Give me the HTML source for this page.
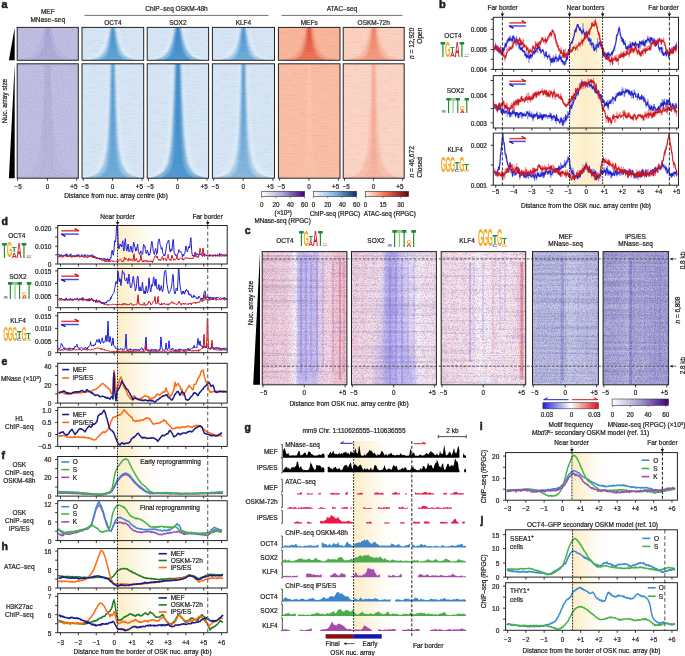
<!DOCTYPE html>
<html><head><meta charset="utf-8"><style>
html,body{margin:0;padding:0;background:#fff;width:685px;height:656px;overflow:hidden}
svg{display:block;font-family:"Liberation Sans",sans-serif;will-change:transform}
text{stroke:#231f20;stroke-width:0.22px;paint-order:stroke}
text.lg{stroke:none}
text.pl{stroke-width:0.55px}
</style></head><body>
<svg width="685" height="656" viewBox="0 0 685 656" font-family='"Liberation Sans", sans-serif' fill="#231f20"><defs><filter id="bl4" x="-20%" y="-5%" width="140%" height="110%"><feGaussianBlur stdDeviation="0.4 0.3"/></filter><filter id="bl6" x="-20%" y="-5%" width="140%" height="110%"><feGaussianBlur stdDeviation="0.6 0.3"/></filter><filter id="bl8" x="-20%" y="-5%" width="140%" height="110%"><feGaussianBlur stdDeviation="0.8 0.3"/></filter><filter id="bl10" x="-20%" y="-5%" width="140%" height="110%"><feGaussianBlur stdDeviation="1.0 0.3"/></filter><filter id="bl12" x="-20%" y="-5%" width="140%" height="110%"><feGaussianBlur stdDeviation="1.2 0.3"/></filter><filter id="bl15" x="-20%" y="-5%" width="140%" height="110%"><feGaussianBlur stdDeviation="1.5 0.3"/></filter><filter id="bl20" x="-20%" y="-5%" width="140%" height="110%"><feGaussianBlur stdDeviation="2.0 0.3"/></filter><filter id="grA" x="0" y="0" width="100%" height="100%" color-interpolation-filters="sRGB"><feTurbulence type="fractalNoise" baseFrequency="0.1 0.9" numOctaves="2" seed="21" result="n"/><feColorMatrix in="n" type="matrix" values="0 0 0 0 0.000 0 0 0 0 0.000 0 0 0 0 0.000 1.2 0 0 0 -0.600" result="a"/><feColorMatrix in="n" type="matrix" values="0 0 0 0 1.000 0 0 0 0 1.000 0 0 0 0 1.000 -1.2 0 0 0 0.600" result="b"/><feMerge><feMergeNode in="a"/><feMergeNode in="b"/></feMerge></filter><filter id="grB" x="0" y="0" width="100%" height="100%" color-interpolation-filters="sRGB"><feTurbulence type="fractalNoise" baseFrequency="0.1 0.9" numOctaves="2" seed="25" result="n"/><feColorMatrix in="n" type="matrix" values="0 0 0 0 0.157 0 0 0 0 0.392 0 0 0 0 0.667 1.3 0 0 0 -0.650" result="a"/><feColorMatrix in="n" type="matrix" values="0 0 0 0 1.000 0 0 0 0 1.000 0 0 0 0 1.000 -1.3 0 0 0 0.650" result="b"/><feMerge><feMergeNode in="a"/><feMergeNode in="b"/></feMerge></filter><filter id="grR" x="0" y="0" width="100%" height="100%" color-interpolation-filters="sRGB"><feTurbulence type="fractalNoise" baseFrequency="0.1 0.9" numOctaves="2" seed="27" result="n"/><feColorMatrix in="n" type="matrix" values="0 0 0 0 0.843 0 0 0 0 0.275 0 0 0 0 0.176 1.4 0 0 0 -0.700" result="a"/><feColorMatrix in="n" type="matrix" values="0 0 0 0 1.000 0 0 0 0 0.941 0 0 0 0 0.902 -1.4 0 0 0 0.700" result="b"/><feMerge><feMergeNode in="a"/><feMergeNode in="b"/></feMerge></filter><filter id="grM" x="0" y="0" width="100%" height="100%" color-interpolation-filters="sRGB"><feTurbulence type="fractalNoise" baseFrequency="0.6 0.9" numOctaves="2" seed="23" result="n"/><feColorMatrix in="n" type="matrix" values="0 0 0 0 0.235 0 0 0 0 0.196 0 0 0 0 0.549 1.4 0 0 0 -0.700" result="a"/><feColorMatrix in="n" type="matrix" values="0 0 0 0 1.000 0 0 0 0 1.000 0 0 0 0 1.000 -1.4 0 0 0 0.700" result="b"/><feMerge><feMergeNode in="a"/><feMergeNode in="b"/></feMerge></filter><clipPath id="hc1"><rect x="17.2" y="27.4" width="61.099999999999994" height="32.9"/></clipPath><linearGradient id="vg1" x1="0" x2="0" y1="0" y2="1"><stop offset="0" stop-color="rgb(180,178,219)"/><stop offset="1" stop-color="rgb(184,182,221)"/></linearGradient><linearGradient id="vg2" x1="0" x2="0" y1="0" y2="1"><stop offset="0" stop-color="rgb(166,163,211)"/><stop offset="1" stop-color="rgb(175,173,216)"/></linearGradient><clipPath id="hc2"><rect x="17.2" y="63.8" width="61.099999999999994" height="114.39999999999999"/></clipPath><linearGradient id="vg3" x1="0" x2="0" y1="0" y2="1"><stop offset="0" stop-color="rgb(186,185,223)"/><stop offset="1" stop-color="rgb(188,187,224)"/></linearGradient><linearGradient id="vg4" x1="0" x2="0" y1="0" y2="1"><stop offset="0" stop-color="rgb(181,179,220)"/><stop offset="1" stop-color="rgb(185,183,222)"/></linearGradient><clipPath id="hc3"><rect x="82.0" y="27.4" width="61.69999999999999" height="32.9"/></clipPath><linearGradient id="vg5" x1="0" x2="0" y1="0" y2="1"><stop offset="0" stop-color="rgb(222,235,248)"/><stop offset="1" stop-color="rgb(222,235,248)"/></linearGradient><linearGradient id="vg6" x1="0" x2="0" y1="0" y2="1"><stop offset="0" stop-color="rgb(125,180,220)"/><stop offset="1" stop-color="rgb(160,200,230)"/></linearGradient><linearGradient id="vg7" x1="0" x2="0" y1="0" y2="1"><stop offset="0" stop-color="rgb(60,140,200)"/><stop offset="1" stop-color="rgb(100,165,212)"/></linearGradient><clipPath id="hc4"><rect x="82.0" y="63.8" width="61.69999999999999" height="114.39999999999999"/></clipPath><linearGradient id="vg8" x1="0" x2="0" y1="0" y2="1"><stop offset="0" stop-color="rgb(222,235,248)"/><stop offset="1" stop-color="rgb(222,235,248)"/></linearGradient><linearGradient id="vg9" x1="0" x2="0" y1="0" y2="1"><stop offset="0" stop-color="rgb(125,180,220)"/><stop offset="1" stop-color="rgb(155,198,230)"/></linearGradient><linearGradient id="vg10" x1="0" x2="0" y1="0" y2="1"><stop offset="0" stop-color="rgb(75,150,205)"/><stop offset="1" stop-color="rgb(112,172,216)"/></linearGradient><clipPath id="hc5"><rect x="147.2" y="27.4" width="61.400000000000006" height="32.9"/></clipPath><linearGradient id="vg11" x1="0" x2="0" y1="0" y2="1"><stop offset="0" stop-color="rgb(222,235,248)"/><stop offset="1" stop-color="rgb(222,235,248)"/></linearGradient><linearGradient id="vg12" x1="0" x2="0" y1="0" y2="1"><stop offset="0" stop-color="rgb(105,168,214)"/><stop offset="1" stop-color="rgb(140,188,225)"/></linearGradient><linearGradient id="vg13" x1="0" x2="0" y1="0" y2="1"><stop offset="0" stop-color="rgb(50,132,197)"/><stop offset="1" stop-color="rgb(80,152,208)"/></linearGradient><clipPath id="hc6"><rect x="147.2" y="63.8" width="61.400000000000006" height="114.39999999999999"/></clipPath><linearGradient id="vg14" x1="0" x2="0" y1="0" y2="1"><stop offset="0" stop-color="rgb(222,235,248)"/><stop offset="1" stop-color="rgb(222,235,248)"/></linearGradient><linearGradient id="vg15" x1="0" x2="0" y1="0" y2="1"><stop offset="0" stop-color="rgb(105,168,214)"/><stop offset="1" stop-color="rgb(125,180,220)"/></linearGradient><linearGradient id="vg16" x1="0" x2="0" y1="0" y2="1"><stop offset="0" stop-color="rgb(55,135,198)"/><stop offset="1" stop-color="rgb(80,152,208)"/></linearGradient><clipPath id="hc7"><rect x="212.4" y="27.4" width="62.099999999999994" height="32.9"/></clipPath><linearGradient id="vg17" x1="0" x2="0" y1="0" y2="1"><stop offset="0" stop-color="rgb(222,235,248)"/><stop offset="1" stop-color="rgb(222,235,248)"/></linearGradient><linearGradient id="vg18" x1="0" x2="0" y1="0" y2="1"><stop offset="0" stop-color="rgb(135,186,223)"/><stop offset="1" stop-color="rgb(170,206,233)"/></linearGradient><linearGradient id="vg19" x1="0" x2="0" y1="0" y2="1"><stop offset="0" stop-color="rgb(65,143,202)"/><stop offset="1" stop-color="rgb(115,174,217)"/></linearGradient><clipPath id="hc8"><rect x="212.4" y="63.8" width="62.099999999999994" height="114.39999999999999"/></clipPath><linearGradient id="vg20" x1="0" x2="0" y1="0" y2="1"><stop offset="0" stop-color="rgb(222,235,248)"/><stop offset="1" stop-color="rgb(222,235,248)"/></linearGradient><linearGradient id="vg21" x1="0" x2="0" y1="0" y2="1"><stop offset="0" stop-color="rgb(140,189,224)"/><stop offset="1" stop-color="rgb(170,206,233)"/></linearGradient><linearGradient id="vg22" x1="0" x2="0" y1="0" y2="1"><stop offset="0" stop-color="rgb(70,146,203)"/><stop offset="1" stop-color="rgb(135,185,222)"/></linearGradient><clipPath id="hc9"><rect x="278.4" y="27.4" width="61.60000000000002" height="32.9"/></clipPath><linearGradient id="vg23" x1="0" x2="0" y1="0" y2="1"><stop offset="0" stop-color="rgb(240,145,120)"/><stop offset="1" stop-color="rgb(243,158,133)"/></linearGradient><linearGradient id="vg24" x1="0" x2="0" y1="0" y2="1"><stop offset="0" stop-color="rgb(226,72,50)"/><stop offset="1" stop-color="rgb(236,118,92)"/></linearGradient><clipPath id="hc10"><rect x="278.4" y="63.8" width="61.60000000000002" height="114.39999999999999"/></clipPath><linearGradient id="vg25" x1="0" x2="0" y1="0" y2="1"><stop offset="0" stop-color="rgb(251,200,180)"/><stop offset="1" stop-color="rgb(249,192,168)"/></linearGradient><clipPath id="hc11"><rect x="343.2" y="27.4" width="61.0" height="32.9"/></clipPath><linearGradient id="vg26" x1="0" x2="0" y1="0" y2="1"><stop offset="0" stop-color="rgb(246,178,155)"/><stop offset="1" stop-color="rgb(247,185,163)"/></linearGradient><linearGradient id="vg27" x1="0" x2="0" y1="0" y2="1"><stop offset="0" stop-color="rgb(238,122,92)"/><stop offset="1" stop-color="rgb(243,160,132)"/></linearGradient><clipPath id="hc12"><rect x="343.2" y="63.8" width="61.0" height="114.39999999999999"/></clipPath><linearGradient id="vg28" x1="0" x2="0" y1="0" y2="1"><stop offset="0" stop-color="rgb(248,198,182)"/><stop offset="1" stop-color="rgb(247,190,172)"/></linearGradient><linearGradient id="vg29" x1="0" x2="0" y1="0" y2="1"><stop offset="0" stop-color="rgb(240,150,125)"/><stop offset="1" stop-color="rgb(245,182,162)"/></linearGradient><linearGradient id="g_pur" x1="0" x2="1" y1="0" y2="0"><stop offset="0" stop-color="#ffffff"/><stop offset="0.5" stop-color="#a9a3d6"/><stop offset="1" stop-color="#3f007d"/></linearGradient><linearGradient id="g_blu" x1="0" x2="1" y1="0" y2="0"><stop offset="0" stop-color="#f7fbff"/><stop offset="0.5" stop-color="#7fb5dc"/><stop offset="1" stop-color="#08306b"/></linearGradient><linearGradient id="g_red" x1="0" x2="1" y1="0" y2="0"><stop offset="0" stop-color="#fff5f0"/><stop offset="0.45" stop-color="#fb7050"/><stop offset="1" stop-color="#67000d"/></linearGradient><linearGradient id="yb55" x1="0" x2="1" y1="0" y2="0"><stop offset="0" stop-color="rgb(253,245,222)"/><stop offset="0.5" stop-color="rgb(252,237,198)"/><stop offset="1" stop-color="rgb(253,245,222)"/></linearGradient><clipPath id="cb1"><rect x="493.3" y="17.3" width="185.2" height="52.1"/></clipPath><clipPath id="cb2"><rect x="493.3" y="75.6" width="185.2" height="52.4"/></clipPath><clipPath id="cb3"><rect x="493.3" y="133.1" width="185.2" height="52.1"/></clipPath><linearGradient id="ybL" x1="0" x2="1" y1="0" y2="0"><stop offset="0" stop-color="rgb(252,237,198)"/><stop offset="0.35" stop-color="rgb(253,245,224)"/><stop offset="1" stop-color="#fff" stop-opacity="0"/></linearGradient><clipPath id="cld1"><rect x="57.7" y="225.5" width="169.5" height="38.5"/></clipPath><clipPath id="cld2"><rect x="57.7" y="268.5" width="169.5" height="39.19999999999999"/></clipPath><clipPath id="cld3"><rect x="57.7" y="312.6" width="169.5" height="40.099999999999966"/></clipPath><clipPath id="cle1"><rect x="57.7" y="363.3" width="169.5" height="39.80000000000001"/></clipPath><clipPath id="cle2"><rect x="57.7" y="407.3" width="169.5" height="39.099999999999966"/></clipPath><clipPath id="clf1"><rect x="57.7" y="456.5" width="169.5" height="39.60000000000002"/></clipPath><clipPath id="clf2"><rect x="57.7" y="500.7" width="169.5" height="39.900000000000034"/></clipPath><clipPath id="clh1"><rect x="57.7" y="548.6" width="169.5" height="39.39999999999998"/></clipPath><clipPath id="clh2"><rect x="57.7" y="593.6" width="169.5" height="39.10000000000002"/></clipPath><filter id="rowS0" x="0" y="0" width="100%" height="100%" color-interpolation-filters="sRGB"><feTurbulence type="fractalNoise" baseFrequency="0.006 0.45" numOctaves="2" seed="31" result="n"/><feColorMatrix in="n" type="matrix" values="0 0 0 0 0.235 0 0 0 0 0.235 0 0 0 0 0.471 2.5 0 0 0 -1.250" result="a"/><feColorMatrix in="n" type="matrix" values="0 0 0 0 1.000 0 0 0 0 1.000 0 0 0 0 1.000 -2.5 0 0 0 1.250" result="b"/><feMerge><feMergeNode in="a"/><feMergeNode in="b"/></feMerge></filter><filter id="rowS1" x="0" y="0" width="100%" height="100%" color-interpolation-filters="sRGB"><feTurbulence type="fractalNoise" baseFrequency="0.006 0.45" numOctaves="2" seed="37" result="n"/><feColorMatrix in="n" type="matrix" values="0 0 0 0 0.235 0 0 0 0 0.235 0 0 0 0 0.471 2.5 0 0 0 -1.250" result="a"/><feColorMatrix in="n" type="matrix" values="0 0 0 0 1.000 0 0 0 0 1.000 0 0 0 0 1.000 -2.5 0 0 0 1.250" result="b"/><feMerge><feMergeNode in="a"/><feMergeNode in="b"/></feMerge></filter><filter id="nrb1" x="0" y="0" width="100%" height="100%" color-interpolation-filters="sRGB"><feTurbulence type="fractalNoise" baseFrequency="0.9 1.6" numOctaves="2" seed="3" result="n"/><feColorMatrix in="n" type="matrix" values="0 0 0 0 0.882 0 0 0 0 0.196 0 0 0 0 0.235 4.0 0 0 0 -2.000" result="a"/><feColorMatrix in="n" type="matrix" values="0 0 0 0 0.235 0 0 0 0 0.235 0 0 0 0 0.902 -4.0 0 0 0 2.000" result="b"/><feMerge><feMergeNode in="a"/><feMergeNode in="b"/></feMerge></filter><filter id="nrb2" x="0" y="0" width="100%" height="100%" color-interpolation-filters="sRGB"><feTurbulence type="fractalNoise" baseFrequency="0.9 1.6" numOctaves="2" seed="11" result="n"/><feColorMatrix in="n" type="matrix" values="0 0 0 0 0.882 0 0 0 0 0.196 0 0 0 0 0.235 4.0 0 0 0 -2.000" result="a"/><feColorMatrix in="n" type="matrix" values="0 0 0 0 0.235 0 0 0 0 0.235 0 0 0 0 0.902 -4.0 0 0 0 2.000" result="b"/><feMerge><feMergeNode in="a"/><feMergeNode in="b"/></feMerge></filter><filter id="nrb3" x="0" y="0" width="100%" height="100%" color-interpolation-filters="sRGB"><feTurbulence type="fractalNoise" baseFrequency="0.9 1.6" numOctaves="2" seed="17" result="n"/><feColorMatrix in="n" type="matrix" values="0 0 0 0 0.882 0 0 0 0 0.196 0 0 0 0 0.235 4.0 0 0 0 -2.000" result="a"/><feColorMatrix in="n" type="matrix" values="0 0 0 0 0.235 0 0 0 0 0.235 0 0 0 0 0.902 -4.0 0 0 0 2.000" result="b"/><feMerge><feMergeNode in="a"/><feMergeNode in="b"/></feMerge></filter><filter id="npu1" x="0" y="0" width="100%" height="100%" color-interpolation-filters="sRGB"><feTurbulence type="fractalNoise" baseFrequency="0.9 1.6" numOctaves="2" seed="5" result="n"/><feColorMatrix in="n" type="matrix" values="0 0 0 0 0.275 0 0 0 0 0.235 0 0 0 0 0.627 3.0 0 0 0 -1.500" result="a"/><feColorMatrix in="n" type="matrix" values="0 0 0 0 1.000 0 0 0 0 1.000 0 0 0 0 1.000 -3.0 0 0 0 1.500" result="b"/><feMerge><feMergeNode in="a"/><feMergeNode in="b"/></feMerge></filter><filter id="npu2" x="0" y="0" width="100%" height="100%" color-interpolation-filters="sRGB"><feTurbulence type="fractalNoise" baseFrequency="0.9 1.6" numOctaves="2" seed="9" result="n"/><feColorMatrix in="n" type="matrix" values="0 0 0 0 0.235 0 0 0 0 0.196 0 0 0 0 0.588 3.0 0 0 0 -1.500" result="a"/><feColorMatrix in="n" type="matrix" values="0 0 0 0 1.000 0 0 0 0 1.000 0 0 0 0 1.000 -3.0 0 0 0 1.500" result="b"/><feMerge><feMergeNode in="a"/><feMergeNode in="b"/></feMerge></filter><filter id="sb1" x="-50%" y="0" width="200%" height="100%"><feGaussianBlur stdDeviation="0.7 0"/></filter><filter id="pb2" x="-30%" y="-10%" width="160%" height="120%"><feGaussianBlur stdDeviation="3 2"/></filter><clipPath id="cc0"><rect x="262.2" y="251.6" width="84.69999999999999" height="133.20000000000002"/></clipPath><linearGradient id="cg0" x1="0" x2="1" y1="0" y2="0"><stop offset="0" stop-color="rgb(232,130,150)" stop-opacity="0.32"/><stop offset="0.3" stop-color="rgb(232,130,150)" stop-opacity="0.22"/><stop offset="0.36" stop-color="#fff" stop-opacity="0.4"/><stop offset="0.4" stop-color="#fff" stop-opacity="0.6"/><stop offset="0.43" stop-color="rgb(120,120,238)" stop-opacity="0.4"/><stop offset="0.62" stop-color="rgb(120,120,238)" stop-opacity="0.35"/><stop offset="0.75" stop-color="rgb(232,130,150)" stop-opacity="0.15"/><stop offset="0.9" stop-color="rgb(232,130,150)" stop-opacity="0.35"/><stop offset="1" stop-color="rgb(232,130,150)" stop-opacity="0.3"/></linearGradient><clipPath id="cc1"><rect x="351.5" y="251.6" width="84.89999999999998" height="133.20000000000002"/></clipPath><linearGradient id="cg1" x1="0" x2="1" y1="0" y2="0"><stop offset="0" stop-color="rgb(232,130,150)" stop-opacity="0.22"/><stop offset="0.3" stop-color="rgb(232,130,150)" stop-opacity="0.12"/><stop offset="0.37" stop-color="#fff" stop-opacity="0.4"/><stop offset="0.42" stop-color="rgb(120,120,238)" stop-opacity="0.14"/><stop offset="0.68" stop-color="rgb(120,120,238)" stop-opacity="0.12"/><stop offset="0.78" stop-color="#fff" stop-opacity="0.25"/><stop offset="1" stop-color="rgb(232,130,150)" stop-opacity="0.05"/></linearGradient><clipPath id="cc2"><rect x="441.2" y="251.6" width="84.50000000000006" height="133.20000000000002"/></clipPath><linearGradient id="cg2" x1="0" x2="1" y1="0" y2="0"><stop offset="0" stop-color="rgb(232,130,150)" stop-opacity="0.15"/><stop offset="0.3" stop-color="rgb(232,130,150)" stop-opacity="0.08"/><stop offset="0.4" stop-color="#fff" stop-opacity="0.3"/><stop offset="0.55" stop-color="#fff" stop-opacity="0.3"/><stop offset="0.7" stop-color="rgb(232,130,150)" stop-opacity="0.05"/><stop offset="1" stop-color="rgb(232,130,150)" stop-opacity="0.12"/></linearGradient><clipPath id="cc3"><rect x="532.5" y="251.6" width="65.89999999999998" height="133.20000000000002"/></clipPath><linearGradient id="cg3" x1="0" x2="1" y1="0" y2="0"><stop offset="0" stop-color="#fff" stop-opacity="0"/><stop offset="0.45" stop-color="#fff" stop-opacity="0.0"/><stop offset="0.55" stop-color="#fff" stop-opacity="0.2"/><stop offset="0.8" stop-color="#fff" stop-opacity="0.08"/><stop offset="1" stop-color="#fff" stop-opacity="0"/></linearGradient><clipPath id="cc4"><rect x="603.1" y="251.6" width="65.5" height="133.20000000000002"/></clipPath><linearGradient id="cg4" x1="0" x2="1" y1="0" y2="0"><stop offset="0" stop-color="#fff" stop-opacity="0"/><stop offset="0.3" stop-color="#fff" stop-opacity="0.1"/><stop offset="0.38" stop-color="#fff" stop-opacity="0.25"/><stop offset="0.43" stop-color="#fff" stop-opacity="0.05"/><stop offset="0.6" stop-color="#fff" stop-opacity="0.12"/><stop offset="0.75" stop-color="#fff" stop-opacity="0.05"/><stop offset="1" stop-color="#fff" stop-opacity="0"/></linearGradient><linearGradient id="g_div" x1="0" x2="1" y1="0" y2="0"><stop offset="0" stop-color="#1e1ee6"/><stop offset="0.5" stop-color="#ffffff"/><stop offset="1" stop-color="#e60f1e"/></linearGradient><linearGradient id="g_pur2" x1="0" x2="1" y1="0" y2="0"><stop offset="0" stop-color="#ffffff"/><stop offset="0.5" stop-color="#9e9ad0"/><stop offset="1" stop-color="#3f007d"/></linearGradient><linearGradient id="ybG" x1="0" x2="1" y1="0" y2="0"><stop offset="0" stop-color="rgb(252,237,198)"/><stop offset="0.35" stop-color="rgb(253,245,224)"/><stop offset="1" stop-color="#fff" stop-opacity="0"/></linearGradient><linearGradient id="ybI" x1="0" x2="1" y1="0" y2="0"><stop offset="0" stop-color="rgb(252,237,198)"/><stop offset="0.35" stop-color="rgb(253,245,224)"/><stop offset="1" stop-color="#fff" stop-opacity="0"/></linearGradient><linearGradient id="ybJ" x1="0" x2="1" y1="0" y2="0"><stop offset="0" stop-color="rgb(252,237,198)"/><stop offset="0.35" stop-color="rgb(253,245,224)"/><stop offset="1" stop-color="#fff" stop-opacity="0"/></linearGradient><clipPath id="cli"><rect x="505.6" y="452.6" width="171.79999999999995" height="47.599999999999966"/></clipPath><clipPath id="clj1"><rect x="505.6" y="529.8" width="171.79999999999995" height="47.30000000000007"/></clipPath><clipPath id="clj2"><rect x="505.6" y="582.7" width="171.79999999999995" height="47.59999999999991"/></clipPath></defs><text x="1.50" y="8.20" font-size="10.8" font-weight="bold" class="pl">a</text>
<text x="47.75" y="14.20" font-size="6.5" text-anchor="middle">MEF</text>
<text x="47.75" y="21.60" font-size="6.5" text-anchor="middle">MNase–seq</text>
<text x="176.50" y="11.20" font-size="6.5" text-anchor="middle">ChIP–seq OSKM-48h</text>
<line x1="84.50" y1="15.40" x2="268.50" y2="15.40" stroke="#333" stroke-width="0.7"/>
<text x="342.00" y="11.20" font-size="6.5" text-anchor="middle">ATAC–seq</text>
<line x1="281.50" y1="15.40" x2="402.50" y2="15.40" stroke="#333" stroke-width="0.7"/>
<text x="112.85" y="25.20" font-size="6.5" text-anchor="middle">OCT4</text>
<text x="177.90" y="25.20" font-size="6.5" text-anchor="middle">SOX2</text>
<text x="243.45" y="25.20" font-size="6.5" text-anchor="middle">KLF4</text>
<text x="309.20" y="25.20" font-size="6.5" text-anchor="middle">MEFs</text>
<text x="373.70" y="25.20" font-size="6.5" text-anchor="middle">OSKM-72h</text>
<g clip-path="url(#hc1)">
<rect x="17.20" y="27.40" width="61.10" height="32.90" fill="rgb(191,190,225)"/>
<g filter="url(#bl7)">
<path d="M44.05,27.40 L43.87,28.24 L43.68,29.09 L43.50,29.93 L43.31,30.77 L43.13,31.62 L42.94,32.46 L42.76,33.31 L42.57,34.15 L42.39,34.99 L42.19,35.84 L41.94,36.68 L41.70,37.52 L41.45,38.37 L41.20,39.21 L40.96,40.05 L40.71,40.90 L40.47,41.74 L40.22,42.58 L39.97,43.43 L39.64,44.27 L39.22,45.12 L38.79,45.96 L38.37,46.80 L37.95,47.65 L37.52,48.49 L37.10,49.33 L36.68,50.18 L35.98,51.02 L35.16,51.86 L34.33,52.71 L33.51,53.55 L32.69,54.39 L31.87,55.24 L30.12,56.08 L28.19,56.93 L26.27,57.77 L22.94,58.61 L19.10,59.46 L15.25,60.30 L80.25,60.30 L76.40,59.46 L72.56,58.61 L69.23,57.77 L67.31,56.93 L65.38,56.08 L63.63,55.24 L62.81,54.39 L61.99,53.55 L61.17,52.71 L60.34,51.86 L59.52,51.02 L58.82,50.18 L58.40,49.33 L57.98,48.49 L57.55,47.65 L57.13,46.80 L56.71,45.96 L56.28,45.12 L55.86,44.27 L55.53,43.43 L55.28,42.58 L55.03,41.74 L54.79,40.90 L54.54,40.05 L54.30,39.21 L54.05,38.37 L53.80,37.52 L53.56,36.68 L53.31,35.84 L53.11,34.99 L52.93,34.15 L52.74,33.31 L52.56,32.46 L52.37,31.62 L52.19,30.77 L52.00,29.93 L51.82,29.09 L51.63,28.24 L51.45,27.40 Z" fill="url(#vg1)"/>
<path d="M46.13,27.40 L46.02,28.24 L45.91,29.09 L45.80,29.93 L45.69,30.77 L45.58,31.62 L45.47,32.46 L45.35,33.31 L45.24,34.15 L45.13,34.99 L45.01,35.84 L44.87,36.68 L44.72,37.52 L44.57,38.37 L44.42,39.21 L44.27,40.05 L44.13,40.90 L43.98,41.74 L43.83,42.58 L43.68,43.43 L43.48,44.27 L43.23,45.12 L42.98,45.96 L42.72,46.80 L42.47,47.65 L42.21,48.49 L41.96,49.33 L41.71,50.18 L41.29,51.02 L40.79,51.86 L40.30,52.71 L39.81,53.55 L39.32,54.39 L38.82,55.24 L37.77,56.08 L36.62,56.93 L35.46,57.77 L33.47,58.61 L31.16,59.46 L28.85,60.30 L66.65,60.30 L64.34,59.46 L62.03,58.61 L60.04,57.77 L58.88,56.93 L57.73,56.08 L56.68,55.24 L56.18,54.39 L55.69,53.55 L55.20,52.71 L54.71,51.86 L54.21,51.02 L53.79,50.18 L53.54,49.33 L53.29,48.49 L53.03,47.65 L52.78,46.80 L52.52,45.96 L52.27,45.12 L52.02,44.27 L51.82,43.43 L51.67,42.58 L51.52,41.74 L51.37,40.90 L51.23,40.05 L51.08,39.21 L50.93,38.37 L50.78,37.52 L50.63,36.68 L50.49,35.84 L50.37,34.99 L50.26,34.15 L50.15,33.31 L50.03,32.46 L49.92,31.62 L49.81,30.77 L49.70,29.93 L49.59,29.09 L49.48,28.24 L49.37,27.40 Z" fill="url(#vg2)"/>
</g>
<rect x="17.20" y="27.40" width="61.10" height="32.90" fill="#fff" filter="url(#grM)" opacity="0.22"/>
</g>
<rect x="17.20" y="27.40" width="61.10" height="32.90" fill="none" stroke="#222" stroke-width="1.0"/>
<g clip-path="url(#hc2)">
<rect x="17.20" y="63.80" width="61.10" height="114.40" fill="rgb(191,190,225)"/>
<g filter="url(#bl8)">
<path d="M43.67,63.80 L43.58,66.73 L43.49,69.67 L43.40,72.60 L43.31,75.53 L43.23,78.47 L43.14,81.40 L43.05,84.33 L42.96,87.27 L42.87,90.20 L42.78,93.13 L42.69,96.07 L42.59,99.00 L42.44,101.93 L42.30,104.87 L42.15,107.80 L42.01,110.73 L41.86,113.67 L41.72,116.60 L41.58,119.53 L41.43,122.47 L41.29,125.40 L41.14,128.33 L41.00,131.27 L40.77,134.20 L40.48,137.13 L40.19,140.07 L39.90,143.00 L39.61,145.93 L39.32,148.87 L38.71,151.80 L37.99,154.73 L37.28,157.67 L36.56,160.60 L35.84,163.53 L34.25,166.47 L32.25,169.40 L30.25,172.33 L24.87,175.27 L13.25,178.20 L82.25,178.20 L70.63,175.27 L65.25,172.33 L63.25,169.40 L61.25,166.47 L59.66,163.53 L58.94,160.60 L58.22,157.67 L57.51,154.73 L56.79,151.80 L56.18,148.87 L55.89,145.93 L55.60,143.00 L55.31,140.07 L55.02,137.13 L54.73,134.20 L54.50,131.27 L54.36,128.33 L54.21,125.40 L54.07,122.47 L53.92,119.53 L53.78,116.60 L53.64,113.67 L53.49,110.73 L53.35,107.80 L53.20,104.87 L53.06,101.93 L52.91,99.00 L52.81,96.07 L52.72,93.13 L52.63,90.20 L52.54,87.27 L52.45,84.33 L52.36,81.40 L52.27,78.47 L52.19,75.53 L52.10,72.60 L52.01,69.67 L51.92,66.73 L51.83,63.80 Z" fill="url(#vg3)"/>
<path d="M46.79,63.80 L46.75,66.73 L46.71,69.67 L46.67,72.60 L46.63,75.53 L46.58,78.47 L46.54,81.40 L46.50,84.33 L46.46,87.27 L46.42,90.20 L46.38,93.13 L46.34,96.07 L46.29,99.00 L46.22,101.93 L46.16,104.87 L46.09,107.80 L46.02,110.73 L45.96,113.67 L45.89,116.60 L45.82,119.53 L45.76,122.47 L45.69,125.40 L45.62,128.33 L45.56,131.27 L45.45,134.20 L45.32,137.13 L45.18,140.07 L45.05,143.00 L44.92,145.93 L44.78,148.87 L44.50,151.80 L44.17,154.73 L43.84,157.67 L43.51,160.60 L43.18,163.53 L42.44,166.47 L41.52,169.40 L40.60,172.33 L38.11,175.27 L32.75,178.20 L62.75,178.20 L57.39,175.27 L54.90,172.33 L53.98,169.40 L53.06,166.47 L52.32,163.53 L51.99,160.60 L51.66,157.67 L51.33,154.73 L51.00,151.80 L50.72,148.87 L50.58,145.93 L50.45,143.00 L50.32,140.07 L50.18,137.13 L50.05,134.20 L49.94,131.27 L49.88,128.33 L49.81,125.40 L49.74,122.47 L49.68,119.53 L49.61,116.60 L49.54,113.67 L49.48,110.73 L49.41,107.80 L49.34,104.87 L49.28,101.93 L49.21,99.00 L49.16,96.07 L49.12,93.13 L49.08,90.20 L49.04,87.27 L49.00,84.33 L48.96,81.40 L48.92,78.47 L48.87,75.53 L48.83,72.60 L48.79,69.67 L48.75,66.73 L48.71,63.80 Z" fill="url(#vg4)"/>
</g>
<rect x="17.20" y="63.80" width="61.10" height="114.40" fill="#fff" filter="url(#grM)" opacity="0.22"/>
</g>
<rect x="17.20" y="63.80" width="61.10" height="114.40" fill="none" stroke="#222" stroke-width="1.0"/>
<path d="M46.9,63.8 L46.8,67.7 L46.8,71.7 L46.7,75.6 L46.7,79.6 L46.6,83.5 L46.6,87.5 L46.5,91.4 L46.5,95.4 L46.4,99.3 L46.3,103.2 L46.2,107.2 L46.2,111.1 L46.1,115.1 L46.0,119.0 L45.9,123.0 L45.8,126.9 L45.7,130.9 L45.6,134.8 L45.5,138.8 L45.3,142.7 L45.1,146.6 L44.9,150.6 L44.5,154.5 L44.1,158.5 L43.7,162.4 L42.9,166.4 L41.8,170.3 L39.7,174.3 L34.0,178.2" fill="none" stroke="rgb(160,157,207)" stroke-width="0.6" stroke-opacity="0.5" clip-path="url(#hc2)"/>
<path d="M46.2,63.8 L46.1,67.7 L46.1,71.7 L46.0,75.6 L45.9,79.6 L45.8,83.5 L45.7,87.5 L45.6,91.4 L45.5,95.4 L45.4,99.3 L45.3,103.2 L45.1,107.2 L45.0,111.1 L44.9,115.1 L44.7,119.0 L44.6,123.0 L44.4,126.9 L44.3,130.9 L44.1,134.8 L43.8,138.8 L43.5,142.7 L43.2,146.6 L42.8,150.6 L42.1,154.5 L41.4,158.5 L40.7,162.4 L39.4,166.4 L37.4,170.3 L33.9,174.3 L24.0,178.2" fill="none" stroke="rgb(160,157,207)" stroke-width="0.6" stroke-opacity="0.35" clip-path="url(#hc2)"/>
<path d="M45.6,63.8 L45.5,67.7 L45.3,71.7 L45.2,75.6 L45.1,79.6 L45.0,83.5 L44.8,87.5 L44.7,91.4 L44.6,95.4 L44.4,99.3 L44.2,103.2 L44.0,107.2 L43.8,111.1 L43.6,115.1 L43.4,119.0 L43.2,123.0 L43.0,126.9 L42.8,130.9 L42.5,134.8 L42.1,138.8 L41.7,142.7 L41.3,146.6 L40.7,150.6 L39.7,154.5 L38.7,158.5 L37.7,162.4 L35.9,166.4 L33.1,170.3 L28.1,174.3 L14.0,178.2" fill="none" stroke="rgb(160,157,207)" stroke-width="0.6" stroke-opacity="0.25" clip-path="url(#hc2)"/>
<path d="M48.6,63.8 L48.7,67.7 L48.7,71.7 L48.8,75.6 L48.8,79.6 L48.9,83.5 L48.9,87.5 L49.0,91.4 L49.0,95.4 L49.1,99.3 L49.2,103.2 L49.3,107.2 L49.3,111.1 L49.4,115.1 L49.5,119.0 L49.6,123.0 L49.7,126.9 L49.8,130.9 L49.9,134.8 L50.0,138.8 L50.2,142.7 L50.4,146.6 L50.6,150.6 L51.0,154.5 L51.4,158.5 L51.8,162.4 L52.6,166.4 L53.7,170.3 L55.8,174.3 L61.5,178.2" fill="none" stroke="rgb(160,157,207)" stroke-width="0.6" stroke-opacity="0.5" clip-path="url(#hc2)"/>
<path d="M49.3,63.8 L49.4,67.7 L49.4,71.7 L49.5,75.6 L49.6,79.6 L49.7,83.5 L49.8,87.5 L49.9,91.4 L50.0,95.4 L50.1,99.3 L50.2,103.2 L50.4,107.2 L50.5,111.1 L50.6,115.1 L50.8,119.0 L50.9,123.0 L51.1,126.9 L51.2,130.9 L51.4,134.8 L51.7,138.8 L52.0,142.7 L52.3,146.6 L52.7,150.6 L53.4,154.5 L54.1,158.5 L54.8,162.4 L56.1,166.4 L58.1,170.3 L61.6,174.3 L71.5,178.2" fill="none" stroke="rgb(160,157,207)" stroke-width="0.6" stroke-opacity="0.35" clip-path="url(#hc2)"/>
<path d="M49.9,63.8 L50.0,67.7 L50.2,71.7 L50.3,75.6 L50.4,79.6 L50.5,83.5 L50.7,87.5 L50.8,91.4 L50.9,95.4 L51.1,99.3 L51.3,103.2 L51.5,107.2 L51.7,111.1 L51.9,115.1 L52.1,119.0 L52.3,123.0 L52.5,126.9 L52.7,130.9 L53.0,134.8 L53.4,138.8 L53.8,142.7 L54.2,146.6 L54.8,150.6 L55.8,154.5 L56.8,158.5 L57.8,162.4 L59.6,166.4 L62.4,170.3 L67.4,174.3 L81.5,178.2" fill="none" stroke="rgb(160,157,207)" stroke-width="0.6" stroke-opacity="0.25" clip-path="url(#hc2)"/>
<g clip-path="url(#hc3)">
<rect x="82.00" y="27.40" width="61.70" height="32.90" fill="rgb(214,229,244)"/>
<g filter="url(#bl8)">
<path d="M107.56,27.40 L107.37,28.24 L107.18,29.09 L106.99,29.93 L106.80,30.77 L106.61,31.62 L106.42,32.46 L106.22,33.31 L106.03,34.15 L105.84,34.99 L105.64,35.84 L105.38,36.68 L105.13,37.52 L104.87,38.37 L104.62,39.21 L104.36,40.05 L104.11,40.90 L103.86,41.74 L103.60,42.58 L103.35,43.43 L103.00,44.27 L102.56,45.12 L102.13,45.96 L101.69,46.80 L101.25,47.65 L100.82,48.49 L100.38,49.33 L99.94,50.18 L99.22,51.02 L98.37,51.86 L97.52,52.71 L96.67,53.55 L95.83,54.39 L94.98,55.24 L93.16,56.08 L91.17,56.93 L89.19,57.77 L85.75,58.61 L81.77,59.46 L77.80,60.30 L147.90,60.30 L143.93,59.46 L139.95,58.61 L136.51,57.77 L134.53,56.93 L132.54,56.08 L130.72,55.24 L129.87,54.39 L129.03,53.55 L128.18,52.71 L127.33,51.86 L126.48,51.02 L125.76,50.18 L125.32,49.33 L124.88,48.49 L124.45,47.65 L124.01,46.80 L123.57,45.96 L123.14,45.12 L122.70,44.27 L122.35,43.43 L122.10,42.58 L121.84,41.74 L121.59,40.90 L121.34,40.05 L121.08,39.21 L120.83,38.37 L120.57,37.52 L120.32,36.68 L120.06,35.84 L119.86,34.99 L119.67,34.15 L119.48,33.31 L119.28,32.46 L119.09,31.62 L118.90,30.77 L118.71,29.93 L118.52,29.09 L118.33,28.24 L118.14,27.40 Z" fill="url(#vg5)"/>
<path d="M110.43,27.40 L110.30,28.24 L110.16,29.09 L110.02,29.93 L109.88,30.77 L109.74,31.62 L109.61,32.46 L109.47,33.31 L109.33,34.15 L109.19,34.99 L109.04,35.84 L108.86,36.68 L108.68,37.52 L108.49,38.37 L108.31,39.21 L108.13,40.05 L107.94,40.90 L107.76,41.74 L107.57,42.58 L107.39,43.43 L107.14,44.27 L106.82,45.12 L106.51,45.96 L106.19,46.80 L105.88,47.65 L105.56,48.49 L105.24,49.33 L104.93,50.18 L104.41,51.02 L103.79,51.86 L103.18,52.71 L102.57,53.55 L101.95,54.39 L101.34,55.24 L100.03,56.08 L98.59,56.93 L97.16,57.77 L94.67,58.61 L91.80,59.46 L88.93,60.30 L136.77,60.30 L133.90,59.46 L131.03,58.61 L128.54,57.77 L127.11,56.93 L125.67,56.08 L124.36,55.24 L123.75,54.39 L123.13,53.55 L122.52,52.71 L121.91,51.86 L121.29,51.02 L120.77,50.18 L120.46,49.33 L120.14,48.49 L119.82,47.65 L119.51,46.80 L119.19,45.96 L118.88,45.12 L118.56,44.27 L118.31,43.43 L118.13,42.58 L117.94,41.74 L117.76,40.90 L117.57,40.05 L117.39,39.21 L117.21,38.37 L117.02,37.52 L116.84,36.68 L116.66,35.84 L116.51,34.99 L116.37,34.15 L116.23,33.31 L116.09,32.46 L115.96,31.62 L115.82,30.77 L115.68,29.93 L115.54,29.09 L115.40,28.24 L115.27,27.40 Z" fill="url(#vg6)"/>
<path d="M111.59,27.40 L111.50,28.24 L111.42,29.09 L111.33,29.93 L111.25,30.77 L111.16,31.62 L111.07,32.46 L110.99,33.31 L110.90,34.15 L110.81,34.99 L110.72,35.84 L110.61,36.68 L110.49,37.52 L110.38,38.37 L110.26,39.21 L110.15,40.05 L110.03,40.90 L109.92,41.74 L109.80,42.58 L109.69,43.43 L109.53,44.27 L109.33,45.12 L109.14,45.96 L108.94,46.80 L108.74,47.65 L108.54,48.49 L108.35,49.33 L108.15,50.18 L107.82,51.02 L107.44,51.86 L107.06,52.71 L106.67,53.55 L106.29,54.39 L105.91,55.24 L105.09,56.08 L104.19,56.93 L103.29,57.77 L101.74,58.61 L99.94,59.46 L98.15,60.30 L127.55,60.30 L125.76,59.46 L123.96,58.61 L122.41,57.77 L121.51,56.93 L120.61,56.08 L119.79,55.24 L119.41,54.39 L119.03,53.55 L118.64,52.71 L118.26,51.86 L117.88,51.02 L117.55,50.18 L117.35,49.33 L117.16,48.49 L116.96,47.65 L116.76,46.80 L116.56,45.96 L116.37,45.12 L116.17,44.27 L116.01,43.43 L115.90,42.58 L115.78,41.74 L115.67,40.90 L115.55,40.05 L115.44,39.21 L115.32,38.37 L115.21,37.52 L115.09,36.68 L114.98,35.84 L114.89,34.99 L114.80,34.15 L114.71,33.31 L114.63,32.46 L114.54,31.62 L114.45,30.77 L114.37,29.93 L114.28,29.09 L114.20,28.24 L114.11,27.40 Z" fill="url(#vg7)"/>
</g>
<rect x="82.00" y="27.40" width="61.70" height="32.90" fill="#fff" filter="url(#grB)" opacity="0.14"/>
</g>
<rect x="82.00" y="27.40" width="61.70" height="32.90" fill="none" stroke="#222" stroke-width="1.0"/>
<g clip-path="url(#hc4)">
<rect x="82.00" y="63.80" width="61.70" height="114.40" fill="rgb(214,229,244)"/>
<g filter="url(#bl8)">
<path d="M107.87,63.80 L107.76,66.73 L107.66,69.67 L107.55,72.60 L107.45,75.53 L107.34,78.47 L107.23,81.40 L107.13,84.33 L107.02,87.27 L106.92,90.20 L106.81,93.13 L106.70,96.07 L106.58,99.00 L106.41,101.93 L106.23,104.87 L106.06,107.80 L105.89,110.73 L105.72,113.67 L105.54,116.60 L105.37,119.53 L105.20,122.47 L105.03,125.40 L104.86,128.33 L104.68,131.27 L104.41,134.20 L104.06,137.13 L103.72,140.07 L103.38,143.00 L103.03,145.93 L102.69,148.87 L101.96,151.80 L101.10,154.73 L100.25,157.67 L99.39,160.60 L98.53,163.53 L96.64,166.47 L94.25,169.40 L91.87,172.33 L85.46,175.27 L77.00,178.20 L148.70,178.20 L140.24,175.27 L133.83,172.33 L131.45,169.40 L129.06,166.47 L127.17,163.53 L126.31,160.60 L125.45,157.67 L124.60,154.73 L123.74,151.80 L123.01,148.87 L122.67,145.93 L122.32,143.00 L121.98,140.07 L121.64,137.13 L121.29,134.20 L121.02,131.27 L120.84,128.33 L120.67,125.40 L120.50,122.47 L120.33,119.53 L120.16,116.60 L119.98,113.67 L119.81,110.73 L119.64,107.80 L119.47,104.87 L119.29,101.93 L119.12,99.00 L119.00,96.07 L118.89,93.13 L118.78,90.20 L118.68,87.27 L118.57,84.33 L118.47,81.40 L118.36,78.47 L118.25,75.53 L118.15,72.60 L118.04,69.67 L117.94,66.73 L117.83,63.80 Z" fill="url(#vg8)"/>
<path d="M110.66,63.80 L110.58,66.73 L110.50,69.67 L110.43,72.60 L110.35,75.53 L110.28,78.47 L110.20,81.40 L110.12,84.33 L110.05,87.27 L109.97,90.20 L109.89,93.13 L109.82,96.07 L109.72,99.00 L109.60,101.93 L109.48,104.87 L109.35,107.80 L109.23,110.73 L109.10,113.67 L108.98,116.60 L108.85,119.53 L108.73,122.47 L108.60,125.40 L108.48,128.33 L108.36,131.27 L108.16,134.20 L107.91,137.13 L107.66,140.07 L107.41,143.00 L107.16,145.93 L106.91,148.87 L106.39,151.80 L105.77,154.73 L105.15,157.67 L104.53,160.60 L103.91,163.53 L102.54,166.47 L100.82,169.40 L99.10,172.33 L94.46,175.27 L84.45,178.20 L141.25,178.20 L131.24,175.27 L126.60,172.33 L124.88,169.40 L123.16,166.47 L121.79,163.53 L121.17,160.60 L120.55,157.67 L119.93,154.73 L119.31,151.80 L118.79,148.87 L118.54,145.93 L118.29,143.00 L118.04,140.07 L117.79,137.13 L117.54,134.20 L117.34,131.27 L117.22,128.33 L117.10,125.40 L116.97,122.47 L116.85,119.53 L116.72,116.60 L116.60,113.67 L116.47,110.73 L116.35,107.80 L116.22,104.87 L116.10,101.93 L115.98,99.00 L115.88,96.07 L115.81,93.13 L115.73,90.20 L115.65,87.27 L115.58,84.33 L115.50,81.40 L115.42,78.47 L115.35,75.53 L115.27,72.60 L115.20,69.67 L115.12,66.73 L115.04,63.80 Z" fill="url(#vg9)"/>
<path d="M111.73,63.80 L111.68,66.73 L111.63,69.67 L111.59,72.60 L111.54,75.53 L111.49,78.47 L111.44,81.40 L111.39,84.33 L111.35,87.27 L111.30,90.20 L111.25,93.13 L111.20,96.07 L111.15,99.00 L111.07,101.93 L110.99,104.87 L110.91,107.80 L110.84,110.73 L110.76,113.67 L110.68,116.60 L110.60,119.53 L110.52,122.47 L110.45,125.40 L110.37,128.33 L110.29,131.27 L110.17,134.20 L110.01,137.13 L109.86,140.07 L109.70,143.00 L109.54,145.93 L109.39,148.87 L109.06,151.80 L108.67,154.73 L108.29,157.67 L107.90,160.60 L107.51,163.53 L106.66,166.47 L105.58,169.40 L104.50,172.33 L101.61,175.27 L95.35,178.20 L130.35,178.20 L124.09,175.27 L121.20,172.33 L120.12,169.40 L119.04,166.47 L118.19,163.53 L117.80,160.60 L117.41,157.67 L117.03,154.73 L116.64,151.80 L116.31,148.87 L116.16,145.93 L116.00,143.00 L115.84,140.07 L115.69,137.13 L115.53,134.20 L115.41,131.27 L115.33,128.33 L115.25,125.40 L115.18,122.47 L115.10,119.53 L115.02,116.60 L114.94,113.67 L114.86,110.73 L114.79,107.80 L114.71,104.87 L114.63,101.93 L114.55,99.00 L114.50,96.07 L114.45,93.13 L114.40,90.20 L114.35,87.27 L114.31,84.33 L114.26,81.40 L114.21,78.47 L114.16,75.53 L114.11,72.60 L114.07,69.67 L114.02,66.73 L113.97,63.80 Z" fill="url(#vg10)"/>
</g>
<rect x="82.00" y="63.80" width="61.70" height="114.40" fill="#fff" filter="url(#grB)" opacity="0.14"/>
</g>
<rect x="82.00" y="63.80" width="61.70" height="114.40" fill="none" stroke="#222" stroke-width="1.0"/>
<g clip-path="url(#hc5)">
<rect x="147.20" y="27.40" width="61.40" height="32.90" fill="rgb(214,229,244)"/>
<g filter="url(#bl8)">
<path d="M171.99,27.40 L171.77,28.24 L171.54,29.09 L171.32,29.93 L171.10,30.77 L170.88,31.62 L170.65,32.46 L170.43,33.31 L170.21,34.15 L169.99,34.99 L169.75,35.84 L169.46,36.68 L169.18,37.52 L168.89,38.37 L168.60,39.21 L168.32,40.05 L168.03,40.90 L167.75,41.74 L167.46,42.58 L167.17,43.43 L166.79,44.27 L166.31,45.12 L165.84,45.96 L165.36,46.80 L164.88,47.65 L164.41,48.49 L163.93,49.33 L163.45,50.18 L162.68,51.02 L161.78,51.86 L160.88,52.71 L159.98,53.55 L159.08,54.39 L158.18,55.24 L156.44,56.08 L154.55,56.93 L152.66,57.77 L149.25,58.61 L145.27,59.46 L142.20,60.30 L213.60,60.30 L210.53,59.46 L206.55,58.61 L203.14,57.77 L201.25,56.93 L199.36,56.08 L197.62,55.24 L196.72,54.39 L195.82,53.55 L194.92,52.71 L194.02,51.86 L193.12,51.02 L192.35,50.18 L191.87,49.33 L191.39,48.49 L190.92,47.65 L190.44,46.80 L189.96,45.96 L189.49,45.12 L189.01,44.27 L188.63,43.43 L188.34,42.58 L188.05,41.74 L187.77,40.90 L187.48,40.05 L187.20,39.21 L186.91,38.37 L186.62,37.52 L186.34,36.68 L186.05,35.84 L185.81,34.99 L185.59,34.15 L185.37,33.31 L185.15,32.46 L184.92,31.62 L184.70,30.77 L184.48,29.93 L184.26,29.09 L184.03,28.24 L183.81,27.40 Z" fill="url(#vg11)"/>
<path d="M175.04,27.40 L174.88,28.24 L174.71,29.09 L174.55,29.93 L174.39,30.77 L174.23,31.62 L174.07,32.46 L173.91,33.31 L173.75,34.15 L173.59,34.99 L173.42,35.84 L173.21,36.68 L173.00,37.52 L172.80,38.37 L172.59,39.21 L172.38,40.05 L172.18,40.90 L171.97,41.74 L171.76,42.58 L171.56,43.43 L171.28,44.27 L170.94,45.12 L170.59,45.96 L170.25,46.80 L169.90,47.65 L169.56,48.49 L169.21,49.33 L168.87,50.18 L168.31,51.02 L167.66,51.86 L167.01,52.71 L166.36,53.55 L165.70,54.39 L165.05,55.24 L163.80,56.08 L162.43,56.93 L161.07,57.77 L158.60,58.61 L155.73,59.46 L152.86,60.30 L202.94,60.30 L200.07,59.46 L197.20,58.61 L194.73,57.77 L193.37,56.93 L192.00,56.08 L190.75,55.24 L190.10,54.39 L189.44,53.55 L188.79,52.71 L188.14,51.86 L187.49,51.02 L186.93,50.18 L186.59,49.33 L186.24,48.49 L185.90,47.65 L185.55,46.80 L185.21,45.96 L184.86,45.12 L184.52,44.27 L184.24,43.43 L184.04,42.58 L183.83,41.74 L183.62,40.90 L183.42,40.05 L183.21,39.21 L183.00,38.37 L182.80,37.52 L182.59,36.68 L182.38,35.84 L182.21,34.99 L182.05,34.15 L181.89,33.31 L181.73,32.46 L181.57,31.62 L181.41,30.77 L181.25,29.93 L181.09,29.09 L180.92,28.24 L180.76,27.40 Z" fill="url(#vg12)"/>
<path d="M176.36,27.40 L176.26,28.24 L176.16,29.09 L176.06,29.93 L175.96,30.77 L175.86,31.62 L175.76,32.46 L175.66,33.31 L175.56,34.15 L175.46,34.99 L175.35,35.84 L175.22,36.68 L175.09,37.52 L174.96,38.37 L174.83,39.21 L174.70,40.05 L174.57,40.90 L174.44,41.74 L174.31,42.58 L174.18,43.43 L174.01,44.27 L173.80,45.12 L173.58,45.96 L173.37,46.80 L173.15,47.65 L172.94,48.49 L172.72,49.33 L172.50,50.18 L172.16,51.02 L171.75,51.86 L171.34,52.71 L170.93,53.55 L170.53,54.39 L170.12,55.24 L169.34,56.08 L168.48,56.93 L167.63,57.77 L166.09,58.61 L164.29,59.46 L162.50,60.30 L193.30,60.30 L191.51,59.46 L189.71,58.61 L188.17,57.77 L187.32,56.93 L186.46,56.08 L185.68,55.24 L185.27,54.39 L184.87,53.55 L184.46,52.71 L184.05,51.86 L183.64,51.02 L183.30,50.18 L183.08,49.33 L182.86,48.49 L182.65,47.65 L182.43,46.80 L182.22,45.96 L182.00,45.12 L181.79,44.27 L181.62,43.43 L181.49,42.58 L181.36,41.74 L181.23,40.90 L181.10,40.05 L180.97,39.21 L180.84,38.37 L180.71,37.52 L180.58,36.68 L180.45,35.84 L180.34,34.99 L180.24,34.15 L180.14,33.31 L180.04,32.46 L179.94,31.62 L179.84,30.77 L179.74,29.93 L179.64,29.09 L179.54,28.24 L179.44,27.40 Z" fill="url(#vg13)"/>
</g>
<rect x="147.20" y="27.40" width="61.40" height="32.90" fill="#fff" filter="url(#grB)" opacity="0.14"/>
</g>
<rect x="147.20" y="27.40" width="61.40" height="32.90" fill="none" stroke="#222" stroke-width="1.0"/>
<g clip-path="url(#hc6)">
<rect x="147.20" y="63.80" width="61.40" height="114.40" fill="rgb(214,229,244)"/>
<g filter="url(#bl8)">
<path d="M171.68,63.80 L171.55,66.73 L171.42,69.67 L171.28,72.60 L171.15,75.53 L171.02,78.47 L170.89,81.40 L170.75,84.33 L170.62,87.27 L170.49,90.20 L170.36,93.13 L170.22,96.07 L170.07,99.00 L169.87,101.93 L169.67,104.87 L169.47,107.80 L169.28,110.73 L169.08,113.67 L168.88,116.60 L168.68,119.53 L168.48,122.47 L168.28,125.40 L168.08,128.33 L167.88,131.27 L167.60,134.20 L167.25,137.13 L166.91,140.07 L166.56,143.00 L166.22,145.93 L165.88,148.87 L165.24,151.80 L164.51,154.73 L163.77,157.67 L163.04,160.60 L162.30,163.53 L160.37,166.47 L157.87,169.40 L155.37,172.33 L148.96,175.27 L142.20,178.20 L213.60,178.20 L206.84,175.27 L200.43,172.33 L197.93,169.40 L195.43,166.47 L193.50,163.53 L192.76,160.60 L192.03,157.67 L191.29,154.73 L190.56,151.80 L189.92,148.87 L189.58,145.93 L189.23,143.00 L188.89,140.07 L188.55,137.13 L188.20,134.20 L187.92,131.27 L187.72,128.33 L187.52,125.40 L187.32,122.47 L187.12,119.53 L186.92,116.60 L186.72,113.67 L186.52,110.73 L186.33,107.80 L186.13,104.87 L185.93,101.93 L185.73,99.00 L185.58,96.07 L185.44,93.13 L185.31,90.20 L185.18,87.27 L185.05,84.33 L184.91,81.40 L184.78,78.47 L184.65,75.53 L184.52,72.60 L184.38,69.67 L184.25,66.73 L184.12,63.80 Z" fill="url(#vg14)"/>
<path d="M174.81,63.80 L174.72,66.73 L174.62,69.67 L174.52,72.60 L174.43,75.53 L174.33,78.47 L174.24,81.40 L174.14,84.33 L174.05,87.27 L173.95,90.20 L173.85,93.13 L173.76,96.07 L173.65,99.00 L173.51,101.93 L173.36,104.87 L173.22,107.80 L173.07,110.73 L172.93,113.67 L172.79,116.60 L172.64,119.53 L172.50,122.47 L172.36,125.40 L172.21,128.33 L172.07,131.27 L171.86,134.20 L171.61,137.13 L171.36,140.07 L171.12,143.00 L170.87,145.93 L170.62,148.87 L170.16,151.80 L169.63,154.73 L169.10,157.67 L168.57,160.60 L168.04,163.53 L166.64,166.47 L164.84,169.40 L163.03,172.33 L158.39,175.27 L149.50,178.20 L206.30,178.20 L197.41,175.27 L192.77,172.33 L190.96,169.40 L189.16,166.47 L187.76,163.53 L187.23,160.60 L186.70,157.67 L186.17,154.73 L185.64,151.80 L185.18,148.87 L184.93,145.93 L184.68,143.00 L184.44,140.07 L184.19,137.13 L183.94,134.20 L183.73,131.27 L183.59,128.33 L183.44,125.40 L183.30,122.47 L183.16,119.53 L183.01,116.60 L182.87,113.67 L182.73,110.73 L182.58,107.80 L182.44,104.87 L182.29,101.93 L182.15,99.00 L182.04,96.07 L181.95,93.13 L181.85,90.20 L181.75,87.27 L181.66,84.33 L181.56,81.40 L181.47,78.47 L181.37,75.53 L181.28,72.60 L181.18,69.67 L181.08,66.73 L180.99,63.80 Z" fill="url(#vg15)"/>
<path d="M176.22,63.80 L176.16,66.73 L176.10,69.67 L176.04,72.60 L175.98,75.53 L175.92,78.47 L175.86,81.40 L175.80,84.33 L175.74,87.27 L175.68,90.20 L175.62,93.13 L175.56,96.07 L175.49,99.00 L175.40,101.93 L175.31,104.87 L175.22,107.80 L175.13,110.73 L175.04,113.67 L174.95,116.60 L174.86,119.53 L174.78,122.47 L174.69,125.40 L174.60,128.33 L174.51,131.27 L174.38,134.20 L174.22,137.13 L174.07,140.07 L173.91,143.00 L173.75,145.93 L173.60,148.87 L173.31,151.80 L172.98,154.73 L172.65,157.67 L172.32,160.60 L171.99,163.53 L171.11,166.47 L169.98,169.40 L168.86,172.33 L165.96,175.27 L160.40,178.20 L195.40,178.20 L189.84,175.27 L186.94,172.33 L185.82,169.40 L184.69,166.47 L183.81,163.53 L183.48,160.60 L183.15,157.67 L182.82,154.73 L182.49,151.80 L182.20,148.87 L182.05,145.93 L181.89,143.00 L181.73,140.07 L181.58,137.13 L181.42,134.20 L181.29,131.27 L181.20,128.33 L181.11,125.40 L181.02,122.47 L180.94,119.53 L180.85,116.60 L180.76,113.67 L180.67,110.73 L180.58,107.80 L180.49,104.87 L180.40,101.93 L180.31,99.00 L180.24,96.07 L180.18,93.13 L180.12,90.20 L180.06,87.27 L180.00,84.33 L179.94,81.40 L179.88,78.47 L179.82,75.53 L179.76,72.60 L179.70,69.67 L179.64,66.73 L179.58,63.80 Z" fill="url(#vg16)"/>
</g>
<rect x="147.20" y="63.80" width="61.40" height="114.40" fill="#fff" filter="url(#grB)" opacity="0.14"/>
</g>
<rect x="147.20" y="63.80" width="61.40" height="114.40" fill="none" stroke="#222" stroke-width="1.0"/>
<g clip-path="url(#hc7)">
<rect x="212.40" y="27.40" width="62.10" height="32.90" fill="rgb(214,229,244)"/>
<g filter="url(#bl8)">
<path d="M238.16,27.40 L237.97,28.24 L237.78,29.09 L237.59,29.93 L237.40,30.77 L237.21,31.62 L237.02,32.46 L236.82,33.31 L236.63,34.15 L236.44,34.99 L236.24,35.84 L235.98,36.68 L235.73,37.52 L235.47,38.37 L235.22,39.21 L234.96,40.05 L234.71,40.90 L234.46,41.74 L234.20,42.58 L233.95,43.43 L233.60,44.27 L233.16,45.12 L232.73,45.96 L232.29,46.80 L231.85,47.65 L231.42,48.49 L230.98,49.33 L230.54,50.18 L229.82,51.02 L228.97,51.86 L228.12,52.71 L227.27,53.55 L226.43,54.39 L225.58,55.24 L223.76,56.08 L221.77,56.93 L219.79,57.77 L216.35,58.61 L212.37,59.46 L208.40,60.30 L278.50,60.30 L274.53,59.46 L270.55,58.61 L267.11,57.77 L265.13,56.93 L263.14,56.08 L261.32,55.24 L260.47,54.39 L259.63,53.55 L258.78,52.71 L257.93,51.86 L257.08,51.02 L256.36,50.18 L255.92,49.33 L255.48,48.49 L255.05,47.65 L254.61,46.80 L254.17,45.96 L253.74,45.12 L253.30,44.27 L252.95,43.43 L252.70,42.58 L252.44,41.74 L252.19,40.90 L251.94,40.05 L251.68,39.21 L251.43,38.37 L251.17,37.52 L250.92,36.68 L250.66,35.84 L250.46,34.99 L250.27,34.15 L250.08,33.31 L249.88,32.46 L249.69,31.62 L249.50,30.77 L249.31,29.93 L249.12,29.09 L248.93,28.24 L248.74,27.40 Z" fill="url(#vg17)"/>
<path d="M241.03,27.40 L240.90,28.24 L240.76,29.09 L240.62,29.93 L240.48,30.77 L240.34,31.62 L240.21,32.46 L240.07,33.31 L239.93,34.15 L239.79,34.99 L239.64,35.84 L239.46,36.68 L239.28,37.52 L239.09,38.37 L238.91,39.21 L238.73,40.05 L238.54,40.90 L238.36,41.74 L238.17,42.58 L237.99,43.43 L237.74,44.27 L237.42,45.12 L237.11,45.96 L236.79,46.80 L236.48,47.65 L236.16,48.49 L235.84,49.33 L235.53,50.18 L235.01,51.02 L234.39,51.86 L233.78,52.71 L233.17,53.55 L232.55,54.39 L231.94,55.24 L230.63,56.08 L229.19,56.93 L227.76,57.77 L225.27,58.61 L222.40,59.46 L219.53,60.30 L267.37,60.30 L264.50,59.46 L261.63,58.61 L259.14,57.77 L257.71,56.93 L256.27,56.08 L254.96,55.24 L254.35,54.39 L253.73,53.55 L253.12,52.71 L252.51,51.86 L251.89,51.02 L251.37,50.18 L251.06,49.33 L250.74,48.49 L250.42,47.65 L250.11,46.80 L249.79,45.96 L249.48,45.12 L249.16,44.27 L248.91,43.43 L248.73,42.58 L248.54,41.74 L248.36,40.90 L248.17,40.05 L247.99,39.21 L247.81,38.37 L247.62,37.52 L247.44,36.68 L247.26,35.84 L247.11,34.99 L246.97,34.15 L246.83,33.31 L246.69,32.46 L246.56,31.62 L246.42,30.77 L246.28,29.93 L246.14,29.09 L246.00,28.24 L245.87,27.40 Z" fill="url(#vg18)"/>
<path d="M242.19,27.40 L242.10,28.24 L242.02,29.09 L241.93,29.93 L241.85,30.77 L241.76,31.62 L241.67,32.46 L241.59,33.31 L241.50,34.15 L241.41,34.99 L241.32,35.84 L241.21,36.68 L241.09,37.52 L240.98,38.37 L240.86,39.21 L240.75,40.05 L240.63,40.90 L240.52,41.74 L240.40,42.58 L240.29,43.43 L240.13,44.27 L239.93,45.12 L239.74,45.96 L239.54,46.80 L239.34,47.65 L239.14,48.49 L238.95,49.33 L238.75,50.18 L238.42,51.02 L238.04,51.86 L237.66,52.71 L237.27,53.55 L236.89,54.39 L236.51,55.24 L235.69,56.08 L234.79,56.93 L233.89,57.77 L232.34,58.61 L230.54,59.46 L228.75,60.30 L258.15,60.30 L256.36,59.46 L254.56,58.61 L253.01,57.77 L252.11,56.93 L251.21,56.08 L250.39,55.24 L250.01,54.39 L249.63,53.55 L249.24,52.71 L248.86,51.86 L248.48,51.02 L248.15,50.18 L247.95,49.33 L247.76,48.49 L247.56,47.65 L247.36,46.80 L247.16,45.96 L246.97,45.12 L246.77,44.27 L246.61,43.43 L246.50,42.58 L246.38,41.74 L246.27,40.90 L246.15,40.05 L246.04,39.21 L245.92,38.37 L245.81,37.52 L245.69,36.68 L245.58,35.84 L245.49,34.99 L245.40,34.15 L245.31,33.31 L245.23,32.46 L245.14,31.62 L245.05,30.77 L244.97,29.93 L244.88,29.09 L244.80,28.24 L244.71,27.40 Z" fill="url(#vg19)"/>
</g>
<rect x="212.40" y="27.40" width="62.10" height="32.90" fill="#fff" filter="url(#grB)" opacity="0.14"/>
</g>
<rect x="212.40" y="27.40" width="62.10" height="32.90" fill="none" stroke="#222" stroke-width="1.0"/>
<g clip-path="url(#hc8)">
<rect x="212.40" y="63.80" width="62.10" height="114.40" fill="rgb(214,229,244)"/>
<g filter="url(#bl8)">
<path d="M238.47,63.80 L238.36,66.73 L238.26,69.67 L238.15,72.60 L238.05,75.53 L237.94,78.47 L237.83,81.40 L237.73,84.33 L237.62,87.27 L237.52,90.20 L237.41,93.13 L237.30,96.07 L237.18,99.00 L237.01,101.93 L236.83,104.87 L236.66,107.80 L236.49,110.73 L236.32,113.67 L236.14,116.60 L235.97,119.53 L235.80,122.47 L235.63,125.40 L235.46,128.33 L235.28,131.27 L235.01,134.20 L234.66,137.13 L234.32,140.07 L233.97,143.00 L233.63,145.93 L233.29,148.87 L232.56,151.80 L231.70,154.73 L230.85,157.67 L229.99,160.60 L229.13,163.53 L227.24,166.47 L224.85,169.40 L222.47,172.33 L216.06,175.27 L207.40,178.20 L279.50,178.20 L270.84,175.27 L264.43,172.33 L262.05,169.40 L259.66,166.47 L257.77,163.53 L256.91,160.60 L256.05,157.67 L255.20,154.73 L254.34,151.80 L253.61,148.87 L253.27,145.93 L252.92,143.00 L252.58,140.07 L252.24,137.13 L251.89,134.20 L251.62,131.27 L251.44,128.33 L251.27,125.40 L251.10,122.47 L250.93,119.53 L250.75,116.60 L250.58,113.67 L250.41,110.73 L250.24,107.80 L250.07,104.87 L249.89,101.93 L249.72,99.00 L249.60,96.07 L249.49,93.13 L249.38,90.20 L249.28,87.27 L249.17,84.33 L249.07,81.40 L248.96,78.47 L248.85,75.53 L248.75,72.60 L248.64,69.67 L248.54,66.73 L248.43,63.80 Z" fill="url(#vg20)"/>
<path d="M241.26,63.80 L241.18,66.73 L241.10,69.67 L241.03,72.60 L240.95,75.53 L240.88,78.47 L240.80,81.40 L240.72,84.33 L240.65,87.27 L240.57,90.20 L240.49,93.13 L240.42,96.07 L240.32,99.00 L240.20,101.93 L240.08,104.87 L239.95,107.80 L239.83,110.73 L239.70,113.67 L239.58,116.60 L239.45,119.53 L239.33,122.47 L239.20,125.40 L239.08,128.33 L238.96,131.27 L238.76,134.20 L238.51,137.13 L238.26,140.07 L238.01,143.00 L237.76,145.93 L237.51,148.87 L236.99,151.80 L236.37,154.73 L235.75,157.67 L235.13,160.60 L234.51,163.53 L233.14,166.47 L231.42,169.40 L229.70,172.33 L225.06,175.27 L215.05,178.20 L271.85,178.20 L261.84,175.27 L257.20,172.33 L255.48,169.40 L253.76,166.47 L252.39,163.53 L251.77,160.60 L251.15,157.67 L250.53,154.73 L249.91,151.80 L249.39,148.87 L249.14,145.93 L248.89,143.00 L248.64,140.07 L248.39,137.13 L248.14,134.20 L247.94,131.27 L247.82,128.33 L247.70,125.40 L247.57,122.47 L247.45,119.53 L247.32,116.60 L247.20,113.67 L247.07,110.73 L246.95,107.80 L246.82,104.87 L246.70,101.93 L246.58,99.00 L246.48,96.07 L246.41,93.13 L246.33,90.20 L246.25,87.27 L246.18,84.33 L246.10,81.40 L246.02,78.47 L245.95,75.53 L245.87,72.60 L245.80,69.67 L245.72,66.73 L245.64,63.80 Z" fill="url(#vg21)"/>
<path d="M242.33,63.80 L242.28,66.73 L242.23,69.67 L242.19,72.60 L242.14,75.53 L242.09,78.47 L242.04,81.40 L241.99,84.33 L241.95,87.27 L241.90,90.20 L241.85,93.13 L241.80,96.07 L241.75,99.00 L241.67,101.93 L241.59,104.87 L241.51,107.80 L241.44,110.73 L241.36,113.67 L241.28,116.60 L241.20,119.53 L241.12,122.47 L241.05,125.40 L240.97,128.33 L240.89,131.27 L240.77,134.20 L240.61,137.13 L240.46,140.07 L240.30,143.00 L240.14,145.93 L239.99,148.87 L239.66,151.80 L239.27,154.73 L238.89,157.67 L238.50,160.60 L238.11,163.53 L237.26,166.47 L236.18,169.40 L235.10,172.33 L232.21,175.27 L225.95,178.20 L260.95,178.20 L254.69,175.27 L251.80,172.33 L250.72,169.40 L249.64,166.47 L248.79,163.53 L248.40,160.60 L248.01,157.67 L247.63,154.73 L247.24,151.80 L246.91,148.87 L246.76,145.93 L246.60,143.00 L246.44,140.07 L246.29,137.13 L246.13,134.20 L246.01,131.27 L245.93,128.33 L245.85,125.40 L245.78,122.47 L245.70,119.53 L245.62,116.60 L245.54,113.67 L245.46,110.73 L245.39,107.80 L245.31,104.87 L245.23,101.93 L245.15,99.00 L245.10,96.07 L245.05,93.13 L245.00,90.20 L244.95,87.27 L244.91,84.33 L244.86,81.40 L244.81,78.47 L244.76,75.53 L244.71,72.60 L244.67,69.67 L244.62,66.73 L244.57,63.80 Z" fill="url(#vg22)"/>
</g>
<rect x="212.40" y="63.80" width="62.10" height="114.40" fill="#fff" filter="url(#grB)" opacity="0.14"/>
</g>
<rect x="212.40" y="63.80" width="62.10" height="114.40" fill="none" stroke="#222" stroke-width="1.0"/>
<g clip-path="url(#hc9)">
<rect x="278.40" y="27.40" width="61.60" height="32.90" fill="rgb(248,181,155)"/>
<g filter="url(#bl10)">
<path d="M306.06,27.40 L305.90,28.24 L305.74,29.09 L305.58,29.93 L305.42,30.77 L305.26,31.62 L305.10,32.46 L304.94,33.31 L304.78,34.15 L304.62,34.99 L304.45,35.84 L304.23,36.68 L304.02,37.52 L303.81,38.37 L303.59,39.21 L303.38,40.05 L303.17,40.90 L302.95,41.74 L302.74,42.58 L302.53,43.43 L302.24,44.27 L301.87,45.12 L301.50,45.96 L301.14,46.80 L300.77,47.65 L300.40,48.49 L300.04,49.33 L299.67,50.18 L299.06,51.02 L298.35,51.86 L297.64,52.71 L296.93,53.55 L296.22,54.39 L295.51,55.24 L293.98,56.08 L292.32,56.93 L290.65,57.77 L287.77,58.61 L284.43,59.46 L281.10,60.30 L337.30,60.30 L333.97,59.46 L330.63,58.61 L327.75,57.77 L326.08,56.93 L324.42,56.08 L322.89,55.24 L322.18,54.39 L321.47,53.55 L320.76,52.71 L320.05,51.86 L319.34,51.02 L318.73,50.18 L318.36,49.33 L318.00,48.49 L317.63,47.65 L317.26,46.80 L316.90,45.96 L316.53,45.12 L316.16,44.27 L315.87,43.43 L315.66,42.58 L315.45,41.74 L315.23,40.90 L315.02,40.05 L314.81,39.21 L314.59,38.37 L314.38,37.52 L314.17,36.68 L313.95,35.84 L313.78,34.99 L313.62,34.15 L313.46,33.31 L313.30,32.46 L313.14,31.62 L312.98,30.77 L312.82,29.93 L312.66,29.09 L312.50,28.24 L312.34,27.40 Z" fill="url(#vg23)"/>
<path d="M307.72,27.40 L307.62,28.24 L307.52,29.09 L307.42,29.93 L307.32,30.77 L307.22,31.62 L307.12,32.46 L307.02,33.31 L306.92,34.15 L306.82,34.99 L306.71,35.84 L306.57,36.68 L306.44,37.52 L306.30,38.37 L306.17,39.21 L306.03,40.05 L305.90,40.90 L305.76,41.74 L305.63,42.58 L305.50,43.43 L305.31,44.27 L305.08,45.12 L304.85,45.96 L304.62,46.80 L304.39,47.65 L304.16,48.49 L303.92,49.33 L303.69,50.18 L303.31,51.02 L302.86,51.86 L302.41,52.71 L301.96,53.55 L301.52,54.39 L301.07,55.24 L300.11,56.08 L299.06,56.93 L298.00,57.77 L296.19,58.61 L294.08,59.46 L291.98,60.30 L326.42,60.30 L324.32,59.46 L322.21,58.61 L320.40,57.77 L319.34,56.93 L318.29,56.08 L317.33,55.24 L316.88,54.39 L316.44,53.55 L315.99,52.71 L315.54,51.86 L315.09,51.02 L314.71,50.18 L314.48,49.33 L314.24,48.49 L314.01,47.65 L313.78,46.80 L313.55,45.96 L313.32,45.12 L313.09,44.27 L312.90,43.43 L312.77,42.58 L312.64,41.74 L312.50,40.90 L312.37,40.05 L312.23,39.21 L312.10,38.37 L311.96,37.52 L311.83,36.68 L311.69,35.84 L311.58,34.99 L311.48,34.15 L311.38,33.31 L311.28,32.46 L311.18,31.62 L311.08,30.77 L310.98,29.93 L310.88,29.09 L310.78,28.24 L310.68,27.40 Z" fill="url(#vg24)"/>
</g>
<rect x="278.40" y="27.40" width="61.60" height="32.90" fill="#fff" filter="url(#grR)" opacity="0.18"/>
</g>
<rect x="278.40" y="27.40" width="61.60" height="32.90" fill="none" stroke="#222" stroke-width="1.0"/>
<g clip-path="url(#hc10)">
<rect x="278.40" y="63.80" width="61.60" height="114.40" fill="rgb(249,189,165)"/>
<g filter="url(#bl8)">
<path d="M307.94,63.80 L307.90,66.73 L307.86,69.67 L307.82,72.60 L307.78,75.53 L307.73,78.47 L307.69,81.40 L307.65,84.33 L307.61,87.27 L307.57,90.20 L307.53,93.13 L307.49,96.07 L307.44,99.00 L307.37,101.93 L307.31,104.87 L307.24,107.80 L307.17,110.73 L307.11,113.67 L307.04,116.60 L306.97,119.53 L306.91,122.47 L306.84,125.40 L306.77,128.33 L306.71,131.27 L306.60,134.20 L306.47,137.13 L306.33,140.07 L306.20,143.00 L306.07,145.93 L305.93,148.87 L305.65,151.80 L305.32,154.73 L304.99,157.67 L304.66,160.60 L304.33,163.53 L303.59,166.47 L302.67,169.40 L301.75,172.33 L299.26,175.27 L293.90,178.20 L324.50,178.20 L319.14,175.27 L316.65,172.33 L315.73,169.40 L314.81,166.47 L314.07,163.53 L313.74,160.60 L313.41,157.67 L313.08,154.73 L312.75,151.80 L312.47,148.87 L312.33,145.93 L312.20,143.00 L312.07,140.07 L311.93,137.13 L311.80,134.20 L311.69,131.27 L311.63,128.33 L311.56,125.40 L311.49,122.47 L311.43,119.53 L311.36,116.60 L311.29,113.67 L311.23,110.73 L311.16,107.80 L311.09,104.87 L311.03,101.93 L310.96,99.00 L310.91,96.07 L310.87,93.13 L310.83,90.20 L310.79,87.27 L310.75,84.33 L310.71,81.40 L310.67,78.47 L310.62,75.53 L310.58,72.60 L310.54,69.67 L310.50,66.73 L310.46,63.80 Z" fill="url(#vg25)"/>
</g>
<rect x="278.40" y="63.80" width="61.60" height="114.40" fill="#fff" filter="url(#grR)" opacity="0.18"/>
</g>
<rect x="278.40" y="63.80" width="61.60" height="114.40" fill="none" stroke="#222" stroke-width="1.0"/>
<g clip-path="url(#hc11)">
<rect x="343.20" y="27.40" width="61.00" height="32.90" fill="rgb(250,208,192)"/>
<g filter="url(#bl10)">
<path d="M370.56,27.40 L370.40,28.24 L370.24,29.09 L370.08,29.93 L369.92,30.77 L369.76,31.62 L369.60,32.46 L369.44,33.31 L369.28,34.15 L369.12,34.99 L368.95,35.84 L368.73,36.68 L368.52,37.52 L368.31,38.37 L368.09,39.21 L367.88,40.05 L367.67,40.90 L367.45,41.74 L367.24,42.58 L367.03,43.43 L366.74,44.27 L366.37,45.12 L366.00,45.96 L365.64,46.80 L365.27,47.65 L364.90,48.49 L364.54,49.33 L364.17,50.18 L363.56,51.02 L362.85,51.86 L362.14,52.71 L361.43,53.55 L360.72,54.39 L360.01,55.24 L358.48,56.08 L356.82,56.93 L355.15,57.77 L352.27,58.61 L348.93,59.46 L345.60,60.30 L401.80,60.30 L398.47,59.46 L395.13,58.61 L392.25,57.77 L390.58,56.93 L388.92,56.08 L387.39,55.24 L386.68,54.39 L385.97,53.55 L385.26,52.71 L384.55,51.86 L383.84,51.02 L383.23,50.18 L382.86,49.33 L382.50,48.49 L382.13,47.65 L381.76,46.80 L381.40,45.96 L381.03,45.12 L380.66,44.27 L380.37,43.43 L380.16,42.58 L379.95,41.74 L379.73,40.90 L379.52,40.05 L379.31,39.21 L379.09,38.37 L378.88,37.52 L378.67,36.68 L378.45,35.84 L378.28,34.99 L378.12,34.15 L377.96,33.31 L377.80,32.46 L377.64,31.62 L377.48,30.77 L377.32,29.93 L377.16,29.09 L377.00,28.24 L376.84,27.40 Z" fill="url(#vg26)"/>
<path d="M372.26,27.40 L372.16,28.24 L372.06,29.09 L371.96,29.93 L371.87,30.77 L371.77,31.62 L371.67,32.46 L371.57,33.31 L371.47,34.15 L371.37,34.99 L371.27,35.84 L371.14,36.68 L371.00,37.52 L370.87,38.37 L370.74,39.21 L370.61,40.05 L370.48,40.90 L370.35,41.74 L370.22,42.58 L370.09,43.43 L369.91,44.27 L369.68,45.12 L369.46,45.96 L369.23,46.80 L369.00,47.65 L368.78,48.49 L368.55,49.33 L368.33,50.18 L367.95,51.02 L367.52,51.86 L367.08,52.71 L366.64,53.55 L366.20,54.39 L365.77,55.24 L364.83,56.08 L363.80,56.93 L362.78,57.77 L361.00,58.61 L358.95,59.46 L356.90,60.30 L390.50,60.30 L388.45,59.46 L386.40,58.61 L384.62,57.77 L383.60,56.93 L382.57,56.08 L381.63,55.24 L381.20,54.39 L380.76,53.55 L380.32,52.71 L379.88,51.86 L379.45,51.02 L379.07,50.18 L378.85,49.33 L378.62,48.49 L378.40,47.65 L378.17,46.80 L377.94,45.96 L377.72,45.12 L377.49,44.27 L377.31,43.43 L377.18,42.58 L377.05,41.74 L376.92,40.90 L376.79,40.05 L376.66,39.21 L376.53,38.37 L376.40,37.52 L376.26,36.68 L376.13,35.84 L376.03,34.99 L375.93,34.15 L375.83,33.31 L375.73,32.46 L375.63,31.62 L375.53,30.77 L375.44,29.93 L375.34,29.09 L375.24,28.24 L375.14,27.40 Z" fill="url(#vg27)"/>
</g>
<rect x="343.20" y="27.40" width="61.00" height="32.90" fill="#fff" filter="url(#grR)" opacity="0.18"/>
</g>
<rect x="343.20" y="27.40" width="61.00" height="32.90" fill="none" stroke="#222" stroke-width="1.0"/>
<g clip-path="url(#hc12)">
<rect x="343.20" y="63.80" width="61.00" height="114.40" fill="rgb(250,212,198)"/>
<g filter="url(#bl8)">
<path d="M371.14,63.80 L371.06,66.73 L370.99,69.67 L370.91,72.60 L370.84,75.53 L370.76,78.47 L370.69,81.40 L370.61,84.33 L370.54,87.27 L370.46,90.20 L370.39,93.13 L370.31,96.07 L370.22,99.00 L370.10,101.93 L369.98,104.87 L369.86,107.80 L369.73,110.73 L369.61,113.67 L369.49,116.60 L369.37,119.53 L369.25,122.47 L369.12,125.40 L369.00,128.33 L368.88,131.27 L368.68,134.20 L368.44,137.13 L368.19,140.07 L367.95,143.00 L367.71,145.93 L367.46,148.87 L366.94,151.80 L366.34,154.73 L365.73,157.67 L365.12,160.60 L364.51,163.53 L363.17,166.47 L361.48,169.40 L359.78,172.33 L355.23,175.27 L345.40,178.20 L402.00,178.20 L392.17,175.27 L387.62,172.33 L385.92,169.40 L384.23,166.47 L382.89,163.53 L382.28,160.60 L381.67,157.67 L381.06,154.73 L380.46,151.80 L379.94,148.87 L379.69,145.93 L379.45,143.00 L379.21,140.07 L378.96,137.13 L378.72,134.20 L378.52,131.27 L378.40,128.33 L378.28,125.40 L378.15,122.47 L378.03,119.53 L377.91,116.60 L377.79,113.67 L377.67,110.73 L377.54,107.80 L377.42,104.87 L377.30,101.93 L377.18,99.00 L377.09,96.07 L377.01,93.13 L376.94,90.20 L376.86,87.27 L376.79,84.33 L376.71,81.40 L376.64,78.47 L376.56,75.53 L376.49,72.60 L376.41,69.67 L376.34,66.73 L376.26,63.80 Z" fill="url(#vg28)"/>
<path d="M372.90,63.80 L372.87,66.73 L372.83,69.67 L372.80,72.60 L372.76,75.53 L372.73,78.47 L372.69,81.40 L372.66,84.33 L372.63,87.27 L372.59,90.20 L372.56,93.13 L372.52,96.07 L372.48,99.00 L372.43,101.93 L372.37,104.87 L372.32,107.80 L372.26,110.73 L372.21,113.67 L372.15,116.60 L372.09,119.53 L372.04,122.47 L371.98,125.40 L371.93,128.33 L371.87,131.27 L371.78,134.20 L371.67,137.13 L371.56,140.07 L371.45,143.00 L371.34,145.93 L371.23,148.87 L370.99,151.80 L370.72,154.73 L370.44,157.67 L370.16,160.60 L369.89,163.53 L369.28,166.47 L368.51,169.40 L367.74,172.33 L365.67,175.27 L361.20,178.20 L386.20,178.20 L381.73,175.27 L379.66,172.33 L378.89,169.40 L378.12,166.47 L377.51,163.53 L377.24,160.60 L376.96,157.67 L376.68,154.73 L376.41,151.80 L376.17,148.87 L376.06,145.93 L375.95,143.00 L375.84,140.07 L375.73,137.13 L375.62,134.20 L375.53,131.27 L375.47,128.33 L375.42,125.40 L375.36,122.47 L375.31,119.53 L375.25,116.60 L375.19,113.67 L375.14,110.73 L375.08,107.80 L375.03,104.87 L374.97,101.93 L374.92,99.00 L374.88,96.07 L374.84,93.13 L374.81,90.20 L374.77,87.27 L374.74,84.33 L374.71,81.40 L374.67,78.47 L374.64,75.53 L374.60,72.60 L374.57,69.67 L374.53,66.73 L374.50,63.80 Z" fill="url(#vg29)"/>
</g>
<rect x="343.20" y="63.80" width="61.00" height="114.40" fill="#fff" filter="url(#grR)" opacity="0.18"/>
</g>
<rect x="343.20" y="63.80" width="61.00" height="114.40" fill="none" stroke="#222" stroke-width="1.0"/>
<line x1="17.60" y1="178.20" x2="17.60" y2="180.70" stroke="#222" stroke-width="0.9"/>
<line x1="47.45" y1="178.20" x2="47.45" y2="180.70" stroke="#222" stroke-width="0.9"/>
<line x1="76.70" y1="178.20" x2="76.70" y2="180.70" stroke="#222" stroke-width="0.9"/>
<text x="18.05" y="188.80" font-size="6.3" text-anchor="middle">−5</text>
<text x="47.45" y="188.80" font-size="6.3" text-anchor="middle">0</text>
<text x="77.50" y="188.80" font-size="6.3" text-anchor="end">+5</text>
<line x1="83.30" y1="178.20" x2="83.30" y2="180.70" stroke="#222" stroke-width="0.9"/>
<line x1="112.55" y1="178.20" x2="112.55" y2="180.70" stroke="#222" stroke-width="0.9"/>
<line x1="142.10" y1="178.20" x2="142.10" y2="180.70" stroke="#222" stroke-width="0.9"/>
<text x="85.05" y="188.80" font-size="6.3" text-anchor="middle">−5</text>
<text x="112.55" y="188.80" font-size="6.3" text-anchor="middle">0</text>
<text x="142.90" y="188.80" font-size="6.3" text-anchor="end">+5</text>
<line x1="148.50" y1="178.20" x2="148.50" y2="180.70" stroke="#222" stroke-width="0.9"/>
<line x1="177.60" y1="178.20" x2="177.60" y2="180.70" stroke="#222" stroke-width="0.9"/>
<line x1="207.00" y1="178.20" x2="207.00" y2="180.70" stroke="#222" stroke-width="0.9"/>
<text x="150.25" y="188.80" font-size="6.3" text-anchor="middle">−5</text>
<text x="177.60" y="188.80" font-size="6.3" text-anchor="middle">0</text>
<text x="207.80" y="188.80" font-size="6.3" text-anchor="end">+5</text>
<line x1="213.70" y1="178.20" x2="213.70" y2="180.70" stroke="#222" stroke-width="0.9"/>
<line x1="243.15" y1="178.20" x2="243.15" y2="180.70" stroke="#222" stroke-width="0.9"/>
<line x1="272.90" y1="178.20" x2="272.90" y2="180.70" stroke="#222" stroke-width="0.9"/>
<text x="215.45" y="188.80" font-size="6.3" text-anchor="middle">−5</text>
<text x="243.15" y="188.80" font-size="6.3" text-anchor="middle">0</text>
<text x="273.70" y="188.80" font-size="6.3" text-anchor="end">+5</text>
<line x1="279.70" y1="178.20" x2="279.70" y2="180.70" stroke="#222" stroke-width="0.9"/>
<line x1="308.90" y1="178.20" x2="308.90" y2="180.70" stroke="#222" stroke-width="0.9"/>
<line x1="338.40" y1="178.20" x2="338.40" y2="180.70" stroke="#222" stroke-width="0.9"/>
<text x="281.45" y="188.80" font-size="6.3" text-anchor="middle">−5</text>
<text x="308.90" y="188.80" font-size="6.3" text-anchor="middle">0</text>
<text x="339.20" y="188.80" font-size="6.3" text-anchor="end">+5</text>
<line x1="344.50" y1="178.20" x2="344.50" y2="180.70" stroke="#222" stroke-width="0.9"/>
<line x1="373.40" y1="178.20" x2="373.40" y2="180.70" stroke="#222" stroke-width="0.9"/>
<line x1="402.60" y1="178.20" x2="402.60" y2="180.70" stroke="#222" stroke-width="0.9"/>
<text x="346.25" y="188.80" font-size="6.3" text-anchor="middle">−5</text>
<text x="373.40" y="188.80" font-size="6.3" text-anchor="middle">0</text>
<text x="403.40" y="188.80" font-size="6.3" text-anchor="end">+5</text>
<text x="116.00" y="198.20" font-size="6.5" text-anchor="middle">Distance from nuc. array centre (kb)</text>
<path d="M14.7,27.4 L14.7,60.3 L8.9,60.3 Z" fill="#000"/>
<path d="M14.7,63.8 L14.7,178.2 L8.9,178.2 Z" fill="#000"/>
<text x="6.60" y="101.00" font-size="6.7" text-anchor="middle" transform="rotate(-90 6.60 101.00)">Nuc. array size</text>
<text x="414.30" y="27.60" font-size="6.6" text-anchor="end" transform="rotate(-90 414.30 27.60)"><tspan font-style="italic">n</tspan> = 12,920</text>
<text x="421.60" y="27.60" font-size="6.6" text-anchor="end" transform="rotate(-90 421.60 27.60)">Open</text>
<text x="414.30" y="177.50" font-size="6.6" transform="rotate(-90 414.30 177.50)"><tspan font-style="italic">n</tspan> = 46,672</text>
<text x="421.60" y="177.50" font-size="6.6" transform="rotate(-90 421.60 177.50)">Closed</text>
<rect x="261.70" y="191.30" width="42.90" height="5.30" fill="url(#g_pur)" stroke="#333" stroke-width="0.6"/>
<rect x="313.40" y="191.30" width="43.20" height="5.30" fill="url(#g_blu)" stroke="#333" stroke-width="0.6"/>
<rect x="365.40" y="191.30" width="43.20" height="5.30" fill="url(#g_red)" stroke="#333" stroke-width="0.6"/>
<line x1="261.70" y1="196.60" x2="261.70" y2="198.20" stroke="#333" stroke-width="0.6"/>
<text x="261.70" y="207.40" font-size="6.3" text-anchor="middle">0</text>
<line x1="276.00" y1="196.60" x2="276.00" y2="198.20" stroke="#333" stroke-width="0.6"/>
<text x="276.00" y="207.40" font-size="6.3" text-anchor="middle">20</text>
<line x1="290.30" y1="196.60" x2="290.30" y2="198.20" stroke="#333" stroke-width="0.6"/>
<text x="290.30" y="207.40" font-size="6.3" text-anchor="middle">40</text>
<line x1="304.60" y1="196.60" x2="304.60" y2="198.20" stroke="#333" stroke-width="0.6"/>
<text x="304.60" y="207.40" font-size="6.3" text-anchor="middle">60</text>
<line x1="313.40" y1="196.60" x2="313.40" y2="198.20" stroke="#333" stroke-width="0.6"/>
<text x="313.40" y="207.40" font-size="6.3" text-anchor="middle">0</text>
<line x1="327.80" y1="196.60" x2="327.80" y2="198.20" stroke="#333" stroke-width="0.6"/>
<text x="327.80" y="207.40" font-size="6.3" text-anchor="middle">20</text>
<line x1="342.20" y1="196.60" x2="342.20" y2="198.20" stroke="#333" stroke-width="0.6"/>
<text x="342.20" y="207.40" font-size="6.3" text-anchor="middle">40</text>
<line x1="356.60" y1="196.60" x2="356.60" y2="198.20" stroke="#333" stroke-width="0.6"/>
<text x="356.60" y="207.40" font-size="6.3" text-anchor="middle">60</text>
<line x1="365.40" y1="196.60" x2="365.40" y2="198.20" stroke="#333" stroke-width="0.6"/>
<text x="365.40" y="207.40" font-size="6.3" text-anchor="middle">0</text>
<line x1="383.11" y1="196.60" x2="383.11" y2="198.20" stroke="#333" stroke-width="0.6"/>
<text x="383.11" y="207.40" font-size="6.3" text-anchor="middle">15</text>
<line x1="400.82" y1="196.60" x2="400.82" y2="198.20" stroke="#333" stroke-width="0.6"/>
<text x="400.82" y="207.40" font-size="6.3" text-anchor="middle">30</text>
<text x="283.20" y="215.30" font-size="6.3" text-anchor="middle">(×10<tspan font-size="4.2" dy="-2.2">3</tspan><tspan dy="2.2">)</tspan></text>
<text x="282.60" y="222.80" font-size="6.3" text-anchor="middle">MNase-seq (RPGC)</text>
<text x="335.00" y="215.80" font-size="6.3" text-anchor="middle">ChIP-seq (RPGC)</text>
<text x="389.80" y="215.80" font-size="6.3" text-anchor="middle">ATAC-seq (RPGC)</text>
<text x="439.00" y="7.80" font-size="11" font-weight="bold" class="pl">b</text>
<rect x="569.50" y="17.30" width="33.10" height="167.90" fill="url(#yb55)"/>
<path d="M494.5,51.4 L494.8,51.1 L495.1,48.3 L495.4,42.6 L495.7,44.0 L496.0,48.5 L496.3,50.2 L496.6,48.2 L496.9,50.6 L497.2,48.1 L497.5,49.2 L497.8,49.4 L498.1,51.6 L498.4,47.6 L498.7,52.5 L499.0,53.8 L499.3,47.9 L499.6,47.6 L499.9,50.7 L500.2,48.7 L500.5,45.9 L500.8,53.6 L501.1,51.6 L501.4,49.8 L501.7,55.8 L502.0,53.2 L502.3,50.8 L502.6,50.3 L502.9,47.3 L503.2,48.2 L503.5,51.2 L503.8,48.1 L504.1,47.2 L504.4,50.8 L504.7,48.2 L505.0,46.0 L505.3,44.8 L505.6,45.2 L505.9,48.5 L506.2,44.2 L506.5,47.2 L506.8,40.2 L507.1,41.7 L507.4,39.0 L507.7,39.5 L508.0,40.7 L508.3,42.6 L508.6,37.6 L508.9,39.0 L509.2,37.9 L509.5,36.8 L509.8,36.3 L510.1,39.2 L510.4,35.6 L510.7,40.2 L511.0,39.9 L511.3,38.3 L511.6,38.8 L511.9,37.6 L512.2,44.7 L512.5,37.3 L512.8,41.4 L513.1,38.4 L513.4,36.6 L513.7,35.2 L514.0,39.7 L514.3,41.4 L514.6,36.6 L514.9,39.5 L515.2,43.4 L515.5,41.8 L515.8,44.8 L516.1,39.9 L516.4,39.6 L516.7,36.1 L517.0,45.9 L517.3,41.3 L517.6,39.1 L517.9,43.8 L518.2,42.7 L518.5,48.7 L518.8,44.1 L519.1,44.6 L519.4,45.5 L519.7,49.8 L520.0,46.5 L520.3,50.0 L520.6,49.2 L520.9,48.3 L521.2,48.5 L521.5,49.7 L521.8,46.7 L522.1,51.2 L522.4,46.0 L522.7,51.2 L523.0,52.2 L523.3,51.1 L523.6,50.3 L523.9,51.6 L524.2,52.8 L524.5,54.6 L524.8,56.2 L525.1,56.6 L525.4,53.1 L525.7,55.1 L526.0,51.1 L526.3,57.2 L526.6,57.5 L526.9,55.5 L527.2,58.1 L527.5,56.9 L527.8,52.6 L528.1,57.9 L528.4,53.9 L528.7,59.5 L529.0,63.0 L529.3,55.7 L529.6,55.8 L529.9,54.6 L530.2,56.5 L530.5,56.6 L530.8,58.1 L531.1,54.0 L531.4,58.9 L531.7,55.0 L532.0,55.9 L532.3,57.2 L532.6,55.2 L532.9,51.6 L533.2,50.5 L533.5,50.9 L533.8,51.8 L534.1,54.8 L534.4,50.1 L534.7,53.8 L535.0,53.1 L535.3,52.9 L535.6,51.5 L535.9,52.6 L536.2,49.5 L536.5,50.5 L536.8,50.4 L537.1,52.2 L537.4,45.3 L537.7,53.1 L538.0,47.9 L538.3,47.5 L538.6,46.2 L538.9,44.0 L539.2,47.5 L539.5,47.9 L539.8,49.7 L540.1,46.7 L540.4,52.1 L540.7,52.4 L541.0,51.5 L541.3,49.4 L541.6,49.7 L541.9,49.1 L542.2,50.3 L542.5,51.3 L542.8,50.5 L543.1,48.9 L543.4,52.0 L543.7,50.9 L544.0,54.0 L544.3,57.9 L544.6,56.0 L544.9,55.2 L545.2,52.2 L545.5,53.3 L545.8,52.3 L546.1,54.9 L546.4,52.6 L546.7,57.4 L547.0,55.7 L547.3,56.9 L547.6,59.8 L547.9,57.0 L548.2,57.2 L548.5,55.4 L548.8,57.5 L549.1,53.2 L549.4,54.1 L549.7,54.2 L550.0,55.5 L550.3,60.5 L550.6,65.7 L550.9,58.3 L551.2,62.8 L551.5,60.4 L551.8,57.8 L552.1,58.2 L552.4,58.0 L552.7,58.0 L553.0,63.5 L553.3,55.4 L553.6,58.9 L553.9,59.4 L554.2,59.8 L554.5,61.9 L554.8,62.4 L555.1,57.9 L555.4,58.0 L555.7,59.1 L556.0,53.9 L556.3,60.7 L556.6,62.5 L556.9,59.3 L557.2,61.0 L557.5,57.7 L557.8,59.8 L558.1,58.9 L558.4,58.5 L558.7,60.8 L559.0,55.7 L559.3,56.4 L559.6,53.3 L559.9,58.6 L560.2,58.8 L560.5,55.2 L560.8,56.0 L561.1,62.1 L561.4,56.8 L561.7,59.5 L562.0,61.8 L562.3,63.9 L562.6,64.5 L562.9,62.2 L563.2,60.8 L563.5,61.7 L563.8,65.0 L564.1,60.9 L564.4,65.3 L564.7,65.6 L565.0,64.2 L565.3,63.2 L565.6,62.5 L565.9,64.1 L566.2,57.8 L566.5,59.6 L566.8,57.1 L567.1,57.0 L567.4,58.3 L567.7,55.8 L568.0,52.5 L568.3,49.5 L568.6,49.4 L568.9,54.0 L569.2,55.5 L569.5,51.7 L569.8,49.8 L570.1,44.5 L570.4,44.0 L570.7,43.9 L571.0,41.9 L571.3,41.4 L571.6,42.8 L571.9,41.6 L572.2,40.6 L572.5,42.1 L572.8,38.4 L573.1,40.1 L573.4,36.9 L573.7,37.6 L574.0,37.0 L574.3,34.9 L574.6,32.1 L574.9,31.0 L575.2,32.0 L575.5,30.9 L575.8,33.1 L576.1,27.3 L576.4,29.1 L576.7,27.4 L577.0,27.1 L577.3,24.9 L577.6,24.6 L577.9,27.5 L578.2,27.3 L578.5,24.2 L578.8,29.6 L579.1,29.3 L579.4,27.1 L579.7,30.8 L580.0,27.0 L580.3,30.8 L580.6,30.1 L580.9,30.6 L581.2,32.5 L581.5,29.5 L581.8,32.4 L582.1,32.9 L582.4,31.3 L582.7,29.7 L583.0,23.2 L583.3,30.9 L583.6,28.3 L583.9,34.5 L584.2,35.4 L584.5,33.4 L584.8,32.0 L585.1,33.8 L585.4,35.1 L585.7,34.4 L586.0,31.7 L586.3,30.2 L586.6,34.6 L586.9,32.7 L587.2,35.1 L587.5,33.8 L587.8,37.2 L588.1,37.8 L588.4,40.2 L588.7,40.7 L589.0,40.1 L589.3,37.4 L589.6,39.3 L589.9,45.0 L590.2,40.9 L590.5,41.4 L590.8,44.3 L591.1,44.4 L591.4,46.0 L591.7,44.4 L592.0,48.4 L592.3,43.7 L592.6,45.4 L592.9,44.8 L593.2,42.3 L593.5,43.5 L593.8,48.9 L594.1,50.9 L594.4,48.8 L594.7,46.4 L595.0,44.6 L595.3,47.5 L595.6,45.6 L595.9,50.8 L596.2,50.3 L596.5,52.4 L596.8,48.1 L597.1,42.7 L597.4,42.8 L597.7,38.2 L598.0,45.6 L598.3,47.6 L598.6,48.0 L598.9,44.5 L599.2,44.5 L599.5,44.8 L599.8,43.3 L600.1,45.6 L600.4,41.4 L600.7,43.0 L601.0,41.8 L601.3,48.3 L601.6,49.0 L601.9,48.4 L602.2,46.3 L602.5,51.5 L602.8,53.0 L603.1,53.6 L603.4,51.2 L603.7,53.1 L604.0,52.9 L604.3,57.2 L604.6,55.4 L604.9,53.2 L605.2,52.7 L605.5,53.8 L605.8,56.6 L606.1,56.0 L606.4,57.5 L606.7,55.2 L607.0,51.9 L607.3,58.1 L607.6,53.4 L607.9,55.4 L608.2,54.4 L608.5,51.6 L608.8,52.9 L609.1,53.1 L609.4,52.6 L609.7,53.5 L610.0,57.4 L610.3,55.0 L610.6,55.7 L610.9,53.9 L611.2,55.5 L611.5,51.5 L611.8,52.7 L612.1,55.9 L612.4,53.6 L612.7,51.1 L613.0,49.7 L613.3,51.2 L613.6,51.6 L613.9,47.3 L614.2,46.3 L614.5,49.6 L614.8,51.1 L615.1,46.4 L615.4,46.3 L615.7,43.8 L616.0,36.5 L616.3,39.8 L616.6,34.7 L616.9,36.8 L617.2,34.1 L617.5,33.6 L617.8,33.4 L618.1,32.6 L618.4,28.6 L618.7,29.8 L619.0,26.0 L619.3,26.4 L619.6,30.3 L619.9,35.6 L620.2,34.2 L620.5,33.6 L620.8,37.3 L621.1,40.1 L621.4,41.8 L621.7,38.9 L622.0,36.8 L622.3,41.8 L622.6,42.8 L622.9,41.1 L623.2,41.9 L623.5,39.5 L623.8,39.1 L624.1,43.5 L624.4,41.3 L624.7,44.6 L625.0,43.6 L625.3,40.5 L625.6,46.8 L625.9,49.3 L626.2,49.7 L626.5,52.6 L626.8,53.0 L627.1,46.2 L627.4,50.1 L627.7,50.1 L628.0,48.7 L628.3,47.9 L628.6,44.8 L628.9,44.7 L629.2,44.6 L629.5,46.0 L629.8,46.6 L630.1,41.2 L630.4,41.5 L630.7,46.9 L631.0,46.4 L631.3,47.9 L631.6,42.8 L631.9,43.7 L632.2,42.1 L632.5,42.0 L632.8,42.8 L633.1,46.3 L633.4,44.2 L633.7,44.5 L634.0,45.1 L634.3,46.3 L634.6,43.4 L634.9,46.2 L635.2,44.2 L635.5,43.0 L635.8,42.9 L636.1,46.7 L636.4,48.3 L636.7,47.8 L637.0,47.4 L637.3,47.2 L637.6,45.7 L637.9,47.2 L638.2,44.9 L638.5,43.5 L638.8,50.9 L639.1,47.0 L639.4,42.1 L639.7,42.7 L640.0,41.9 L640.3,48.8 L640.6,45.7 L640.9,42.2 L641.2,44.7 L641.5,41.2 L641.8,46.1 L642.1,41.8 L642.4,40.0 L642.7,44.6 L643.0,42.9 L643.3,42.2 L643.6,39.1 L643.9,43.6 L644.2,47.3 L644.5,41.4 L644.8,46.1 L645.1,40.4 L645.4,46.0 L645.7,42.2 L646.0,40.8 L646.3,43.5 L646.6,43.2 L646.9,40.9 L647.2,41.6 L647.5,37.2 L647.8,35.6 L648.1,42.2 L648.4,38.6 L648.7,37.9 L649.0,40.4 L649.3,36.6 L649.6,38.8 L649.9,41.6 L650.2,41.0 L650.5,40.3 L650.8,42.1 L651.1,38.6 L651.4,39.6 L651.7,40.3 L652.0,37.6 L652.3,41.3 L652.6,38.5 L652.9,43.8 L653.2,42.9 L653.5,42.1 L653.8,38.9 L654.1,41.4 L654.4,42.0 L654.7,44.8 L655.0,43.0 L655.3,40.5 L655.6,44.1 L655.9,43.9 L656.2,42.8 L656.5,45.6 L656.8,41.7 L657.1,40.8 L657.4,42.2 L657.7,40.3 L658.0,42.3 L658.3,44.4 L658.6,49.5 L658.9,50.2 L659.2,47.2 L659.5,52.3 L659.8,49.0 L660.1,49.2 L660.4,50.1 L660.7,48.0 L661.0,52.5 L661.3,49.4 L661.6,46.4 L661.9,52.5 L662.2,51.2 L662.5,53.1 L662.8,47.5 L663.1,56.2 L663.4,55.2 L663.7,55.4 L664.0,55.9 L664.3,55.7 L664.6,53.2 L664.9,55.8 L665.2,52.3 L665.5,52.5 L665.8,54.0 L666.1,52.9 L666.4,51.3 L666.7,55.3 L667.0,53.4 L667.3,51.8 L667.6,53.9 L667.9,51.6 L668.2,51.1 L668.5,53.6 L668.8,58.8 L669.1,51.4 L669.4,54.8 L669.7,54.6 L670.0,53.4 L670.3,48.4 L670.6,49.4 L670.9,50.4 L671.2,51.8 L671.5,48.4 L671.8,47.3 L672.1,51.8 L672.4,52.1 L672.7,51.5 L673.0,47.5 L673.3,48.3 L673.6,46.5 L673.9,49.6 L674.2,45.9 L674.5,48.6 L674.8,48.7 L675.1,46.2 L675.4,48.9 L675.7,46.5 L676.0,45.0 L676.3,45.2 L676.6,42.2 L676.9,44.6" fill="none" stroke="#3a3ae0" stroke-width="0.7" stroke-linejoin="round" stroke-opacity="0.55" clip-path="url(#cb1)"/>
<path d="M494.5,49.2 L494.9,48.9 L495.3,47.1 L495.7,44.9 L496.1,45.6 L496.5,46.2 L496.9,48.5 L497.3,51.0 L497.7,50.0 L498.1,49.9 L498.5,51.6 L498.9,50.4 L499.3,48.7 L499.7,52.5 L500.1,50.2 L500.5,51.3 L500.9,52.4 L501.3,53.0 L501.7,51.8 L502.1,54.3 L502.5,49.6 L502.9,48.0 L503.3,51.7 L503.7,50.7 L504.1,48.6 L504.5,47.6 L504.9,46.1 L505.3,43.1 L505.7,46.2 L506.1,45.8 L506.5,44.0 L506.9,42.7 L507.3,42.8 L507.7,40.7 L508.1,40.0 L508.5,38.4 L508.9,39.5 L509.3,41.0 L509.7,38.1 L510.1,38.9 L510.5,40.3 L510.9,40.3 L511.3,40.2 L511.7,38.9 L512.1,41.2 L512.5,38.8 L512.9,35.7 L513.3,38.1 L513.7,37.2 L514.1,38.5 L514.5,42.0 L514.9,40.9 L515.3,41.9 L515.7,40.0 L516.1,40.4 L516.5,38.2 L516.9,39.9 L517.3,41.6 L517.7,43.1 L518.1,43.2 L518.5,43.8 L518.9,43.7 L519.3,42.7 L519.7,47.1 L520.1,47.3 L520.5,49.0 L520.9,49.9 L521.3,48.4 L521.7,49.1 L522.1,47.4 L522.5,51.1 L522.9,51.4 L523.3,51.1 L523.7,50.7 L524.1,52.2 L524.5,51.2 L524.9,54.2 L525.3,55.7 L525.7,54.7 L526.1,54.3 L526.5,58.0 L526.9,55.3 L527.3,55.7 L527.7,57.2 L528.1,56.9 L528.5,56.3 L528.9,56.7 L529.3,58.7 L529.7,55.2 L530.1,58.3 L530.5,54.2 L530.9,56.2 L531.3,55.2 L531.7,55.5 L532.1,56.2 L532.5,54.6 L532.9,52.2 L533.3,53.2 L533.7,51.0 L534.1,52.6 L534.5,53.6 L534.9,52.6 L535.3,50.0 L535.7,51.5 L536.1,49.6 L536.5,48.4 L536.9,48.1 L537.3,47.2 L537.7,49.2 L538.1,48.7 L538.5,46.5 L538.9,46.6 L539.3,46.9 L539.7,50.5 L540.1,49.3 L540.5,50.0 L540.9,53.2 L541.3,51.3 L541.7,51.4 L542.1,51.0 L542.5,49.8 L542.9,50.0 L543.3,51.6 L543.7,52.5 L544.1,54.2 L544.5,55.3 L544.9,56.1 L545.3,56.2 L545.7,55.0 L546.1,51.3 L546.5,54.8 L546.9,56.7 L547.3,56.0 L547.7,57.5 L548.1,56.8 L548.5,55.9 L548.9,55.7 L549.3,56.0 L549.7,56.3 L550.1,59.7 L550.5,60.4 L550.9,59.2 L551.3,61.5 L551.7,62.5 L552.1,58.1 L552.5,59.6 L552.9,61.6 L553.3,60.7 L553.7,57.8 L554.1,61.7 L554.5,61.7 L554.9,59.2 L555.3,56.6 L555.7,58.3 L556.1,58.4 L556.5,57.3 L556.9,58.6 L557.3,58.9 L557.7,59.2 L558.1,61.3 L558.5,60.0 L558.9,58.2 L559.3,55.6 L559.7,58.8 L560.1,59.3 L560.5,58.3 L560.9,56.7 L561.3,58.6 L561.7,61.3 L562.1,61.5 L562.5,60.2 L562.9,62.7 L563.3,62.4 L563.7,62.3 L564.1,63.6 L564.5,64.2 L564.9,64.7 L565.3,61.1 L565.7,61.1 L566.1,61.4 L566.5,56.5 L566.9,57.6 L567.3,59.5 L567.7,57.8 L568.1,52.3 L568.5,49.4 L568.9,49.6 L569.3,50.1 L569.7,49.0 L570.1,46.1 L570.5,43.5 L570.9,43.8 L571.3,43.5 L571.7,41.7 L572.1,43.3 L572.5,40.7 L572.9,40.7 L573.3,38.0 L573.7,37.3 L574.1,35.6 L574.5,33.7 L574.9,30.2 L575.3,29.8 L575.7,29.1 L576.1,31.6 L576.5,28.5 L576.9,26.4 L577.3,24.5 L577.7,24.4 L578.1,26.4 L578.5,26.3 L578.9,27.6 L579.3,27.6 L579.7,30.2 L580.1,28.4 L580.5,29.6 L580.9,30.2 L581.3,31.2 L581.7,32.7 L582.1,34.0 L582.5,31.8 L582.9,31.2 L583.3,30.3 L583.7,32.2 L584.1,32.6 L584.5,33.8 L584.9,33.4 L585.3,34.9 L585.7,35.2 L586.1,32.9 L586.5,32.1 L586.9,31.9 L587.3,34.9 L587.7,36.4 L588.1,38.2 L588.5,40.9 L588.9,40.9 L589.3,38.6 L589.7,41.1 L590.1,40.8 L590.5,41.3 L590.9,38.8 L591.3,44.9 L591.7,43.3 L592.1,43.6 L592.5,43.1 L592.9,44.1 L593.3,44.9 L593.7,48.3 L594.1,50.7 L594.5,50.5 L594.9,47.8 L595.3,49.0 L595.7,48.1 L596.1,49.0 L596.5,46.9 L596.9,44.6 L597.3,44.1 L597.7,45.1 L598.1,47.2 L598.5,47.1 L598.9,42.8 L599.3,42.8 L599.7,43.7 L600.1,41.1 L600.5,43.7 L600.9,46.4 L601.3,42.4 L601.7,46.1 L602.1,48.7 L602.5,49.5 L602.9,56.1 L603.3,50.0 L603.7,53.5 L604.1,55.8 L604.5,56.5 L604.9,53.6 L605.3,54.1 L605.7,53.8 L606.1,57.4 L606.5,55.7 L606.9,54.1 L607.3,57.3 L607.7,53.7 L608.1,52.9 L608.5,55.1 L608.9,53.6 L609.3,55.4 L609.7,56.2 L610.1,54.7 L610.5,54.6 L610.9,54.0 L611.3,53.3 L611.7,52.5 L612.1,54.0 L612.5,54.2 L612.9,51.0 L613.3,51.9 L613.7,49.5 L614.1,48.8 L614.5,48.0 L614.9,46.2 L615.3,44.2 L615.7,43.6 L616.1,41.1 L616.5,39.3 L616.9,35.3 L617.3,34.5 L617.7,35.0 L618.1,32.7 L618.5,29.7 L618.9,29.9 L619.3,27.8 L619.7,29.0 L620.1,32.8 L620.5,34.4 L620.9,35.9 L621.3,38.5 L621.7,37.9 L622.1,38.1 L622.5,41.5 L622.9,40.1 L623.3,39.2 L623.7,44.4 L624.1,43.6 L624.5,44.4 L624.9,43.0 L625.3,44.5 L625.7,46.4 L626.1,48.7 L626.5,47.6 L626.9,48.4 L627.3,46.3 L627.7,49.6 L628.1,47.6 L628.5,45.9 L628.9,47.9 L629.3,47.8 L629.7,48.0 L630.1,44.3 L630.5,43.9 L630.9,47.5 L631.3,48.3 L631.7,45.7 L632.1,45.3 L632.5,42.5 L632.9,45.1 L633.3,44.7 L633.7,43.2 L634.1,43.6 L634.5,46.1 L634.9,44.2 L635.3,41.8 L635.7,42.9 L636.1,45.3 L636.5,44.8 L636.9,44.0 L637.3,43.9 L637.7,44.9 L638.1,44.2 L638.5,47.4 L638.9,47.8 L639.3,45.1 L639.7,41.0 L640.1,43.1 L640.5,43.4 L640.9,44.1 L641.3,42.0 L641.7,41.3 L642.1,43.6 L642.5,42.6 L642.9,42.9 L643.3,45.1 L643.7,41.6 L644.1,42.5 L644.5,45.5 L644.9,43.2 L645.3,41.7 L645.7,40.2 L646.1,41.9 L646.5,41.1 L646.9,41.0 L647.3,38.8 L647.7,38.9 L648.1,38.8 L648.5,40.0 L648.9,39.5 L649.3,40.7 L649.7,41.7 L650.1,43.4 L650.5,38.8 L650.9,37.4 L651.3,39.9 L651.7,37.7 L652.1,39.9 L652.5,40.7 L652.9,41.2 L653.3,42.3 L653.7,43.0 L654.1,38.6 L654.5,44.4 L654.9,45.4 L655.3,42.2 L655.7,42.5 L656.1,44.5 L656.5,45.1 L656.9,40.6 L657.3,41.5 L657.7,41.6 L658.1,44.4 L658.5,46.6 L658.9,47.9 L659.3,47.7 L659.7,49.4 L660.1,47.7 L660.5,48.1 L660.9,47.8 L661.3,48.8 L661.7,47.6 L662.1,53.3 L662.5,53.6 L662.9,52.8 L663.3,55.4 L663.7,53.1 L664.1,54.1 L664.5,53.1 L664.9,54.2 L665.3,53.3 L665.7,51.0 L666.1,52.1 L666.5,56.1 L666.9,51.8 L667.3,53.5 L667.7,52.7 L668.1,52.8 L668.5,54.4 L668.9,57.4 L669.3,54.0 L669.7,55.4 L670.1,52.1 L670.5,49.9 L670.9,50.6 L671.3,50.5 L671.7,51.2 L672.1,50.3 L672.5,49.5 L672.9,49.8 L673.3,48.8 L673.7,47.3 L674.1,47.2 L674.5,47.7 L674.9,50.3 L675.3,47.6 L675.7,46.1 L676.1,44.4 L676.5,44.8 L676.9,45.1" fill="none" stroke="#1c1cd0" stroke-width="1.05" stroke-linejoin="round" stroke-opacity="0.95" clip-path="url(#cb1)"/>
<path d="M494.5,51.5 L494.8,45.4 L495.1,48.0 L495.4,44.2 L495.7,49.3 L496.0,48.9 L496.3,48.8 L496.6,49.8 L496.9,49.1 L497.2,50.5 L497.5,49.6 L497.8,45.1 L498.1,50.1 L498.4,50.9 L498.7,46.1 L499.0,51.2 L499.3,50.0 L499.6,51.9 L499.9,48.6 L500.2,50.0 L500.5,51.1 L500.8,52.2 L501.1,51.5 L501.4,47.0 L501.7,54.5 L502.0,49.6 L502.3,48.4 L502.6,50.4 L502.9,51.0 L503.2,55.5 L503.5,53.5 L503.8,56.0 L504.1,52.1 L504.4,59.0 L504.7,57.3 L505.0,61.4 L505.3,54.8 L505.6,58.7 L505.9,55.4 L506.2,56.2 L506.5,54.2 L506.8,48.7 L507.1,49.8 L507.4,49.1 L507.7,48.5 L508.0,49.7 L508.3,47.4 L508.6,46.4 L508.9,50.4 L509.2,50.8 L509.5,48.8 L509.8,47.9 L510.1,47.4 L510.4,47.0 L510.7,47.7 L511.0,49.2 L511.3,48.9 L511.6,48.8 L511.9,45.9 L512.2,48.7 L512.5,48.0 L512.8,44.4 L513.1,44.8 L513.4,45.3 L513.7,40.2 L514.0,43.3 L514.3,41.8 L514.6,40.2 L514.9,41.9 L515.2,38.7 L515.5,41.1 L515.8,38.5 L516.1,46.1 L516.4,43.1 L516.7,42.0 L517.0,41.3 L517.3,43.5 L517.6,44.0 L517.9,42.7 L518.2,42.7 L518.5,39.0 L518.8,40.8 L519.1,40.2 L519.4,39.1 L519.7,37.8 L520.0,43.0 L520.3,45.4 L520.6,39.7 L520.9,45.6 L521.2,45.5 L521.5,42.6 L521.8,42.7 L522.1,42.4 L522.4,43.7 L522.7,40.9 L523.0,38.8 L523.3,44.0 L523.6,39.8 L523.9,46.4 L524.2,48.2 L524.5,45.8 L524.8,46.4 L525.1,46.3 L525.4,47.9 L525.7,47.3 L526.0,45.9 L526.3,48.2 L526.6,49.4 L526.9,51.4 L527.2,52.0 L527.5,49.6 L527.8,47.3 L528.1,48.3 L528.4,50.8 L528.7,56.2 L529.0,54.5 L529.3,53.6 L529.6,49.4 L529.9,52.4 L530.2,52.8 L530.5,49.5 L530.8,48.7 L531.1,52.4 L531.4,51.0 L531.7,53.5 L532.0,53.5 L532.3,49.8 L532.6,50.0 L532.9,46.9 L533.2,45.8 L533.5,48.2 L533.8,47.0 L534.1,49.4 L534.4,48.1 L534.7,48.8 L535.0,48.0 L535.3,41.1 L535.6,47.0 L535.9,41.8 L536.2,45.0 L536.5,44.2 L536.8,45.3 L537.1,46.9 L537.4,42.1 L537.7,45.7 L538.0,45.2 L538.3,41.7 L538.6,46.9 L538.9,44.2 L539.2,41.5 L539.5,41.1 L539.8,49.5 L540.1,42.8 L540.4,40.4 L540.7,42.2 L541.0,41.5 L541.3,40.3 L541.6,39.8 L541.9,37.4 L542.2,40.8 L542.5,37.5 L542.8,36.9 L543.1,40.2 L543.4,41.0 L543.7,43.0 L544.0,41.6 L544.3,39.9 L544.6,41.8 L544.9,41.4 L545.2,44.6 L545.5,37.1 L545.8,40.1 L546.1,42.3 L546.4,38.3 L546.7,40.8 L547.0,39.6 L547.3,39.0 L547.6,40.4 L547.9,40.3 L548.2,37.1 L548.5,35.9 L548.8,36.4 L549.1,38.9 L549.4,32.9 L549.7,34.8 L550.0,35.4 L550.3,34.2 L550.6,36.2 L550.9,35.2 L551.2,36.6 L551.5,37.4 L551.8,33.8 L552.1,32.1 L552.4,30.0 L552.7,30.0 L553.0,31.5 L553.3,30.0 L553.6,33.7 L553.9,37.6 L554.2,38.8 L554.5,38.1 L554.8,34.5 L555.1,39.6 L555.4,35.9 L555.7,39.7 L556.0,44.9 L556.3,39.2 L556.6,43.8 L556.9,43.7 L557.2,43.8 L557.5,42.8 L557.8,47.0 L558.1,45.7 L558.4,50.1 L558.7,52.1 L559.0,48.1 L559.3,48.8 L559.6,50.9 L559.9,48.3 L560.2,48.7 L560.5,52.1 L560.8,51.3 L561.1,46.8 L561.4,50.7 L561.7,53.6 L562.0,52.0 L562.3,52.7 L562.6,57.8 L562.9,58.0 L563.2,53.3 L563.5,52.0 L563.8,53.3 L564.1,49.9 L564.4,54.1 L564.7,55.5 L565.0,55.8 L565.3,48.6 L565.6,50.8 L565.9,53.3 L566.2,57.2 L566.5,53.6 L566.8,52.1 L567.1,55.4 L567.4,55.6 L567.7,53.5 L568.0,52.6 L568.3,55.1 L568.6,55.0 L568.9,53.2 L569.2,52.5 L569.5,51.3 L569.8,49.9 L570.1,48.6 L570.4,52.9 L570.7,51.3 L571.0,49.3 L571.3,51.7 L571.6,50.5 L571.9,52.5 L572.2,46.7 L572.5,51.6 L572.8,48.3 L573.1,48.9 L573.4,47.1 L573.7,49.3 L574.0,48.3 L574.3,45.7 L574.6,46.5 L574.9,48.1 L575.2,47.3 L575.5,51.0 L575.8,45.6 L576.1,44.3 L576.4,46.2 L576.7,47.7 L577.0,47.8 L577.3,49.1 L577.6,51.1 L577.9,45.6 L578.2,44.2 L578.5,41.9 L578.8,45.3 L579.1,45.4 L579.4,42.5 L579.7,46.8 L580.0,45.0 L580.3,46.7 L580.6,43.2 L580.9,41.3 L581.2,41.3 L581.5,39.3 L581.8,38.6 L582.1,42.7 L582.4,43.8 L582.7,46.0 L583.0,40.7 L583.3,39.7 L583.6,37.8 L583.9,41.8 L584.2,38.5 L584.5,35.6 L584.8,37.1 L585.1,37.6 L585.4,33.6 L585.7,38.8 L586.0,37.5 L586.3,35.5 L586.6,32.9 L586.9,38.3 L587.2,38.6 L587.5,37.6 L587.8,31.5 L588.1,31.7 L588.4,33.6 L588.7,29.4 L589.0,30.6 L589.3,29.3 L589.6,35.4 L589.9,31.9 L590.2,29.8 L590.5,29.0 L590.8,27.6 L591.1,26.5 L591.4,28.6 L591.7,23.1 L592.0,26.2 L592.3,23.2 L592.6,23.0 L592.9,27.0 L593.2,25.1 L593.5,26.6 L593.8,25.1 L594.1,20.8 L594.4,26.3 L594.7,22.2 L595.0,25.7 L595.3,18.6 L595.6,18.5 L595.9,25.3 L596.2,26.2 L596.5,27.7 L596.8,23.1 L597.1,29.4 L597.4,27.5 L597.7,30.6 L598.0,30.9 L598.3,32.7 L598.6,34.9 L598.9,31.9 L599.2,35.5 L599.5,40.0 L599.8,34.7 L600.1,36.3 L600.4,39.4 L600.7,40.6 L601.0,44.5 L601.3,41.7 L601.6,48.6 L601.9,48.9 L602.2,48.4 L602.5,47.1 L602.8,50.2 L603.1,48.6 L603.4,50.7 L603.7,50.9 L604.0,53.0 L604.3,51.7 L604.6,56.2 L604.9,51.7 L605.2,55.4 L605.5,59.2 L605.8,54.9 L606.1,60.0 L606.4,55.3 L606.7,60.2 L607.0,58.1 L607.3,58.9 L607.6,58.8 L607.9,58.5 L608.2,56.9 L608.5,61.4 L608.8,57.5 L609.1,55.5 L609.4,61.2 L609.7,61.9 L610.0,63.3 L610.3,65.3 L610.6,59.2 L610.9,62.5 L611.2,61.8 L611.5,57.8 L611.8,59.6 L612.1,55.8 L612.4,60.8 L612.7,65.1 L613.0,57.5 L613.3,58.3 L613.6,59.7 L613.9,60.6 L614.2,61.1 L614.5,55.8 L614.8,59.1 L615.1,60.9 L615.4,55.3 L615.7,56.6 L616.0,61.8 L616.3,60.7 L616.6,60.3 L616.9,54.6 L617.2,59.5 L617.5,60.3 L617.8,58.5 L618.1,58.6 L618.4,65.4 L618.7,57.6 L619.0,54.2 L619.3,55.3 L619.6,54.5 L619.9,56.2 L620.2,57.1 L620.5,57.0 L620.8,55.5 L621.1,51.2 L621.4,54.9 L621.7,57.2 L622.0,54.0 L622.3,56.4 L622.6,55.4 L622.9,54.7 L623.2,56.3 L623.5,58.6 L623.8,57.0 L624.1,55.5 L624.4,56.9 L624.7,53.4 L625.0,50.9 L625.3,55.2 L625.6,53.4 L625.9,54.8 L626.2,54.6 L626.5,53.1 L626.8,50.2 L627.1,52.3 L627.4,53.7 L627.7,54.1 L628.0,54.0 L628.3,47.5 L628.6,51.6 L628.9,55.9 L629.2,57.5 L629.5,53.5 L629.8,51.5 L630.1,47.8 L630.4,51.7 L630.7,52.9 L631.0,48.5 L631.3,51.2 L631.6,48.7 L631.9,49.3 L632.2,45.9 L632.5,50.3 L632.8,47.9 L633.1,53.9 L633.4,51.0 L633.7,48.3 L634.0,52.8 L634.3,52.1 L634.6,47.9 L634.9,52.2 L635.2,44.6 L635.5,47.7 L635.8,49.6 L636.1,44.6 L636.4,51.2 L636.7,50.8 L637.0,50.1 L637.3,50.9 L637.6,53.5 L637.9,50.2 L638.2,49.1 L638.5,50.0 L638.8,49.1 L639.1,54.7 L639.4,50.4 L639.7,51.9 L640.0,54.1 L640.3,54.2 L640.6,56.3 L640.9,57.1 L641.2,55.2 L641.5,52.4 L641.8,51.5 L642.1,53.9 L642.4,53.3 L642.7,51.6 L643.0,48.2 L643.3,55.9 L643.6,53.3 L643.9,50.9 L644.2,50.7 L644.5,49.1 L644.8,47.9 L645.1,50.4 L645.4,51.4 L645.7,49.5 L646.0,46.1 L646.3,48.7 L646.6,51.6 L646.9,50.1 L647.2,49.6 L647.5,46.2 L647.8,48.6 L648.1,48.3 L648.4,45.4 L648.7,45.1 L649.0,50.4 L649.3,47.5 L649.6,48.5 L649.9,46.1 L650.2,48.2 L650.5,47.9 L650.8,43.4 L651.1,46.2 L651.4,43.8 L651.7,45.4 L652.0,44.0 L652.3,43.1 L652.6,44.2 L652.9,45.0 L653.2,45.5 L653.5,45.2 L653.8,43.2 L654.1,43.5 L654.4,42.4 L654.7,43.5 L655.0,44.2 L655.3,45.6 L655.6,46.8 L655.9,39.6 L656.2,40.1 L656.5,43.1 L656.8,42.9 L657.1,42.1 L657.4,39.9 L657.7,38.4 L658.0,42.4 L658.3,39.3 L658.6,42.1 L658.9,41.8 L659.2,42.1 L659.5,42.1 L659.8,40.0 L660.1,40.6 L660.4,38.7 L660.7,39.1 L661.0,40.8 L661.3,38.3 L661.6,41.9 L661.9,40.6 L662.2,42.1 L662.5,41.1 L662.8,42.2 L663.1,40.0 L663.4,40.5 L663.7,37.4 L664.0,41.6 L664.3,45.7 L664.6,43.9 L664.9,43.6 L665.2,44.3 L665.5,49.3 L665.8,46.3 L666.1,50.5 L666.4,50.5 L666.7,48.9 L667.0,54.4 L667.3,52.1 L667.6,52.4 L667.9,53.1 L668.2,53.8 L668.5,54.4 L668.8,56.4 L669.1,54.1 L669.4,54.1 L669.7,51.8 L670.0,48.6 L670.3,49.3 L670.6,50.2 L670.9,51.3 L671.2,53.3 L671.5,48.6 L671.8,53.0 L672.1,47.7 L672.4,49.8 L672.7,49.8 L673.0,47.1 L673.3,47.0 L673.6,50.1 L673.9,48.0 L674.2,48.9 L674.5,46.4 L674.8,51.8 L675.1,47.6 L675.4,47.0 L675.7,52.9 L676.0,50.8 L676.3,47.9 L676.6,49.1 L676.9,46.0" fill="none" stroke="#e03030" stroke-width="0.7" stroke-linejoin="round" stroke-opacity="0.55" clip-path="url(#cb1)"/>
<path d="M494.5,49.6 L494.9,47.7 L495.3,46.4 L495.7,49.2 L496.1,48.4 L496.5,46.5 L496.9,47.4 L497.3,48.4 L497.7,47.3 L498.1,49.6 L498.5,50.7 L498.9,48.2 L499.3,48.3 L499.7,51.9 L500.1,50.4 L500.5,51.3 L500.9,54.1 L501.3,51.7 L501.7,52.5 L502.1,54.2 L502.5,52.3 L502.9,54.3 L503.3,56.5 L503.7,56.2 L504.1,55.8 L504.5,55.9 L504.9,56.3 L505.3,57.9 L505.7,57.4 L506.1,56.4 L506.5,52.9 L506.9,53.0 L507.3,52.0 L507.7,50.8 L508.1,50.7 L508.5,50.3 L508.9,49.4 L509.3,50.3 L509.7,49.6 L510.1,46.8 L510.5,48.1 L510.9,49.1 L511.3,49.0 L511.7,48.8 L512.1,46.1 L512.5,45.6 L512.9,47.2 L513.3,43.2 L513.7,42.4 L514.1,42.9 L514.5,42.9 L514.9,41.9 L515.3,41.6 L515.7,42.3 L516.1,40.3 L516.5,40.0 L516.9,40.5 L517.3,41.6 L517.7,42.1 L518.1,42.1 L518.5,40.2 L518.9,40.7 L519.3,39.8 L519.7,37.8 L520.1,40.4 L520.5,44.9 L520.9,40.3 L521.3,43.4 L521.7,45.1 L522.1,42.1 L522.5,42.7 L522.9,44.0 L523.3,44.3 L523.7,47.2 L524.1,46.4 L524.5,44.4 L524.9,45.9 L525.3,45.8 L525.7,45.7 L526.1,45.7 L526.5,50.3 L526.9,48.3 L527.3,48.1 L527.7,47.7 L528.1,49.9 L528.5,51.4 L528.9,53.5 L529.3,52.5 L529.7,50.0 L530.1,50.5 L530.5,49.9 L530.9,50.7 L531.3,51.5 L531.7,52.0 L532.1,51.3 L532.5,49.0 L532.9,45.8 L533.3,48.2 L533.7,47.0 L534.1,48.1 L534.5,49.6 L534.9,48.0 L535.3,48.5 L535.7,45.7 L536.1,44.0 L536.5,45.5 L536.9,44.3 L537.3,46.4 L537.7,47.3 L538.1,44.4 L538.5,45.3 L538.9,44.0 L539.3,42.6 L539.7,42.2 L540.1,43.7 L540.5,44.3 L540.9,42.5 L541.3,39.9 L541.7,39.6 L542.1,38.2 L542.5,39.4 L542.9,38.1 L543.3,41.5 L543.7,40.9 L544.1,40.4 L544.5,40.3 L544.9,39.2 L545.3,41.3 L545.7,39.9 L546.1,41.1 L546.5,42.6 L546.9,39.7 L547.3,40.6 L547.7,39.6 L548.1,36.2 L548.5,36.8 L548.9,36.6 L549.3,34.3 L549.7,34.7 L550.1,34.9 L550.5,32.4 L550.9,34.8 L551.3,34.8 L551.7,35.0 L552.1,29.7 L552.5,31.4 L552.9,30.9 L553.3,32.0 L553.7,31.7 L554.1,33.2 L554.5,35.1 L554.9,34.1 L555.3,36.2 L555.7,39.5 L556.1,41.2 L556.5,41.4 L556.9,43.0 L557.3,46.7 L557.7,46.6 L558.1,45.5 L558.5,48.5 L558.9,49.4 L559.3,49.7 L559.7,50.4 L560.1,50.6 L560.5,53.6 L560.9,51.9 L561.3,50.6 L561.7,52.4 L562.1,54.1 L562.5,55.3 L562.9,55.9 L563.3,57.4 L563.7,49.9 L564.1,52.7 L564.5,56.8 L564.9,57.7 L565.3,53.7 L565.7,54.6 L566.1,56.3 L566.5,53.4 L566.9,53.8 L567.3,54.1 L567.7,55.1 L568.1,54.9 L568.5,54.0 L568.9,51.9 L569.3,54.7 L569.7,49.2 L570.1,50.4 L570.5,50.6 L570.9,52.5 L571.3,50.4 L571.7,50.1 L572.1,49.9 L572.5,50.5 L572.9,49.5 L573.3,46.8 L573.7,47.9 L574.1,47.5 L574.5,47.9 L574.9,48.1 L575.3,47.9 L575.7,49.7 L576.1,48.5 L576.5,47.0 L576.9,47.0 L577.3,46.1 L577.7,46.3 L578.1,45.3 L578.5,45.2 L578.9,44.6 L579.3,43.6 L579.7,44.9 L580.1,44.7 L580.5,43.0 L580.9,43.7 L581.3,42.2 L581.7,42.4 L582.1,40.5 L582.5,43.5 L582.9,39.8 L583.3,41.1 L583.7,39.8 L584.1,39.4 L584.5,36.8 L584.9,33.7 L585.3,38.8 L585.7,37.5 L586.1,37.8 L586.5,34.7 L586.9,35.9 L587.3,35.9 L587.7,34.8 L588.1,31.5 L588.5,31.4 L588.9,32.6 L589.3,34.8 L589.7,31.6 L590.1,28.6 L590.5,29.8 L590.9,28.3 L591.3,27.5 L591.7,24.7 L592.1,22.4 L592.5,25.8 L592.9,24.9 L593.3,24.8 L593.7,24.7 L594.1,25.5 L594.5,25.9 L594.9,23.4 L595.3,20.7 L595.7,23.0 L596.1,24.3 L596.5,25.3 L596.9,26.2 L597.3,28.7 L597.7,31.3 L598.1,32.2 L598.5,34.9 L598.9,33.0 L599.3,36.0 L599.7,37.9 L600.1,39.3 L600.5,42.7 L600.9,44.4 L601.3,46.3 L601.7,44.1 L602.1,47.1 L602.5,49.6 L602.9,49.7 L603.3,48.0 L603.7,52.5 L604.1,52.2 L604.5,52.8 L604.9,56.5 L605.3,57.3 L605.7,57.7 L606.1,59.1 L606.5,57.8 L606.9,58.8 L607.3,59.2 L607.7,59.5 L608.1,56.7 L608.5,58.4 L608.9,56.5 L609.3,60.6 L609.7,61.2 L610.1,60.3 L610.5,61.4 L610.9,61.6 L611.3,58.8 L611.7,57.6 L612.1,61.9 L612.5,64.1 L612.9,59.6 L613.3,60.0 L613.7,59.1 L614.1,58.2 L614.5,59.0 L614.9,59.3 L615.3,59.6 L615.7,57.3 L616.1,58.2 L616.5,61.1 L616.9,58.6 L617.3,60.9 L617.7,59.5 L618.1,60.0 L618.5,60.2 L618.9,57.5 L619.3,54.9 L619.7,57.6 L620.1,57.0 L620.5,57.7 L620.9,53.8 L621.3,55.5 L621.7,56.8 L622.1,54.5 L622.5,53.4 L622.9,57.2 L623.3,55.0 L623.7,51.9 L624.1,56.4 L624.5,54.1 L624.9,55.3 L625.3,53.8 L625.7,54.0 L626.1,55.5 L626.5,53.0 L626.9,51.0 L627.3,51.9 L627.7,54.2 L628.1,53.6 L628.5,53.4 L628.9,54.3 L629.3,54.1 L629.7,51.6 L630.1,48.7 L630.5,51.8 L630.9,53.0 L631.3,49.8 L631.7,48.0 L632.1,49.3 L632.5,49.4 L632.9,51.7 L633.3,51.5 L633.7,49.0 L634.1,50.5 L634.5,49.1 L634.9,48.4 L635.3,45.8 L635.7,47.0 L636.1,48.2 L636.5,50.3 L636.9,50.9 L637.3,54.1 L637.7,53.9 L638.1,50.7 L638.5,51.2 L638.9,51.3 L639.3,52.7 L639.7,55.0 L640.1,51.9 L640.5,54.0 L640.9,55.8 L641.3,55.5 L641.7,50.7 L642.1,52.6 L642.5,53.6 L642.9,51.7 L643.3,49.7 L643.7,50.6 L644.1,49.8 L644.5,50.9 L644.9,49.2 L645.3,53.5 L645.7,51.0 L646.1,48.4 L646.5,50.6 L646.9,50.1 L647.3,49.6 L647.7,50.1 L648.1,48.5 L648.5,48.5 L648.9,48.6 L649.3,49.5 L649.7,49.8 L650.1,45.9 L650.5,49.9 L650.9,48.3 L651.3,42.6 L651.7,42.8 L652.1,43.8 L652.5,43.7 L652.9,42.4 L653.3,43.2 L653.7,43.0 L654.1,42.1 L654.5,41.2 L654.9,43.5 L655.3,46.5 L655.7,40.6 L656.1,42.2 L656.5,43.5 L656.9,42.2 L657.3,43.4 L657.7,42.9 L658.1,40.0 L658.5,42.4 L658.9,40.3 L659.3,38.2 L659.7,39.4 L660.1,40.9 L660.5,41.7 L660.9,40.5 L661.3,44.4 L661.7,41.5 L662.1,39.6 L662.5,40.7 L662.9,41.0 L663.3,41.8 L663.7,41.0 L664.1,42.3 L664.5,42.6 L664.9,43.0 L665.3,46.8 L665.7,47.5 L666.1,49.2 L666.5,51.2 L666.9,52.7 L667.3,51.6 L667.7,50.0 L668.1,53.1 L668.5,55.5 L668.9,52.8 L669.3,54.2 L669.7,53.6 L670.1,50.8 L670.5,50.0 L670.9,53.1 L671.3,53.0 L671.7,51.9 L672.1,53.5 L672.5,53.3 L672.9,50.4 L673.3,53.5 L673.7,48.9 L674.1,48.7 L674.5,47.0 L674.9,47.4 L675.3,47.2 L675.7,49.6 L676.1,50.0 L676.5,47.8 L676.9,45.5" fill="none" stroke="#cc1218" stroke-width="1.05" stroke-linejoin="round" stroke-opacity="0.95" clip-path="url(#cb1)"/>
<path d="M494.5,107.6 L494.8,108.7 L495.1,104.6 L495.4,105.9 L495.7,105.6 L496.0,106.0 L496.3,106.2 L496.6,107.7 L496.9,108.8 L497.2,109.7 L497.5,109.7 L497.8,110.0 L498.1,109.5 L498.4,110.2 L498.7,110.9 L499.0,106.3 L499.3,108.0 L499.6,109.5 L499.9,107.6 L500.2,108.8 L500.5,107.6 L500.8,109.0 L501.1,111.5 L501.4,112.3 L501.7,108.8 L502.0,110.5 L502.3,114.1 L502.6,114.0 L502.9,113.0 L503.2,109.9 L503.5,112.9 L503.8,112.5 L504.1,111.6 L504.4,112.1 L504.7,105.7 L505.0,111.9 L505.3,113.8 L505.6,111.3 L505.9,110.7 L506.2,113.5 L506.5,112.4 L506.8,113.8 L507.1,116.5 L507.4,114.6 L507.7,115.2 L508.0,113.9 L508.3,113.7 L508.6,113.3 L508.9,111.9 L509.2,113.2 L509.5,109.6 L509.8,114.1 L510.1,117.2 L510.4,112.4 L510.7,113.6 L511.0,111.7 L511.3,113.9 L511.6,115.1 L511.9,116.9 L512.2,112.6 L512.5,111.6 L512.8,112.1 L513.1,112.5 L513.4,114.4 L513.7,108.7 L514.0,113.1 L514.3,109.0 L514.6,115.4 L514.9,113.1 L515.2,114.6 L515.5,117.3 L515.8,115.5 L516.1,112.7 L516.4,114.7 L516.7,115.6 L517.0,112.1 L517.3,113.1 L517.6,112.4 L517.9,117.8 L518.2,115.9 L518.5,115.4 L518.8,114.3 L519.1,112.8 L519.4,114.5 L519.7,117.3 L520.0,115.7 L520.3,116.4 L520.6,116.0 L520.9,112.3 L521.2,114.5 L521.5,116.5 L521.8,118.9 L522.1,112.8 L522.4,114.0 L522.7,117.5 L523.0,115.7 L523.3,113.0 L523.6,115.5 L523.9,114.0 L524.2,112.4 L524.5,115.5 L524.8,115.7 L525.1,115.7 L525.4,116.9 L525.7,115.2 L526.0,115.3 L526.3,113.7 L526.6,111.1 L526.9,112.6 L527.2,116.1 L527.5,116.2 L527.8,119.4 L528.1,113.9 L528.4,111.7 L528.7,116.2 L529.0,116.4 L529.3,112.6 L529.6,110.4 L529.9,113.9 L530.2,116.1 L530.5,113.1 L530.8,113.9 L531.1,113.6 L531.4,112.2 L531.7,111.8 L532.0,116.5 L532.3,117.9 L532.6,114.8 L532.9,113.2 L533.2,121.4 L533.5,114.8 L533.8,115.7 L534.1,114.9 L534.4,116.7 L534.7,114.0 L535.0,115.8 L535.3,114.5 L535.6,117.3 L535.9,113.9 L536.2,113.2 L536.5,113.5 L536.8,116.9 L537.1,111.3 L537.4,115.4 L537.7,116.6 L538.0,118.7 L538.3,118.0 L538.6,116.6 L538.9,116.0 L539.2,117.7 L539.5,115.0 L539.8,114.9 L540.1,112.0 L540.4,115.1 L540.7,113.2 L541.0,116.0 L541.3,119.3 L541.6,116.2 L541.9,117.7 L542.2,120.6 L542.5,116.1 L542.8,118.3 L543.1,116.4 L543.4,114.9 L543.7,113.9 L544.0,116.6 L544.3,116.5 L544.6,116.7 L544.9,116.0 L545.2,117.0 L545.5,117.8 L545.8,118.3 L546.1,116.9 L546.4,115.9 L546.7,117.4 L547.0,116.9 L547.3,117.3 L547.6,116.5 L547.9,119.2 L548.2,116.1 L548.5,115.5 L548.8,117.3 L549.1,116.2 L549.4,117.0 L549.7,112.6 L550.0,118.3 L550.3,115.9 L550.6,114.3 L550.9,114.9 L551.2,117.4 L551.5,116.4 L551.8,121.2 L552.1,115.9 L552.4,119.8 L552.7,120.0 L553.0,115.6 L553.3,116.8 L553.6,115.4 L553.9,119.2 L554.2,116.7 L554.5,115.7 L554.8,121.1 L555.1,119.8 L555.4,117.4 L555.7,122.0 L556.0,120.0 L556.3,124.1 L556.6,121.3 L556.9,117.6 L557.2,120.1 L557.5,118.1 L557.8,120.0 L558.1,119.5 L558.4,120.5 L558.7,120.9 L559.0,118.7 L559.3,119.2 L559.6,123.7 L559.9,124.4 L560.2,122.3 L560.5,120.5 L560.8,118.8 L561.1,119.1 L561.4,117.4 L561.7,122.3 L562.0,119.3 L562.3,121.7 L562.6,119.2 L562.9,124.3 L563.2,126.1 L563.5,117.3 L563.8,124.5 L564.1,121.9 L564.4,118.8 L564.7,116.5 L565.0,123.1 L565.3,119.2 L565.6,120.0 L565.9,118.2 L566.2,116.0 L566.5,121.5 L566.8,117.0 L567.1,118.4 L567.4,111.3 L567.7,113.9 L568.0,113.5 L568.3,118.3 L568.6,112.3 L568.9,111.4 L569.2,113.3 L569.5,113.3 L569.8,115.4 L570.1,111.6 L570.4,108.1 L570.7,107.5 L571.0,102.2 L571.3,103.8 L571.6,106.6 L571.9,106.6 L572.2,102.4 L572.5,102.5 L572.8,101.8 L573.1,104.8 L573.4,102.7 L573.7,102.2 L574.0,100.4 L574.3,97.6 L574.6,96.9 L574.9,99.0 L575.2,95.2 L575.5,99.1 L575.8,99.4 L576.1,96.1 L576.4,95.9 L576.7,94.1 L577.0,95.7 L577.3,91.7 L577.6,90.2 L577.9,93.1 L578.2,95.8 L578.5,93.3 L578.8,91.4 L579.1,91.8 L579.4,89.7 L579.7,85.6 L580.0,87.8 L580.3,83.3 L580.6,86.0 L580.9,82.1 L581.2,84.2 L581.5,82.5 L581.8,79.4 L582.1,85.6 L582.4,85.4 L582.7,82.2 L583.0,85.8 L583.3,85.3 L583.6,82.0 L583.9,84.8 L584.2,84.4 L584.5,85.8 L584.8,83.4 L585.1,84.6 L585.4,85.6 L585.7,84.8 L586.0,84.1 L586.3,83.0 L586.6,82.5 L586.9,83.1 L587.2,83.5 L587.5,85.1 L587.8,85.4 L588.1,82.8 L588.4,82.5 L588.7,83.8 L589.0,87.4 L589.3,87.6 L589.6,84.6 L589.9,87.4 L590.2,85.2 L590.5,86.1 L590.8,86.3 L591.1,84.7 L591.4,82.5 L591.7,81.8 L592.0,88.6 L592.3,90.0 L592.6,85.8 L592.9,88.5 L593.2,86.4 L593.5,88.4 L593.8,86.4 L594.1,87.3 L594.4,91.0 L594.7,87.1 L595.0,92.9 L595.3,91.5 L595.6,85.1 L595.9,90.1 L596.2,91.1 L596.5,93.2 L596.8,93.1 L597.1,91.9 L597.4,90.3 L597.7,90.9 L598.0,91.7 L598.3,97.2 L598.6,94.7 L598.9,91.4 L599.2,93.6 L599.5,94.5 L599.8,96.7 L600.1,95.6 L600.4,94.1 L600.7,98.8 L601.0,97.3 L601.3,94.2 L601.6,94.9 L601.9,98.0 L602.2,100.3 L602.5,102.2 L602.8,101.2 L603.1,99.1 L603.4,101.9 L603.7,103.1 L604.0,101.9 L604.3,101.8 L604.6,104.7 L604.9,105.0 L605.2,102.7 L605.5,106.0 L605.8,102.0 L606.1,104.6 L606.4,105.2 L606.7,102.8 L607.0,105.2 L607.3,106.7 L607.6,99.8 L607.9,104.5 L608.2,110.4 L608.5,102.7 L608.8,102.7 L609.1,100.4 L609.4,103.4 L609.7,99.3 L610.0,100.0 L610.3,100.8 L610.6,101.1 L610.9,101.4 L611.2,102.5 L611.5,103.7 L611.8,101.0 L612.1,100.5 L612.4,96.4 L612.7,97.1 L613.0,104.1 L613.3,103.0 L613.6,99.9 L613.9,99.6 L614.2,99.9 L614.5,98.0 L614.8,101.2 L615.1,98.7 L615.4,98.6 L615.7,101.3 L616.0,93.8 L616.3,98.5 L616.6,93.0 L616.9,94.4 L617.2,94.2 L617.5,93.3 L617.8,95.3 L618.1,92.5 L618.4,94.1 L618.7,92.3 L619.0,94.7 L619.3,91.6 L619.6,94.8 L619.9,91.3 L620.2,95.5 L620.5,94.0 L620.8,93.5 L621.1,95.7 L621.4,94.4 L621.7,89.7 L622.0,94.6 L622.3,87.1 L622.6,92.6 L622.9,91.1 L623.2,88.6 L623.5,91.9 L623.8,91.8 L624.1,97.1 L624.4,93.2 L624.7,96.5 L625.0,93.5 L625.3,88.7 L625.6,88.1 L625.9,92.9 L626.2,91.0 L626.5,91.2 L626.8,89.1 L627.1,88.9 L627.4,91.1 L627.7,90.2 L628.0,89.4 L628.3,91.0 L628.6,95.0 L628.9,95.0 L629.2,92.8 L629.5,94.0 L629.8,94.1 L630.1,96.1 L630.4,95.6 L630.7,95.4 L631.0,94.2 L631.3,95.6 L631.6,98.5 L631.9,93.0 L632.2,90.1 L632.5,95.6 L632.8,93.7 L633.1,95.6 L633.4,98.9 L633.7,95.1 L634.0,90.3 L634.3,89.4 L634.6,94.6 L634.9,91.4 L635.2,94.7 L635.5,92.4 L635.8,93.5 L636.1,93.1 L636.4,95.5 L636.7,94.8 L637.0,97.9 L637.3,100.4 L637.6,96.9 L637.9,94.1 L638.2,97.6 L638.5,95.0 L638.8,97.2 L639.1,98.0 L639.4,100.2 L639.7,99.7 L640.0,99.6 L640.3,99.2 L640.6,96.2 L640.9,97.8 L641.2,100.0 L641.5,98.8 L641.8,95.6 L642.1,97.0 L642.4,97.4 L642.7,97.9 L643.0,96.3 L643.3,102.2 L643.6,98.5 L643.9,95.6 L644.2,101.2 L644.5,99.8 L644.8,100.6 L645.1,98.1 L645.4,99.2 L645.7,101.3 L646.0,107.5 L646.3,103.0 L646.6,103.1 L646.9,101.2 L647.2,103.0 L647.5,104.8 L647.8,99.3 L648.1,99.4 L648.4,107.1 L648.7,105.7 L649.0,105.8 L649.3,110.6 L649.6,110.9 L649.9,104.0 L650.2,108.3 L650.5,110.7 L650.8,107.3 L651.1,107.5 L651.4,109.1 L651.7,105.8 L652.0,106.2 L652.3,108.2 L652.6,106.9 L652.9,111.4 L653.2,105.9 L653.5,110.6 L653.8,103.9 L654.1,107.1 L654.4,104.0 L654.7,106.1 L655.0,110.4 L655.3,112.0 L655.6,113.4 L655.9,108.9 L656.2,109.4 L656.5,109.3 L656.8,110.6 L657.1,108.1 L657.4,109.0 L657.7,108.1 L658.0,109.8 L658.3,108.4 L658.6,108.8 L658.9,107.3 L659.2,107.1 L659.5,105.1 L659.8,106.2 L660.1,105.3 L660.4,107.2 L660.7,102.4 L661.0,111.6 L661.3,103.7 L661.6,106.1 L661.9,105.7 L662.2,99.0 L662.5,104.0 L662.8,106.2 L663.1,99.5 L663.4,107.1 L663.7,102.8 L664.0,100.6 L664.3,101.7 L664.6,98.5 L664.9,105.0 L665.2,102.4 L665.5,102.2 L665.8,105.3 L666.1,112.2 L666.4,104.3 L666.7,102.8 L667.0,100.9 L667.3,101.9 L667.6,103.6 L667.9,105.2 L668.2,101.8 L668.5,102.4 L668.8,100.0 L669.1,105.2 L669.4,97.8 L669.7,103.6 L670.0,104.9 L670.3,106.2 L670.6,103.2 L670.9,105.0 L671.2,106.7 L671.5,107.2 L671.8,104.4 L672.1,103.4 L672.4,105.8 L672.7,106.0 L673.0,104.1 L673.3,103.7 L673.6,103.5 L673.9,110.4 L674.2,107.2 L674.5,107.0 L674.8,109.9 L675.1,111.7 L675.4,109.6 L675.7,102.9 L676.0,105.5 L676.3,105.6 L676.6,107.3 L676.9,105.2" fill="none" stroke="#3a3ae0" stroke-width="0.7" stroke-linejoin="round" stroke-opacity="0.55" clip-path="url(#cb2)"/>
<path d="M494.5,108.3 L494.9,106.4 L495.3,107.9 L495.7,105.4 L496.1,104.8 L496.5,105.9 L496.9,109.4 L497.3,111.2 L497.7,109.8 L498.1,108.1 L498.5,104.9 L498.9,108.9 L499.3,108.2 L499.7,109.3 L500.1,106.8 L500.5,105.7 L500.9,109.6 L501.3,113.3 L501.7,110.1 L502.1,111.4 L502.5,113.3 L502.9,110.1 L503.3,109.3 L503.7,111.9 L504.1,113.2 L504.5,112.3 L504.9,111.5 L505.3,112.2 L505.7,112.1 L506.1,111.1 L506.5,111.4 L506.9,110.8 L507.3,112.8 L507.7,113.2 L508.1,113.6 L508.5,113.8 L508.9,111.1 L509.3,109.9 L509.7,114.6 L510.1,117.0 L510.5,112.7 L510.9,113.4 L511.3,114.4 L511.7,114.0 L512.1,112.8 L512.5,110.8 L512.9,113.7 L513.3,111.7 L513.7,112.8 L514.1,113.0 L514.5,112.0 L514.9,112.1 L515.3,113.8 L515.7,116.1 L516.1,112.6 L516.5,114.7 L516.9,112.5 L517.3,114.2 L517.7,113.2 L518.1,116.6 L518.5,117.9 L518.9,114.2 L519.3,113.1 L519.7,114.4 L520.1,113.7 L520.5,112.4 L520.9,112.5 L521.3,113.9 L521.7,113.0 L522.1,116.1 L522.5,115.8 L522.9,113.8 L523.3,114.0 L523.7,115.8 L524.1,114.8 L524.5,115.5 L524.9,114.7 L525.3,114.0 L525.7,115.9 L526.1,115.1 L526.5,114.5 L526.9,111.6 L527.3,112.5 L527.7,112.0 L528.1,113.9 L528.5,114.0 L528.9,115.0 L529.3,116.3 L529.7,113.1 L530.1,115.0 L530.5,115.6 L530.9,116.8 L531.3,114.5 L531.7,114.9 L532.1,117.1 L532.5,116.0 L532.9,118.9 L533.3,116.9 L533.7,114.4 L534.1,117.6 L534.5,116.2 L534.9,116.3 L535.3,114.6 L535.7,115.6 L536.1,114.4 L536.5,114.6 L536.9,113.1 L537.3,116.3 L537.7,119.0 L538.1,118.7 L538.5,115.3 L538.9,115.6 L539.3,116.1 L539.7,118.3 L540.1,114.9 L540.5,115.9 L540.9,117.5 L541.3,116.5 L541.7,114.6 L542.1,116.9 L542.5,119.6 L542.9,115.2 L543.3,114.8 L543.7,117.6 L544.1,115.7 L544.5,114.5 L544.9,116.2 L545.3,114.7 L545.7,115.9 L546.1,114.9 L546.5,114.8 L546.9,116.3 L547.3,116.6 L547.7,116.3 L548.1,115.7 L548.5,116.3 L548.9,115.5 L549.3,116.9 L549.7,116.9 L550.1,116.4 L550.5,114.5 L550.9,113.6 L551.3,118.6 L551.7,115.9 L552.1,117.9 L552.5,117.7 L552.9,117.4 L553.3,116.1 L553.7,117.0 L554.1,115.5 L554.5,116.4 L554.9,117.7 L555.3,116.9 L555.7,120.6 L556.1,120.1 L556.5,114.5 L556.9,117.0 L557.3,120.4 L557.7,120.3 L558.1,119.5 L558.5,119.5 L558.9,121.7 L559.3,121.6 L559.7,122.7 L560.1,122.2 L560.5,121.6 L560.9,117.6 L561.3,120.1 L561.7,119.4 L562.1,122.0 L562.5,125.2 L562.9,124.4 L563.3,120.8 L563.7,120.9 L564.1,121.0 L564.5,120.5 L564.9,121.0 L565.3,119.7 L565.7,114.8 L566.1,119.6 L566.5,119.3 L566.9,118.2 L567.3,116.1 L567.7,115.4 L568.1,114.9 L568.5,114.5 L568.9,113.6 L569.3,112.7 L569.7,113.2 L570.1,107.9 L570.5,105.8 L570.9,107.3 L571.3,105.0 L571.7,108.8 L572.1,105.9 L572.5,104.5 L572.9,103.5 L573.3,101.9 L573.7,102.4 L574.1,99.5 L574.5,97.6 L574.9,98.8 L575.3,99.2 L575.7,97.3 L576.1,95.2 L576.5,93.4 L576.9,92.5 L577.3,93.0 L577.7,93.9 L578.1,94.3 L578.5,90.9 L578.9,90.2 L579.3,88.6 L579.7,88.3 L580.1,88.7 L580.5,86.9 L580.9,85.1 L581.3,83.9 L581.7,81.9 L582.1,83.1 L582.5,81.8 L582.9,85.9 L583.3,85.1 L583.7,83.2 L584.1,84.1 L584.5,84.8 L584.9,84.4 L585.3,84.9 L585.7,81.8 L586.1,83.3 L586.5,82.7 L586.9,84.7 L587.3,86.7 L587.7,84.6 L588.1,83.4 L588.5,83.2 L588.9,83.0 L589.3,83.5 L589.7,85.3 L590.1,84.3 L590.5,86.0 L590.9,86.0 L591.3,84.6 L591.7,86.4 L592.1,87.9 L592.5,86.7 L592.9,88.4 L593.3,85.9 L593.7,87.0 L594.1,88.1 L594.5,90.1 L594.9,90.7 L595.3,92.4 L595.7,89.0 L596.1,90.7 L596.5,93.5 L596.9,92.8 L597.3,92.4 L597.7,92.8 L598.1,93.3 L598.5,90.4 L598.9,92.5 L599.3,95.1 L599.7,95.4 L600.1,97.1 L600.5,94.7 L600.9,94.7 L601.3,96.3 L601.7,97.7 L602.1,100.9 L602.5,100.5 L602.9,102.1 L603.3,100.0 L603.7,102.1 L604.1,100.5 L604.5,106.7 L604.9,104.2 L605.3,104.2 L605.7,105.4 L606.1,103.9 L606.5,102.0 L606.9,105.7 L607.3,105.2 L607.7,103.4 L608.1,107.8 L608.5,105.3 L608.9,102.3 L609.3,103.0 L609.7,103.6 L610.1,101.4 L610.5,103.2 L610.9,100.2 L611.3,101.1 L611.7,101.0 L612.1,99.0 L612.5,99.3 L612.9,96.9 L613.3,99.0 L613.7,97.8 L614.1,98.3 L614.5,98.6 L614.9,98.0 L615.3,100.8 L615.7,96.4 L616.1,96.6 L616.5,96.8 L616.9,96.3 L617.3,94.7 L617.7,95.7 L618.1,92.7 L618.5,94.0 L618.9,95.7 L619.3,94.0 L619.7,93.3 L620.1,92.1 L620.5,95.2 L620.9,94.8 L621.3,92.4 L621.7,93.4 L622.1,94.7 L622.5,92.2 L622.9,92.5 L623.3,91.4 L623.7,91.2 L624.1,92.2 L624.5,93.0 L624.9,93.5 L625.3,90.8 L625.7,90.2 L626.1,92.1 L626.5,90.8 L626.9,89.9 L627.3,92.0 L627.7,91.3 L628.1,90.6 L628.5,93.5 L628.9,90.1 L629.3,93.5 L629.7,90.9 L630.1,93.4 L630.5,94.8 L630.9,95.3 L631.3,91.2 L631.7,93.3 L632.1,94.2 L632.5,93.1 L632.9,94.2 L633.3,97.8 L633.7,94.3 L634.1,93.1 L634.5,92.9 L634.9,94.2 L635.3,94.2 L635.7,97.0 L636.1,96.9 L636.5,96.7 L636.9,96.9 L637.3,96.8 L637.7,97.7 L638.1,93.5 L638.5,93.7 L638.9,97.8 L639.3,97.3 L639.7,99.1 L640.1,97.1 L640.5,98.5 L640.9,98.5 L641.3,99.4 L641.7,94.9 L642.1,97.3 L642.5,97.7 L642.9,98.8 L643.3,99.3 L643.7,97.2 L644.1,101.1 L644.5,99.0 L644.9,100.1 L645.3,102.4 L645.7,102.5 L646.1,105.4 L646.5,104.0 L646.9,103.8 L647.3,105.0 L647.7,101.9 L648.1,105.2 L648.5,105.4 L648.9,106.2 L649.3,108.7 L649.7,108.4 L650.1,107.4 L650.5,109.5 L650.9,108.0 L651.3,105.6 L651.7,107.0 L652.1,109.5 L652.5,109.8 L652.9,110.5 L653.3,108.3 L653.7,107.1 L654.1,108.2 L654.5,107.6 L654.9,106.9 L655.3,109.5 L655.7,109.2 L656.1,110.7 L656.5,109.3 L656.9,110.2 L657.3,109.8 L657.7,107.9 L658.1,109.2 L658.5,106.5 L658.9,110.0 L659.3,109.0 L659.7,108.6 L660.1,106.3 L660.5,106.4 L660.9,106.7 L661.3,103.3 L661.7,104.6 L662.1,105.6 L662.5,103.8 L662.9,102.6 L663.3,106.2 L663.7,104.8 L664.1,101.4 L664.5,102.2 L664.9,103.9 L665.3,103.7 L665.7,104.3 L666.1,104.9 L666.5,102.7 L666.9,99.5 L667.3,104.2 L667.7,104.9 L668.1,100.1 L668.5,101.4 L668.9,101.3 L669.3,100.2 L669.7,102.1 L670.1,102.9 L670.5,104.9 L670.9,107.5 L671.3,108.1 L671.7,106.7 L672.1,106.5 L672.5,104.3 L672.9,103.7 L673.3,106.6 L673.7,105.5 L674.1,105.2 L674.5,108.9 L674.9,108.2 L675.3,108.1 L675.7,107.7 L676.1,103.7 L676.5,106.4 L676.9,108.4" fill="none" stroke="#1c1cd0" stroke-width="1.05" stroke-linejoin="round" stroke-opacity="0.95" clip-path="url(#cb2)"/>
<path d="M494.5,101.7 L494.8,104.4 L495.1,105.3 L495.4,109.7 L495.7,106.3 L496.0,107.3 L496.3,106.0 L496.6,105.9 L496.9,105.8 L497.2,112.7 L497.5,109.5 L497.8,106.1 L498.1,106.0 L498.4,104.9 L498.7,103.2 L499.0,104.7 L499.3,105.8 L499.6,103.6 L499.9,102.4 L500.2,104.7 L500.5,110.1 L500.8,105.0 L501.1,107.3 L501.4,103.7 L501.7,105.9 L502.0,104.4 L502.3,102.0 L502.6,103.4 L502.9,107.4 L503.2,102.8 L503.5,103.2 L503.8,101.8 L504.1,104.0 L504.4,107.4 L504.7,106.0 L505.0,109.2 L505.3,104.6 L505.6,106.6 L505.9,106.6 L506.2,104.6 L506.5,103.3 L506.8,107.8 L507.1,102.9 L507.4,111.4 L507.7,111.0 L508.0,109.6 L508.3,107.6 L508.6,107.5 L508.9,106.8 L509.2,111.4 L509.5,107.8 L509.8,109.4 L510.1,109.1 L510.4,108.0 L510.7,106.2 L511.0,103.9 L511.3,102.8 L511.6,103.9 L511.9,105.1 L512.2,107.9 L512.5,111.4 L512.8,109.7 L513.1,106.7 L513.4,109.0 L513.7,104.1 L514.0,100.8 L514.3,109.0 L514.6,103.5 L514.9,104.5 L515.2,103.8 L515.5,106.4 L515.8,99.5 L516.1,102.5 L516.4,100.9 L516.7,101.0 L517.0,104.3 L517.3,102.8 L517.6,98.3 L517.9,99.7 L518.2,100.3 L518.5,104.4 L518.8,101.9 L519.1,100.8 L519.4,100.8 L519.7,100.1 L520.0,101.8 L520.3,99.1 L520.6,97.8 L520.9,98.0 L521.2,98.6 L521.5,97.9 L521.8,101.9 L522.1,96.1 L522.4,99.7 L522.7,101.6 L523.0,98.7 L523.3,101.0 L523.6,99.4 L523.9,98.2 L524.2,103.2 L524.5,97.6 L524.8,101.4 L525.1,98.6 L525.4,97.3 L525.7,97.7 L526.0,96.7 L526.3,96.5 L526.6,96.4 L526.9,93.3 L527.2,99.5 L527.5,100.2 L527.8,103.0 L528.1,95.6 L528.4,92.5 L528.7,97.0 L529.0,96.9 L529.3,96.0 L529.6,95.9 L529.9,99.0 L530.2,101.1 L530.5,96.4 L530.8,102.5 L531.1,95.6 L531.4,96.6 L531.7,99.2 L532.0,97.0 L532.3,98.3 L532.6,100.2 L532.9,95.8 L533.2,98.9 L533.5,95.9 L533.8,95.1 L534.1,94.8 L534.4,95.4 L534.7,96.9 L535.0,98.2 L535.3,95.3 L535.6,94.8 L535.9,91.5 L536.2,95.7 L536.5,97.7 L536.8,95.1 L537.1,93.9 L537.4,92.5 L537.7,92.3 L538.0,93.9 L538.3,95.2 L538.6,91.1 L538.9,95.2 L539.2,92.8 L539.5,95.8 L539.8,92.1 L540.1,93.9 L540.4,91.3 L540.7,93.5 L541.0,93.5 L541.3,89.9 L541.6,90.7 L541.9,91.2 L542.2,88.2 L542.5,89.3 L542.8,90.8 L543.1,94.6 L543.4,95.5 L543.7,90.6 L544.0,91.1 L544.3,90.5 L544.6,89.9 L544.9,90.9 L545.2,95.2 L545.5,95.2 L545.8,94.4 L546.1,90.4 L546.4,94.8 L546.7,91.3 L547.0,93.6 L547.3,91.8 L547.6,91.4 L547.9,92.9 L548.2,91.5 L548.5,95.3 L548.8,96.5 L549.1,92.2 L549.4,90.2 L549.7,97.1 L550.0,93.1 L550.3,97.7 L550.6,94.1 L550.9,90.5 L551.2,92.1 L551.5,92.1 L551.8,94.7 L552.1,93.2 L552.4,96.7 L552.7,99.1 L553.0,95.2 L553.3,96.2 L553.6,91.1 L553.9,94.1 L554.2,90.1 L554.5,88.8 L554.8,98.6 L555.1,99.8 L555.4,98.2 L555.7,92.1 L556.0,96.7 L556.3,96.2 L556.6,94.3 L556.9,95.3 L557.2,92.5 L557.5,95.5 L557.8,94.0 L558.1,95.7 L558.4,95.7 L558.7,94.1 L559.0,96.7 L559.3,96.7 L559.6,96.9 L559.9,98.6 L560.2,98.8 L560.5,98.5 L560.8,92.8 L561.1,95.1 L561.4,99.1 L561.7,96.0 L562.0,99.6 L562.3,98.4 L562.6,103.3 L562.9,100.1 L563.2,101.4 L563.5,102.6 L563.8,104.9 L564.1,105.3 L564.4,105.9 L564.7,105.0 L565.0,105.3 L565.3,103.4 L565.6,103.5 L565.9,105.1 L566.2,107.7 L566.5,105.5 L566.8,105.2 L567.1,106.0 L567.4,105.4 L567.7,101.9 L568.0,102.8 L568.3,101.8 L568.6,98.7 L568.9,101.8 L569.2,99.8 L569.5,99.1 L569.8,98.3 L570.1,102.5 L570.4,99.9 L570.7,101.7 L571.0,99.4 L571.3,98.5 L571.6,98.9 L571.9,97.7 L572.2,97.6 L572.5,96.6 L572.8,96.2 L573.1,92.7 L573.4,95.0 L573.7,96.5 L574.0,99.5 L574.3,98.0 L574.6,97.6 L574.9,96.9 L575.2,95.1 L575.5,96.7 L575.8,92.1 L576.1,94.8 L576.4,92.1 L576.7,91.9 L577.0,92.6 L577.3,89.4 L577.6,90.4 L577.9,87.4 L578.2,91.5 L578.5,91.0 L578.8,91.1 L579.1,88.9 L579.4,83.0 L579.7,88.4 L580.0,89.8 L580.3,86.0 L580.6,84.5 L580.9,85.1 L581.2,84.1 L581.5,82.8 L581.8,89.4 L582.1,85.4 L582.4,81.4 L582.7,80.9 L583.0,86.6 L583.3,88.9 L583.6,84.5 L583.9,85.8 L584.2,81.6 L584.5,83.9 L584.8,81.2 L585.1,88.7 L585.4,86.9 L585.7,82.4 L586.0,81.4 L586.3,85.3 L586.6,84.1 L586.9,83.3 L587.2,84.9 L587.5,87.8 L587.8,84.3 L588.1,78.5 L588.4,81.8 L588.7,79.7 L589.0,80.9 L589.3,83.0 L589.6,81.8 L589.9,80.1 L590.2,82.1 L590.5,80.7 L590.8,82.2 L591.1,79.5 L591.4,82.4 L591.7,81.2 L592.0,82.0 L592.3,81.2 L592.6,81.7 L592.9,80.7 L593.2,82.5 L593.5,78.1 L593.8,87.2 L594.1,81.6 L594.4,84.7 L594.7,83.8 L595.0,84.0 L595.3,89.5 L595.6,86.0 L595.9,84.9 L596.2,82.6 L596.5,85.2 L596.8,87.1 L597.1,94.0 L597.4,89.5 L597.7,91.0 L598.0,94.0 L598.3,99.1 L598.6,91.6 L598.9,90.9 L599.2,95.5 L599.5,95.9 L599.8,95.2 L600.1,94.9 L600.4,96.2 L600.7,101.8 L601.0,101.8 L601.3,104.2 L601.6,105.0 L601.9,105.2 L602.2,106.4 L602.5,106.9 L602.8,107.7 L603.1,105.3 L603.4,106.4 L603.7,110.3 L604.0,109.1 L604.3,109.6 L604.6,111.9 L604.9,111.3 L605.2,113.4 L605.5,114.4 L605.8,118.5 L606.1,122.8 L606.4,118.2 L606.7,117.1 L607.0,116.0 L607.3,114.8 L607.6,115.2 L607.9,117.6 L608.2,122.9 L608.5,123.1 L608.8,121.8 L609.1,120.6 L609.4,117.5 L609.7,121.4 L610.0,117.8 L610.3,120.7 L610.6,120.8 L610.9,125.4 L611.2,123.7 L611.5,120.4 L611.8,121.1 L612.1,120.4 L612.4,119.8 L612.7,117.9 L613.0,116.2 L613.3,116.7 L613.6,116.1 L613.9,119.7 L614.2,115.2 L614.5,120.9 L614.8,122.8 L615.1,120.2 L615.4,119.5 L615.7,121.5 L616.0,120.3 L616.3,114.6 L616.6,117.2 L616.9,111.6 L617.2,114.7 L617.5,114.5 L617.8,118.0 L618.1,118.3 L618.4,114.5 L618.7,114.1 L619.0,116.3 L619.3,116.1 L619.6,115.6 L619.9,112.0 L620.2,115.0 L620.5,117.9 L620.8,116.5 L621.1,114.5 L621.4,116.3 L621.7,116.5 L622.0,115.1 L622.3,115.6 L622.6,110.9 L622.9,113.7 L623.2,114.4 L623.5,119.5 L623.8,113.1 L624.1,112.3 L624.4,114.7 L624.7,113.7 L625.0,115.2 L625.3,111.8 L625.6,117.9 L625.9,115.7 L626.2,112.6 L626.5,118.8 L626.8,116.9 L627.1,115.4 L627.4,113.7 L627.7,112.6 L628.0,114.4 L628.3,112.3 L628.6,116.6 L628.9,116.2 L629.2,112.6 L629.5,112.7 L629.8,114.5 L630.1,114.1 L630.4,117.5 L630.7,118.4 L631.0,116.7 L631.3,116.4 L631.6,117.5 L631.9,119.6 L632.2,116.1 L632.5,118.7 L632.8,116.5 L633.1,114.7 L633.4,121.0 L633.7,117.7 L634.0,114.0 L634.3,114.9 L634.6,115.5 L634.9,113.7 L635.2,119.6 L635.5,118.7 L635.8,117.6 L636.1,119.5 L636.4,121.1 L636.7,117.1 L637.0,118.7 L637.3,115.9 L637.6,117.7 L637.9,115.4 L638.2,119.3 L638.5,114.3 L638.8,115.4 L639.1,116.2 L639.4,114.6 L639.7,117.0 L640.0,115.0 L640.3,115.7 L640.6,116.9 L640.9,115.0 L641.2,118.2 L641.5,117.6 L641.8,119.1 L642.1,115.1 L642.4,117.0 L642.7,114.1 L643.0,117.3 L643.3,121.2 L643.6,118.4 L643.9,115.0 L644.2,118.0 L644.5,118.2 L644.8,120.3 L645.1,111.6 L645.4,116.2 L645.7,115.1 L646.0,115.0 L646.3,116.8 L646.6,114.1 L646.9,111.4 L647.2,113.0 L647.5,115.4 L647.8,118.8 L648.1,112.5 L648.4,110.4 L648.7,109.3 L649.0,115.3 L649.3,114.2 L649.6,113.7 L649.9,111.8 L650.2,113.6 L650.5,111.5 L650.8,114.3 L651.1,112.2 L651.4,109.5 L651.7,118.3 L652.0,118.0 L652.3,116.8 L652.6,115.7 L652.9,111.8 L653.2,117.0 L653.5,112.7 L653.8,116.5 L654.1,113.8 L654.4,109.8 L654.7,115.2 L655.0,116.7 L655.3,112.3 L655.6,113.4 L655.9,111.8 L656.2,111.8 L656.5,109.7 L656.8,114.7 L657.1,110.3 L657.4,112.7 L657.7,109.6 L658.0,108.8 L658.3,113.3 L658.6,109.8 L658.9,110.7 L659.2,110.4 L659.5,113.1 L659.8,113.0 L660.1,109.7 L660.4,110.1 L660.7,109.0 L661.0,115.0 L661.3,110.8 L661.6,112.3 L661.9,115.4 L662.2,110.8 L662.5,107.4 L662.8,107.3 L663.1,107.2 L663.4,112.1 L663.7,109.7 L664.0,109.6 L664.3,111.9 L664.6,111.9 L664.9,108.3 L665.2,111.1 L665.5,110.6 L665.8,110.2 L666.1,104.3 L666.4,110.0 L666.7,112.6 L667.0,110.2 L667.3,114.3 L667.6,107.7 L667.9,103.3 L668.2,107.7 L668.5,108.7 L668.8,110.9 L669.1,108.2 L669.4,110.5 L669.7,107.5 L670.0,111.0 L670.3,107.7 L670.6,108.1 L670.9,109.2 L671.2,108.9 L671.5,107.1 L671.8,106.9 L672.1,109.1 L672.4,109.8 L672.7,110.5 L673.0,110.2 L673.3,109.0 L673.6,107.1 L673.9,105.5 L674.2,107.9 L674.5,107.7 L674.8,107.6 L675.1,113.9 L675.4,106.5 L675.7,111.2 L676.0,112.5 L676.3,111.7 L676.6,116.6 L676.9,110.9" fill="none" stroke="#e03030" stroke-width="0.7" stroke-linejoin="round" stroke-opacity="0.55" clip-path="url(#cb2)"/>
<path d="M494.5,103.8 L494.9,106.1 L495.3,106.3 L495.7,105.0 L496.1,105.2 L496.5,106.3 L496.9,108.6 L497.3,110.7 L497.7,106.2 L498.1,106.0 L498.5,106.9 L498.9,104.0 L499.3,103.2 L499.7,105.3 L500.1,106.9 L500.5,105.8 L500.9,104.7 L501.3,103.6 L501.7,105.5 L502.1,106.0 L502.5,102.4 L502.9,101.0 L503.3,101.5 L503.7,101.1 L504.1,104.7 L504.5,106.9 L504.9,107.0 L505.3,105.4 L505.7,107.0 L506.1,108.6 L506.5,105.6 L506.9,105.7 L507.3,108.3 L507.7,110.2 L508.1,108.4 L508.5,108.7 L508.9,107.6 L509.3,108.6 L509.7,110.0 L510.1,108.9 L510.5,107.4 L510.9,108.9 L511.3,105.2 L511.7,106.4 L512.1,107.4 L512.5,107.7 L512.9,103.7 L513.3,104.9 L513.7,105.0 L514.1,101.7 L514.5,104.5 L514.9,104.6 L515.3,102.4 L515.7,101.5 L516.1,100.2 L516.5,102.5 L516.9,105.2 L517.3,101.3 L517.7,102.2 L518.1,99.6 L518.5,105.0 L518.9,99.4 L519.3,99.9 L519.7,102.0 L520.1,101.2 L520.5,101.7 L520.9,99.2 L521.3,96.3 L521.7,98.7 L522.1,100.6 L522.5,98.9 L522.9,99.2 L523.3,99.9 L523.7,100.5 L524.1,100.8 L524.5,101.5 L524.9,100.4 L525.3,99.6 L525.7,97.4 L526.1,100.6 L526.5,96.2 L526.9,97.9 L527.3,97.9 L527.7,99.5 L528.1,97.6 L528.5,98.8 L528.9,99.8 L529.3,96.0 L529.7,99.8 L530.1,99.4 L530.5,100.0 L530.9,97.5 L531.3,97.7 L531.7,97.0 L532.1,99.8 L532.5,99.2 L532.9,94.2 L533.3,98.8 L533.7,94.6 L534.1,93.0 L534.5,93.7 L534.9,96.3 L535.3,92.3 L535.7,93.5 L536.1,95.2 L536.5,97.1 L536.9,91.7 L537.3,94.3 L537.7,94.7 L538.1,95.3 L538.5,91.6 L538.9,93.3 L539.3,92.1 L539.7,92.1 L540.1,93.2 L540.5,92.2 L540.9,91.3 L541.3,91.3 L541.7,92.3 L542.1,91.1 L542.5,90.9 L542.9,92.3 L543.3,94.9 L543.7,93.3 L544.1,91.4 L544.5,90.2 L544.9,93.2 L545.3,94.4 L545.7,94.0 L546.1,90.1 L546.5,91.1 L546.9,96.9 L547.3,93.2 L547.7,95.7 L548.1,92.3 L548.5,94.0 L548.9,96.8 L549.3,94.8 L549.7,95.5 L550.1,94.0 L550.5,93.1 L550.9,91.2 L551.3,92.2 L551.7,93.5 L552.1,93.0 L552.5,96.3 L552.9,96.6 L553.3,92.3 L553.7,91.7 L554.1,91.5 L554.5,94.2 L554.9,94.5 L555.3,97.1 L555.7,96.9 L556.1,96.5 L556.5,95.1 L556.9,94.7 L557.3,94.9 L557.7,96.0 L558.1,96.9 L558.5,94.5 L558.9,97.1 L559.3,98.0 L559.7,97.3 L560.1,98.1 L560.5,99.1 L560.9,95.7 L561.3,97.7 L561.7,97.7 L562.1,100.6 L562.5,99.3 L562.9,100.8 L563.3,102.5 L563.7,103.7 L564.1,104.2 L564.5,103.5 L564.9,104.6 L565.3,105.6 L565.7,104.9 L566.1,106.3 L566.5,106.5 L566.9,104.1 L567.3,105.0 L567.7,104.6 L568.1,105.0 L568.5,102.3 L568.9,102.6 L569.3,103.9 L569.7,99.7 L570.1,100.9 L570.5,101.2 L570.9,101.9 L571.3,98.9 L571.7,96.3 L572.1,96.9 L572.5,100.7 L572.9,96.0 L573.3,95.6 L573.7,98.2 L574.1,94.1 L574.5,93.7 L574.9,95.9 L575.3,93.9 L575.7,88.6 L576.1,90.1 L576.5,91.8 L576.9,90.6 L577.3,88.2 L577.7,89.1 L578.1,89.1 L578.5,90.7 L578.9,89.3 L579.3,89.2 L579.7,88.0 L580.1,86.2 L580.5,87.4 L580.9,87.2 L581.3,85.9 L581.7,86.9 L582.1,83.3 L582.5,83.8 L582.9,85.2 L583.3,85.8 L583.7,82.0 L584.1,84.4 L584.5,81.9 L584.9,82.1 L585.3,86.1 L585.7,86.5 L586.1,85.1 L586.5,83.8 L586.9,83.9 L587.3,83.4 L587.7,82.4 L588.1,82.5 L588.5,82.0 L588.9,84.1 L589.3,81.6 L589.7,81.9 L590.1,82.5 L590.5,81.9 L590.9,79.3 L591.3,80.9 L591.7,82.8 L592.1,80.2 L592.5,82.3 L592.9,81.1 L593.3,82.9 L593.7,81.2 L594.1,82.1 L594.5,84.0 L594.9,84.9 L595.3,90.2 L595.7,85.6 L596.1,84.8 L596.5,88.8 L596.9,91.1 L597.3,91.2 L597.7,92.5 L598.1,94.2 L598.5,95.7 L598.9,94.2 L599.3,95.8 L599.7,98.9 L600.1,97.4 L600.5,97.7 L600.9,100.1 L601.3,101.3 L601.7,105.0 L602.1,105.7 L602.5,109.8 L602.9,108.3 L603.3,107.0 L603.7,110.8 L604.1,109.7 L604.5,110.9 L604.9,111.2 L605.3,115.2 L605.7,117.0 L606.1,117.5 L606.5,118.4 L606.9,117.7 L607.3,116.1 L607.7,118.3 L608.1,120.9 L608.5,122.0 L608.9,117.3 L609.3,119.4 L609.7,118.4 L610.1,117.9 L610.5,120.7 L610.9,122.4 L611.3,122.5 L611.7,123.0 L612.1,119.1 L612.5,118.7 L612.9,116.1 L613.3,114.4 L613.7,119.0 L614.1,116.2 L614.5,116.5 L614.9,116.8 L615.3,116.4 L615.7,116.6 L616.1,117.5 L616.5,116.6 L616.9,117.5 L617.3,116.2 L617.7,118.4 L618.1,118.3 L618.5,116.5 L618.9,116.3 L619.3,115.9 L619.7,114.7 L620.1,115.8 L620.5,115.9 L620.9,117.0 L621.3,116.6 L621.7,117.1 L622.1,115.9 L622.5,115.5 L622.9,115.5 L623.3,115.1 L623.7,115.4 L624.1,110.6 L624.5,115.3 L624.9,114.7 L625.3,116.8 L625.7,115.0 L626.1,117.5 L626.5,115.9 L626.9,116.6 L627.3,117.7 L627.7,115.7 L628.1,114.4 L628.5,116.8 L628.9,113.5 L629.3,115.1 L629.7,115.4 L630.1,117.5 L630.5,116.4 L630.9,118.9 L631.3,116.7 L631.7,117.6 L632.1,116.6 L632.5,119.2 L632.9,117.5 L633.3,119.0 L633.7,116.2 L634.1,114.4 L634.5,116.0 L634.9,115.0 L635.3,115.6 L635.7,116.3 L636.1,119.1 L636.5,118.9 L636.9,117.9 L637.3,116.9 L637.7,115.8 L638.1,115.2 L638.5,114.7 L638.9,115.8 L639.3,115.4 L639.7,115.4 L640.1,114.1 L640.5,116.7 L640.9,115.9 L641.3,115.4 L641.7,117.8 L642.1,116.7 L642.5,116.4 L642.9,116.9 L643.3,119.9 L643.7,116.3 L644.1,116.2 L644.5,116.5 L644.9,115.5 L645.3,114.0 L645.7,114.1 L646.1,117.6 L646.5,116.7 L646.9,114.6 L647.3,114.0 L647.7,114.9 L648.1,113.7 L648.5,112.9 L648.9,118.0 L649.3,114.0 L649.7,113.7 L650.1,114.8 L650.5,115.5 L650.9,113.4 L651.3,114.6 L651.7,115.5 L652.1,117.8 L652.5,116.1 L652.9,113.0 L653.3,116.8 L653.7,112.8 L654.1,113.8 L654.5,115.8 L654.9,111.6 L655.3,114.3 L655.7,112.1 L656.1,112.7 L656.5,113.0 L656.9,113.1 L657.3,111.6 L657.7,111.3 L658.1,112.5 L658.5,109.5 L658.9,112.6 L659.3,112.5 L659.7,112.6 L660.1,109.6 L660.5,110.5 L660.9,111.2 L661.3,111.4 L661.7,113.1 L662.1,112.2 L662.5,110.8 L662.9,110.5 L663.3,107.7 L663.7,107.4 L664.1,109.2 L664.5,110.5 L664.9,111.0 L665.3,110.2 L665.7,109.8 L666.1,108.9 L666.5,109.7 L666.9,109.3 L667.3,111.0 L667.7,106.6 L668.1,106.9 L668.5,107.8 L668.9,109.5 L669.3,107.5 L669.7,109.3 L670.1,109.7 L670.5,110.5 L670.9,109.4 L671.3,111.4 L671.7,106.6 L672.1,108.5 L672.5,108.6 L672.9,107.9 L673.3,108.6 L673.7,108.0 L674.1,107.2 L674.5,108.8 L674.9,111.1 L675.3,109.4 L675.7,109.3 L676.1,111.8 L676.5,112.1 L676.9,110.7" fill="none" stroke="#cc1218" stroke-width="1.05" stroke-linejoin="round" stroke-opacity="0.95" clip-path="url(#cb2)"/>
<path d="M494.5,171.5 L494.8,173.3 L495.1,171.1 L495.4,174.2 L495.7,174.1 L496.0,175.5 L496.3,172.4 L496.6,174.0 L496.9,174.1 L497.2,172.3 L497.5,171.1 L497.8,171.5 L498.1,169.6 L498.4,169.0 L498.7,167.2 L499.0,166.7 L499.3,167.6 L499.6,163.2 L499.9,164.6 L500.2,161.2 L500.5,152.6 L500.8,155.3 L501.1,147.5 L501.4,150.8 L501.7,144.8 L502.0,140.9 L502.3,140.2 L502.6,138.5 L502.9,136.3 L503.2,138.8 L503.5,139.0 L503.8,141.6 L504.1,145.2 L504.4,147.2 L504.7,147.3 L505.0,151.1 L505.3,155.2 L505.6,158.4 L505.9,153.4 L506.2,157.0 L506.5,157.3 L506.8,157.5 L507.1,158.8 L507.4,165.3 L507.7,164.8 L508.0,163.9 L508.3,165.6 L508.6,170.0 L508.9,170.0 L509.2,172.1 L509.5,167.5 L509.8,165.2 L510.1,164.5 L510.4,164.1 L510.7,166.6 L511.0,170.8 L511.3,173.4 L511.6,170.6 L511.9,171.8 L512.2,171.1 L512.5,172.4 L512.8,174.9 L513.1,172.3 L513.4,168.3 L513.7,169.4 L514.0,174.9 L514.3,175.9 L514.6,174.1 L514.9,173.7 L515.2,175.5 L515.5,174.9 L515.8,174.3 L516.1,170.3 L516.4,170.7 L516.7,170.1 L517.0,168.8 L517.3,173.2 L517.6,173.1 L517.9,168.2 L518.2,172.9 L518.5,173.6 L518.8,172.0 L519.1,168.8 L519.4,177.6 L519.7,179.2 L520.0,174.2 L520.3,178.1 L520.6,174.7 L520.9,171.5 L521.2,173.0 L521.5,172.6 L521.8,175.0 L522.1,171.4 L522.4,175.8 L522.7,175.6 L523.0,171.5 L523.3,175.7 L523.6,171.8 L523.9,176.5 L524.2,177.1 L524.5,175.5 L524.8,173.2 L525.1,176.4 L525.4,176.1 L525.7,176.3 L526.0,178.3 L526.3,178.1 L526.6,178.5 L526.9,175.2 L527.2,175.5 L527.5,175.1 L527.8,175.3 L528.1,170.8 L528.4,173.1 L528.7,179.0 L529.0,174.4 L529.3,174.2 L529.6,172.6 L529.9,176.1 L530.2,173.8 L530.5,172.7 L530.8,170.6 L531.1,177.3 L531.4,175.3 L531.7,174.4 L532.0,175.9 L532.3,177.5 L532.6,172.6 L532.9,172.4 L533.2,172.7 L533.5,173.2 L533.8,169.8 L534.1,177.5 L534.4,181.2 L534.7,176.2 L535.0,176.9 L535.3,168.9 L535.6,175.4 L535.9,179.6 L536.2,180.4 L536.5,177.1 L536.8,175.0 L537.1,175.0 L537.4,172.3 L537.7,175.0 L538.0,171.5 L538.3,175.1 L538.6,175.3 L538.9,177.0 L539.2,176.8 L539.5,175.2 L539.8,175.5 L540.1,171.7 L540.4,175.6 L540.7,175.6 L541.0,176.1 L541.3,175.1 L541.6,169.9 L541.9,175.8 L542.2,176.0 L542.5,171.7 L542.8,178.0 L543.1,172.2 L543.4,178.3 L543.7,177.5 L544.0,177.8 L544.3,174.7 L544.6,175.0 L544.9,170.7 L545.2,172.2 L545.5,168.5 L545.8,172.0 L546.1,168.0 L546.4,172.0 L546.7,172.8 L547.0,170.8 L547.3,174.8 L547.6,173.1 L547.9,173.3 L548.2,173.7 L548.5,172.0 L548.8,171.4 L549.1,174.7 L549.4,171.5 L549.7,169.6 L550.0,169.7 L550.3,172.2 L550.6,171.0 L550.9,177.9 L551.2,168.5 L551.5,172.1 L551.8,171.8 L552.1,173.0 L552.4,175.3 L552.7,171.3 L553.0,169.4 L553.3,173.1 L553.6,173.1 L553.9,165.5 L554.2,170.9 L554.5,171.5 L554.8,168.9 L555.1,171.1 L555.4,172.9 L555.7,172.0 L556.0,169.8 L556.3,168.7 L556.6,171.2 L556.9,168.2 L557.2,170.3 L557.5,168.1 L557.8,169.4 L558.1,169.3 L558.4,168.1 L558.7,169.5 L559.0,165.1 L559.3,169.0 L559.6,169.3 L559.9,168.1 L560.2,167.1 L560.5,162.4 L560.8,169.3 L561.1,168.3 L561.4,164.6 L561.7,167.4 L562.0,164.8 L562.3,167.6 L562.6,166.4 L562.9,167.7 L563.2,166.1 L563.5,164.7 L563.8,166.7 L564.1,167.6 L564.4,160.2 L564.7,163.5 L565.0,163.6 L565.3,163.1 L565.6,167.9 L565.9,165.7 L566.2,161.2 L566.5,161.4 L566.8,164.4 L567.1,158.9 L567.4,158.7 L567.7,156.1 L568.0,159.8 L568.3,161.8 L568.6,157.6 L568.9,157.5 L569.2,162.5 L569.5,162.4 L569.8,165.0 L570.1,167.5 L570.4,169.7 L570.7,165.6 L571.0,168.5 L571.3,168.1 L571.6,175.4 L571.9,171.7 L572.2,171.8 L572.5,172.2 L572.8,169.9 L573.1,167.7 L573.4,179.7 L573.7,173.9 L574.0,174.3 L574.3,172.6 L574.6,176.7 L574.9,176.9 L575.2,174.9 L575.5,176.6 L575.8,174.7 L576.1,177.4 L576.4,178.5 L576.7,178.1 L577.0,177.0 L577.3,176.5 L577.6,176.0 L577.9,179.4 L578.2,175.2 L578.5,173.4 L578.8,176.8 L579.1,170.9 L579.4,170.9 L579.7,176.4 L580.0,177.6 L580.3,174.1 L580.6,173.9 L580.9,173.1 L581.2,170.9 L581.5,169.5 L581.8,172.2 L582.1,171.8 L582.4,170.5 L582.7,172.3 L583.0,171.0 L583.3,170.2 L583.6,170.9 L583.9,173.0 L584.2,166.8 L584.5,166.4 L584.8,166.7 L585.1,168.7 L585.4,164.3 L585.7,165.7 L586.0,166.0 L586.3,161.7 L586.6,162.8 L586.9,164.1 L587.2,169.2 L587.5,166.3 L587.8,168.2 L588.1,168.9 L588.4,169.0 L588.7,172.3 L589.0,172.5 L589.3,165.2 L589.6,167.3 L589.9,169.3 L590.2,168.7 L590.5,171.0 L590.8,172.1 L591.1,174.5 L591.4,174.0 L591.7,171.6 L592.0,172.4 L592.3,172.3 L592.6,172.7 L592.9,170.5 L593.2,168.5 L593.5,172.7 L593.8,176.9 L594.1,174.8 L594.4,169.5 L594.7,173.1 L595.0,171.5 L595.3,172.9 L595.6,170.3 L595.9,173.9 L596.2,175.4 L596.5,179.6 L596.8,180.2 L597.1,172.5 L597.4,174.0 L597.7,179.3 L598.0,176.9 L598.3,178.4 L598.6,176.4 L598.9,176.2 L599.2,179.1 L599.5,177.4 L599.8,177.3 L600.1,178.8 L600.4,174.3 L600.7,176.8 L601.0,170.0 L601.3,171.6 L601.6,171.6 L601.9,174.0 L602.2,172.3 L602.5,174.4 L602.8,170.9 L603.1,173.6 L603.4,171.9 L603.7,170.1 L604.0,167.1 L604.3,172.3 L604.6,172.5 L604.9,172.9 L605.2,171.4 L605.5,171.9 L605.8,174.3 L606.1,173.1 L606.4,171.4 L606.7,172.8 L607.0,167.6 L607.3,174.0 L607.6,165.6 L607.9,175.8 L608.2,170.2 L608.5,175.4 L608.8,169.4 L609.1,174.0 L609.4,170.9 L609.7,172.1 L610.0,175.6 L610.3,173.5 L610.6,170.3 L610.9,178.6 L611.2,172.7 L611.5,177.7 L611.8,173.8 L612.1,172.7 L612.4,174.7 L612.7,173.0 L613.0,176.1 L613.3,168.7 L613.6,172.7 L613.9,171.1 L614.2,171.4 L614.5,174.9 L614.8,173.3 L615.1,171.7 L615.4,173.3 L615.7,172.3 L616.0,172.0 L616.3,173.1 L616.6,172.9 L616.9,176.5 L617.2,172.6 L617.5,174.3 L617.8,173.8 L618.1,171.4 L618.4,170.5 L618.7,171.3 L619.0,172.1 L619.3,175.3 L619.6,173.3 L619.9,171.3 L620.2,172.2 L620.5,172.8 L620.8,176.1 L621.1,173.0 L621.4,172.8 L621.7,171.7 L622.0,169.2 L622.3,173.2 L622.6,171.0 L622.9,172.5 L623.2,174.7 L623.5,170.1 L623.8,170.8 L624.1,169.9 L624.4,172.5 L624.7,170.8 L625.0,171.7 L625.3,169.4 L625.6,170.6 L625.9,173.3 L626.2,172.8 L626.5,171.6 L626.8,171.4 L627.1,174.0 L627.4,175.4 L627.7,170.8 L628.0,170.5 L628.3,171.0 L628.6,177.2 L628.9,171.9 L629.2,171.7 L629.5,174.1 L629.8,174.2 L630.1,168.9 L630.4,172.3 L630.7,169.6 L631.0,170.8 L631.3,176.6 L631.6,174.4 L631.9,170.8 L632.2,172.0 L632.5,172.5 L632.8,173.1 L633.1,172.3 L633.4,172.5 L633.7,178.5 L634.0,172.8 L634.3,177.3 L634.6,174.0 L634.9,178.5 L635.2,176.4 L635.5,174.1 L635.8,178.1 L636.1,172.9 L636.4,175.2 L636.7,174.5 L637.0,174.5 L637.3,174.9 L637.6,173.0 L637.9,175.2 L638.2,180.0 L638.5,171.0 L638.8,172.1 L639.1,174.4 L639.4,175.5 L639.7,177.3 L640.0,175.4 L640.3,175.1 L640.6,174.0 L640.9,178.2 L641.2,172.3 L641.5,172.8 L641.8,174.7 L642.1,173.7 L642.4,170.5 L642.7,169.4 L643.0,168.8 L643.3,171.3 L643.6,171.5 L643.9,171.7 L644.2,172.2 L644.5,177.7 L644.8,175.4 L645.1,176.3 L645.4,173.2 L645.7,174.3 L646.0,173.0 L646.3,174.4 L646.6,175.3 L646.9,174.2 L647.2,169.7 L647.5,172.2 L647.8,173.7 L648.1,169.1 L648.4,173.3 L648.7,176.5 L649.0,175.8 L649.3,172.8 L649.6,174.1 L649.9,175.3 L650.2,173.4 L650.5,171.0 L650.8,170.2 L651.1,173.3 L651.4,170.5 L651.7,170.6 L652.0,170.5 L652.3,171.2 L652.6,169.6 L652.9,170.9 L653.2,172.2 L653.5,169.0 L653.8,175.8 L654.1,174.1 L654.4,175.4 L654.7,172.1 L655.0,170.9 L655.3,170.1 L655.6,171.2 L655.9,166.1 L656.2,170.9 L656.5,168.1 L656.8,169.9 L657.1,167.7 L657.4,172.5 L657.7,169.1 L658.0,168.8 L658.3,172.8 L658.6,168.1 L658.9,164.5 L659.2,164.9 L659.5,166.0 L659.8,166.6 L660.1,169.0 L660.4,166.1 L660.7,167.3 L661.0,169.5 L661.3,167.3 L661.6,167.3 L661.9,164.1 L662.2,161.8 L662.5,161.6 L662.8,162.8 L663.1,168.6 L663.4,167.2 L663.7,165.0 L664.0,164.3 L664.3,167.2 L664.6,166.9 L664.9,167.9 L665.2,165.6 L665.5,166.3 L665.8,171.7 L666.1,165.9 L666.4,167.9 L666.7,173.8 L667.0,168.2 L667.3,173.3 L667.6,171.8 L667.9,170.9 L668.2,171.7 L668.5,168.3 L668.8,166.4 L669.1,175.1 L669.4,171.6 L669.7,176.8 L670.0,177.9 L670.3,176.2 L670.6,175.5 L670.9,174.8 L671.2,176.6 L671.5,175.1 L671.8,178.1 L672.1,174.0 L672.4,173.9 L672.7,174.7 L673.0,173.3 L673.3,173.1 L673.6,175.5 L673.9,173.3 L674.2,172.4 L674.5,177.0 L674.8,173.8 L675.1,171.9 L675.4,172.4 L675.7,173.0 L676.0,171.3 L676.3,172.4 L676.6,172.9 L676.9,173.1" fill="none" stroke="#3a3ae0" stroke-width="0.7" stroke-linejoin="round" stroke-opacity="0.55" clip-path="url(#cb3)"/>
<path d="M494.5,172.9 L494.9,173.0 L495.3,172.0 L495.7,172.5 L496.1,172.3 L496.5,173.7 L496.9,175.1 L497.3,172.9 L497.7,169.8 L498.1,170.4 L498.5,166.9 L498.9,166.9 L499.3,169.4 L499.7,164.9 L500.1,161.2 L500.5,154.8 L500.9,152.7 L501.3,148.8 L501.7,144.7 L502.1,139.3 L502.5,136.1 L502.9,133.6 L503.3,140.3 L503.7,142.8 L504.1,142.5 L504.5,146.6 L504.9,152.3 L505.3,154.4 L505.7,154.6 L506.1,155.4 L506.5,156.7 L506.9,161.9 L507.3,161.5 L507.7,164.6 L508.1,165.2 L508.5,166.6 L508.9,169.9 L509.3,166.8 L509.7,166.9 L510.1,162.5 L510.5,165.2 L510.9,170.2 L511.3,170.3 L511.7,169.5 L512.1,172.3 L512.5,176.5 L512.9,174.6 L513.3,171.1 L513.7,169.9 L514.1,171.7 L514.5,173.0 L514.9,173.1 L515.3,172.4 L515.7,174.9 L516.1,174.1 L516.5,173.5 L516.9,172.9 L517.3,170.4 L517.7,170.8 L518.1,171.4 L518.5,173.4 L518.9,168.6 L519.3,171.4 L519.7,176.6 L520.1,173.8 L520.5,174.1 L520.9,172.6 L521.3,174.7 L521.7,175.4 L522.1,174.0 L522.5,174.7 L522.9,174.2 L523.3,173.8 L523.7,176.0 L524.1,177.3 L524.5,174.5 L524.9,177.3 L525.3,177.4 L525.7,176.1 L526.1,176.2 L526.5,173.3 L526.9,177.2 L527.3,175.7 L527.7,173.7 L528.1,174.3 L528.5,175.8 L528.9,175.6 L529.3,175.3 L529.7,173.6 L530.1,174.7 L530.5,174.3 L530.9,176.7 L531.3,177.0 L531.7,176.2 L532.1,176.4 L532.5,175.3 L532.9,175.1 L533.3,173.3 L533.7,176.7 L534.1,178.3 L534.5,177.2 L534.9,174.2 L535.3,174.9 L535.7,175.2 L536.1,176.9 L536.5,178.3 L536.9,177.1 L537.3,172.7 L537.7,176.0 L538.1,174.2 L538.5,173.5 L538.9,175.3 L539.3,176.5 L539.7,176.2 L540.1,174.8 L540.5,175.8 L540.9,176.8 L541.3,172.7 L541.7,175.8 L542.1,175.2 L542.5,174.2 L542.9,173.8 L543.3,172.5 L543.7,176.0 L544.1,176.4 L544.5,172.5 L544.9,172.4 L545.3,174.5 L545.7,171.0 L546.1,170.3 L546.5,171.2 L546.9,171.8 L547.3,172.7 L547.7,171.5 L548.1,173.9 L548.5,173.0 L548.9,170.8 L549.3,172.8 L549.7,171.9 L550.1,170.2 L550.5,171.8 L550.9,175.0 L551.3,174.7 L551.7,174.1 L552.1,173.4 L552.5,172.0 L552.9,171.1 L553.3,170.7 L553.7,170.6 L554.1,171.2 L554.5,171.9 L554.9,171.1 L555.3,172.0 L555.7,172.2 L556.1,171.6 L556.5,170.3 L556.9,169.8 L557.3,168.5 L557.7,170.4 L558.1,168.4 L558.5,166.8 L558.9,170.1 L559.3,167.1 L559.7,170.1 L560.1,167.7 L560.5,168.2 L560.9,169.1 L561.3,168.3 L561.7,167.1 L562.1,166.1 L562.5,166.0 L562.9,167.7 L563.3,166.4 L563.7,165.8 L564.1,166.2 L564.5,165.9 L564.9,163.5 L565.3,165.7 L565.7,164.4 L566.1,162.0 L566.5,161.8 L566.9,162.5 L567.3,160.3 L567.7,160.3 L568.1,159.6 L568.5,157.6 L568.9,158.6 L569.3,158.8 L569.7,159.8 L570.1,167.0 L570.5,168.7 L570.9,169.4 L571.3,172.4 L571.7,171.9 L572.1,172.3 L572.5,173.5 L572.9,170.3 L573.3,174.8 L573.7,174.0 L574.1,175.3 L574.5,178.7 L574.9,176.6 L575.3,176.6 L575.7,175.9 L576.1,176.7 L576.5,175.6 L576.9,175.9 L577.3,177.0 L577.7,178.6 L578.1,175.4 L578.5,176.2 L578.9,177.3 L579.3,172.3 L579.7,174.6 L580.1,176.7 L580.5,175.7 L580.9,174.0 L581.3,172.7 L581.7,171.1 L582.1,170.7 L582.5,170.4 L582.9,169.8 L583.3,171.4 L583.7,169.3 L584.1,169.6 L584.5,166.3 L584.9,169.2 L585.3,167.8 L585.7,163.7 L586.1,164.3 L586.5,164.4 L586.9,166.9 L587.3,169.8 L587.7,168.6 L588.1,172.3 L588.5,171.4 L588.9,168.6 L589.3,167.0 L589.7,169.8 L590.1,170.0 L590.5,172.1 L590.9,169.6 L591.3,170.6 L591.7,170.4 L592.1,175.4 L592.5,174.3 L592.9,172.3 L593.3,174.4 L593.7,172.4 L594.1,173.9 L594.5,174.5 L594.9,172.3 L595.3,171.9 L595.7,171.6 L596.1,174.4 L596.5,179.7 L596.9,178.0 L597.3,176.2 L597.7,177.4 L598.1,175.4 L598.5,177.5 L598.9,177.2 L599.3,176.1 L599.7,174.3 L600.1,175.3 L600.5,175.6 L600.9,173.5 L601.3,169.5 L601.7,173.3 L602.1,173.5 L602.5,170.9 L602.9,173.4 L603.3,172.8 L603.7,171.1 L604.1,171.4 L604.5,169.3 L604.9,172.1 L605.3,170.8 L605.7,175.4 L606.1,171.2 L606.5,168.1 L606.9,170.0 L607.3,170.7 L607.7,172.3 L608.1,172.9 L608.5,172.0 L608.9,173.7 L609.3,171.7 L609.7,173.8 L610.1,172.7 L610.5,171.8 L610.9,173.9 L611.3,172.6 L611.7,176.1 L612.1,173.4 L612.5,174.8 L612.9,174.9 L613.3,172.7 L613.7,173.8 L614.1,174.7 L614.5,175.6 L614.9,174.9 L615.3,170.4 L615.7,173.1 L616.1,170.2 L616.5,172.4 L616.9,175.1 L617.3,172.6 L617.7,171.9 L618.1,172.3 L618.5,173.8 L618.9,173.7 L619.3,173.4 L619.7,172.3 L620.1,171.9 L620.5,170.1 L620.9,172.6 L621.3,173.0 L621.7,170.5 L622.1,170.4 L622.5,171.3 L622.9,173.3 L623.3,174.1 L623.7,172.2 L624.1,171.1 L624.5,169.6 L624.9,172.9 L625.3,170.0 L625.7,173.2 L626.1,172.1 L626.5,171.2 L626.9,172.2 L627.3,170.9 L627.7,174.3 L628.1,171.0 L628.5,173.7 L628.9,172.9 L629.3,174.6 L629.7,173.2 L630.1,169.5 L630.5,172.9 L630.9,172.5 L631.3,173.5 L631.7,174.3 L632.1,170.6 L632.5,170.3 L632.9,171.2 L633.3,174.2 L633.7,175.3 L634.1,173.7 L634.5,177.0 L634.9,176.0 L635.3,176.1 L635.7,174.6 L636.1,173.0 L636.5,176.6 L636.9,175.9 L637.3,175.3 L637.7,177.5 L638.1,175.5 L638.5,174.6 L638.9,174.7 L639.3,176.7 L639.7,175.3 L640.1,173.6 L640.5,175.5 L640.9,171.4 L641.3,173.5 L641.7,176.2 L642.1,173.9 L642.5,169.8 L642.9,170.4 L643.3,171.6 L643.7,175.4 L644.1,173.8 L644.5,174.0 L644.9,174.2 L645.3,173.0 L645.7,175.6 L646.1,174.5 L646.5,176.9 L646.9,174.7 L647.3,174.9 L647.7,173.4 L648.1,173.2 L648.5,173.9 L648.9,173.4 L649.3,173.4 L649.7,172.0 L650.1,173.6 L650.5,171.9 L650.9,170.1 L651.3,171.3 L651.7,171.1 L652.1,171.8 L652.5,169.3 L652.9,170.7 L653.3,174.1 L653.7,171.5 L654.1,172.8 L654.5,172.1 L654.9,169.5 L655.3,167.7 L655.7,169.3 L656.1,169.2 L656.5,170.1 L656.9,170.4 L657.3,167.8 L657.7,168.3 L658.1,168.3 L658.5,168.3 L658.9,168.5 L659.3,166.5 L659.7,166.9 L660.1,169.1 L660.5,168.5 L660.9,168.3 L661.3,168.2 L661.7,164.4 L662.1,164.1 L662.5,163.0 L662.9,166.7 L663.3,165.8 L663.7,165.5 L664.1,166.3 L664.5,166.9 L664.9,167.6 L665.3,169.4 L665.7,168.0 L666.1,169.2 L666.5,167.8 L666.9,170.4 L667.3,172.1 L667.7,173.0 L668.1,170.4 L668.5,169.9 L668.9,170.4 L669.3,171.5 L669.7,175.2 L670.1,175.4 L670.5,174.9 L670.9,173.7 L671.3,173.3 L671.7,176.7 L672.1,173.9 L672.5,173.4 L672.9,175.7 L673.3,173.5 L673.7,172.5 L674.1,173.0 L674.5,173.4 L674.9,171.7 L675.3,172.2 L675.7,173.9 L676.1,174.9 L676.5,170.7 L676.9,175.6" fill="none" stroke="#1c1cd0" stroke-width="1.05" stroke-linejoin="round" stroke-opacity="0.95" clip-path="url(#cb3)"/>
<path d="M494.5,172.3 L494.8,168.4 L495.1,173.2 L495.4,176.0 L495.7,173.3 L496.0,172.8 L496.3,173.6 L496.6,170.8 L496.9,172.9 L497.2,177.3 L497.5,174.5 L497.8,175.6 L498.1,173.4 L498.4,172.2 L498.7,173.8 L499.0,172.0 L499.3,176.0 L499.6,173.2 L499.9,173.7 L500.2,172.6 L500.5,173.6 L500.8,173.0 L501.1,173.1 L501.4,170.8 L501.7,174.4 L502.0,177.8 L502.3,171.0 L502.6,176.4 L502.9,172.2 L503.2,176.9 L503.5,175.5 L503.8,179.6 L504.1,173.1 L504.4,175.0 L504.7,178.1 L505.0,170.4 L505.3,168.3 L505.6,172.6 L505.9,169.6 L506.2,169.5 L506.5,170.1 L506.8,167.8 L507.1,173.0 L507.4,172.5 L507.7,167.8 L508.0,170.6 L508.3,170.6 L508.6,172.3 L508.9,166.5 L509.2,169.5 L509.5,164.9 L509.8,162.5 L510.1,164.7 L510.4,164.9 L510.7,173.1 L511.0,167.3 L511.3,165.0 L511.6,165.9 L511.9,168.1 L512.2,164.0 L512.5,164.1 L512.8,171.4 L513.1,170.5 L513.4,169.6 L513.7,170.1 L514.0,172.8 L514.3,165.3 L514.6,175.0 L514.9,170.9 L515.2,170.0 L515.5,168.7 L515.8,174.7 L516.1,167.9 L516.4,171.3 L516.7,163.5 L517.0,170.0 L517.3,173.2 L517.6,167.7 L517.9,166.5 L518.2,170.1 L518.5,172.4 L518.8,172.3 L519.1,170.1 L519.4,173.0 L519.7,170.7 L520.0,177.1 L520.3,171.8 L520.6,174.5 L520.9,173.0 L521.2,171.7 L521.5,175.8 L521.8,170.4 L522.1,175.7 L522.4,172.8 L522.7,171.5 L523.0,170.9 L523.3,174.2 L523.6,171.7 L523.9,171.7 L524.2,169.6 L524.5,174.4 L524.8,176.1 L525.1,175.5 L525.4,176.6 L525.7,167.2 L526.0,169.6 L526.3,172.3 L526.6,173.4 L526.9,172.8 L527.2,174.1 L527.5,170.4 L527.8,170.4 L528.1,170.5 L528.4,172.8 L528.7,172.1 L529.0,171.3 L529.3,174.8 L529.6,172.0 L529.9,172.5 L530.2,169.4 L530.5,170.2 L530.8,174.7 L531.1,174.7 L531.4,174.6 L531.7,172.5 L532.0,172.9 L532.3,172.1 L532.6,171.2 L532.9,167.2 L533.2,175.6 L533.5,173.6 L533.8,171.3 L534.1,175.0 L534.4,169.4 L534.7,173.1 L535.0,169.3 L535.3,171.0 L535.6,170.5 L535.9,171.2 L536.2,170.8 L536.5,171.6 L536.8,170.9 L537.1,170.4 L537.4,168.1 L537.7,171.1 L538.0,167.2 L538.3,165.4 L538.6,165.4 L538.9,164.0 L539.2,165.5 L539.5,164.6 L539.8,166.3 L540.1,166.7 L540.4,168.7 L540.7,165.9 L541.0,167.5 L541.3,167.5 L541.6,170.7 L541.9,165.3 L542.2,165.2 L542.5,172.0 L542.8,169.2 L543.1,166.8 L543.4,170.9 L543.7,171.5 L544.0,170.5 L544.3,164.5 L544.6,169.5 L544.9,167.4 L545.2,168.9 L545.5,166.0 L545.8,172.8 L546.1,167.1 L546.4,168.6 L546.7,168.8 L547.0,168.2 L547.3,169.1 L547.6,169.0 L547.9,170.0 L548.2,167.7 L548.5,163.5 L548.8,170.0 L549.1,167.2 L549.4,168.6 L549.7,168.3 L550.0,165.8 L550.3,165.6 L550.6,165.5 L550.9,168.8 L551.2,170.0 L551.5,168.7 L551.8,165.9 L552.1,171.7 L552.4,167.4 L552.7,164.8 L553.0,165.7 L553.3,170.7 L553.6,173.5 L553.9,169.8 L554.2,167.4 L554.5,168.6 L554.8,167.4 L555.1,170.0 L555.4,170.9 L555.7,169.3 L556.0,172.4 L556.3,169.2 L556.6,172.5 L556.9,172.1 L557.2,171.9 L557.5,170.3 L557.8,171.0 L558.1,174.9 L558.4,170.2 L558.7,173.4 L559.0,173.1 L559.3,172.1 L559.6,175.9 L559.9,168.2 L560.2,174.0 L560.5,175.4 L560.8,176.2 L561.1,176.4 L561.4,172.3 L561.7,173.7 L562.0,176.8 L562.3,173.6 L562.6,171.2 L562.9,173.1 L563.2,170.9 L563.5,171.5 L563.8,175.0 L564.1,172.1 L564.4,174.0 L564.7,174.1 L565.0,173.0 L565.3,172.7 L565.6,169.8 L565.9,178.1 L566.2,176.3 L566.5,175.9 L566.8,175.1 L567.1,169.2 L567.4,175.2 L567.7,171.2 L568.0,174.7 L568.3,173.3 L568.6,177.1 L568.9,174.0 L569.2,175.4 L569.5,178.6 L569.8,178.0 L570.1,172.9 L570.4,175.0 L570.7,177.6 L571.0,177.0 L571.3,180.7 L571.6,178.2 L571.9,176.0 L572.2,176.8 L572.5,176.9 L572.8,176.0 L573.1,177.4 L573.4,178.3 L573.7,176.2 L574.0,177.1 L574.3,179.9 L574.6,177.7 L574.9,177.5 L575.2,175.6 L575.5,177.7 L575.8,178.6 L576.1,178.2 L576.4,171.8 L576.7,176.3 L577.0,171.7 L577.3,173.6 L577.6,176.2 L577.9,170.2 L578.2,170.8 L578.5,172.6 L578.8,178.3 L579.1,177.0 L579.4,170.1 L579.7,173.4 L580.0,172.6 L580.3,172.5 L580.6,170.1 L580.9,173.3 L581.2,171.0 L581.5,173.6 L581.8,168.8 L582.1,174.4 L582.4,172.6 L582.7,174.0 L583.0,164.3 L583.3,172.4 L583.6,171.0 L583.9,167.6 L584.2,170.6 L584.5,171.9 L584.8,169.2 L585.1,169.4 L585.4,170.6 L585.7,167.6 L586.0,167.6 L586.3,166.4 L586.6,164.2 L586.9,165.4 L587.2,170.4 L587.5,170.0 L587.8,166.2 L588.1,167.3 L588.4,171.7 L588.7,167.6 L589.0,169.2 L589.3,172.3 L589.6,172.6 L589.9,169.2 L590.2,170.3 L590.5,171.3 L590.8,173.7 L591.1,172.7 L591.4,169.2 L591.7,177.6 L592.0,173.7 L592.3,172.7 L592.6,170.1 L592.9,175.9 L593.2,174.8 L593.5,175.9 L593.8,175.7 L594.1,176.1 L594.4,176.1 L594.7,179.8 L595.0,176.3 L595.3,178.7 L595.6,175.1 L595.9,178.8 L596.2,176.1 L596.5,173.6 L596.8,176.3 L597.1,174.9 L597.4,173.8 L597.7,175.0 L598.0,172.4 L598.3,172.5 L598.6,181.2 L598.9,177.8 L599.2,174.3 L599.5,176.4 L599.8,176.9 L600.1,170.3 L600.4,172.4 L600.7,170.7 L601.0,165.5 L601.3,167.5 L601.6,160.8 L601.9,160.4 L602.2,160.9 L602.5,161.8 L602.8,160.1 L603.1,158.3 L603.4,158.4 L603.7,156.7 L604.0,165.8 L604.3,159.5 L604.6,159.0 L604.9,161.8 L605.2,162.8 L605.5,161.9 L605.8,160.0 L606.1,157.9 L606.4,161.7 L606.7,161.1 L607.0,161.8 L607.3,163.8 L607.6,164.4 L607.9,164.2 L608.2,161.4 L608.5,159.3 L608.8,164.1 L609.1,166.0 L609.4,161.6 L609.7,163.6 L610.0,163.4 L610.3,163.9 L610.6,166.0 L610.9,166.1 L611.2,165.7 L611.5,167.2 L611.8,164.6 L612.1,164.6 L612.4,169.1 L612.7,162.4 L613.0,162.6 L613.3,165.3 L613.6,168.2 L613.9,169.2 L614.2,164.8 L614.5,171.5 L614.8,165.6 L615.1,170.9 L615.4,163.4 L615.7,167.6 L616.0,166.5 L616.3,168.5 L616.6,166.8 L616.9,169.7 L617.2,170.4 L617.5,170.5 L617.8,170.5 L618.1,167.6 L618.4,167.5 L618.7,166.0 L619.0,168.0 L619.3,168.1 L619.6,172.6 L619.9,173.2 L620.2,169.5 L620.5,172.4 L620.8,172.6 L621.1,170.1 L621.4,166.6 L621.7,175.0 L622.0,171.1 L622.3,171.6 L622.6,175.2 L622.9,169.7 L623.2,171.5 L623.5,166.9 L623.8,171.9 L624.1,172.0 L624.4,170.4 L624.7,170.3 L625.0,170.8 L625.3,171.4 L625.6,176.3 L625.9,172.9 L626.2,170.8 L626.5,171.6 L626.8,170.9 L627.1,172.8 L627.4,171.3 L627.7,176.2 L628.0,171.4 L628.3,172.4 L628.6,173.2 L628.9,168.0 L629.2,168.7 L629.5,175.7 L629.8,173.2 L630.1,175.7 L630.4,174.0 L630.7,171.3 L631.0,170.4 L631.3,177.9 L631.6,173.9 L631.9,175.3 L632.2,173.2 L632.5,175.3 L632.8,171.4 L633.1,170.1 L633.4,172.6 L633.7,174.0 L634.0,174.2 L634.3,172.6 L634.6,174.7 L634.9,174.6 L635.2,178.3 L635.5,173.6 L635.8,177.1 L636.1,178.9 L636.4,177.2 L636.7,169.5 L637.0,177.1 L637.3,171.4 L637.6,176.6 L637.9,173.7 L638.2,174.5 L638.5,173.2 L638.8,177.4 L639.1,174.5 L639.4,169.8 L639.7,172.2 L640.0,177.5 L640.3,177.4 L640.6,176.4 L640.9,175.9 L641.2,177.0 L641.5,176.8 L641.8,173.5 L642.1,174.5 L642.4,174.7 L642.7,173.5 L643.0,176.7 L643.3,176.2 L643.6,173.5 L643.9,176.0 L644.2,172.4 L644.5,173.2 L644.8,170.3 L645.1,176.8 L645.4,175.2 L645.7,172.4 L646.0,169.4 L646.3,171.2 L646.6,174.8 L646.9,172.8 L647.2,174.1 L647.5,171.8 L647.8,171.0 L648.1,174.5 L648.4,174.3 L648.7,172.9 L649.0,172.6 L649.3,176.8 L649.6,173.5 L649.9,174.7 L650.2,176.8 L650.5,172.9 L650.8,173.2 L651.1,172.5 L651.4,176.1 L651.7,171.5 L652.0,171.0 L652.3,172.9 L652.6,170.4 L652.9,175.5 L653.2,173.1 L653.5,176.1 L653.8,172.0 L654.1,169.6 L654.4,169.7 L654.7,167.0 L655.0,170.6 L655.3,171.8 L655.6,176.0 L655.9,171.8 L656.2,171.9 L656.5,168.3 L656.8,171.0 L657.1,172.5 L657.4,170.8 L657.7,173.0 L658.0,164.8 L658.3,163.5 L658.6,165.0 L658.9,163.9 L659.2,168.0 L659.5,168.4 L659.8,168.5 L660.1,167.8 L660.4,168.5 L660.7,168.3 L661.0,165.2 L661.3,164.8 L661.6,167.0 L661.9,162.3 L662.2,161.0 L662.5,162.1 L662.8,160.4 L663.1,160.9 L663.4,158.9 L663.7,157.1 L664.0,156.0 L664.3,150.6 L664.6,149.3 L664.9,156.0 L665.2,151.2 L665.5,149.4 L665.8,146.3 L666.1,149.5 L666.4,146.7 L666.7,143.1 L667.0,142.5 L667.3,141.5 L667.6,141.9 L667.9,138.9 L668.2,137.9 L668.5,135.4 L668.8,135.8 L669.1,135.5 L669.4,135.7 L669.7,140.9 L670.0,141.8 L670.3,144.6 L670.6,146.5 L670.9,145.2 L671.2,149.4 L671.5,150.3 L671.8,153.6 L672.1,151.5 L672.4,155.0 L672.7,160.2 L673.0,161.3 L673.3,164.3 L673.6,165.5 L673.9,167.9 L674.2,165.3 L674.5,161.7 L674.8,165.9 L675.1,164.5 L675.4,166.0 L675.7,168.2 L676.0,169.9 L676.3,172.1 L676.6,176.7 L676.9,174.1" fill="none" stroke="#e03030" stroke-width="0.7" stroke-linejoin="round" stroke-opacity="0.55" clip-path="url(#cb3)"/>
<path d="M494.5,172.1 L494.9,171.3 L495.3,173.8 L495.7,174.2 L496.1,174.0 L496.5,173.2 L496.9,172.7 L497.3,175.7 L497.7,174.0 L498.1,176.2 L498.5,172.7 L498.9,172.6 L499.3,173.6 L499.7,174.5 L500.1,175.2 L500.5,175.9 L500.9,173.8 L501.3,173.6 L501.7,175.9 L502.1,177.2 L502.5,173.3 L502.9,172.3 L503.3,175.0 L503.7,176.1 L504.1,174.3 L504.5,175.2 L504.9,172.1 L505.3,173.8 L505.7,172.9 L506.1,171.3 L506.5,172.8 L506.9,170.2 L507.3,168.3 L507.7,170.5 L508.1,172.7 L508.5,171.2 L508.9,168.7 L509.3,165.3 L509.7,164.1 L510.1,165.4 L510.5,163.7 L510.9,166.1 L511.3,165.3 L511.7,165.2 L512.1,167.2 L512.5,169.8 L512.9,170.0 L513.3,170.3 L513.7,170.9 L514.1,171.9 L514.5,171.6 L514.9,170.8 L515.3,168.8 L515.7,167.8 L516.1,167.2 L516.5,169.2 L516.9,167.6 L517.3,172.3 L517.7,171.6 L518.1,167.3 L518.5,170.9 L518.9,170.1 L519.3,171.0 L519.7,174.4 L520.1,175.3 L520.5,173.1 L520.9,172.4 L521.3,170.9 L521.7,170.3 L522.1,172.1 L522.5,174.3 L522.9,173.2 L523.3,171.9 L523.7,173.8 L524.1,172.3 L524.5,172.1 L524.9,172.5 L525.3,174.7 L525.7,173.7 L526.1,169.5 L526.5,174.0 L526.9,174.0 L527.3,172.5 L527.7,173.1 L528.1,171.9 L528.5,174.0 L528.9,172.9 L529.3,173.9 L529.7,172.2 L530.1,171.7 L530.5,170.4 L530.9,171.8 L531.3,174.0 L531.7,171.8 L532.1,171.9 L532.5,171.1 L532.9,173.3 L533.3,168.4 L533.7,172.1 L534.1,172.2 L534.5,171.4 L534.9,168.3 L535.3,171.0 L535.7,171.0 L536.1,170.4 L536.5,169.2 L536.9,169.5 L537.3,170.6 L537.7,168.3 L538.1,165.3 L538.5,166.1 L538.9,164.9 L539.3,167.3 L539.7,165.6 L540.1,166.1 L540.5,169.3 L540.9,168.4 L541.3,169.2 L541.7,168.1 L542.1,169.3 L542.5,169.5 L542.9,167.5 L543.3,169.1 L543.7,168.1 L544.1,168.3 L544.5,168.8 L544.9,168.6 L545.3,167.6 L545.7,169.8 L546.1,170.3 L546.5,167.7 L546.9,167.8 L547.3,168.6 L547.7,169.5 L548.1,167.6 L548.5,167.7 L548.9,167.8 L549.3,168.5 L549.7,169.0 L550.1,166.0 L550.5,169.2 L550.9,166.7 L551.3,165.7 L551.7,169.1 L552.1,169.8 L552.5,169.1 L552.9,168.9 L553.3,169.7 L553.7,171.4 L554.1,169.1 L554.5,169.0 L554.9,168.9 L555.3,171.2 L555.7,168.4 L556.1,171.4 L556.5,168.2 L556.9,172.3 L557.3,170.9 L557.7,172.3 L558.1,174.0 L558.5,170.7 L558.9,170.1 L559.3,174.8 L559.7,173.4 L560.1,172.4 L560.5,176.4 L560.9,173.0 L561.3,171.3 L561.7,172.8 L562.1,173.7 L562.5,171.2 L562.9,172.7 L563.3,172.7 L563.7,173.1 L564.1,173.2 L564.5,174.1 L564.9,175.2 L565.3,171.9 L565.7,173.3 L566.1,176.1 L566.5,175.6 L566.9,173.3 L567.3,172.5 L567.7,174.6 L568.1,174.1 L568.5,176.6 L568.9,172.9 L569.3,175.5 L569.7,175.5 L570.1,174.0 L570.5,175.9 L570.9,178.2 L571.3,179.7 L571.7,178.9 L572.1,179.2 L572.5,178.4 L572.9,174.7 L573.3,176.2 L573.7,176.8 L574.1,177.3 L574.5,180.0 L574.9,178.4 L575.3,177.8 L575.7,176.8 L576.1,175.9 L576.5,175.9 L576.9,173.1 L577.3,174.4 L577.7,175.3 L578.1,174.3 L578.5,174.0 L578.9,175.3 L579.3,175.5 L579.7,173.5 L580.1,173.8 L580.5,172.7 L580.9,170.5 L581.3,172.2 L581.7,173.5 L582.1,173.5 L582.5,170.3 L582.9,168.1 L583.3,171.0 L583.7,170.1 L584.1,168.5 L584.5,169.4 L584.9,168.4 L585.3,167.6 L585.7,165.3 L586.1,164.2 L586.5,165.5 L586.9,166.8 L587.3,169.2 L587.7,166.9 L588.1,167.9 L588.5,170.3 L588.9,169.1 L589.3,170.5 L589.7,172.1 L590.1,172.9 L590.5,171.1 L590.9,169.8 L591.3,172.9 L591.7,175.6 L592.1,175.1 L592.5,173.1 L592.9,173.4 L593.3,174.7 L593.7,176.1 L594.1,173.5 L594.5,173.8 L594.9,177.9 L595.3,180.1 L595.7,177.0 L596.1,174.7 L596.5,176.8 L596.9,175.2 L597.3,174.8 L597.7,176.1 L598.1,175.1 L598.5,176.1 L598.9,176.9 L599.3,174.1 L599.7,174.2 L600.1,174.0 L600.5,173.1 L600.9,167.6 L601.3,165.9 L601.7,164.6 L602.1,161.1 L602.5,161.8 L602.9,159.2 L603.3,158.1 L603.7,159.7 L604.1,162.7 L604.5,159.4 L604.9,159.6 L605.3,161.4 L605.7,162.5 L606.1,161.2 L606.5,163.0 L606.9,162.5 L607.3,163.7 L607.7,163.0 L608.1,159.9 L608.5,164.4 L608.9,163.3 L609.3,165.7 L609.7,160.8 L610.1,163.6 L610.5,164.2 L610.9,164.0 L611.3,164.8 L611.7,165.2 L612.1,165.9 L612.5,165.6 L612.9,163.9 L613.3,166.7 L613.7,167.1 L614.1,167.2 L614.5,169.3 L614.9,167.2 L615.3,165.3 L615.7,163.6 L616.1,168.5 L616.5,168.1 L616.9,170.9 L617.3,171.5 L617.7,168.7 L618.1,168.4 L618.5,169.4 L618.9,167.4 L619.3,168.4 L619.7,170.4 L620.1,172.3 L620.5,172.4 L620.9,169.1 L621.3,170.8 L621.7,171.6 L622.1,171.0 L622.5,169.3 L622.9,170.4 L623.3,170.9 L623.7,171.6 L624.1,171.6 L624.5,172.1 L624.9,170.7 L625.3,173.1 L625.7,174.4 L626.1,173.5 L626.5,170.8 L626.9,174.0 L627.3,173.0 L627.7,177.8 L628.1,177.1 L628.5,173.4 L628.9,170.3 L629.3,173.7 L629.7,175.1 L630.1,174.6 L630.5,171.9 L630.9,173.8 L631.3,174.6 L631.7,174.7 L632.1,174.7 L632.5,174.2 L632.9,173.1 L633.3,174.7 L633.7,175.2 L634.1,174.6 L634.5,174.5 L634.9,173.7 L635.3,176.9 L635.7,175.8 L636.1,175.6 L636.5,172.9 L636.9,174.9 L637.3,175.5 L637.7,172.0 L638.1,171.9 L638.5,175.3 L638.9,176.1 L639.3,172.3 L639.7,173.2 L640.1,176.7 L640.5,175.0 L640.9,176.4 L641.3,176.6 L641.7,170.0 L642.1,173.3 L642.5,176.0 L642.9,175.4 L643.3,174.5 L643.7,173.2 L644.1,175.1 L644.5,172.9 L644.9,172.6 L645.3,174.9 L645.7,169.7 L646.1,171.4 L646.5,172.8 L646.9,174.1 L647.3,173.1 L647.7,173.3 L648.1,174.5 L648.5,174.7 L648.9,175.9 L649.3,175.5 L649.7,173.6 L650.1,172.7 L650.5,171.4 L650.9,173.2 L651.3,174.7 L651.7,174.2 L652.1,172.8 L652.5,174.2 L652.9,173.6 L653.3,175.9 L653.7,173.3 L654.1,169.5 L654.5,168.2 L654.9,170.5 L655.3,173.2 L655.7,171.9 L656.1,170.3 L656.5,169.2 L656.9,169.6 L657.3,170.5 L657.7,167.6 L658.1,167.5 L658.5,165.7 L658.9,164.6 L659.3,167.3 L659.7,167.9 L660.1,169.9 L660.5,168.0 L660.9,165.8 L661.3,166.4 L661.7,164.6 L662.1,160.6 L662.5,161.4 L662.9,160.9 L663.3,160.5 L663.7,157.4 L664.1,154.6 L664.5,151.8 L664.9,153.3 L665.3,151.8 L665.7,149.6 L666.1,149.7 L666.5,148.0 L666.9,145.0 L667.3,144.5 L667.7,139.9 L668.1,138.3 L668.5,137.8 L668.9,134.4 L669.3,135.9 L669.7,138.3 L670.1,143.6 L670.5,145.9 L670.9,146.1 L671.3,149.9 L671.7,152.3 L672.1,153.6 L672.5,158.0 L672.9,161.1 L673.3,161.8 L673.7,164.5 L674.1,164.6 L674.5,163.5 L674.9,165.4 L675.3,167.3 L675.7,168.8 L676.1,169.5 L676.5,169.9 L676.9,174.2" fill="none" stroke="#cc1218" stroke-width="1.05" stroke-linejoin="round" stroke-opacity="0.95" clip-path="url(#cb3)"/>
<line x1="502.40" y1="17.30" x2="502.40" y2="185.20" stroke="#222" stroke-width="0.95" stroke-dasharray="3.2,1.8"/>
<line x1="669.40" y1="17.30" x2="669.40" y2="185.20" stroke="#222" stroke-width="0.95" stroke-dasharray="3.2,1.8"/>
<line x1="569.50" y1="17.30" x2="569.50" y2="185.20" stroke="#111" stroke-width="0.9" stroke-dasharray="1.8,1.2"/>
<line x1="602.60" y1="17.30" x2="602.60" y2="185.20" stroke="#111" stroke-width="0.9" stroke-dasharray="1.8,1.2"/>
<rect x="493.30" y="17.30" width="185.20" height="52.10" fill="none" stroke="#222" stroke-width="1.0"/>
<line x1="495.70" y1="69.40" x2="495.70" y2="71.90" stroke="#222" stroke-width="0.9"/>
<line x1="513.80" y1="69.40" x2="513.80" y2="71.90" stroke="#222" stroke-width="0.9"/>
<line x1="531.90" y1="69.40" x2="531.90" y2="71.90" stroke="#222" stroke-width="0.9"/>
<line x1="550.00" y1="69.40" x2="550.00" y2="71.90" stroke="#222" stroke-width="0.9"/>
<line x1="568.10" y1="69.40" x2="568.10" y2="71.90" stroke="#222" stroke-width="0.9"/>
<line x1="586.20" y1="69.40" x2="586.20" y2="71.90" stroke="#222" stroke-width="0.9"/>
<line x1="604.30" y1="69.40" x2="604.30" y2="71.90" stroke="#222" stroke-width="0.9"/>
<line x1="622.40" y1="69.40" x2="622.40" y2="71.90" stroke="#222" stroke-width="0.9"/>
<line x1="640.50" y1="69.40" x2="640.50" y2="71.90" stroke="#222" stroke-width="0.9"/>
<line x1="658.60" y1="69.40" x2="658.60" y2="71.90" stroke="#222" stroke-width="0.9"/>
<line x1="676.70" y1="69.40" x2="676.70" y2="71.90" stroke="#222" stroke-width="0.9"/>
<rect x="493.30" y="75.60" width="185.20" height="52.40" fill="none" stroke="#222" stroke-width="1.0"/>
<line x1="495.70" y1="128.00" x2="495.70" y2="130.50" stroke="#222" stroke-width="0.9"/>
<line x1="513.80" y1="128.00" x2="513.80" y2="130.50" stroke="#222" stroke-width="0.9"/>
<line x1="531.90" y1="128.00" x2="531.90" y2="130.50" stroke="#222" stroke-width="0.9"/>
<line x1="550.00" y1="128.00" x2="550.00" y2="130.50" stroke="#222" stroke-width="0.9"/>
<line x1="568.10" y1="128.00" x2="568.10" y2="130.50" stroke="#222" stroke-width="0.9"/>
<line x1="586.20" y1="128.00" x2="586.20" y2="130.50" stroke="#222" stroke-width="0.9"/>
<line x1="604.30" y1="128.00" x2="604.30" y2="130.50" stroke="#222" stroke-width="0.9"/>
<line x1="622.40" y1="128.00" x2="622.40" y2="130.50" stroke="#222" stroke-width="0.9"/>
<line x1="640.50" y1="128.00" x2="640.50" y2="130.50" stroke="#222" stroke-width="0.9"/>
<line x1="658.60" y1="128.00" x2="658.60" y2="130.50" stroke="#222" stroke-width="0.9"/>
<line x1="676.70" y1="128.00" x2="676.70" y2="130.50" stroke="#222" stroke-width="0.9"/>
<rect x="493.30" y="133.10" width="185.20" height="52.10" fill="none" stroke="#222" stroke-width="1.0"/>
<line x1="495.70" y1="185.20" x2="495.70" y2="187.70" stroke="#222" stroke-width="0.9"/>
<line x1="513.80" y1="185.20" x2="513.80" y2="187.70" stroke="#222" stroke-width="0.9"/>
<line x1="531.90" y1="185.20" x2="531.90" y2="187.70" stroke="#222" stroke-width="0.9"/>
<line x1="550.00" y1="185.20" x2="550.00" y2="187.70" stroke="#222" stroke-width="0.9"/>
<line x1="568.10" y1="185.20" x2="568.10" y2="187.70" stroke="#222" stroke-width="0.9"/>
<line x1="586.20" y1="185.20" x2="586.20" y2="187.70" stroke="#222" stroke-width="0.9"/>
<line x1="604.30" y1="185.20" x2="604.30" y2="187.70" stroke="#222" stroke-width="0.9"/>
<line x1="622.40" y1="185.20" x2="622.40" y2="187.70" stroke="#222" stroke-width="0.9"/>
<line x1="640.50" y1="185.20" x2="640.50" y2="187.70" stroke="#222" stroke-width="0.9"/>
<line x1="658.60" y1="185.20" x2="658.60" y2="187.70" stroke="#222" stroke-width="0.9"/>
<line x1="676.70" y1="185.20" x2="676.70" y2="187.70" stroke="#222" stroke-width="0.9"/>
<line x1="490.70" y1="19.30" x2="493.30" y2="19.30" stroke="#222" stroke-width="0.9"/>
<line x1="490.70" y1="29.40" x2="493.30" y2="29.40" stroke="#222" stroke-width="0.9"/>
<line x1="490.70" y1="39.40" x2="493.30" y2="39.40" stroke="#222" stroke-width="0.9"/>
<line x1="490.70" y1="49.50" x2="493.30" y2="49.50" stroke="#222" stroke-width="0.9"/>
<line x1="490.70" y1="59.30" x2="493.30" y2="59.30" stroke="#222" stroke-width="0.9"/>
<line x1="490.70" y1="69.40" x2="493.30" y2="69.40" stroke="#222" stroke-width="0.9"/>
<text x="487.00" y="32.30" font-size="6.5" text-anchor="end">0.006</text>
<text x="487.00" y="52.40" font-size="6.5" text-anchor="end">0.005</text>
<text x="487.00" y="72.30" font-size="6.5" text-anchor="end">0.004</text>
<line x1="490.70" y1="80.50" x2="493.30" y2="80.50" stroke="#222" stroke-width="0.9"/>
<line x1="490.70" y1="94.60" x2="493.30" y2="94.60" stroke="#222" stroke-width="0.9"/>
<line x1="490.70" y1="108.50" x2="493.30" y2="108.50" stroke="#222" stroke-width="0.9"/>
<line x1="490.70" y1="122.80" x2="493.30" y2="122.80" stroke="#222" stroke-width="0.9"/>
<text x="487.00" y="97.50" font-size="6.5" text-anchor="end">0.004</text>
<text x="487.00" y="125.70" font-size="6.5" text-anchor="end">0.003</text>
<line x1="490.70" y1="145.30" x2="493.30" y2="145.30" stroke="#222" stroke-width="0.9"/>
<line x1="490.70" y1="165.00" x2="493.30" y2="165.00" stroke="#222" stroke-width="0.9"/>
<line x1="490.70" y1="185.20" x2="493.30" y2="185.20" stroke="#222" stroke-width="0.9"/>
<text x="487.00" y="148.20" font-size="6.5" text-anchor="end">0.002</text>
<text x="487.00" y="188.10" font-size="6.5" text-anchor="end">0.001</text>
<text x="495.70" y="194.20" font-size="6.3" text-anchor="middle">−5</text>
<text x="513.80" y="194.20" font-size="6.3" text-anchor="middle">−4</text>
<text x="531.90" y="194.20" font-size="6.3" text-anchor="middle">−3</text>
<text x="550.00" y="194.20" font-size="6.3" text-anchor="middle">−2</text>
<text x="568.10" y="194.20" font-size="6.3" text-anchor="middle">−1</text>
<text x="586.20" y="194.20" font-size="6.3" text-anchor="middle">0</text>
<text x="604.30" y="194.20" font-size="6.3" text-anchor="middle">+1</text>
<text x="622.40" y="194.20" font-size="6.3" text-anchor="middle">+2</text>
<text x="640.50" y="194.20" font-size="6.3" text-anchor="middle">+3</text>
<text x="658.60" y="194.20" font-size="6.3" text-anchor="middle">+4</text>
<text x="676.70" y="194.20" font-size="6.3" text-anchor="middle">+5</text>
<text x="586.00" y="208.20" font-size="6.5" text-anchor="middle">Distance from the OSK nuc. array centre (kb)</text>
<text x="502.60" y="10.20" font-size="6.5" text-anchor="middle">Far border</text>
<text x="585.50" y="10.20" font-size="6.5" text-anchor="middle">Near borders</text>
<text x="663.50" y="10.20" font-size="6.5" text-anchor="middle">Far border</text>
<path d="M500.65,13.60 L504.15,13.60 L502.40,17.00 Z" fill="#1a1a1a"/>
<line x1="502.40" y1="11.70" x2="502.40" y2="15.00" stroke="#1a1a1a" stroke-width="0.7"/>
<path d="M567.75,13.60 L571.25,13.60 L569.50,17.00 Z" fill="#1a1a1a"/>
<line x1="569.50" y1="11.70" x2="569.50" y2="15.00" stroke="#1a1a1a" stroke-width="0.7"/>
<path d="M600.85,13.60 L604.35,13.60 L602.60,17.00 Z" fill="#1a1a1a"/>
<line x1="602.60" y1="11.70" x2="602.60" y2="15.00" stroke="#1a1a1a" stroke-width="0.7"/>
<path d="M667.65,13.60 L671.15,13.60 L669.40,17.00 Z" fill="#1a1a1a"/>
<line x1="669.40" y1="11.70" x2="669.40" y2="15.00" stroke="#1a1a1a" stroke-width="0.7"/>
<path d="M509.30,22.90 L525.80,22.90" fill="none" stroke="#e23c3c" stroke-width="1.45"/>
<path d="M525.80,22.90 L521.60,20.70" fill="none" stroke="#d01010" stroke-width="1.45"/>
<path d="M525.80,26.00 L509.30,26.00" fill="none" stroke="#4a4ae2" stroke-width="1.45"/>
<path d="M509.30,26.00 L513.50,28.20" fill="none" stroke="#1010d0" stroke-width="1.45"/>
<path d="M509.30,81.30 L525.80,81.30" fill="none" stroke="#e23c3c" stroke-width="1.45"/>
<path d="M525.80,81.30 L521.60,79.10" fill="none" stroke="#d01010" stroke-width="1.45"/>
<path d="M525.80,84.10 L509.30,84.10" fill="none" stroke="#4a4ae2" stroke-width="1.45"/>
<path d="M509.30,84.10 L513.50,86.30" fill="none" stroke="#1010d0" stroke-width="1.45"/>
<path d="M509.30,138.60 L525.80,138.60" fill="none" stroke="#e23c3c" stroke-width="1.45"/>
<path d="M525.80,138.60 L521.60,136.40" fill="none" stroke="#d01010" stroke-width="1.45"/>
<path d="M525.80,141.40 L509.30,141.40" fill="none" stroke="#4a4ae2" stroke-width="1.45"/>
<path d="M509.30,141.40 L513.50,143.60" fill="none" stroke="#1010d0" stroke-width="1.45"/>
<text x="453.00" y="38.00" font-size="6.5" text-anchor="middle">OCT4</text>
<text class="lg" x="0" y="0" font-size="100" font-weight="bold" fill="#1f8a2e" transform="matrix(0.0781,0,0,0.2224,440.51,57.40)">T</text>
<text class="lg" x="0" y="0" font-size="100" font-weight="bold" fill="#f7a823" transform="matrix(0.0681,0,0,0.2161,445.07,57.18)">G</text>
<text class="lg" x="0" y="0" font-size="100" font-weight="bold" fill="#d62728" transform="matrix(0.0686,0,0,0.0778,449.93,57.40)">A</text>
<text class="lg" x="0" y="0" font-size="100" font-weight="bold" fill="#1f8a2e" transform="matrix(0.0781,0,0,0.0778,450.01,52.05)">T</text>
<text class="lg" x="0" y="0" font-size="100" font-weight="bold" fill="#d62728" transform="matrix(0.0686,0,0,0.2224,454.68,57.40)">A</text>
<text class="lg" x="0" y="0" font-size="100" font-weight="bold" fill="#1f8a2e" transform="matrix(0.0781,0,0,0.2224,459.51,57.40)">T</text>
<text class="lg" x="0" y="0" font-size="100" font-weight="bold" fill="#3b3bd6" transform="matrix(0.0703,0,0,0.0108,464.06,57.39)">C</text>
<text class="lg" x="0" y="0" font-size="100" font-weight="bold" fill="#f7a823" transform="matrix(0.0681,0,0,0.0173,464.07,56.62)">G</text>
<text class="lg" x="0" y="0" font-size="100" font-weight="bold" fill="#d62728" transform="matrix(0.0686,0,0,0.0222,464.18,55.41)">A</text>
<text x="455.40" y="92.80" font-size="6.5" text-anchor="middle">SOX2</text>
<text class="lg" x="0" y="0" font-size="100" font-weight="bold" fill="#d62728" transform="matrix(0.0663,0,0,0.0128,441.53,112.80)">A</text>
<text class="lg" x="0" y="0" font-size="100" font-weight="bold" fill="#3b3bd6" transform="matrix(0.0680,0,0,0.0125,441.42,111.91)">C</text>
<text class="lg" x="0" y="0" font-size="100" font-weight="bold" fill="#1f8a2e" transform="matrix(0.0756,0,0,0.0107,441.62,111.04)">T</text>
<text class="lg" x="0" y="0" font-size="100" font-weight="bold" fill="#1f8a2e" transform="matrix(0.0756,0,0,0.2137,446.22,112.80)">T</text>
<text class="lg" x="0" y="0" font-size="100" font-weight="bold" fill="#8cc98c" transform="matrix(0.0756,0,0,0.2137,450.82,112.80)">T</text>
<text class="lg" x="0" y="0" font-size="100" font-weight="bold" fill="#1f8a2e" transform="matrix(0.0756,0,0,0.2137,455.42,112.80)">T</text>
<text class="lg" x="0" y="0" font-size="100" font-weight="bold" fill="#d62728" transform="matrix(0.0663,0,0,0.0427,459.93,112.80)">A</text>
<text class="lg" x="0" y="0" font-size="100" font-weight="bold" fill="#f7a823" transform="matrix(0.0659,0,0,0.0519,459.83,109.81)">G</text>
<text class="lg" x="0" y="0" font-size="100" font-weight="bold" fill="#1f8a2e" transform="matrix(0.0756,0,0,0.2137,464.62,112.80)">T</text>
<text x="455.20" y="152.00" font-size="6.5" text-anchor="middle">KLF4</text>
<text class="lg" x="0" y="0" font-size="100" font-weight="bold" fill="#f7a823" transform="matrix(0.0667,0,0,0.2119,440.73,171.99)">G</text>
<text class="lg" x="0" y="0" font-size="100" font-weight="bold" fill="#f7a823" transform="matrix(0.0667,0,0,0.2119,445.38,171.99)">G</text>
<text class="lg" x="0" y="0" font-size="100" font-weight="bold" fill="#f7a823" transform="matrix(0.0667,0,0,0.2119,450.03,171.99)">G</text>
<text class="lg" x="0" y="0" font-size="100" font-weight="bold" fill="#3b3bd6" transform="matrix(0.0688,0,0,0.0318,454.67,172.17)">C</text>
<text class="lg" x="0" y="0" font-size="100" font-weight="bold" fill="#1f8a2e" transform="matrix(0.0764,0,0,0.1090,454.87,169.95)">T</text>
<text class="lg" x="0" y="0" font-size="100" font-weight="bold" fill="#f7a823" transform="matrix(0.0667,0,0,0.2119,459.33,171.99)">G</text>
<text class="lg" x="0" y="0" font-size="100" font-weight="bold" fill="#f7a823" transform="matrix(0.0667,0,0,0.0318,463.98,172.17)">G</text>
<text class="lg" x="0" y="0" font-size="100" font-weight="bold" fill="#1f8a2e" transform="matrix(0.0764,0,0,0.0872,464.17,169.95)">T</text>
<rect x="117.50" y="225.50" width="47.50" height="407.20" fill="url(#ybL)"/>
<text x="1.50" y="224.60" font-size="10.5" font-weight="bold" class="pl">d</text>
<text x="1.50" y="365.40" font-size="10.5" font-weight="bold" class="pl">e</text>
<text x="1.50" y="458.90" font-size="10.5" font-weight="bold" class="pl">f</text>
<text x="1.50" y="550.00" font-size="10.5" font-weight="bold" class="pl">h</text>
<text x="117.60" y="219.00" font-size="6.5" text-anchor="middle">Near border</text>
<text x="207.70" y="219.00" font-size="6.5" text-anchor="middle">Far border</text>
<path d="M115.85,221.90 L119.35,221.90 L117.60,225.30 Z" fill="#1a1a1a"/>
<line x1="117.60" y1="220.00" x2="117.60" y2="223.30" stroke="#1a1a1a" stroke-width="0.7"/>
<path d="M205.95,221.90 L209.45,221.90 L207.70,225.30 Z" fill="#1a1a1a"/>
<line x1="207.70" y1="220.00" x2="207.70" y2="223.30" stroke="#1a1a1a" stroke-width="0.7"/>
<path d="M58.5,254.2 L58.9,255.1 L59.3,254.5 L59.7,255.5 L60.1,255.3 L60.5,256.0 L60.9,254.9 L61.3,254.4 L61.7,255.1 L62.1,255.6 L62.5,255.6 L62.9,255.6 L63.3,256.3 L63.7,255.3 L64.1,255.4 L64.5,254.9 L64.9,255.1 L65.3,256.2 L65.7,255.8 L66.1,253.7 L66.5,256.3 L66.9,254.1 L67.3,255.2 L67.7,256.2 L68.1,255.6 L68.5,255.9 L68.9,256.1 L69.3,255.7 L69.7,254.6 L70.1,255.8 L70.5,255.0 L70.9,253.8 L71.3,255.3 L71.7,255.9 L72.1,255.6 L72.5,255.5 L72.9,256.7 L73.3,255.7 L73.7,256.1 L74.1,255.7 L74.5,256.6 L74.9,255.3 L75.3,256.3 L75.7,256.8 L76.1,255.2 L76.5,256.2 L76.9,254.6 L77.3,255.7 L77.7,256.0 L78.1,254.9 L78.5,254.3 L78.9,255.5 L79.3,255.3 L79.7,255.6 L80.1,255.7 L80.5,256.1 L80.9,256.6 L81.3,255.8 L81.7,254.5 L82.1,256.0 L82.5,255.8 L82.9,255.6 L83.3,256.6 L83.7,255.7 L84.1,255.3 L84.5,255.8 L84.9,254.4 L85.3,256.2 L85.7,255.6 L86.1,256.7 L86.5,256.0 L86.9,255.8 L87.3,255.6 L87.7,254.7 L88.1,255.5 L88.5,255.7 L88.9,256.2 L89.3,255.8 L89.7,256.0 L90.1,256.0 L90.5,255.2 L90.9,255.7 L91.3,255.4 L91.7,254.7 L92.1,254.5 L92.5,256.3 L92.9,256.9 L93.3,257.0 L93.7,255.6 L94.1,257.4 L94.5,257.6 L94.9,256.2 L95.3,257.2 L95.7,258.2 L96.1,257.3 L96.5,258.2 L96.9,257.1 L97.3,257.5 L97.7,258.5 L98.1,257.9 L98.5,258.3 L98.9,258.4 L99.3,257.8 L99.7,259.7 L100.1,258.7 L100.5,258.6 L100.9,258.6 L101.3,259.0 L101.7,258.3 L102.1,259.6 L102.5,258.8 L102.9,259.6 L103.3,258.5 L103.7,258.4 L104.1,258.5 L104.5,259.3 L104.9,258.3 L105.3,259.8 L105.7,259.0 L106.1,259.9 L106.5,259.0 L106.9,259.9 L107.3,258.6 L107.7,258.6 L108.1,259.8 L108.5,259.0 L108.9,260.2 L109.3,259.0 L109.7,259.9 L110.1,258.8 L110.5,257.5 L110.9,258.4 L111.3,254.6 L111.7,252.1 L112.1,250.3 L112.5,250.7 L112.9,254.4 L113.3,255.3 L113.7,253.2 L114.1,248.3 L114.5,242.4 L114.9,240.6 L115.3,242.2 L115.7,240.5 L116.1,235.0 L116.5,226.7 L116.9,216.9 L117.3,214.6 L117.7,227.9 L118.1,240.8 L118.5,248.7 L118.9,249.0 L119.3,247.9 L119.7,245.9 L120.1,243.9 L120.5,244.3 L120.9,246.1 L121.3,245.0 L121.7,247.0 L122.1,244.5 L122.5,241.5 L122.9,240.7 L123.3,247.7 L123.7,251.0 L124.1,250.1 L124.5,245.5 L124.9,241.9 L125.3,238.7 L125.7,242.7 L126.1,247.4 L126.5,250.7 L126.9,251.0 L127.3,249.4 L127.7,246.0 L128.1,244.0 L128.5,246.2 L128.9,251.6 L129.3,251.2 L129.7,251.6 L130.1,249.8 L130.5,246.3 L130.9,246.0 L131.3,247.0 L131.7,250.7 L132.1,251.9 L132.5,252.7 L132.9,249.6 L133.3,245.0 L133.7,242.2 L134.1,243.6 L134.5,246.3 L134.9,246.9 L135.3,247.9 L135.7,251.2 L136.1,250.1 L136.5,250.1 L136.9,246.9 L137.3,246.1 L137.7,244.1 L138.1,249.9 L138.5,251.1 L138.9,252.1 L139.3,254.3 L139.7,254.2 L140.1,252.8 L140.5,252.5 L140.9,250.9 L141.3,253.4 L141.7,254.4 L142.1,254.0 L142.5,254.3 L142.9,252.7 L143.3,246.2 L143.7,244.4 L144.1,246.5 L144.5,246.9 L144.9,245.8 L145.3,249.5 L145.7,251.2 L146.1,253.5 L146.5,252.6 L146.9,253.1 L147.3,250.1 L147.7,251.8 L148.1,252.3 L148.5,255.2 L148.9,255.5 L149.3,253.8 L149.7,254.8 L150.1,253.6 L150.5,250.9 L150.9,247.9 L151.3,243.9 L151.7,241.4 L152.1,241.9 L152.5,245.2 L152.9,248.2 L153.3,251.2 L153.7,252.4 L154.1,254.2 L154.5,254.3 L154.9,251.2 L155.3,249.9 L155.7,248.5 L156.1,250.2 L156.5,254.5 L156.9,253.6 L157.3,252.9 L157.7,248.8 L158.1,241.8 L158.5,240.5 L158.9,238.9 L159.3,239.2 L159.7,241.7 L160.1,244.5 L160.5,245.3 L160.9,247.5 L161.3,249.3 L161.7,248.8 L162.1,247.5 L162.5,251.4 L162.9,253.5 L163.3,254.3 L163.7,255.0 L164.1,256.1 L164.5,254.5 L164.9,255.4 L165.3,254.1 L165.7,252.0 L166.1,248.8 L166.5,246.0 L166.9,243.7 L167.3,242.9 L167.7,242.9 L168.1,240.9 L168.5,240.0 L168.9,240.7 L169.3,244.8 L169.7,249.3 L170.1,251.8 L170.5,252.0 L170.9,248.8 L171.3,249.1 L171.7,250.7 L172.1,249.4 L172.5,243.8 L172.9,240.2 L173.3,239.4 L173.7,243.8 L174.1,251.8 L174.5,253.7 L174.9,254.7 L175.3,255.4 L175.7,254.3 L176.1,255.5 L176.5,255.1 L176.9,255.0 L177.3,255.5 L177.7,254.5 L178.1,253.2 L178.5,252.4 L178.9,249.6 L179.3,250.1 L179.7,251.4 L180.1,252.4 L180.5,252.0 L180.9,251.5 L181.3,252.4 L181.7,253.4 L182.1,254.8 L182.5,257.3 L182.9,254.9 L183.3,254.2 L183.7,255.7 L184.1,254.3 L184.5,254.0 L184.9,252.8 L185.3,250.2 L185.7,247.0 L186.1,245.9 L186.5,247.3 L186.9,250.8 L187.3,252.0 L187.7,250.6 L188.1,249.6 L188.5,246.9 L188.9,246.5 L189.3,246.1 L189.7,248.0 L190.1,243.4 L190.5,239.9 L190.9,237.6 L191.3,243.6 L191.7,250.7 L192.1,254.5 L192.5,256.0 L192.9,255.0 L193.3,256.3 L193.7,255.3 L194.1,255.3 L194.5,255.5 L194.9,256.9 L195.3,255.9 L195.7,256.0 L196.1,254.5 L196.5,254.6 L196.9,253.5 L197.3,255.1 L197.7,254.7 L198.1,255.2 L198.5,254.9 L198.9,254.6 L199.3,254.9 L199.7,253.5 L200.1,255.0 L200.5,254.6 L200.9,254.6 L201.3,255.2 L201.7,254.9 L202.1,254.9 L202.5,256.6 L202.9,256.0 L203.3,254.1 L203.7,254.1 L204.1,255.3 L204.5,253.5 L204.9,254.2 L205.3,254.7 L205.7,254.9 L206.1,255.4 L206.5,255.6 L206.9,256.0 L207.3,254.9 L207.7,256.0 L208.1,256.1 L208.5,255.1 L208.9,256.3 L209.3,255.3 L209.7,254.2 L210.1,254.6 L210.5,256.0 L210.9,256.3 L211.3,255.6 L211.7,254.9 L212.1,255.7 L212.5,256.4 L212.9,255.7 L213.3,254.7 L213.7,256.0 L214.1,255.5 L214.5,255.5 L214.9,255.7 L215.3,256.0 L215.7,255.5 L216.1,254.9 L216.5,255.4 L216.9,255.6 L217.3,256.3 L217.7,254.6 L218.1,255.3 L218.5,254.8 L218.9,255.5 L219.3,254.9 L219.7,253.2 L220.1,255.9 L220.5,254.8 L220.9,254.5 L221.3,254.1 L221.7,254.4 L222.1,254.2 L222.5,255.0 L222.9,255.2 L223.3,255.0 L223.7,255.2 L224.1,254.4 L224.5,255.4 L224.9,254.8 L225.3,255.2 L225.7,255.3 L226.1,254.6 L226.5,255.7 L226.9,255.3" fill="none" stroke="#1c1cd8" stroke-width="1.0" stroke-linejoin="round" clip-path="url(#cld1)"/>
<path d="M58.5,256.5 L58.9,257.2 L59.3,255.6 L59.7,257.0 L60.1,256.1 L60.5,256.6 L60.9,256.2 L61.3,255.7 L61.7,255.4 L62.1,257.6 L62.5,255.6 L62.9,256.2 L63.3,257.1 L63.7,256.5 L64.1,256.4 L64.5,255.2 L64.9,256.0 L65.3,255.6 L65.7,255.4 L66.1,256.5 L66.5,256.8 L66.9,255.9 L67.3,256.0 L67.7,256.6 L68.1,256.8 L68.5,255.8 L68.9,257.0 L69.3,256.9 L69.7,256.4 L70.1,255.8 L70.5,256.7 L70.9,256.7 L71.3,257.3 L71.7,256.0 L72.1,257.2 L72.5,256.2 L72.9,256.7 L73.3,256.3 L73.7,256.4 L74.1,257.2 L74.5,256.0 L74.9,256.8 L75.3,256.2 L75.7,256.4 L76.1,256.0 L76.5,256.5 L76.9,255.3 L77.3,256.3 L77.7,257.0 L78.1,256.9 L78.5,255.5 L78.9,255.8 L79.3,256.2 L79.7,257.4 L80.1,256.2 L80.5,256.4 L80.9,256.3 L81.3,256.6 L81.7,255.9 L82.1,256.6 L82.5,256.7 L82.9,257.0 L83.3,256.0 L83.7,256.9 L84.1,257.5 L84.5,256.9 L84.9,256.8 L85.3,255.1 L85.7,257.2 L86.1,257.5 L86.5,257.1 L86.9,256.7 L87.3,256.9 L87.7,258.1 L88.1,256.1 L88.5,256.3 L88.9,257.1 L89.3,256.6 L89.7,255.3 L90.1,256.6 L90.5,256.7 L90.9,256.0 L91.3,256.7 L91.7,256.6 L92.1,255.6 L92.5,257.0 L92.9,258.0 L93.3,257.9 L93.7,256.5 L94.1,256.5 L94.5,257.4 L94.9,257.7 L95.3,257.0 L95.7,257.4 L96.1,258.7 L96.5,258.3 L96.9,258.8 L97.3,258.4 L97.7,259.1 L98.1,258.4 L98.5,258.6 L98.9,258.5 L99.3,258.1 L99.7,259.1 L100.1,258.7 L100.5,259.3 L100.9,259.8 L101.3,260.0 L101.7,260.2 L102.1,259.9 L102.5,260.3 L102.9,261.1 L103.3,260.5 L103.7,260.7 L104.1,259.5 L104.5,260.4 L104.9,261.8 L105.3,260.7 L105.7,260.6 L106.1,261.7 L106.5,260.5 L106.9,261.7 L107.3,261.1 L107.7,260.9 L108.1,260.1 L108.5,261.9 L108.9,260.2 L109.3,260.5 L109.7,261.6 L110.1,260.5 L110.5,261.5 L110.9,261.2 L111.3,261.1 L111.7,260.6 L112.1,260.9 L112.5,261.4 L112.9,260.7 L113.3,261.6 L113.7,261.4 L114.1,261.5 L114.5,261.4 L114.9,261.5 L115.3,261.4 L115.7,261.7 L116.1,261.4 L116.5,261.4 L116.9,260.7 L117.3,260.3 L117.7,261.3 L118.1,261.8 L118.5,260.7 L118.9,260.2 L119.3,260.2 L119.7,259.9 L120.1,259.5 L120.5,259.0 L120.9,259.3 L121.3,260.7 L121.7,261.5 L122.1,261.2 L122.5,261.8 L122.9,261.0 L123.3,261.7 L123.7,261.6 L124.1,258.7 L124.5,257.1 L124.9,257.8 L125.3,259.8 L125.7,259.0 L126.1,258.4 L126.5,258.8 L126.9,259.3 L127.3,259.8 L127.7,260.4 L128.1,261.2 L128.5,258.7 L128.9,258.2 L129.3,259.4 L129.7,259.6 L130.1,260.6 L130.5,259.2 L130.9,259.1 L131.3,259.2 L131.7,259.1 L132.1,260.2 L132.5,260.7 L132.9,261.3 L133.3,259.2 L133.7,254.9 L134.1,253.8 L134.5,257.9 L134.9,261.0 L135.3,260.9 L135.7,259.7 L136.1,258.8 L136.5,258.7 L136.9,260.5 L137.3,261.1 L137.7,262.2 L138.1,261.5 L138.5,261.7 L138.9,262.1 L139.3,260.3 L139.7,260.9 L140.1,260.6 L140.5,258.4 L140.9,254.9 L141.3,257.1 L141.7,260.3 L142.1,261.4 L142.5,261.7 L142.9,260.8 L143.3,262.0 L143.7,261.0 L144.1,260.3 L144.5,261.4 L144.9,261.6 L145.3,261.0 L145.7,260.5 L146.1,260.7 L146.5,261.3 L146.9,260.0 L147.3,261.9 L147.7,261.9 L148.1,261.3 L148.5,262.0 L148.9,261.3 L149.3,260.8 L149.7,261.7 L150.1,261.7 L150.5,260.8 L150.9,260.5 L151.3,260.7 L151.7,261.9 L152.1,261.0 L152.5,262.7 L152.9,260.6 L153.3,260.7 L153.7,259.5 L154.1,258.1 L154.5,257.7 L154.9,255.9 L155.3,255.7 L155.7,255.5 L156.1,256.1 L156.5,257.6 L156.9,256.1 L157.3,256.3 L157.7,258.4 L158.1,258.9 L158.5,259.8 L158.9,260.6 L159.3,259.3 L159.7,259.6 L160.1,259.2 L160.5,260.5 L160.9,260.3 L161.3,258.6 L161.7,258.4 L162.1,256.9 L162.5,256.6 L162.9,258.0 L163.3,260.3 L163.7,258.7 L164.1,258.5 L164.5,258.7 L164.9,258.9 L165.3,258.5 L165.7,260.2 L166.1,260.5 L166.5,261.0 L166.9,259.3 L167.3,257.5 L167.7,256.2 L168.1,254.5 L168.5,256.9 L168.9,258.7 L169.3,259.8 L169.7,259.6 L170.1,260.2 L170.5,259.2 L170.9,260.7 L171.3,258.7 L171.7,256.0 L172.1,255.2 L172.5,257.1 L172.9,258.6 L173.3,259.0 L173.7,260.3 L174.1,260.1 L174.5,258.9 L174.9,259.8 L175.3,259.5 L175.7,259.8 L176.1,258.6 L176.5,258.5 L176.9,255.5 L177.3,257.3 L177.7,258.0 L178.1,259.9 L178.5,259.2 L178.9,260.1 L179.3,259.1 L179.7,258.5 L180.1,258.2 L180.5,258.0 L180.9,258.2 L181.3,258.2 L181.7,258.5 L182.1,259.4 L182.5,259.9 L182.9,258.4 L183.3,259.5 L183.7,260.2 L184.1,258.5 L184.5,258.4 L184.9,258.6 L185.3,258.1 L185.7,257.3 L186.1,257.4 L186.5,258.6 L186.9,258.6 L187.3,258.0 L187.7,257.6 L188.1,258.0 L188.5,258.7 L188.9,258.1 L189.3,258.1 L189.7,258.9 L190.1,258.3 L190.5,258.2 L190.9,258.4 L191.3,259.0 L191.7,258.3 L192.1,258.5 L192.5,258.0 L192.9,258.8 L193.3,257.1 L193.7,256.9 L194.1,256.2 L194.5,255.1 L194.9,252.5 L195.3,251.8 L195.7,254.9 L196.1,257.1 L196.5,257.2 L196.9,257.6 L197.3,256.8 L197.7,256.0 L198.1,257.2 L198.5,257.4 L198.9,255.3 L199.3,253.0 L199.7,250.4 L200.1,248.3 L200.5,251.4 L200.9,252.6 L201.3,254.5 L201.7,254.6 L202.1,254.3 L202.5,251.6 L202.9,248.1 L203.3,248.8 L203.7,253.5 L204.1,254.4 L204.5,256.5 L204.9,255.5 L205.3,255.5 L205.7,255.9 L206.1,255.9 L206.5,255.8 L206.9,254.7 L207.3,255.0 L207.7,255.7 L208.1,255.7 L208.5,255.4 L208.9,256.2 L209.3,255.4 L209.7,256.0 L210.1,256.1 L210.5,255.7 L210.9,255.4 L211.3,255.9 L211.7,255.7 L212.1,255.8 L212.5,255.0 L212.9,255.8 L213.3,256.4 L213.7,255.3 L214.1,255.6 L214.5,255.4 L214.9,256.0 L215.3,254.4 L215.7,256.4 L216.1,255.8 L216.5,255.4 L216.9,255.7 L217.3,256.1 L217.7,255.7 L218.1,255.9 L218.5,256.2 L218.9,255.6 L219.3,255.9 L219.7,256.3 L220.1,255.8 L220.5,255.2 L220.9,255.9 L221.3,256.6 L221.7,255.3 L222.1,255.8 L222.5,255.7 L222.9,256.0 L223.3,255.3 L223.7,255.5 L224.1,256.6 L224.5,255.9 L224.9,255.2 L225.3,255.9 L225.7,255.5 L226.1,256.3 L226.5,254.6 L226.9,255.6" fill="none" stroke="#d0121c" stroke-width="1.0" stroke-linejoin="round" clip-path="url(#cld1)"/>
<path d="M58.5,299.5 L58.9,299.5 L59.3,298.9 L59.7,298.1 L60.1,298.3 L60.5,299.3 L60.9,299.1 L61.3,298.3 L61.7,298.3 L62.1,298.6 L62.5,299.2 L62.9,299.6 L63.3,300.0 L63.7,299.0 L64.1,300.4 L64.5,299.8 L64.9,300.4 L65.3,298.6 L65.7,299.7 L66.1,300.1 L66.5,297.9 L66.9,300.0 L67.3,299.6 L67.7,300.0 L68.1,299.4 L68.5,300.2 L68.9,299.0 L69.3,298.9 L69.7,299.9 L70.1,299.9 L70.5,298.3 L70.9,300.2 L71.3,300.2 L71.7,300.1 L72.1,298.8 L72.5,300.3 L72.9,299.7 L73.3,300.1 L73.7,299.3 L74.1,299.0 L74.5,298.8 L74.9,298.9 L75.3,300.1 L75.7,298.8 L76.1,298.9 L76.5,299.6 L76.9,299.2 L77.3,297.8 L77.7,298.9 L78.1,299.1 L78.5,300.6 L78.9,299.9 L79.3,298.6 L79.7,298.5 L80.1,299.0 L80.5,299.6 L80.9,298.8 L81.3,299.7 L81.7,298.3 L82.1,299.7 L82.5,300.3 L82.9,297.4 L83.3,299.4 L83.7,299.6 L84.1,299.8 L84.5,299.5 L84.9,299.4 L85.3,299.7 L85.7,299.5 L86.1,299.5 L86.5,300.7 L86.9,300.2 L87.3,300.2 L87.7,299.0 L88.1,299.1 L88.5,300.3 L88.9,298.7 L89.3,300.3 L89.7,298.4 L90.1,301.1 L90.5,300.4 L90.9,299.1 L91.3,299.1 L91.7,297.9 L92.1,299.5 L92.5,300.6 L92.9,300.2 L93.3,299.7 L93.7,301.6 L94.1,300.5 L94.5,300.5 L94.9,300.1 L95.3,300.9 L95.7,302.6 L96.1,301.0 L96.5,299.5 L96.9,301.1 L97.3,302.5 L97.7,302.1 L98.1,300.9 L98.5,301.6 L98.9,300.3 L99.3,302.1 L99.7,301.0 L100.1,301.4 L100.5,301.5 L100.9,301.5 L101.3,303.4 L101.7,303.4 L102.1,302.1 L102.5,302.5 L102.9,303.9 L103.3,302.4 L103.7,302.4 L104.1,302.2 L104.5,304.2 L104.9,303.2 L105.3,303.0 L105.7,302.4 L106.1,301.8 L106.5,303.1 L106.9,301.5 L107.3,301.5 L107.7,300.4 L108.1,300.6 L108.5,300.9 L108.9,300.7 L109.3,299.7 L109.7,300.2 L110.1,300.2 L110.5,297.4 L110.9,299.0 L111.3,297.5 L111.7,295.8 L112.1,295.7 L112.5,295.4 L112.9,294.2 L113.3,293.5 L113.7,292.7 L114.1,292.2 L114.5,289.2 L114.9,287.3 L115.3,285.1 L115.7,282.6 L116.1,281.4 L116.5,283.2 L116.9,283.7 L117.3,282.2 L117.7,275.1 L118.1,271.5 L118.5,274.6 L118.9,279.0 L119.3,281.8 L119.7,278.7 L120.1,278.7 L120.5,281.6 L120.9,285.6 L121.3,283.8 L121.7,278.8 L122.1,273.5 L122.5,270.5 L122.9,272.6 L123.3,273.4 L123.7,272.9 L124.1,272.9 L124.5,276.7 L124.9,279.7 L125.3,280.7 L125.7,281.0 L126.1,279.7 L126.5,279.9 L126.9,277.8 L127.3,282.1 L127.7,283.9 L128.1,283.0 L128.5,278.7 L128.9,274.1 L129.3,277.8 L129.7,281.6 L130.1,285.6 L130.5,287.5 L130.9,288.0 L131.3,286.5 L131.7,286.4 L132.1,283.1 L132.5,282.3 L132.9,278.2 L133.3,276.2 L133.7,277.7 L134.1,282.5 L134.5,284.8 L134.9,286.7 L135.3,291.0 L135.7,289.6 L136.1,288.6 L136.5,286.6 L136.9,281.0 L137.3,277.1 L137.7,276.0 L138.1,276.9 L138.5,283.3 L138.9,289.2 L139.3,290.9 L139.7,287.4 L140.1,286.7 L140.5,290.3 L140.9,290.2 L141.3,291.0 L141.7,289.5 L142.1,285.0 L142.5,282.1 L142.9,286.3 L143.3,291.1 L143.7,292.7 L144.1,293.7 L144.5,290.7 L144.9,292.8 L145.3,293.8 L145.7,290.3 L146.1,286.2 L146.5,287.6 L146.9,291.0 L147.3,292.9 L147.7,291.9 L148.1,290.6 L148.5,284.5 L148.9,277.9 L149.3,278.8 L149.7,286.0 L150.1,289.2 L150.5,292.0 L150.9,291.3 L151.3,288.1 L151.7,284.6 L152.1,286.4 L152.5,285.3 L152.9,283.4 L153.3,278.6 L153.7,276.9 L154.1,279.0 L154.5,284.2 L154.9,285.9 L155.3,285.8 L155.7,279.1 L156.1,279.1 L156.5,284.6 L156.9,288.0 L157.3,289.1 L157.7,288.9 L158.1,289.3 L158.5,286.1 L158.9,284.4 L159.3,287.4 L159.7,290.9 L160.1,290.0 L160.5,288.9 L160.9,286.8 L161.3,285.6 L161.7,287.2 L162.1,290.6 L162.5,291.9 L162.9,290.6 L163.3,288.3 L163.7,282.8 L164.1,276.1 L164.5,271.7 L164.9,271.3 L165.3,270.3 L165.7,270.3 L166.1,273.6 L166.5,279.0 L166.9,284.4 L167.3,286.0 L167.7,288.7 L168.1,290.8 L168.5,292.4 L168.9,293.5 L169.3,292.4 L169.7,292.2 L170.1,291.5 L170.5,290.2 L170.9,289.5 L171.3,287.1 L171.7,285.9 L172.1,281.2 L172.5,277.3 L172.9,274.4 L173.3,277.0 L173.7,283.6 L174.1,290.7 L174.5,293.1 L174.9,294.0 L175.3,293.4 L175.7,291.6 L176.1,288.2 L176.5,288.6 L176.9,289.1 L177.3,290.8 L177.7,285.1 L178.1,278.0 L178.5,267.8 L178.9,268.9 L179.3,275.6 L179.7,282.7 L180.1,285.9 L180.5,288.2 L180.9,290.4 L181.3,293.0 L181.7,294.4 L182.1,294.1 L182.5,292.4 L182.9,291.0 L183.3,292.8 L183.7,291.0 L184.1,294.2 L184.5,294.1 L184.9,292.0 L185.3,292.3 L185.7,290.1 L186.1,290.7 L186.5,289.2 L186.9,290.1 L187.3,291.1 L187.7,291.9 L188.1,290.8 L188.5,294.4 L188.9,292.9 L189.3,294.7 L189.7,294.5 L190.1,295.6 L190.5,294.8 L190.9,294.3 L191.3,295.6 L191.7,297.2 L192.1,297.1 L192.5,296.7 L192.9,297.6 L193.3,296.7 L193.7,295.2 L194.1,297.3 L194.5,295.7 L194.9,296.5 L195.3,297.1 L195.7,296.9 L196.1,297.2 L196.5,298.7 L196.9,298.4 L197.3,298.9 L197.7,297.8 L198.1,297.5 L198.5,298.3 L198.9,296.1 L199.3,297.0 L199.7,297.4 L200.1,298.2 L200.5,299.0 L200.9,299.0 L201.3,299.6 L201.7,298.2 L202.1,299.2 L202.5,297.9 L202.9,299.4 L203.3,298.2 L203.7,294.7 L204.1,292.5 L204.5,291.4 L204.9,290.8 L205.3,291.2 L205.7,295.1 L206.1,298.4 L206.5,297.9 L206.9,297.0 L207.3,296.3 L207.7,297.7 L208.1,296.6 L208.5,298.1 L208.9,298.0 L209.3,299.5 L209.7,297.1 L210.1,298.6 L210.5,297.1 L210.9,297.3 L211.3,297.9 L211.7,297.4 L212.1,299.5 L212.5,298.1 L212.9,297.5 L213.3,299.9 L213.7,297.5 L214.1,297.9 L214.5,298.0 L214.9,297.6 L215.3,298.7 L215.7,299.1 L216.1,297.2 L216.5,297.8 L216.9,297.9 L217.3,297.1 L217.7,297.2 L218.1,298.0 L218.5,297.6 L218.9,298.5 L219.3,298.9 L219.7,298.4 L220.1,298.5 L220.5,297.6 L220.9,297.8 L221.3,298.6 L221.7,298.8 L222.1,298.3 L222.5,298.8 L222.9,298.2 L223.3,297.5 L223.7,298.6 L224.1,298.1 L224.5,297.1 L224.9,299.1 L225.3,298.7 L225.7,299.0 L226.1,298.1 L226.5,299.6 L226.9,298.8" fill="none" stroke="#1c1cd8" stroke-width="1.0" stroke-linejoin="round" clip-path="url(#cld2)"/>
<path d="M58.5,299.7 L58.9,299.8 L59.3,300.0 L59.7,299.7 L60.1,300.3 L60.5,300.3 L60.9,299.3 L61.3,300.4 L61.7,299.6 L62.1,299.5 L62.5,299.7 L62.9,299.2 L63.3,300.0 L63.7,300.4 L64.1,299.1 L64.5,300.0 L64.9,300.1 L65.3,300.1 L65.7,300.1 L66.1,300.0 L66.5,299.6 L66.9,300.3 L67.3,300.0 L67.7,300.2 L68.1,300.0 L68.5,299.7 L68.9,299.8 L69.3,300.1 L69.7,300.3 L70.1,298.9 L70.5,299.2 L70.9,299.1 L71.3,299.6 L71.7,299.5 L72.1,300.0 L72.5,299.7 L72.9,300.5 L73.3,299.6 L73.7,299.5 L74.1,299.5 L74.5,299.7 L74.9,299.9 L75.3,299.6 L75.7,299.4 L76.1,299.2 L76.5,300.0 L76.9,299.6 L77.3,299.4 L77.7,299.8 L78.1,300.0 L78.5,300.9 L78.9,300.7 L79.3,299.5 L79.7,299.7 L80.1,299.0 L80.5,299.0 L80.9,299.0 L81.3,300.3 L81.7,299.8 L82.1,299.2 L82.5,299.6 L82.9,299.7 L83.3,299.6 L83.7,300.6 L84.1,299.0 L84.5,299.7 L84.9,300.0 L85.3,300.2 L85.7,298.9 L86.1,300.0 L86.5,299.3 L86.9,299.7 L87.3,299.2 L87.7,300.3 L88.1,301.4 L88.5,300.4 L88.9,299.8 L89.3,299.1 L89.7,300.4 L90.1,300.5 L90.5,299.4 L90.9,300.4 L91.3,299.1 L91.7,299.4 L92.1,300.0 L92.5,299.3 L92.9,300.3 L93.3,300.6 L93.7,300.0 L94.1,300.2 L94.5,300.7 L94.9,300.2 L95.3,300.7 L95.7,301.0 L96.1,300.0 L96.5,301.7 L96.9,301.5 L97.3,301.2 L97.7,301.7 L98.1,301.6 L98.5,301.8 L98.9,301.4 L99.3,301.9 L99.7,302.1 L100.1,302.9 L100.5,302.8 L100.9,302.9 L101.3,302.9 L101.7,303.7 L102.1,302.1 L102.5,303.0 L102.9,304.0 L103.3,303.5 L103.7,304.2 L104.1,304.8 L104.5,304.6 L104.9,303.7 L105.3,304.3 L105.7,303.9 L106.1,304.6 L106.5,304.9 L106.9,304.3 L107.3,304.7 L107.7,304.3 L108.1,305.4 L108.5,304.5 L108.9,304.6 L109.3,304.7 L109.7,305.0 L110.1,304.8 L110.5,304.5 L110.9,304.5 L111.3,304.7 L111.7,304.8 L112.1,304.3 L112.5,304.2 L112.9,304.4 L113.3,304.7 L113.7,304.3 L114.1,304.0 L114.5,304.4 L114.9,304.3 L115.3,304.8 L115.7,304.3 L116.1,304.4 L116.5,305.4 L116.9,304.8 L117.3,304.1 L117.7,305.1 L118.1,304.4 L118.5,304.2 L118.9,304.9 L119.3,303.9 L119.7,304.6 L120.1,304.9 L120.5,305.0 L120.9,304.4 L121.3,304.4 L121.7,304.6 L122.1,305.2 L122.5,303.7 L122.9,304.7 L123.3,304.1 L123.7,304.4 L124.1,303.1 L124.5,304.4 L124.9,303.8 L125.3,304.6 L125.7,304.4 L126.1,303.5 L126.5,304.7 L126.9,304.9 L127.3,305.1 L127.7,304.4 L128.1,304.2 L128.5,305.0 L128.9,304.5 L129.3,305.0 L129.7,304.8 L130.1,303.6 L130.5,303.5 L130.9,303.5 L131.3,303.3 L131.7,304.6 L132.1,305.1 L132.5,305.3 L132.9,304.8 L133.3,305.7 L133.7,304.5 L134.1,304.8 L134.5,304.5 L134.9,304.6 L135.3,304.7 L135.7,304.5 L136.1,304.6 L136.5,304.8 L136.9,304.4 L137.3,302.1 L137.7,297.6 L138.1,294.9 L138.5,300.9 L138.9,304.1 L139.3,303.7 L139.7,304.2 L140.1,305.2 L140.5,304.4 L140.9,304.4 L141.3,304.5 L141.7,304.7 L142.1,305.0 L142.5,304.5 L142.9,305.5 L143.3,304.3 L143.7,303.7 L144.1,302.5 L144.5,303.0 L144.9,304.9 L145.3,305.7 L145.7,304.5 L146.1,304.5 L146.5,304.9 L146.9,304.5 L147.3,304.8 L147.7,303.5 L148.1,303.7 L148.5,301.6 L148.9,302.3 L149.3,301.4 L149.7,301.9 L150.1,302.2 L150.5,304.4 L150.9,304.7 L151.3,304.0 L151.7,304.4 L152.1,303.5 L152.5,302.5 L152.9,301.5 L153.3,301.5 L153.7,301.2 L154.1,301.2 L154.5,300.9 L154.9,296.5 L155.3,299.8 L155.7,303.5 L156.1,304.0 L156.5,303.7 L156.9,303.9 L157.3,302.6 L157.7,298.6 L158.1,296.5 L158.5,302.6 L158.9,303.0 L159.3,304.1 L159.7,304.6 L160.1,304.8 L160.5,305.0 L160.9,303.9 L161.3,304.7 L161.7,302.9 L162.1,304.2 L162.5,304.7 L162.9,304.6 L163.3,303.6 L163.7,303.9 L164.1,303.2 L164.5,303.9 L164.9,303.6 L165.3,304.4 L165.7,303.9 L166.1,304.5 L166.5,304.2 L166.9,304.1 L167.3,305.1 L167.7,304.8 L168.1,303.6 L168.5,304.9 L168.9,304.6 L169.3,304.8 L169.7,304.4 L170.1,303.3 L170.5,304.0 L170.9,302.9 L171.3,302.7 L171.7,301.5 L172.1,301.8 L172.5,302.5 L172.9,303.3 L173.3,303.4 L173.7,302.5 L174.1,303.9 L174.5,303.9 L174.9,303.6 L175.3,303.8 L175.7,303.9 L176.1,304.3 L176.5,304.7 L176.9,303.9 L177.3,303.8 L177.7,304.3 L178.1,303.9 L178.5,302.1 L178.9,301.2 L179.3,301.7 L179.7,303.1 L180.1,303.5 L180.5,303.3 L180.9,304.5 L181.3,305.2 L181.7,303.5 L182.1,303.6 L182.5,303.7 L182.9,303.3 L183.3,304.3 L183.7,303.2 L184.1,304.2 L184.5,304.1 L184.9,304.3 L185.3,303.2 L185.7,303.9 L186.1,304.0 L186.5,304.3 L186.9,304.0 L187.3,303.6 L187.7,304.4 L188.1,304.5 L188.5,304.5 L188.9,303.5 L189.3,304.1 L189.7,303.4 L190.1,303.7 L190.5,304.1 L190.9,302.9 L191.3,304.9 L191.7,304.1 L192.1,303.0 L192.5,303.0 L192.9,303.2 L193.3,303.1 L193.7,302.5 L194.1,302.9 L194.5,302.1 L194.9,302.5 L195.3,303.6 L195.7,302.6 L196.1,302.4 L196.5,303.3 L196.9,302.6 L197.3,302.6 L197.7,302.0 L198.1,302.7 L198.5,301.9 L198.9,302.4 L199.3,302.2 L199.7,302.3 L200.1,301.0 L200.5,299.6 L200.9,299.4 L201.3,300.5 L201.7,300.7 L202.1,301.8 L202.5,300.7 L202.9,299.6 L203.3,300.8 L203.7,300.9 L204.1,299.7 L204.5,298.7 L204.9,294.6 L205.3,296.6 L205.7,299.1 L206.1,300.0 L206.5,300.0 L206.9,299.4 L207.3,300.1 L207.7,299.4 L208.1,299.7 L208.5,300.3 L208.9,299.1 L209.3,299.5 L209.7,300.2 L210.1,300.0 L210.5,299.1 L210.9,299.1 L211.3,299.7 L211.7,299.1 L212.1,299.4 L212.5,298.7 L212.9,299.7 L213.3,298.6 L213.7,299.5 L214.1,299.7 L214.5,299.1 L214.9,298.6 L215.3,298.8 L215.7,298.4 L216.1,300.3 L216.5,298.4 L216.9,298.8 L217.3,299.6 L217.7,299.4 L218.1,299.9 L218.5,300.1 L218.9,299.6 L219.3,299.4 L219.7,299.1 L220.1,299.3 L220.5,299.9 L220.9,299.7 L221.3,299.7 L221.7,298.6 L222.1,299.0 L222.5,299.1 L222.9,299.1 L223.3,298.9 L223.7,299.7 L224.1,299.9 L224.5,300.3 L224.9,299.1 L225.3,299.3 L225.7,299.4 L226.1,299.4 L226.5,299.0 L226.9,299.8" fill="none" stroke="#d0121c" stroke-width="1.0" stroke-linejoin="round" clip-path="url(#cld2)"/>
<path d="M58.5,349.5 L58.9,348.3 L59.3,348.6 L59.7,348.8 L60.1,347.7 L60.5,346.4 L60.9,345.6 L61.3,343.4 L61.7,344.8 L62.1,345.0 L62.5,344.7 L62.9,346.7 L63.3,347.4 L63.7,349.0 L64.1,348.2 L64.5,347.7 L64.9,349.4 L65.3,348.9 L65.7,348.6 L66.1,349.2 L66.5,348.4 L66.9,348.6 L67.3,349.2 L67.7,348.9 L68.1,349.1 L68.5,348.4 L68.9,349.5 L69.3,347.8 L69.7,347.8 L70.1,348.9 L70.5,348.4 L70.9,348.7 L71.3,348.6 L71.7,348.5 L72.1,348.0 L72.5,348.7 L72.9,349.3 L73.3,348.1 L73.7,349.5 L74.1,348.8 L74.5,346.5 L74.9,347.0 L75.3,346.5 L75.7,347.2 L76.1,346.3 L76.5,345.8 L76.9,344.2 L77.3,346.0 L77.7,347.1 L78.1,347.8 L78.5,347.4 L78.9,348.5 L79.3,349.5 L79.7,348.2 L80.1,348.4 L80.5,347.8 L80.9,348.2 L81.3,348.0 L81.7,347.6 L82.1,347.9 L82.5,348.1 L82.9,348.6 L83.3,348.2 L83.7,348.5 L84.1,349.1 L84.5,348.9 L84.9,348.1 L85.3,347.3 L85.7,348.0 L86.1,348.0 L86.5,348.4 L86.9,347.8 L87.3,349.1 L87.7,347.2 L88.1,347.6 L88.5,346.6 L88.9,346.4 L89.3,346.3 L89.7,345.7 L90.1,344.7 L90.5,341.7 L90.9,343.9 L91.3,344.9 L91.7,345.9 L92.1,346.1 L92.5,345.6 L92.9,345.9 L93.3,346.2 L93.7,344.8 L94.1,345.6 L94.5,345.3 L94.9,344.5 L95.3,345.0 L95.7,342.9 L96.1,342.2 L96.5,341.4 L96.9,339.6 L97.3,341.7 L97.7,342.0 L98.1,342.4 L98.5,341.4 L98.9,339.4 L99.3,338.9 L99.7,342.4 L100.1,341.7 L100.5,343.6 L100.9,342.2 L101.3,340.9 L101.7,339.7 L102.1,337.8 L102.5,339.2 L102.9,341.6 L103.3,343.2 L103.7,342.2 L104.1,341.6 L104.5,342.3 L104.9,341.4 L105.3,340.0 L105.7,336.1 L106.1,335.3 L106.5,338.6 L106.9,341.7 L107.3,338.1 L107.7,327.0 L108.1,321.1 L108.5,332.5 L108.9,340.5 L109.3,342.2 L109.7,338.6 L110.1,336.5 L110.5,338.9 L110.9,341.8 L111.3,343.3 L111.7,345.7 L112.1,344.7 L112.5,341.7 L112.9,337.9 L113.3,340.1 L113.7,345.2 L114.1,345.7 L114.5,346.5 L114.9,346.1 L115.3,348.0 L115.7,348.6 L116.1,348.5 L116.5,348.7 L116.9,347.8 L117.3,347.8 L117.7,347.9 L118.1,348.4 L118.5,349.4 L118.9,349.6 L119.3,349.7 L119.7,349.7 L120.1,349.7 L120.5,348.5 L120.9,349.1 L121.3,348.8 L121.7,349.1 L122.1,348.7 L122.5,349.1 L122.9,350.3 L123.3,349.6 L123.7,350.3 L124.1,349.7 L124.5,349.4 L124.9,349.1 L125.3,347.4 L125.7,338.6 L126.1,334.0 L126.5,344.9 L126.9,349.4 L127.3,349.5 L127.7,350.8 L128.1,350.5 L128.5,349.6 L128.9,349.4 L129.3,349.8 L129.7,350.1 L130.1,348.7 L130.5,349.9 L130.9,348.9 L131.3,349.7 L131.7,349.5 L132.1,350.1 L132.5,350.3 L132.9,350.7 L133.3,349.6 L133.7,351.0 L134.1,349.0 L134.5,349.4 L134.9,349.5 L135.3,349.5 L135.7,350.4 L136.1,349.1 L136.5,350.0 L136.9,350.6 L137.3,350.0 L137.7,349.4 L138.1,350.1 L138.5,350.1 L138.9,349.5 L139.3,350.8 L139.7,349.7 L140.1,349.4 L140.5,349.8 L140.9,348.7 L141.3,347.9 L141.7,347.7 L142.1,348.1 L142.5,349.7 L142.9,350.0 L143.3,350.6 L143.7,349.2 L144.1,349.3 L144.5,348.8 L144.9,348.3 L145.3,345.3 L145.7,339.1 L146.1,337.0 L146.5,345.3 L146.9,349.4 L147.3,350.1 L147.7,350.7 L148.1,349.8 L148.5,349.6 L148.9,350.8 L149.3,350.4 L149.7,349.9 L150.1,349.7 L150.5,350.9 L150.9,349.9 L151.3,349.6 L151.7,350.7 L152.1,349.2 L152.5,350.0 L152.9,350.4 L153.3,349.9 L153.7,349.8 L154.1,350.3 L154.5,349.4 L154.9,349.9 L155.3,350.4 L155.7,349.4 L156.1,350.8 L156.5,349.9 L156.9,350.0 L157.3,349.8 L157.7,350.4 L158.1,349.8 L158.5,350.2 L158.9,350.7 L159.3,350.7 L159.7,349.0 L160.1,349.7 L160.5,344.2 L160.9,336.9 L161.3,339.6 L161.7,346.6 L162.1,348.4 L162.5,349.7 L162.9,350.4 L163.3,349.7 L163.7,350.0 L164.1,350.5 L164.5,350.6 L164.9,350.2 L165.3,349.2 L165.7,345.4 L166.1,343.1 L166.5,347.6 L166.9,349.6 L167.3,349.8 L167.7,348.8 L168.1,348.7 L168.5,346.6 L168.9,340.8 L169.3,343.3 L169.7,348.7 L170.1,349.8 L170.5,350.3 L170.9,349.7 L171.3,349.7 L171.7,350.1 L172.1,348.1 L172.5,348.6 L172.9,349.2 L173.3,348.7 L173.7,349.3 L174.1,350.6 L174.5,350.3 L174.9,350.0 L175.3,350.7 L175.7,349.5 L176.1,351.1 L176.5,350.0 L176.9,349.7 L177.3,350.6 L177.7,350.3 L178.1,350.1 L178.5,350.0 L178.9,349.0 L179.3,348.9 L179.7,350.0 L180.1,350.5 L180.5,349.6 L180.9,350.0 L181.3,349.1 L181.7,349.1 L182.1,349.9 L182.5,350.3 L182.9,350.3 L183.3,350.5 L183.7,349.4 L184.1,349.7 L184.5,350.2 L184.9,349.2 L185.3,349.6 L185.7,349.7 L186.1,349.7 L186.5,350.2 L186.9,349.9 L187.3,349.4 L187.7,348.4 L188.1,350.0 L188.5,350.1 L188.9,349.8 L189.3,349.7 L189.7,349.8 L190.1,350.1 L190.5,349.1 L190.9,349.2 L191.3,348.6 L191.7,348.9 L192.1,348.4 L192.5,348.3 L192.9,347.4 L193.3,347.9 L193.7,347.9 L194.1,345.3 L194.5,347.6 L194.9,347.3 L195.3,347.3 L195.7,348.0 L196.1,347.6 L196.5,347.6 L196.9,347.6 L197.3,344.3 L197.7,340.2 L198.1,338.4 L198.5,341.8 L198.9,344.8 L199.3,345.0 L199.7,341.2 L200.1,340.8 L200.5,343.3 L200.9,346.1 L201.3,345.9 L201.7,345.6 L202.1,345.9 L202.5,348.0 L202.9,346.3 L203.3,348.1 L203.7,346.0 L204.1,346.9 L204.5,347.4 L204.9,347.1 L205.3,346.3 L205.7,346.7 L206.1,347.7 L206.5,346.6 L206.9,347.9 L207.3,348.2 L207.7,348.3 L208.1,347.8 L208.5,347.6 L208.9,347.5 L209.3,349.2 L209.7,348.4 L210.1,348.1 L210.5,348.0 L210.9,348.4 L211.3,346.8 L211.7,348.3 L212.1,347.5 L212.5,346.6 L212.9,348.5 L213.3,347.5 L213.7,348.2 L214.1,347.6 L214.5,347.8 L214.9,348.9 L215.3,348.2 L215.7,348.3 L216.1,347.2 L216.5,348.6 L216.9,347.8 L217.3,348.4 L217.7,347.6 L218.1,348.4 L218.5,348.5 L218.9,347.5 L219.3,348.4 L219.7,347.8 L220.1,349.0 L220.5,348.5 L220.9,348.4 L221.3,350.0 L221.7,348.9 L222.1,348.2 L222.5,348.9 L222.9,348.6 L223.3,349.2 L223.7,348.0 L224.1,349.6 L224.5,348.3 L224.9,348.4 L225.3,348.2 L225.7,348.5 L226.1,349.7 L226.5,348.8 L226.9,348.1" fill="none" stroke="#1c1cd8" stroke-width="1.0" stroke-linejoin="round" clip-path="url(#cld3)"/>
<path d="M58.5,349.7 L58.9,349.9 L59.3,350.2 L59.7,349.7 L60.1,349.9 L60.5,351.0 L60.9,349.8 L61.3,349.9 L61.7,349.3 L62.1,350.2 L62.5,349.6 L62.9,350.5 L63.3,350.3 L63.7,350.1 L64.1,349.6 L64.5,349.7 L64.9,349.7 L65.3,349.8 L65.7,349.7 L66.1,349.6 L66.5,349.8 L66.9,349.8 L67.3,349.7 L67.7,350.2 L68.1,350.2 L68.5,349.6 L68.9,350.7 L69.3,350.0 L69.7,350.3 L70.1,350.5 L70.5,349.2 L70.9,350.0 L71.3,350.2 L71.7,350.3 L72.1,350.1 L72.5,350.2 L72.9,349.2 L73.3,349.4 L73.7,350.0 L74.1,349.0 L74.5,349.6 L74.9,349.7 L75.3,350.0 L75.7,350.2 L76.1,349.9 L76.5,349.5 L76.9,349.4 L77.3,350.0 L77.7,350.0 L78.1,350.0 L78.5,349.9 L78.9,349.9 L79.3,349.3 L79.7,349.8 L80.1,350.1 L80.5,349.4 L80.9,350.0 L81.3,350.1 L81.7,350.7 L82.1,349.8 L82.5,349.7 L82.9,349.3 L83.3,349.4 L83.7,349.2 L84.1,349.1 L84.5,350.1 L84.9,349.8 L85.3,349.9 L85.7,349.2 L86.1,349.0 L86.5,349.1 L86.9,350.4 L87.3,350.3 L87.7,349.3 L88.1,349.8 L88.5,349.9 L88.9,349.4 L89.3,349.6 L89.7,350.2 L90.1,350.1 L90.5,350.1 L90.9,349.7 L91.3,349.6 L91.7,349.6 L92.1,349.3 L92.5,349.9 L92.9,349.3 L93.3,349.3 L93.7,349.0 L94.1,348.6 L94.5,348.8 L94.9,348.6 L95.3,348.3 L95.7,348.9 L96.1,349.2 L96.5,348.5 L96.9,348.2 L97.3,347.9 L97.7,347.5 L98.1,348.3 L98.5,348.4 L98.9,348.0 L99.3,348.4 L99.7,348.2 L100.1,349.2 L100.5,348.8 L100.9,349.0 L101.3,349.6 L101.7,348.2 L102.1,349.4 L102.5,349.4 L102.9,349.3 L103.3,349.5 L103.7,350.1 L104.1,349.5 L104.5,349.6 L104.9,350.7 L105.3,350.5 L105.7,350.4 L106.1,350.7 L106.5,350.5 L106.9,350.4 L107.3,350.6 L107.7,350.9 L108.1,350.7 L108.5,350.4 L108.9,351.1 L109.3,351.3 L109.7,351.3 L110.1,351.7 L110.5,351.5 L110.9,351.8 L111.3,351.5 L111.7,351.4 L112.1,351.6 L112.5,351.8 L112.9,351.2 L113.3,351.1 L113.7,351.9 L114.1,351.2 L114.5,351.6 L114.9,351.2 L115.3,351.5 L115.7,352.0 L116.1,352.1 L116.5,350.9 L116.9,350.8 L117.3,350.1 L117.7,351.6 L118.1,352.0 L118.5,351.5 L118.9,351.3 L119.3,351.7 L119.7,351.0 L120.1,351.7 L120.5,351.9 L120.9,351.9 L121.3,351.7 L121.7,351.2 L122.1,351.3 L122.5,351.0 L122.9,352.1 L123.3,351.9 L123.7,351.4 L124.1,351.4 L124.5,351.5 L124.9,351.1 L125.3,351.6 L125.7,351.6 L126.1,351.5 L126.5,351.4 L126.9,350.4 L127.3,351.3 L127.7,350.8 L128.1,350.7 L128.5,352.2 L128.9,351.2 L129.3,351.3 L129.7,351.2 L130.1,351.0 L130.5,352.0 L130.9,350.6 L131.3,351.5 L131.7,351.1 L132.1,351.8 L132.5,351.7 L132.9,351.4 L133.3,350.7 L133.7,351.6 L134.1,351.7 L134.5,351.6 L134.9,351.2 L135.3,351.6 L135.7,351.0 L136.1,351.4 L136.5,351.5 L136.9,351.2 L137.3,350.9 L137.7,351.2 L138.1,351.0 L138.5,350.8 L138.9,351.7 L139.3,351.3 L139.7,351.1 L140.1,351.1 L140.5,351.5 L140.9,351.2 L141.3,351.0 L141.7,351.4 L142.1,351.4 L142.5,350.9 L142.9,350.9 L143.3,351.8 L143.7,351.2 L144.1,351.8 L144.5,351.5 L144.9,351.2 L145.3,350.2 L145.7,347.0 L146.1,344.3 L146.5,348.6 L146.9,350.7 L147.3,351.2 L147.7,350.9 L148.1,351.3 L148.5,350.8 L148.9,351.5 L149.3,351.4 L149.7,351.4 L150.1,351.0 L150.5,351.8 L150.9,352.1 L151.3,351.2 L151.7,351.0 L152.1,351.5 L152.5,351.2 L152.9,351.3 L153.3,351.5 L153.7,350.7 L154.1,351.5 L154.5,350.8 L154.9,350.8 L155.3,351.1 L155.7,351.8 L156.1,351.0 L156.5,351.4 L156.9,350.9 L157.3,351.5 L157.7,351.4 L158.1,351.7 L158.5,351.3 L158.9,351.2 L159.3,350.5 L159.7,351.4 L160.1,351.5 L160.5,351.3 L160.9,351.3 L161.3,351.5 L161.7,351.6 L162.1,350.9 L162.5,351.2 L162.9,351.4 L163.3,351.3 L163.7,350.8 L164.1,350.4 L164.5,351.3 L164.9,351.5 L165.3,351.9 L165.7,351.4 L166.1,350.9 L166.5,351.4 L166.9,351.2 L167.3,350.9 L167.7,350.6 L168.1,350.5 L168.5,350.9 L168.9,351.0 L169.3,351.2 L169.7,351.2 L170.1,351.3 L170.5,351.9 L170.9,351.2 L171.3,351.7 L171.7,350.9 L172.1,350.9 L172.5,351.0 L172.9,350.5 L173.3,351.8 L173.7,351.3 L174.1,351.5 L174.5,351.9 L174.9,351.4 L175.3,351.8 L175.7,350.2 L176.1,351.7 L176.5,351.3 L176.9,351.0 L177.3,351.6 L177.7,351.2 L178.1,350.9 L178.5,350.4 L178.9,351.9 L179.3,350.1 L179.7,351.2 L180.1,351.8 L180.5,351.4 L180.9,350.9 L181.3,351.0 L181.7,350.9 L182.1,351.3 L182.5,351.1 L182.9,350.6 L183.3,350.6 L183.7,351.6 L184.1,350.6 L184.5,350.7 L184.9,352.1 L185.3,350.8 L185.7,350.6 L186.1,350.7 L186.5,351.4 L186.9,350.8 L187.3,351.1 L187.7,350.2 L188.1,350.8 L188.5,350.0 L188.9,348.3 L189.3,349.6 L189.7,350.9 L190.1,349.9 L190.5,350.5 L190.9,350.8 L191.3,351.0 L191.7,351.1 L192.1,351.4 L192.5,350.4 L192.9,350.2 L193.3,351.4 L193.7,350.7 L194.1,350.2 L194.5,350.7 L194.9,350.9 L195.3,350.5 L195.7,350.5 L196.1,351.3 L196.5,350.3 L196.9,350.8 L197.3,350.7 L197.7,350.4 L198.1,351.3 L198.5,349.8 L198.9,351.3 L199.3,349.8 L199.7,349.9 L200.1,350.0 L200.5,350.0 L200.9,349.5 L201.3,348.7 L201.7,348.4 L202.1,348.6 L202.5,348.4 L202.9,347.2 L203.3,346.0 L203.7,338.0 L204.1,334.3 L204.5,342.1 L204.9,346.8 L205.3,348.0 L205.7,346.9 L206.1,347.8 L206.5,347.0 L206.9,336.9 L207.3,318.3 L207.7,318.4 L208.1,337.4 L208.5,347.3 L208.9,348.6 L209.3,348.5 L209.7,348.7 L210.1,349.1 L210.5,349.7 L210.9,348.8 L211.3,346.9 L211.7,342.3 L212.1,340.3 L212.5,345.2 L212.9,348.4 L213.3,349.2 L213.7,350.0 L214.1,349.1 L214.5,349.7 L214.9,349.8 L215.3,349.9 L215.7,349.4 L216.1,349.6 L216.5,349.9 L216.9,350.2 L217.3,350.0 L217.7,349.9 L218.1,349.7 L218.5,350.0 L218.9,348.9 L219.3,350.3 L219.7,350.4 L220.1,350.0 L220.5,349.6 L220.9,350.5 L221.3,349.7 L221.7,350.5 L222.1,349.9 L222.5,349.7 L222.9,349.9 L223.3,349.7 L223.7,349.9 L224.1,350.2 L224.5,349.9 L224.9,349.8 L225.3,350.0 L225.7,350.2 L226.1,350.0 L226.5,350.2 L226.9,350.2" fill="none" stroke="#d0121c" stroke-width="1.0" stroke-linejoin="round" clip-path="url(#cld3)"/>
<path d="M58.5,393.4 L59.0,393.4 L59.5,393.0 L60.0,393.1 L60.5,392.8 L61.0,392.7 L61.5,392.3 L62.0,391.8 L62.5,392.3 L63.0,392.7 L63.5,393.0 L64.0,393.2 L64.5,393.8 L65.0,393.4 L65.5,393.5 L66.0,394.2 L66.5,393.9 L67.0,394.0 L67.5,394.1 L68.0,394.5 L68.5,393.4 L69.0,393.4 L69.5,393.6 L70.0,393.1 L70.5,393.3 L71.0,393.7 L71.5,393.4 L72.0,393.4 L72.5,393.6 L73.0,392.9 L73.5,393.3 L74.0,393.2 L74.5,393.3 L75.0,392.9 L75.5,393.0 L76.0,393.1 L76.5,393.2 L77.0,392.8 L77.5,393.1 L78.0,392.4 L78.5,393.0 L79.0,393.1 L79.5,392.6 L80.0,392.7 L80.5,392.7 L81.0,392.8 L81.5,392.9 L82.0,392.6 L82.5,392.4 L83.0,392.4 L83.5,392.4 L84.0,392.5 L84.5,392.3 L85.0,392.1 L85.5,392.0 L86.0,391.9 L86.5,391.8 L87.0,391.8 L87.5,391.7 L88.0,392.0 L88.5,391.4 L89.0,391.7 L89.5,391.3 L90.0,391.7 L90.5,391.4 L91.0,391.4 L91.5,391.1 L92.0,390.5 L92.5,390.6 L93.0,390.2 L93.5,390.0 L94.0,389.7 L94.5,389.7 L95.0,389.6 L95.5,389.3 L96.0,389.5 L96.5,388.6 L97.0,388.3 L97.5,387.9 L98.0,387.5 L98.5,387.0 L99.0,386.6 L99.5,386.1 L100.0,385.8 L100.5,385.2 L101.0,384.4 L101.5,384.1 L102.0,383.7 L102.5,383.7 L103.0,383.8 L103.5,384.0 L104.0,384.3 L104.5,384.8 L105.0,385.1 L105.5,385.8 L106.0,386.6 L106.5,386.4 L107.0,387.1 L107.5,387.2 L108.0,388.5 L108.5,388.4 L109.0,388.9 L109.5,389.5 L110.0,389.8 L110.5,391.1 L111.0,392.7 L111.5,393.3 L112.0,394.1 L112.5,393.5 L113.0,392.8 L113.5,381.4 L114.0,370.5 L114.5,373.9 L115.0,376.6 L115.5,384.2 L116.0,390.8 L116.5,389.1 L117.0,387.8 L117.5,387.2 L118.0,386.7 L118.5,384.0 L119.0,382.3 L119.5,380.3 L120.0,378.7 L120.5,377.8 L121.0,377.0 L121.5,378.5 L122.0,379.6 L122.5,381.9 L123.0,383.6 L123.5,385.9 L124.0,387.6 L124.5,388.3 L125.0,388.6 L125.5,389.2 L126.0,389.8 L126.5,391.6 L127.0,392.3 L127.5,394.5 L128.0,395.4 L128.5,395.8 L129.0,396.9 L129.5,397.2 L130.0,398.1 L130.5,398.4 L131.0,399.0 L131.5,399.3 L132.0,399.6 L132.5,398.3 L133.0,397.7 L133.5,396.5 L134.0,395.5 L134.5,396.3 L135.0,396.9 L135.5,397.1 L136.0,398.3 L136.5,398.0 L137.0,398.9 L137.5,399.1 L138.0,399.4 L138.5,399.0 L139.0,399.3 L139.5,398.9 L140.0,399.0 L140.5,398.4 L141.0,398.2 L141.5,398.1 L142.0,398.1 L142.5,397.3 L143.0,397.3 L143.5,396.8 L144.0,396.4 L144.5,395.9 L145.0,395.8 L145.5,395.9 L146.0,395.9 L146.5,396.4 L147.0,396.6 L147.5,396.4 L148.0,396.6 L148.5,397.3 L149.0,398.0 L149.5,397.2 L150.0,398.0 L150.5,398.5 L151.0,398.3 L151.5,398.8 L152.0,398.9 L152.5,398.2 L153.0,398.0 L153.5,397.9 L154.0,397.3 L154.5,397.3 L155.0,396.9 L155.5,396.1 L156.0,395.6 L156.5,394.8 L157.0,394.3 L157.5,394.1 L158.0,394.7 L158.5,394.4 L159.0,394.9 L159.5,395.2 L160.0,395.2 L160.5,394.3 L161.0,393.8 L161.5,393.3 L162.0,392.9 L162.5,392.4 L163.0,391.9 L163.5,392.2 L164.0,391.9 L164.5,392.1 L165.0,391.9 L165.5,389.5 L166.0,388.0 L166.5,389.5 L167.0,390.8 L167.5,391.7 L168.0,392.8 L168.5,393.4 L169.0,395.3 L169.5,395.6 L170.0,396.9 L170.5,396.2 L171.0,395.3 L171.5,395.1 L172.0,394.5 L172.5,392.9 L173.0,391.6 L173.5,390.4 L174.0,389.1 L174.5,385.8 L175.0,382.1 L175.5,384.1 L176.0,386.2 L176.5,385.0 L177.0,384.6 L177.5,384.2 L178.0,383.4 L178.5,384.1 L179.0,385.2 L179.5,385.7 L180.0,386.5 L180.5,388.2 L181.0,390.1 L181.5,389.3 L182.0,389.0 L182.5,391.8 L183.0,395.3 L183.5,395.0 L184.0,394.4 L184.5,393.5 L185.0,392.5 L185.5,392.0 L186.0,390.7 L186.5,389.8 L187.0,388.7 L187.5,388.5 L188.0,387.6 L188.5,386.2 L189.0,385.3 L189.5,386.1 L190.0,386.8 L190.5,387.4 L191.0,387.6 L191.5,388.0 L192.0,389.0 L192.5,389.6 L193.0,389.8 L193.5,387.5 L194.0,384.9 L194.5,384.4 L195.0,384.4 L195.5,384.2 L196.0,383.8 L196.5,382.1 L197.0,380.9 L197.5,379.9 L198.0,378.3 L198.5,377.7 L199.0,377.6 L199.5,375.8 L200.0,375.6 L200.5,373.6 L201.0,371.8 L201.5,371.6 L202.0,370.5 L202.5,370.1 L203.0,369.9 L203.5,372.1 L204.0,374.5 L204.5,377.0 L205.0,378.2 L205.5,380.3 L206.0,382.3 L206.5,382.4 L207.0,383.7 L207.5,384.9 L208.0,385.8 L208.5,388.2 L209.0,390.2 L209.5,391.0 L210.0,392.5 L210.5,392.0 L211.0,391.7 L211.5,392.2 L212.0,391.9 L212.5,391.9 L213.0,391.4 L213.5,391.4 L214.0,391.4 L214.5,391.5 L215.0,391.5 L215.5,391.8 L216.0,391.7 L216.5,391.4 L217.0,391.2 L217.5,391.7 L218.0,391.2 L218.5,391.3 L219.0,390.9 L219.5,390.9 L220.0,390.8 L220.5,390.9 L221.0,391.3 L221.5,391.2 L222.0,391.5 L222.5,391.8 L223.0,392.4 L223.5,391.6 L224.0,392.2 L224.5,392.2 L225.0,391.9 L225.5,392.1 L226.0,391.9 L226.5,391.7 L227.0,391.4" fill="none" stroke="#ff6a10" stroke-width="1.5" stroke-linejoin="round" clip-path="url(#cle1)"/>
<path d="M58.5,392.6 L59.0,392.5 L59.5,392.3 L60.0,392.4 L60.5,392.0 L61.0,392.0 L61.5,391.8 L62.0,392.3 L62.5,391.6 L63.0,391.2 L63.5,391.4 L64.0,390.8 L64.5,391.5 L65.0,391.8 L65.5,392.4 L66.0,392.8 L66.5,392.4 L67.0,393.3 L67.5,393.3 L68.0,392.8 L68.5,393.4 L69.0,393.3 L69.5,393.4 L70.0,393.8 L70.5,393.6 L71.0,393.4 L71.5,393.5 L72.0,393.2 L72.5,392.6 L73.0,392.3 L73.5,392.6 L74.0,391.9 L74.5,392.1 L75.0,391.9 L75.5,391.8 L76.0,392.2 L76.5,391.9 L77.0,391.7 L77.5,392.0 L78.0,391.6 L78.5,391.9 L79.0,392.1 L79.5,391.5 L80.0,391.5 L80.5,391.6 L81.0,390.7 L81.5,390.7 L82.0,390.6 L82.5,390.6 L83.0,391.2 L83.5,391.5 L84.0,391.6 L84.5,391.8 L85.0,392.2 L85.5,391.7 L86.0,391.1 L86.5,390.2 L87.0,389.6 L87.5,390.3 L88.0,390.5 L88.5,391.1 L89.0,391.1 L89.5,391.6 L90.0,391.8 L90.5,392.2 L91.0,392.5 L91.5,392.5 L92.0,393.3 L92.5,392.9 L93.0,393.9 L93.5,393.9 L94.0,394.7 L94.5,394.9 L95.0,395.5 L95.5,395.4 L96.0,395.1 L96.5,395.0 L97.0,395.0 L97.5,395.1 L98.0,395.2 L98.5,395.8 L99.0,395.5 L99.5,396.5 L100.0,396.7 L100.5,396.7 L101.0,396.6 L101.5,396.6 L102.0,396.4 L102.5,396.1 L103.0,396.4 L103.5,396.4 L104.0,396.7 L104.5,397.3 L105.0,397.1 L105.5,397.3 L106.0,398.0 L106.5,397.7 L107.0,397.4 L107.5,398.2 L108.0,398.4 L108.5,398.1 L109.0,398.2 L109.5,398.8 L110.0,399.1 L110.5,398.1 L111.0,397.3 L111.5,396.9 L112.0,396.1 L112.5,397.3 L113.0,399.1 L113.5,378.4 L114.0,372.7 L114.5,390.0 L115.0,393.7 L115.5,397.6 L116.0,400.8 L116.5,396.3 L117.0,391.1 L117.5,390.6 L118.0,390.2 L118.5,388.7 L119.0,388.5 L119.5,387.4 L120.0,386.3 L120.5,384.9 L121.0,383.4 L121.5,382.1 L122.0,380.9 L122.5,381.9 L123.0,383.3 L123.5,383.8 L124.0,384.8 L124.5,385.3 L125.0,386.5 L125.5,387.2 L126.0,388.3 L126.5,389.0 L127.0,389.2 L127.5,389.4 L128.0,390.2 L128.5,391.2 L129.0,392.1 L129.5,392.8 L130.0,394.1 L130.5,394.6 L131.0,395.8 L131.5,396.6 L132.0,397.0 L132.5,398.6 L133.0,399.9 L133.5,399.0 L134.0,398.5 L134.5,398.6 L135.0,397.7 L135.5,398.2 L136.0,398.5 L136.5,398.6 L137.0,398.9 L137.5,399.0 L138.0,399.3 L138.5,399.7 L139.0,399.5 L139.5,399.7 L140.0,399.8 L140.5,400.2 L141.0,400.1 L141.5,400.1 L142.0,400.5 L142.5,400.1 L143.0,400.2 L143.5,400.6 L144.0,400.8 L144.5,400.1 L145.0,400.1 L145.5,399.8 L146.0,400.3 L146.5,400.4 L147.0,400.6 L147.5,400.4 L148.0,401.2 L148.5,400.3 L149.0,400.7 L149.5,399.9 L150.0,400.2 L150.5,400.5 L151.0,400.9 L151.5,400.5 L152.0,400.3 L152.5,401.1 L153.0,401.0 L153.5,401.1 L154.0,401.4 L154.5,401.6 L155.0,402.2 L155.5,401.5 L156.0,401.2 L156.5,400.7 L157.0,399.9 L157.5,399.8 L158.0,399.7 L158.5,399.5 L159.0,398.8 L159.5,398.4 L160.0,397.9 L160.5,397.7 L161.0,397.4 L161.5,397.2 L162.0,396.4 L162.5,396.3 L163.0,396.0 L163.5,395.8 L164.0,395.7 L164.5,395.7 L165.0,395.3 L165.5,395.4 L166.0,394.9 L166.5,395.0 L167.0,394.5 L167.5,396.1 L168.0,397.0 L168.5,397.6 L169.0,397.6 L169.5,398.0 L170.0,398.5 L170.5,399.0 L171.0,399.6 L171.5,399.9 L172.0,400.2 L172.5,398.9 L173.0,398.7 L173.5,397.8 L174.0,396.7 L174.5,395.2 L175.0,394.6 L175.5,393.8 L176.0,393.2 L176.5,392.4 L177.0,391.8 L177.5,391.7 L178.0,391.3 L178.5,392.1 L179.0,393.3 L179.5,394.6 L180.0,395.3 L180.5,394.6 L181.0,393.4 L181.5,392.3 L182.0,391.6 L182.5,392.1 L183.0,392.6 L183.5,392.7 L184.0,393.1 L184.5,394.8 L185.0,396.4 L185.5,397.9 L186.0,399.5 L186.5,399.4 L187.0,400.2 L187.5,400.1 L188.0,400.0 L188.5,399.9 L189.0,399.2 L189.5,399.0 L190.0,398.1 L190.5,397.6 L191.0,396.7 L191.5,396.2 L192.0,395.8 L192.5,395.3 L193.0,394.2 L193.5,393.5 L194.0,392.6 L194.5,392.9 L195.0,393.3 L195.5,393.0 L196.0,393.4 L196.5,393.7 L197.0,394.5 L197.5,395.2 L198.0,395.6 L198.5,394.6 L199.0,393.6 L199.5,392.6 L200.0,392.2 L200.5,392.0 L201.0,391.0 L201.5,390.5 L202.0,389.9 L202.5,389.2 L203.0,389.2 L203.5,388.4 L204.0,387.2 L204.5,386.7 L205.0,386.6 L205.5,385.8 L206.0,385.6 L206.5,385.1 L207.0,385.1 L207.5,384.0 L208.0,383.2 L208.5,382.3 L209.0,382.2 L209.5,383.5 L210.0,384.1 L210.5,385.3 L211.0,386.4 L211.5,386.0 L212.0,385.6 L212.5,385.2 L213.0,385.2 L213.5,386.3 L214.0,388.1 L214.5,390.0 L215.0,391.2 L215.5,392.1 L216.0,391.8 L216.5,392.1 L217.0,392.5 L217.5,392.1 L218.0,392.0 L218.5,391.7 L219.0,391.9 L219.5,391.8 L220.0,391.3 L220.5,391.7 L221.0,391.7 L221.5,391.6 L222.0,391.3 L222.5,391.7 L223.0,391.8 L223.5,391.4 L224.0,391.1 L224.5,391.3 L225.0,391.5 L225.5,391.8 L226.0,391.8 L226.5,391.7 L227.0,391.3" fill="none" stroke="#1a1a8a" stroke-width="1.5" stroke-linejoin="round" clip-path="url(#cle1)"/>
<path d="M58.5,436.5 L59.0,436.3 L59.5,436.0 L60.0,435.7 L60.5,436.1 L61.0,435.5 L61.5,436.0 L62.0,436.0 L62.5,435.6 L63.0,435.5 L63.5,435.6 L64.0,435.6 L64.5,435.8 L65.0,436.0 L65.5,435.9 L66.0,436.3 L66.5,436.5 L67.0,437.1 L67.5,437.3 L68.0,437.2 L68.5,437.3 L69.0,437.4 L69.5,437.1 L70.0,437.3 L70.5,437.4 L71.0,437.1 L71.5,437.4 L72.0,437.4 L72.5,437.2 L73.0,437.5 L73.5,437.0 L74.0,437.2 L74.5,437.0 L75.0,437.2 L75.5,436.8 L76.0,437.0 L76.5,437.1 L77.0,437.2 L77.5,437.3 L78.0,436.8 L78.5,437.1 L79.0,436.9 L79.5,437.4 L80.0,437.5 L80.5,437.2 L81.0,437.3 L81.5,437.5 L82.0,437.3 L82.5,437.3 L83.0,437.0 L83.5,437.2 L84.0,437.6 L84.5,437.1 L85.0,437.5 L85.5,437.5 L86.0,437.6 L86.5,437.8 L87.0,437.6 L87.5,438.1 L88.0,437.8 L88.5,438.2 L89.0,437.9 L89.5,438.2 L90.0,438.1 L90.5,438.8 L91.0,438.5 L91.5,438.8 L92.0,439.4 L92.5,439.5 L93.0,439.6 L93.5,439.9 L94.0,440.0 L94.5,439.9 L95.0,439.7 L95.5,439.6 L96.0,439.3 L96.5,438.8 L97.0,438.1 L97.5,437.3 L98.0,436.8 L98.5,436.6 L99.0,435.8 L99.5,435.6 L100.0,434.6 L100.5,434.3 L101.0,433.8 L101.5,433.5 L102.0,432.8 L102.5,432.5 L103.0,432.4 L103.5,431.7 L104.0,431.8 L104.5,432.3 L105.0,432.4 L105.5,432.1 L106.0,431.4 L106.5,431.0 L107.0,430.6 L107.5,429.9 L108.0,429.0 L108.5,428.0 L109.0,427.6 L109.5,426.4 L110.0,425.2 L110.5,423.6 L111.0,421.3 L111.5,420.8 L112.0,419.6 L112.5,418.5 L113.0,417.4 L113.5,417.2 L114.0,417.0 L114.5,416.9 L115.0,417.1 L115.5,416.7 L116.0,416.4 L116.5,416.4 L117.0,416.0 L117.5,415.5 L118.0,415.2 L118.5,415.4 L119.0,414.7 L119.5,415.0 L120.0,414.9 L120.5,414.4 L121.0,414.4 L121.5,413.5 L122.0,412.8 L122.5,412.2 L123.0,411.5 L123.5,410.8 L124.0,409.6 L124.5,410.3 L125.0,410.6 L125.5,411.2 L126.0,411.9 L126.5,411.9 L127.0,413.1 L127.5,413.4 L128.0,414.2 L128.5,414.6 L129.0,415.1 L129.5,415.4 L130.0,415.6 L130.5,416.9 L131.0,417.0 L131.5,417.1 L132.0,417.1 L132.5,418.9 L133.0,420.4 L133.5,420.5 L134.0,420.4 L134.5,421.0 L135.0,421.5 L135.5,421.3 L136.0,421.4 L136.5,420.9 L137.0,420.8 L137.5,420.3 L138.0,420.9 L138.5,420.8 L139.0,420.6 L139.5,420.3 L140.0,420.9 L140.5,420.3 L141.0,420.3 L141.5,420.0 L142.0,420.0 L142.5,420.0 L143.0,419.9 L143.5,419.9 L144.0,419.4 L144.5,418.9 L145.0,418.4 L145.5,418.4 L146.0,418.1 L146.5,418.4 L147.0,418.0 L147.5,418.1 L148.0,418.2 L148.5,418.3 L149.0,418.5 L149.5,419.3 L150.0,419.1 L150.5,420.0 L151.0,420.8 L151.5,421.7 L152.0,422.7 L152.5,422.7 L153.0,423.9 L153.5,424.2 L154.0,424.1 L154.5,424.0 L155.0,423.7 L155.5,423.7 L156.0,423.4 L156.5,423.1 L157.0,423.5 L157.5,423.5 L158.0,423.2 L158.5,423.0 L159.0,423.1 L159.5,422.9 L160.0,422.9 L160.5,422.3 L161.0,421.7 L161.5,421.8 L162.0,421.6 L162.5,420.9 L163.0,420.8 L163.5,420.6 L164.0,419.5 L164.5,420.9 L165.0,420.9 L165.5,421.0 L166.0,421.2 L166.5,421.7 L167.0,423.4 L167.5,423.3 L168.0,424.1 L168.5,424.4 L169.0,424.9 L169.5,425.6 L170.0,425.8 L170.5,426.6 L171.0,427.3 L171.5,428.0 L172.0,428.8 L172.5,428.6 L173.0,428.9 L173.5,428.5 L174.0,428.5 L174.5,428.5 L175.0,428.2 L175.5,428.3 L176.0,427.4 L176.5,427.5 L177.0,427.2 L177.5,427.8 L178.0,427.5 L178.5,427.3 L179.0,427.7 L179.5,427.5 L180.0,427.9 L180.5,428.0 L181.0,427.5 L181.5,427.5 L182.0,426.6 L182.5,427.1 L183.0,427.0 L183.5,427.2 L184.0,427.4 L184.5,427.3 L185.0,427.3 L185.5,426.9 L186.0,426.8 L186.5,426.5 L187.0,426.4 L187.5,426.0 L188.0,426.2 L188.5,426.3 L189.0,426.4 L189.5,426.5 L190.0,426.6 L190.5,426.7 L191.0,426.8 L191.5,427.0 L192.0,427.5 L192.5,427.1 L193.0,426.4 L193.5,426.2 L194.0,426.4 L194.5,426.2 L195.0,425.8 L195.5,426.0 L196.0,425.4 L196.5,425.5 L197.0,425.3 L197.5,425.8 L198.0,425.4 L198.5,425.6 L199.0,425.7 L199.5,425.7 L200.0,426.0 L200.5,425.9 L201.0,426.6 L201.5,426.8 L202.0,427.5 L202.5,428.1 L203.0,428.4 L203.5,428.6 L204.0,429.1 L204.5,429.9 L205.0,430.2 L205.5,430.7 L206.0,431.0 L206.5,431.6 L207.0,432.0 L207.5,432.4 L208.0,432.4 L208.5,432.8 L209.0,432.6 L209.5,433.1 L210.0,433.2 L210.5,433.3 L211.0,433.7 L211.5,433.5 L212.0,434.2 L212.5,434.1 L213.0,434.3 L213.5,434.4 L214.0,434.4 L214.5,434.6 L215.0,435.1 L215.5,435.0 L216.0,435.3 L216.5,435.1 L217.0,435.4 L217.5,435.3 L218.0,435.0 L218.5,435.6 L219.0,435.4 L219.5,435.4 L220.0,435.3 L220.5,435.4 L221.0,435.7 L221.5,436.2 L222.0,435.8" fill="none" stroke="#ff6a10" stroke-width="1.5" stroke-linejoin="round" clip-path="url(#cle2)"/>
<path d="M58.5,433.5 L59.0,433.5 L59.5,433.3 L60.0,433.2 L60.5,432.6 L61.0,432.5 L61.5,432.3 L62.0,432.3 L62.5,432.1 L63.0,431.7 L63.5,432.6 L64.0,433.1 L64.5,433.8 L65.0,434.1 L65.5,434.5 L66.0,434.6 L66.5,435.1 L67.0,435.2 L67.5,434.5 L68.0,434.2 L68.5,433.7 L69.0,433.3 L69.5,432.1 L70.0,431.1 L70.5,431.0 L71.0,430.2 L71.5,430.0 L72.0,429.1 L72.5,430.2 L73.0,431.1 L73.5,431.8 L74.0,433.0 L74.5,433.4 L75.0,434.6 L75.5,433.4 L76.0,433.3 L76.5,432.6 L77.0,432.1 L77.5,431.7 L78.0,430.5 L78.5,430.0 L79.0,429.0 L79.5,429.0 L80.0,429.0 L80.5,428.8 L81.0,428.8 L81.5,429.0 L82.0,429.5 L82.5,429.4 L83.0,429.9 L83.5,430.2 L84.0,430.9 L84.5,430.9 L85.0,431.9 L85.5,431.1 L86.0,430.2 L86.5,429.3 L87.0,428.3 L87.5,427.8 L88.0,427.2 L88.5,426.7 L89.0,426.1 L89.5,426.2 L90.0,426.6 L90.5,427.1 L91.0,427.1 L91.5,426.7 L92.0,426.1 L92.5,424.9 L93.0,423.9 L93.5,424.0 L94.0,424.2 L94.5,424.3 L95.0,423.7 L95.5,423.4 L96.0,422.6 L96.5,422.0 L97.0,421.5 L97.5,418.9 L98.0,416.0 L98.5,415.5 L99.0,415.1 L99.5,414.5 L100.0,414.6 L100.5,413.7 L101.0,414.0 L101.5,413.7 L102.0,413.5 L102.5,412.5 L103.0,411.8 L103.5,411.0 L104.0,410.1 L104.5,411.2 L105.0,412.2 L105.5,413.8 L106.0,415.6 L106.5,417.3 L107.0,418.7 L107.5,420.9 L108.0,422.8 L108.5,424.6 L109.0,426.8 L109.5,428.2 L110.0,429.2 L110.5,429.3 L111.0,430.1 L111.5,430.5 L112.0,430.4 L112.5,431.2 L113.0,432.0 L113.5,432.1 L114.0,433.4 L114.5,434.7 L115.0,436.0 L115.5,437.5 L116.0,438.3 L116.5,440.0 L117.0,441.6 L117.5,441.9 L118.0,443.6 L118.5,444.2 L119.0,444.2 L119.5,444.3 L120.0,445.1 L120.5,444.4 L121.0,443.6 L121.5,443.1 L122.0,442.6 L122.5,443.1 L123.0,443.5 L123.5,443.6 L124.0,444.3 L124.5,443.6 L125.0,443.5 L125.5,443.4 L126.0,443.1 L126.5,443.2 L127.0,443.3 L127.5,443.1 L128.0,443.4 L128.5,443.0 L129.0,442.6 L129.5,442.1 L130.0,442.1 L130.5,441.1 L131.0,439.9 L131.5,439.2 L132.0,438.4 L132.5,438.0 L133.0,437.7 L133.5,437.1 L134.0,437.4 L134.5,436.8 L135.0,436.3 L135.5,435.7 L136.0,435.3 L136.5,434.6 L137.0,433.8 L137.5,433.7 L138.0,433.2 L138.5,433.6 L139.0,434.0 L139.5,435.4 L140.0,435.6 L140.5,436.2 L141.0,436.7 L141.5,437.6 L142.0,437.5 L142.5,438.0 L143.0,437.3 L143.5,438.0 L144.0,437.7 L144.5,437.3 L145.0,437.8 L145.5,437.9 L146.0,437.7 L146.5,438.2 L147.0,438.2 L147.5,438.5 L148.0,438.2 L148.5,438.3 L149.0,438.1 L149.5,438.3 L150.0,438.1 L150.5,437.9 L151.0,438.3 L151.5,437.8 L152.0,438.0 L152.5,438.1 L153.0,437.9 L153.5,437.8 L154.0,438.3 L154.5,438.5 L155.0,438.7 L155.5,439.0 L156.0,439.4 L156.5,439.7 L157.0,440.1 L157.5,441.3 L158.0,441.3 L158.5,440.2 L159.0,439.9 L159.5,439.2 L160.0,438.1 L160.5,437.6 L161.0,437.0 L161.5,436.3 L162.0,435.5 L162.5,435.3 L163.0,435.4 L163.5,435.5 L164.0,435.8 L164.5,435.6 L165.0,434.9 L165.5,434.8 L166.0,434.4 L166.5,434.0 L167.0,433.7 L167.5,433.9 L168.0,433.5 L168.5,432.7 L169.0,431.2 L169.5,430.8 L170.0,430.4 L170.5,430.8 L171.0,431.4 L171.5,432.5 L172.0,433.1 L172.5,434.0 L173.0,435.1 L173.5,436.1 L174.0,436.9 L174.5,436.6 L175.0,436.1 L175.5,436.1 L176.0,435.9 L176.5,435.2 L177.0,434.5 L177.5,433.6 L178.0,433.4 L178.5,433.3 L179.0,434.0 L179.5,434.1 L180.0,434.7 L180.5,434.6 L181.0,434.1 L181.5,433.4 L182.0,433.5 L182.5,433.4 L183.0,433.1 L183.5,433.0 L184.0,433.0 L184.5,432.9 L185.0,432.9 L185.5,433.3 L186.0,433.2 L186.5,433.0 L187.0,432.6 L187.5,431.8 L188.0,432.1 L188.5,432.1 L189.0,431.5 L189.5,431.5 L190.0,431.3 L190.5,431.3 L191.0,431.5 L191.5,431.9 L192.0,431.8 L192.5,431.1 L193.0,430.8 L193.5,430.1 L194.0,429.6 L194.5,428.9 L195.0,428.4 L195.5,428.5 L196.0,427.7 L196.5,427.6 L197.0,427.3 L197.5,427.4 L198.0,426.7 L198.5,426.3 L199.0,426.3 L199.5,426.4 L200.0,425.6 L200.5,426.1 L201.0,426.9 L201.5,427.0 L202.0,427.1 L202.5,428.6 L203.0,430.0 L203.5,431.0 L204.0,432.5 L204.5,433.2 L205.0,433.3 L205.5,433.8 L206.0,433.9 L206.5,433.9 L207.0,434.3 L207.5,434.2 L208.0,434.6 L208.5,434.6 L209.0,434.8 L209.5,435.0 L210.0,435.0 L210.5,435.6 L211.0,435.2 L211.5,435.7 L212.0,435.5 L212.5,435.8 L213.0,435.5 L213.5,435.4 L214.0,435.3 L214.5,435.5 L215.0,435.7 L215.5,435.9 L216.0,436.2 L216.5,435.9 L217.0,435.8 L217.5,435.7 L218.0,435.5 L218.5,435.1 L219.0,435.0 L219.5,434.0 L220.0,434.2 L220.5,433.5 L221.0,433.4 L221.5,432.9 L222.0,432.6" fill="none" stroke="#1a1a8a" stroke-width="1.5" stroke-linejoin="round" clip-path="url(#cle2)"/>
<path d="M58.5,493.1 L59.0,493.2 L59.5,493.0 L60.0,493.0 L60.5,493.0 L61.0,493.3 L61.5,493.2 L62.0,493.2 L62.5,493.1 L63.0,492.9 L63.5,493.2 L64.0,492.9 L64.5,493.1 L65.0,493.3 L65.5,493.1 L66.0,493.1 L66.5,493.0 L67.0,493.3 L67.5,493.3 L68.0,493.2 L68.5,493.3 L69.0,493.1 L69.5,493.2 L70.0,493.3 L70.5,493.4 L71.0,493.3 L71.5,493.2 L72.0,493.3 L72.5,493.5 L73.0,493.3 L73.5,493.5 L74.0,493.5 L74.5,493.4 L75.0,493.5 L75.5,493.3 L76.0,493.5 L76.5,493.6 L77.0,493.7 L77.5,493.8 L78.0,493.6 L78.5,493.7 L79.0,493.6 L79.5,493.6 L80.0,493.6 L80.5,493.7 L81.0,493.7 L81.5,493.7 L82.0,494.1 L82.5,493.8 L83.0,493.9 L83.5,493.8 L84.0,494.2 L84.5,493.7 L85.0,493.9 L85.5,494.0 L86.0,494.1 L86.5,494.0 L87.0,493.9 L87.5,494.3 L88.0,494.2 L88.5,494.1 L89.0,494.1 L89.5,494.1 L90.0,494.2 L90.5,494.0 L91.0,494.3 L91.5,494.2 L92.0,494.4 L92.5,494.4 L93.0,494.2 L93.5,494.6 L94.0,494.5 L94.5,494.4 L95.0,494.4 L95.5,494.4 L96.0,494.6 L96.5,494.7 L97.0,494.5 L97.5,494.6 L98.0,494.7 L98.5,494.7 L99.0,494.7 L99.5,494.8 L100.0,494.7 L100.5,494.9 L101.0,494.8 L101.5,494.6 L102.0,494.7 L102.5,494.7 L103.0,494.5 L103.5,494.4 L104.0,494.3 L104.5,494.3 L105.0,494.2 L105.5,494.2 L106.0,493.8 L106.5,493.6 L107.0,493.7 L107.5,493.6 L108.0,493.2 L108.5,493.3 L109.0,493.1 L109.5,493.0 L110.0,492.9 L110.5,492.8 L111.0,492.1 L111.5,491.9 L112.0,491.3 L112.5,490.6 L113.0,489.5 L113.5,488.5 L114.0,487.9 L114.5,486.9 L115.0,485.8 L115.5,484.8 L116.0,483.9 L116.5,483.0 L117.0,482.2 L117.5,481.3 L118.0,480.6 L118.5,479.8 L119.0,479.3 L119.5,478.7 L120.0,478.0 L120.5,477.5 L121.0,477.0 L121.5,476.5 L122.0,476.2 L122.5,475.6 L123.0,475.4 L123.5,475.3 L124.0,475.0 L124.5,474.9 L125.0,474.7 L125.5,474.6 L126.0,474.6 L126.5,474.7 L127.0,475.0 L127.5,475.2 L128.0,475.4 L128.5,475.8 L129.0,476.2 L129.5,476.7 L130.0,477.1 L130.5,477.7 L131.0,478.2 L131.5,478.9 L132.0,479.6 L132.5,480.2 L133.0,480.8 L133.5,481.1 L134.0,482.0 L134.5,482.5 L135.0,483.1 L135.5,483.5 L136.0,484.1 L136.5,484.5 L137.0,484.9 L137.5,485.5 L138.0,485.9 L138.5,486.4 L139.0,486.9 L139.5,487.4 L140.0,487.7 L140.5,488.2 L141.0,488.2 L141.5,488.9 L142.0,489.0 L142.5,489.5 L143.0,489.8 L143.5,490.1 L144.0,490.7 L144.5,490.8 L145.0,491.2 L145.5,491.7 L146.0,491.5 L146.5,491.7 L147.0,492.3 L147.5,492.3 L148.0,492.7 L148.5,492.8 L149.0,493.0 L149.5,493.4 L150.0,493.3 L150.5,493.4 L151.0,493.5 L151.5,493.4 L152.0,493.3 L152.5,493.3 L153.0,493.6 L153.5,493.7 L154.0,493.6 L154.5,493.4 L155.0,493.4 L155.5,493.4 L156.0,493.5 L156.5,493.6 L157.0,493.5 L157.5,493.5 L158.0,493.1 L158.5,493.5 L159.0,493.3 L159.5,493.5 L160.0,493.5 L160.5,493.5 L161.0,493.6 L161.5,493.7 L162.0,493.3 L162.5,493.4 L163.0,493.7 L163.5,493.6 L164.0,493.5 L164.5,493.5 L165.0,493.6 L165.5,493.7 L166.0,493.6 L166.5,493.6 L167.0,493.5 L167.5,493.8 L168.0,493.7 L168.5,493.6 L169.0,493.5 L169.5,493.7 L170.0,493.8 L170.5,494.0 L171.0,493.9 L171.5,493.7 L172.0,493.7 L172.5,493.6 L173.0,493.8 L173.5,493.7 L174.0,493.8 L174.5,493.8 L175.0,493.8 L175.5,493.7 L176.0,494.0 L176.5,493.8 L177.0,493.7 L177.5,493.8 L178.0,493.9 L178.5,493.9 L179.0,494.0 L179.5,494.0 L180.0,494.2 L180.5,493.9 L181.0,494.0 L181.5,493.6 L182.0,494.1 L182.5,493.9 L183.0,494.0 L183.5,493.8 L184.0,493.9 L184.5,493.9 L185.0,493.8 L185.5,493.8 L186.0,493.5 L186.5,493.9 L187.0,493.8 L187.5,493.8 L188.0,494.0 L188.5,493.9 L189.0,493.8 L189.5,493.6 L190.0,493.8 L190.5,493.8 L191.0,493.9 L191.5,493.7 L192.0,493.6 L192.5,493.7 L193.0,494.0 L193.5,493.7 L194.0,493.9 L194.5,493.7 L195.0,493.5 L195.5,493.8 L196.0,494.0 L196.5,493.8 L197.0,493.6 L197.5,493.7 L198.0,493.6 L198.5,494.1 L199.0,493.8 L199.5,493.4 L200.0,493.8 L200.5,493.7 L201.0,493.6 L201.5,493.6 L202.0,493.6 L202.5,493.9 L203.0,493.6 L203.5,493.5 L204.0,493.7 L204.5,493.5 L205.0,493.5 L205.5,493.6 L206.0,493.7 L206.5,493.6 L207.0,493.5 L207.5,493.7 L208.0,493.7 L208.5,493.3 L209.0,493.4 L209.5,493.4 L210.0,493.5 L210.5,493.5 L211.0,493.4 L211.5,493.5 L212.0,493.5 L212.5,493.3 L213.0,493.2 L213.5,493.4 L214.0,493.5 L214.5,493.4 L215.0,493.3 L215.5,493.4 L216.0,493.3 L216.5,493.2 L217.0,493.3 L217.5,493.4 L218.0,493.3 L218.5,493.4 L219.0,493.2 L219.5,493.3 L220.0,493.4 L220.5,493.2 L221.0,493.2 L221.5,493.4 L222.0,493.2 L222.5,493.1 L223.0,493.2" fill="none" stroke="#9b4db0" stroke-width="1.5" stroke-linejoin="round" clip-path="url(#clf1)"/>
<path d="M58.5,492.2 L59.0,492.1 L59.5,492.3 L60.0,492.1 L60.5,492.1 L61.0,492.2 L61.5,492.0 L62.0,492.2 L62.5,492.1 L63.0,492.1 L63.5,492.2 L64.0,492.1 L64.5,492.0 L65.0,492.1 L65.5,492.2 L66.0,492.2 L66.5,492.2 L67.0,492.3 L67.5,492.1 L68.0,492.2 L68.5,492.5 L69.0,492.2 L69.5,492.4 L70.0,492.3 L70.5,492.4 L71.0,492.4 L71.5,492.3 L72.0,492.4 L72.5,492.5 L73.0,492.3 L73.5,492.3 L74.0,492.6 L74.5,492.4 L75.0,492.5 L75.5,492.5 L76.0,492.5 L76.5,492.3 L77.0,492.6 L77.5,492.5 L78.0,492.5 L78.5,492.6 L79.0,492.7 L79.5,492.9 L80.0,492.6 L80.5,492.9 L81.0,492.7 L81.5,492.9 L82.0,492.8 L82.5,493.0 L83.0,493.0 L83.5,492.9 L84.0,492.8 L84.5,493.2 L85.0,492.9 L85.5,493.1 L86.0,493.4 L86.5,493.2 L87.0,493.3 L87.5,493.3 L88.0,493.4 L88.5,493.3 L89.0,493.5 L89.5,493.4 L90.0,493.5 L90.5,493.6 L91.0,493.6 L91.5,493.6 L92.0,493.8 L92.5,493.9 L93.0,493.9 L93.5,493.8 L94.0,493.7 L94.5,494.0 L95.0,493.9 L95.5,494.0 L96.0,493.9 L96.5,494.1 L97.0,493.9 L97.5,494.0 L98.0,493.9 L98.5,494.3 L99.0,494.1 L99.5,493.9 L100.0,494.3 L100.5,494.2 L101.0,494.2 L101.5,493.9 L102.0,494.0 L102.5,494.0 L103.0,493.8 L103.5,493.8 L104.0,493.6 L104.5,493.5 L105.0,493.6 L105.5,493.3 L106.0,493.2 L106.5,493.1 L107.0,492.9 L107.5,492.9 L108.0,492.4 L108.5,492.6 L109.0,492.2 L109.5,492.1 L110.0,491.9 L110.5,491.7 L111.0,491.2 L111.5,490.8 L112.0,490.4 L112.5,489.7 L113.0,488.4 L113.5,487.4 L114.0,486.5 L114.5,485.6 L115.0,484.6 L115.5,483.6 L116.0,482.7 L116.5,481.4 L117.0,480.5 L117.5,479.8 L118.0,479.1 L118.5,478.9 L119.0,478.2 L119.5,477.4 L120.0,476.6 L120.5,476.3 L121.0,475.7 L121.5,475.2 L122.0,474.6 L122.5,474.3 L123.0,474.0 L123.5,473.7 L124.0,473.5 L124.5,473.6 L125.0,473.3 L125.5,473.1 L126.0,473.2 L126.5,473.5 L127.0,473.8 L127.5,473.8 L128.0,474.1 L128.5,474.4 L129.0,474.8 L129.5,475.2 L130.0,475.9 L130.5,476.4 L131.0,476.9 L131.5,477.8 L132.0,478.3 L132.5,479.0 L133.0,479.5 L133.5,480.0 L134.0,480.6 L134.5,481.3 L135.0,481.7 L135.5,482.6 L136.0,483.2 L136.5,483.2 L137.0,484.1 L137.5,484.4 L138.0,485.0 L138.5,485.3 L139.0,485.6 L139.5,486.0 L140.0,486.3 L140.5,486.8 L141.0,487.2 L141.5,487.4 L142.0,488.0 L142.5,488.5 L143.0,488.9 L143.5,489.2 L144.0,490.0 L144.5,490.1 L145.0,490.5 L145.5,490.7 L146.0,491.3 L146.5,491.5 L147.0,491.8 L147.5,492.1 L148.0,492.0 L148.5,492.2 L149.0,492.6 L149.5,492.7 L150.0,492.8 L150.5,492.9 L151.0,492.8 L151.5,492.9 L152.0,493.0 L152.5,492.8 L153.0,493.1 L153.5,493.2 L154.0,493.0 L154.5,493.1 L155.0,493.2 L155.5,493.2 L156.0,493.1 L156.5,493.0 L157.0,493.1 L157.5,493.0 L158.0,492.8 L158.5,492.9 L159.0,492.8 L159.5,492.9 L160.0,492.7 L160.5,492.7 L161.0,492.8 L161.5,492.9 L162.0,493.1 L162.5,492.9 L163.0,493.0 L163.5,493.0 L164.0,493.1 L164.5,493.1 L165.0,493.0 L165.5,492.9 L166.0,492.9 L166.5,493.2 L167.0,493.3 L167.5,493.2 L168.0,493.3 L168.5,493.1 L169.0,493.0 L169.5,493.1 L170.0,493.1 L170.5,493.2 L171.0,493.2 L171.5,493.1 L172.0,493.3 L172.5,493.1 L173.0,493.3 L173.5,493.3 L174.0,493.3 L174.5,493.3 L175.0,493.2 L175.5,493.3 L176.0,493.5 L176.5,493.3 L177.0,493.2 L177.5,493.1 L178.0,493.4 L178.5,493.3 L179.0,493.5 L179.5,493.4 L180.0,493.4 L180.5,493.5 L181.0,493.6 L181.5,493.4 L182.0,493.4 L182.5,493.5 L183.0,493.6 L183.5,493.4 L184.0,493.6 L184.5,493.5 L185.0,493.6 L185.5,493.3 L186.0,493.5 L186.5,493.5 L187.0,493.5 L187.5,493.4 L188.0,493.5 L188.5,493.2 L189.0,493.5 L189.5,493.7 L190.0,493.5 L190.5,493.5 L191.0,493.5 L191.5,493.6 L192.0,493.4 L192.5,493.3 L193.0,493.3 L193.5,493.3 L194.0,493.4 L194.5,493.5 L195.0,493.3 L195.5,493.2 L196.0,493.4 L196.5,493.4 L197.0,493.2 L197.5,493.4 L198.0,493.2 L198.5,493.2 L199.0,493.2 L199.5,493.1 L200.0,493.0 L200.5,493.0 L201.0,493.1 L201.5,493.2 L202.0,493.2 L202.5,493.2 L203.0,493.0 L203.5,493.1 L204.0,492.9 L204.5,492.9 L205.0,493.1 L205.5,493.0 L206.0,493.2 L206.5,493.0 L207.0,492.9 L207.5,492.8 L208.0,492.6 L208.5,493.0 L209.0,493.0 L209.5,493.2 L210.0,493.0 L210.5,492.8 L211.0,492.6 L211.5,492.5 L212.0,492.7 L212.5,492.7 L213.0,492.5 L213.5,492.7 L214.0,492.7 L214.5,492.5 L215.0,492.5 L215.5,492.4 L216.0,492.6 L216.5,492.4 L217.0,492.3 L217.5,492.2 L218.0,492.3 L218.5,492.2 L219.0,492.5 L219.5,492.4 L220.0,492.2 L220.5,492.2 L221.0,492.3 L221.5,492.4 L222.0,492.2 L222.5,492.5 L223.0,492.5" fill="none" stroke="#3a8dd0" stroke-width="1.5" stroke-linejoin="round" clip-path="url(#clf1)"/>
<path d="M58.5,492.0 L59.0,491.4 L59.5,491.5 L60.0,491.8 L60.5,491.8 L61.0,491.7 L61.5,491.6 L62.0,491.9 L62.5,491.7 L63.0,492.0 L63.5,492.0 L64.0,492.0 L64.5,491.6 L65.0,491.9 L65.5,492.1 L66.0,492.1 L66.5,492.1 L67.0,492.1 L67.5,491.8 L68.0,492.1 L68.5,492.2 L69.0,492.0 L69.5,492.0 L70.0,492.0 L70.5,492.1 L71.0,492.0 L71.5,492.2 L72.0,492.1 L72.5,492.0 L73.0,492.1 L73.5,492.3 L74.0,492.3 L74.5,492.5 L75.0,492.5 L75.5,492.5 L76.0,492.4 L76.5,492.6 L77.0,492.4 L77.5,492.4 L78.0,492.7 L78.5,492.6 L79.0,492.5 L79.5,492.8 L80.0,492.9 L80.5,492.9 L81.0,493.0 L81.5,493.0 L82.0,493.1 L82.5,492.9 L83.0,492.8 L83.5,493.1 L84.0,492.8 L84.5,493.2 L85.0,493.2 L85.5,493.4 L86.0,493.3 L86.5,493.5 L87.0,493.4 L87.5,493.6 L88.0,493.8 L88.5,493.6 L89.0,493.6 L89.5,494.0 L90.0,494.0 L90.5,493.9 L91.0,493.9 L91.5,494.0 L92.0,494.0 L92.5,494.2 L93.0,494.1 L93.5,494.1 L94.0,494.2 L94.5,494.1 L95.0,494.3 L95.5,494.1 L96.0,494.3 L96.5,494.4 L97.0,494.3 L97.5,494.5 L98.0,494.4 L98.5,494.5 L99.0,494.3 L99.5,494.6 L100.0,494.6 L100.5,494.3 L101.0,494.5 L101.5,494.5 L102.0,494.4 L102.5,494.3 L103.0,494.2 L103.5,494.3 L104.0,494.3 L104.5,494.2 L105.0,494.4 L105.5,494.0 L106.0,493.8 L106.5,493.3 L107.0,493.4 L107.5,493.2 L108.0,492.8 L108.5,492.9 L109.0,492.4 L109.5,492.2 L110.0,491.8 L110.5,491.2 L111.0,490.2 L111.5,489.9 L112.0,488.4 L112.5,487.1 L113.0,484.4 L113.5,481.8 L114.0,479.3 L114.5,476.0 L115.0,473.7 L115.5,471.8 L116.0,470.6 L116.5,469.4 L117.0,468.5 L117.5,467.1 L118.0,466.7 L118.5,466.0 L119.0,465.3 L119.5,464.4 L120.0,463.8 L120.5,463.4 L121.0,462.6 L121.5,462.2 L122.0,461.2 L122.5,460.6 L123.0,460.2 L123.5,459.7 L124.0,459.7 L124.5,459.3 L125.0,459.2 L125.5,458.7 L126.0,458.8 L126.5,459.1 L127.0,459.5 L127.5,459.6 L128.0,460.2 L128.5,461.3 L129.0,462.2 L129.5,463.4 L130.0,464.6 L130.5,465.5 L131.0,466.2 L131.5,467.5 L132.0,468.5 L132.5,469.3 L133.0,470.2 L133.5,471.3 L134.0,472.0 L134.5,472.9 L135.0,473.8 L135.5,474.6 L136.0,475.7 L136.5,476.4 L137.0,477.1 L137.5,477.9 L138.0,478.7 L138.5,479.7 L139.0,480.2 L139.5,481.1 L140.0,481.6 L140.5,482.0 L141.0,483.0 L141.5,483.5 L142.0,484.0 L142.5,484.4 L143.0,484.8 L143.5,485.1 L144.0,485.7 L144.5,486.0 L145.0,486.3 L145.5,486.8 L146.0,487.3 L146.5,488.0 L147.0,488.4 L147.5,488.9 L148.0,489.4 L148.5,490.0 L149.0,490.4 L149.5,490.8 L150.0,491.4 L150.5,491.5 L151.0,491.8 L151.5,491.8 L152.0,492.2 L152.5,492.3 L153.0,492.4 L153.5,492.6 L154.0,492.7 L154.5,493.0 L155.0,493.1 L155.5,493.2 L156.0,493.4 L156.5,493.2 L157.0,493.1 L157.5,493.0 L158.0,492.9 L158.5,492.9 L159.0,493.0 L159.5,492.8 L160.0,493.1 L160.5,493.1 L161.0,492.6 L161.5,492.9 L162.0,492.9 L162.5,492.8 L163.0,492.7 L163.5,492.8 L164.0,492.5 L164.5,492.5 L165.0,492.6 L165.5,492.5 L166.0,492.4 L166.5,492.7 L167.0,492.7 L167.5,492.6 L168.0,492.7 L168.5,492.8 L169.0,492.5 L169.5,492.7 L170.0,492.7 L170.5,492.8 L171.0,492.7 L171.5,492.8 L172.0,493.0 L172.5,493.2 L173.0,492.9 L173.5,493.3 L174.0,493.2 L174.5,493.3 L175.0,493.4 L175.5,493.2 L176.0,493.4 L176.5,493.1 L177.0,493.2 L177.5,493.4 L178.0,493.5 L178.5,493.2 L179.0,493.2 L179.5,493.5 L180.0,493.5 L180.5,493.6 L181.0,493.5 L181.5,493.3 L182.0,493.6 L182.5,493.6 L183.0,493.5 L183.5,493.8 L184.0,493.5 L184.5,493.7 L185.0,493.5 L185.5,493.2 L186.0,493.4 L186.5,493.2 L187.0,493.5 L187.5,493.6 L188.0,493.3 L188.5,493.6 L189.0,493.5 L189.5,493.6 L190.0,493.5 L190.5,493.4 L191.0,493.5 L191.5,493.5 L192.0,493.6 L192.5,493.7 L193.0,493.4 L193.5,493.6 L194.0,493.4 L194.5,493.4 L195.0,493.4 L195.5,493.3 L196.0,493.3 L196.5,493.3 L197.0,493.4 L197.5,493.2 L198.0,493.2 L198.5,493.4 L199.0,493.3 L199.5,493.3 L200.0,493.3 L200.5,493.3 L201.0,493.2 L201.5,493.3 L202.0,493.0 L202.5,493.2 L203.0,493.0 L203.5,492.9 L204.0,493.0 L204.5,493.1 L205.0,493.0 L205.5,493.2 L206.0,493.0 L206.5,493.0 L207.0,492.9 L207.5,492.7 L208.0,492.9 L208.5,492.9 L209.0,493.1 L209.5,492.7 L210.0,492.8 L210.5,492.7 L211.0,492.7 L211.5,492.5 L212.0,492.7 L212.5,492.6 L213.0,492.6 L213.5,492.8 L214.0,492.5 L214.5,492.5 L215.0,492.4 L215.5,492.5 L216.0,492.6 L216.5,492.5 L217.0,492.3 L217.5,492.1 L218.0,492.2 L218.5,491.9 L219.0,492.0 L219.5,492.0 L220.0,491.9 L220.5,492.0 L221.0,492.0 L221.5,491.9 L222.0,492.1 L222.5,491.9 L223.0,492.2" fill="none" stroke="#48b248" stroke-width="1.5" stroke-linejoin="round" clip-path="url(#clf1)"/>
<path d="M58.5,533.3 L59.0,533.6 L59.5,534.3 L60.0,534.5 L60.5,534.8 L61.0,535.4 L61.5,534.9 L62.0,535.6 L62.5,535.7 L63.0,534.5 L63.5,535.4 L64.0,534.0 L64.5,533.7 L65.0,533.5 L65.5,533.7 L66.0,533.9 L66.5,533.5 L67.0,534.0 L67.5,534.2 L68.0,533.8 L68.5,534.0 L69.0,534.2 L69.5,534.4 L70.0,534.0 L70.5,534.1 L71.0,533.9 L71.5,533.6 L72.0,533.4 L72.5,533.4 L73.0,533.3 L73.5,532.7 L74.0,532.8 L74.5,532.8 L75.0,532.7 L75.5,532.6 L76.0,532.7 L76.5,532.5 L77.0,531.7 L77.5,532.3 L78.0,531.6 L78.5,531.4 L79.0,531.8 L79.5,531.3 L80.0,530.8 L80.5,531.2 L81.0,531.0 L81.5,530.9 L82.0,530.2 L82.5,530.7 L83.0,530.2 L83.5,530.4 L84.0,529.7 L84.5,529.6 L85.0,529.2 L85.5,529.3 L86.0,529.5 L86.5,529.1 L87.0,528.6 L87.5,528.9 L88.0,528.4 L88.5,528.1 L89.0,527.6 L89.5,527.2 L90.0,526.8 L90.5,526.2 L91.0,525.6 L91.5,524.8 L92.0,524.1 L92.5,521.8 L93.0,519.8 L93.5,518.6 L94.0,516.7 L94.5,515.0 L95.0,512.8 L95.5,511.3 L96.0,509.1 L96.5,508.5 L97.0,507.6 L97.5,506.7 L98.0,505.9 L98.5,505.3 L99.0,505.1 L99.5,505.8 L100.0,506.6 L100.5,506.9 L101.0,507.5 L101.5,508.7 L102.0,510.2 L102.5,511.6 L103.0,512.1 L103.5,514.3 L104.0,516.0 L104.5,518.2 L105.0,519.0 L105.5,520.9 L106.0,522.1 L106.5,524.3 L107.0,525.5 L107.5,526.7 L108.0,527.7 L108.5,528.7 L109.0,529.8 L109.5,530.3 L110.0,530.7 L110.5,531.3 L111.0,531.2 L111.5,530.0 L112.0,528.9 L112.5,528.1 L113.0,526.3 L113.5,524.9 L114.0,524.1 L114.5,523.9 L115.0,522.9 L115.5,522.6 L116.0,522.2 L116.5,522.6 L117.0,522.6 L117.5,522.9 L118.0,522.5 L118.5,522.4 L119.0,522.3 L119.5,522.6 L120.0,522.2 L120.5,522.2 L121.0,522.5 L121.5,522.7 L122.0,522.9 L122.5,522.7 L123.0,523.5 L123.5,523.6 L124.0,523.0 L124.5,523.4 L125.0,523.2 L125.5,523.5 L126.0,523.4 L126.5,523.8 L127.0,524.3 L127.5,524.8 L128.0,524.9 L128.5,525.2 L129.0,525.8 L129.5,527.1 L130.0,527.2 L130.5,527.8 L131.0,528.6 L131.5,528.5 L132.0,529.4 L132.5,529.6 L133.0,530.3 L133.5,530.2 L134.0,530.7 L134.5,531.0 L135.0,531.1 L135.5,530.8 L136.0,531.3 L136.5,531.7 L137.0,531.6 L137.5,531.9 L138.0,532.0 L138.5,532.0 L139.0,532.0 L139.5,532.2 L140.0,532.1 L140.5,532.4 L141.0,532.3 L141.5,532.4 L142.0,532.6 L142.5,532.2 L143.0,532.1 L143.5,531.9 L144.0,532.1 L144.5,532.1 L145.0,531.7 L145.5,531.3 L146.0,531.3 L146.5,531.8 L147.0,531.6 L147.5,531.7 L148.0,531.2 L148.5,531.5 L149.0,531.4 L149.5,531.5 L150.0,531.7 L150.5,531.8 L151.0,532.4 L151.5,531.7 L152.0,532.0 L152.5,532.0 L153.0,532.2 L153.5,532.5 L154.0,532.2 L154.5,532.2 L155.0,532.7 L155.5,533.1 L156.0,532.9 L156.5,533.6 L157.0,533.3 L157.5,533.6 L158.0,533.8 L158.5,534.6 L159.0,534.5 L159.5,534.6 L160.0,534.4 L160.5,534.5 L161.0,534.5 L161.5,534.9 L162.0,534.7 L162.5,534.3 L163.0,534.0 L163.5,533.6 L164.0,533.8 L164.5,533.9 L165.0,533.8 L165.5,533.7 L166.0,533.3 L166.5,533.5 L167.0,533.2 L167.5,533.4 L168.0,533.1 L168.5,533.2 L169.0,533.0 L169.5,532.7 L170.0,533.1 L170.5,532.5 L171.0,532.8 L171.5,532.5 L172.0,532.4 L172.5,532.5 L173.0,532.3 L173.5,532.1 L174.0,532.0 L174.5,531.9 L175.0,532.1 L175.5,532.1 L176.0,531.9 L176.5,531.5 L177.0,531.8 L177.5,531.9 L178.0,531.3 L178.5,531.3 L179.0,531.8 L179.5,531.8 L180.0,532.4 L180.5,532.3 L181.0,532.2 L181.5,532.8 L182.0,533.1 L182.5,533.4 L183.0,533.4 L183.5,533.7 L184.0,534.5 L184.5,533.8 L185.0,534.3 L185.5,533.5 L186.0,533.8 L186.5,533.8 L187.0,533.8 L187.5,533.6 L188.0,533.3 L188.5,533.5 L189.0,533.0 L189.5,532.7 L190.0,532.9 L190.5,533.6 L191.0,533.5 L191.5,533.8 L192.0,533.5 L192.5,533.1 L193.0,533.2 L193.5,533.6 L194.0,533.4 L194.5,533.4 L195.0,533.5 L195.5,533.6 L196.0,533.4 L196.5,534.0 L197.0,533.8 L197.5,534.3 L198.0,534.5 L198.5,534.1 L199.0,534.5 L199.5,534.5 L200.0,534.4 L200.5,534.3 L201.0,534.8 L201.5,534.7 L202.0,534.5 L202.5,534.5 L203.0,534.7 L203.5,535.0 L204.0,535.0 L204.5,534.8 L205.0,535.0 L205.5,535.2 L206.0,535.2 L206.5,535.4 L207.0,535.3 L207.5,535.2 L208.0,535.1 L208.5,534.6 L209.0,534.1 L209.5,534.3 L210.0,533.3 L210.5,533.0 L211.0,532.5 L211.5,531.9 L212.0,531.8 L212.5,531.4 L213.0,530.7 L213.5,530.4 L214.0,530.6 L214.5,529.7 L215.0,530.0 L215.5,530.4 L216.0,530.4 L216.5,530.4 L217.0,530.6 L217.5,530.9 L218.0,531.0 L218.5,531.3 L219.0,531.8 L219.5,531.6 L220.0,531.6 L220.5,532.1 L221.0,532.1 L221.5,531.5 L222.0,531.5" fill="none" stroke="#9b4db0" stroke-width="1.5" stroke-linejoin="round" clip-path="url(#clf2)"/>
<path d="M58.5,528.7 L59.0,529.7 L59.5,530.5 L60.0,530.9 L60.5,531.7 L61.0,531.6 L61.5,532.1 L62.0,532.5 L62.5,533.0 L63.0,533.7 L63.5,532.9 L64.0,533.2 L64.5,533.0 L65.0,533.1 L65.5,532.4 L66.0,532.3 L66.5,532.9 L67.0,532.7 L67.5,532.6 L68.0,532.2 L68.5,532.4 L69.0,532.1 L69.5,531.7 L70.0,531.9 L70.5,531.8 L71.0,531.6 L71.5,531.8 L72.0,531.7 L72.5,532.0 L73.0,532.1 L73.5,532.2 L74.0,532.2 L74.5,531.6 L75.0,532.0 L75.5,532.0 L76.0,531.7 L76.5,531.2 L77.0,530.6 L77.5,531.2 L78.0,530.8 L78.5,531.1 L79.0,530.3 L79.5,530.7 L80.0,530.3 L80.5,529.9 L81.0,530.0 L81.5,529.9 L82.0,530.1 L82.5,529.9 L83.0,529.9 L83.5,529.6 L84.0,529.2 L84.5,529.0 L85.0,529.0 L85.5,528.8 L86.0,528.4 L86.5,528.1 L87.0,528.7 L87.5,528.4 L88.0,528.8 L88.5,527.8 L89.0,527.8 L89.5,527.2 L90.0,526.9 L90.5,525.7 L91.0,524.9 L91.5,523.7 L92.0,522.4 L92.5,520.7 L93.0,518.8 L93.5,517.0 L94.0,515.3 L94.5,513.3 L95.0,511.5 L95.5,509.8 L96.0,507.6 L96.5,507.0 L97.0,505.9 L97.5,503.9 L98.0,503.3 L98.5,502.9 L99.0,501.6 L99.5,503.0 L100.0,503.9 L100.5,504.5 L101.0,505.3 L101.5,506.5 L102.0,508.2 L102.5,509.6 L103.0,510.9 L103.5,512.7 L104.0,514.1 L104.5,516.0 L105.0,518.4 L105.5,519.8 L106.0,520.8 L106.5,522.1 L107.0,523.4 L107.5,525.3 L108.0,526.2 L108.5,527.7 L109.0,528.6 L109.5,529.9 L110.0,530.6 L110.5,530.7 L111.0,531.1 L111.5,530.4 L112.0,528.6 L112.5,527.9 L113.0,526.3 L113.5,525.5 L114.0,523.8 L114.5,522.6 L115.0,522.0 L115.5,519.9 L116.0,519.9 L116.5,519.3 L117.0,518.7 L117.5,518.6 L118.0,518.0 L118.5,518.0 L119.0,517.7 L119.5,517.6 L120.0,517.0 L120.5,517.3 L121.0,518.2 L121.5,518.1 L122.0,518.3 L122.5,518.4 L123.0,518.8 L123.5,519.3 L124.0,519.2 L124.5,519.7 L125.0,519.9 L125.5,519.7 L126.0,520.4 L126.5,520.9 L127.0,520.7 L127.5,521.0 L128.0,521.3 L128.5,521.3 L129.0,521.6 L129.5,522.5 L130.0,522.9 L130.5,523.3 L131.0,524.3 L131.5,524.5 L132.0,524.8 L132.5,525.2 L133.0,526.1 L133.5,526.2 L134.0,525.9 L134.5,526.8 L135.0,526.9 L135.5,527.2 L136.0,527.9 L136.5,528.2 L137.0,528.0 L137.5,528.3 L138.0,528.6 L138.5,528.5 L139.0,528.7 L139.5,528.5 L140.0,529.1 L140.5,529.3 L141.0,528.8 L141.5,528.7 L142.0,529.1 L142.5,529.5 L143.0,529.4 L143.5,529.5 L144.0,529.6 L144.5,529.3 L145.0,529.7 L145.5,529.7 L146.0,529.6 L146.5,529.9 L147.0,529.5 L147.5,529.4 L148.0,529.7 L148.5,529.6 L149.0,529.5 L149.5,529.4 L150.0,529.4 L150.5,529.4 L151.0,529.0 L151.5,529.4 L152.0,529.7 L152.5,529.2 L153.0,529.0 L153.5,529.3 L154.0,529.2 L154.5,529.0 L155.0,529.3 L155.5,529.2 L156.0,529.7 L156.5,529.3 L157.0,530.0 L157.5,529.6 L158.0,530.0 L158.5,529.9 L159.0,530.2 L159.5,530.5 L160.0,530.5 L160.5,530.1 L161.0,530.4 L161.5,530.6 L162.0,531.2 L162.5,530.5 L163.0,530.5 L163.5,530.3 L164.0,530.5 L164.5,530.6 L165.0,530.1 L165.5,530.7 L166.0,530.6 L166.5,530.4 L167.0,530.3 L167.5,530.7 L168.0,529.8 L168.5,529.9 L169.0,530.5 L169.5,529.6 L170.0,529.9 L170.5,529.7 L171.0,529.1 L171.5,528.7 L172.0,528.5 L172.5,528.2 L173.0,527.9 L173.5,527.5 L174.0,527.0 L174.5,526.5 L175.0,526.2 L175.5,525.3 L176.0,524.7 L176.5,524.7 L177.0,523.5 L177.5,524.4 L178.0,525.0 L178.5,524.8 L179.0,525.0 L179.5,525.8 L180.0,527.1 L180.5,527.8 L181.0,529.3 L181.5,530.2 L182.0,530.8 L182.5,531.8 L183.0,531.4 L183.5,531.8 L184.0,532.2 L184.5,532.6 L185.0,532.7 L185.5,533.0 L186.0,532.4 L186.5,533.8 L187.0,532.9 L187.5,533.3 L188.0,533.7 L188.5,533.5 L189.0,533.7 L189.5,533.1 L190.0,533.2 L190.5,533.4 L191.0,533.4 L191.5,533.6 L192.0,533.6 L192.5,533.4 L193.0,533.8 L193.5,533.4 L194.0,533.7 L194.5,534.0 L195.0,533.7 L195.5,534.0 L196.0,534.1 L196.5,534.3 L197.0,534.2 L197.5,534.0 L198.0,533.9 L198.5,533.4 L199.0,533.5 L199.5,533.4 L200.0,533.4 L200.5,533.5 L201.0,533.2 L201.5,533.3 L202.0,533.7 L202.5,533.2 L203.0,532.8 L203.5,533.2 L204.0,533.2 L204.5,533.0 L205.0,533.6 L205.5,533.2 L206.0,533.3 L206.5,532.7 L207.0,533.0 L207.5,532.8 L208.0,532.6 L208.5,532.4 L209.0,532.6 L209.5,531.5 L210.0,531.7 L210.5,531.7 L211.0,530.8 L211.5,529.4 L212.0,529.5 L212.5,528.7 L213.0,528.3 L213.5,527.8 L214.0,527.7 L214.5,527.7 L215.0,527.5 L215.5,528.1 L216.0,528.3 L216.5,529.0 L217.0,528.4 L217.5,529.0 L218.0,529.0 L218.5,529.5 L219.0,529.2 L219.5,529.6 L220.0,529.9 L220.5,529.8 L221.0,529.8 L221.5,530.0 L222.0,530.0" fill="none" stroke="#3a8dd0" stroke-width="1.5" stroke-linejoin="round" clip-path="url(#clf2)"/>
<path d="M58.5,529.1 L59.0,529.6 L59.5,530.0 L60.0,530.5 L60.5,530.2 L61.0,530.7 L61.5,531.3 L62.0,530.9 L62.5,531.5 L63.0,531.6 L63.5,532.2 L64.0,532.5 L64.5,532.4 L65.0,532.5 L65.5,532.1 L66.0,532.3 L66.5,532.2 L67.0,532.3 L67.5,532.6 L68.0,532.6 L68.5,532.2 L69.0,532.1 L69.5,531.9 L70.0,532.0 L70.5,531.8 L71.0,532.2 L71.5,531.5 L72.0,531.6 L72.5,531.4 L73.0,531.7 L73.5,531.9 L74.0,531.5 L74.5,531.3 L75.0,531.2 L75.5,531.3 L76.0,530.9 L76.5,531.4 L77.0,531.3 L77.5,531.0 L78.0,530.9 L78.5,530.5 L79.0,531.0 L79.5,530.1 L80.0,530.2 L80.5,530.8 L81.0,530.0 L81.5,529.8 L82.0,529.4 L82.5,530.0 L83.0,529.9 L83.5,529.5 L84.0,528.9 L84.5,529.1 L85.0,528.8 L85.5,529.0 L86.0,528.9 L86.5,528.4 L87.0,528.1 L87.5,528.1 L88.0,527.9 L88.5,526.9 L89.0,526.9 L89.5,526.2 L90.0,525.9 L90.5,526.2 L91.0,525.5 L91.5,525.5 L92.0,525.7 L92.5,525.8 L93.0,525.5 L93.5,526.1 L94.0,526.3 L94.5,526.4 L95.0,527.3 L95.5,527.2 L96.0,527.6 L96.5,528.2 L97.0,528.3 L97.5,528.3 L98.0,529.0 L98.5,529.7 L99.0,530.2 L99.5,530.9 L100.0,531.4 L100.5,531.5 L101.0,531.4 L101.5,531.6 L102.0,532.2 L102.5,531.4 L103.0,532.2 L103.5,531.9 L104.0,531.5 L104.5,531.6 L105.0,531.6 L105.5,531.0 L106.0,531.3 L106.5,531.2 L107.0,530.6 L107.5,530.7 L108.0,530.8 L108.5,529.7 L109.0,528.8 L109.5,527.9 L110.0,527.1 L110.5,525.3 L111.0,522.5 L111.5,519.6 L112.0,516.7 L112.5,514.3 L113.0,512.8 L113.5,511.4 L114.0,510.5 L114.5,508.8 L115.0,508.2 L115.5,507.6 L116.0,506.6 L116.5,506.2 L117.0,505.6 L117.5,505.9 L118.0,505.5 L118.5,505.1 L119.0,505.3 L119.5,505.1 L120.0,505.4 L120.5,505.7 L121.0,505.7 L121.5,506.4 L122.0,506.5 L122.5,506.2 L123.0,506.9 L123.5,507.6 L124.0,506.9 L124.5,508.0 L125.0,508.1 L125.5,508.5 L126.0,509.5 L126.5,510.0 L127.0,510.7 L127.5,511.9 L128.0,512.6 L128.5,512.9 L129.0,514.0 L129.5,514.9 L130.0,515.2 L130.5,516.1 L131.0,515.9 L131.5,516.5 L132.0,516.8 L132.5,516.6 L133.0,517.2 L133.5,517.4 L134.0,517.7 L134.5,517.8 L135.0,518.4 L135.5,518.4 L136.0,518.7 L136.5,518.7 L137.0,518.1 L137.5,518.4 L138.0,518.8 L138.5,519.0 L139.0,518.7 L139.5,518.9 L140.0,519.1 L140.5,519.3 L141.0,519.9 L141.5,519.7 L142.0,520.4 L142.5,520.4 L143.0,521.0 L143.5,521.0 L144.0,521.5 L144.5,522.1 L145.0,522.0 L145.5,522.6 L146.0,523.1 L146.5,523.4 L147.0,523.8 L147.5,524.3 L148.0,524.5 L148.5,525.3 L149.0,525.7 L149.5,526.4 L150.0,526.4 L150.5,526.9 L151.0,526.6 L151.5,526.9 L152.0,526.7 L152.5,527.1 L153.0,527.1 L153.5,527.5 L154.0,526.8 L154.5,527.2 L155.0,527.1 L155.5,527.3 L156.0,526.9 L156.5,526.9 L157.0,527.3 L157.5,526.8 L158.0,526.8 L158.5,527.1 L159.0,526.3 L159.5,526.9 L160.0,526.8 L160.5,526.7 L161.0,526.2 L161.5,526.2 L162.0,526.3 L162.5,526.4 L163.0,526.8 L163.5,526.6 L164.0,527.1 L164.5,526.7 L165.0,527.0 L165.5,526.7 L166.0,526.8 L166.5,527.1 L167.0,527.2 L167.5,526.9 L168.0,527.4 L168.5,527.1 L169.0,527.6 L169.5,526.9 L170.0,527.2 L170.5,527.5 L171.0,527.2 L171.5,527.0 L172.0,527.2 L172.5,527.2 L173.0,526.8 L173.5,527.0 L174.0,526.6 L174.5,526.5 L175.0,526.9 L175.5,526.5 L176.0,526.9 L176.5,527.6 L177.0,527.6 L177.5,528.1 L178.0,528.6 L178.5,529.1 L179.0,529.8 L179.5,529.9 L180.0,530.2 L180.5,530.4 L181.0,530.8 L181.5,530.9 L182.0,531.4 L182.5,530.8 L183.0,530.9 L183.5,531.0 L184.0,531.5 L184.5,531.8 L185.0,532.2 L185.5,531.5 L186.0,532.1 L186.5,532.0 L187.0,532.7 L187.5,532.4 L188.0,532.8 L188.5,532.4 L189.0,532.8 L189.5,532.6 L190.0,532.5 L190.5,532.9 L191.0,532.6 L191.5,532.2 L192.0,532.8 L192.5,532.6 L193.0,533.1 L193.5,533.4 L194.0,533.1 L194.5,533.2 L195.0,532.8 L195.5,533.0 L196.0,533.1 L196.5,533.8 L197.0,533.2 L197.5,533.5 L198.0,533.0 L198.5,533.4 L199.0,533.6 L199.5,533.6 L200.0,533.6 L200.5,533.8 L201.0,533.8 L201.5,533.5 L202.0,533.5 L202.5,534.0 L203.0,534.1 L203.5,533.6 L204.0,534.2 L204.5,533.6 L205.0,533.8 L205.5,534.0 L206.0,533.2 L206.5,533.5 L207.0,533.4 L207.5,533.0 L208.0,533.4 L208.5,532.9 L209.0,532.8 L209.5,532.6 L210.0,532.9 L210.5,532.8 L211.0,532.9 L211.5,532.4 L212.0,532.2 L212.5,532.7 L213.0,532.0 L213.5,532.2 L214.0,532.3 L214.5,532.0 L215.0,531.2 L215.5,531.3 L216.0,531.3 L216.5,531.5 L217.0,531.0 L217.5,531.3 L218.0,531.0 L218.5,530.9 L219.0,530.7 L219.5,530.4 L220.0,530.8 L220.5,530.4 L221.0,530.7 L221.5,530.0 L222.0,529.7" fill="none" stroke="#48b248" stroke-width="1.5" stroke-linejoin="round" clip-path="url(#clf2)"/>
<path d="M58.5,576.1 L59.0,575.7 L59.5,576.1 L60.0,576.1 L60.5,576.2 L61.0,576.2 L61.5,576.1 L62.0,576.1 L62.5,576.4 L63.0,576.3 L63.5,576.8 L64.0,576.5 L64.5,576.8 L65.0,576.5 L65.5,576.8 L66.0,576.5 L66.5,576.4 L67.0,576.6 L67.5,576.6 L68.0,577.1 L68.5,576.3 L69.0,576.5 L69.5,576.7 L70.0,576.6 L70.5,576.7 L71.0,576.8 L71.5,576.7 L72.0,576.6 L72.5,576.5 L73.0,576.8 L73.5,576.9 L74.0,576.9 L74.5,577.1 L75.0,576.8 L75.5,577.0 L76.0,576.8 L76.5,576.6 L77.0,577.1 L77.5,577.0 L78.0,577.2 L78.5,577.0 L79.0,576.8 L79.5,577.0 L80.0,577.1 L80.5,577.1 L81.0,577.2 L81.5,577.4 L82.0,577.4 L82.5,577.5 L83.0,577.4 L83.5,577.3 L84.0,577.3 L84.5,577.1 L85.0,577.7 L85.5,577.8 L86.0,577.4 L86.5,577.4 L87.0,577.4 L87.5,577.7 L88.0,577.6 L88.5,577.5 L89.0,577.6 L89.5,577.3 L90.0,577.6 L90.5,577.5 L91.0,577.6 L91.5,577.3 L92.0,577.3 L92.5,577.4 L93.0,577.9 L93.5,577.2 L94.0,577.7 L94.5,577.1 L95.0,577.2 L95.5,577.0 L96.0,577.5 L96.5,577.2 L97.0,577.2 L97.5,577.4 L98.0,577.5 L98.5,577.1 L99.0,577.2 L99.5,577.1 L100.0,577.4 L100.5,576.8 L101.0,577.7 L101.5,577.3 L102.0,576.9 L102.5,577.5 L103.0,577.3 L103.5,577.5 L104.0,577.5 L104.5,577.8 L105.0,577.3 L105.5,577.8 L106.0,578.1 L106.5,577.7 L107.0,578.2 L107.5,578.3 L108.0,578.2 L108.5,578.0 L109.0,578.5 L109.5,578.4 L110.0,578.8 L110.5,578.3 L111.0,578.2 L111.5,577.9 L112.0,577.5 L112.5,576.8 L113.0,576.4 L113.5,576.0 L114.0,575.3 L114.5,574.7 L115.0,574.1 L115.5,573.2 L116.0,572.7 L116.5,572.0 L117.0,571.5 L117.5,570.8 L118.0,570.2 L118.5,570.3 L119.0,570.0 L119.5,569.7 L120.0,569.2 L120.5,569.4 L121.0,569.1 L121.5,569.0 L122.0,568.7 L122.5,568.6 L123.0,568.5 L123.5,568.7 L124.0,568.6 L124.5,568.7 L125.0,568.7 L125.5,568.6 L126.0,568.9 L126.5,569.1 L127.0,569.3 L127.5,568.8 L128.0,569.8 L128.5,569.9 L129.0,570.0 L129.5,570.9 L130.0,570.8 L130.5,571.2 L131.0,571.4 L131.5,571.2 L132.0,572.2 L132.5,572.0 L133.0,572.7 L133.5,572.7 L134.0,572.8 L134.5,572.8 L135.0,573.4 L135.5,573.5 L136.0,574.0 L136.5,574.0 L137.0,574.6 L137.5,574.6 L138.0,574.8 L138.5,575.6 L139.0,575.6 L139.5,575.5 L140.0,576.0 L140.5,575.8 L141.0,576.2 L141.5,576.6 L142.0,576.7 L142.5,576.9 L143.0,577.4 L143.5,577.3 L144.0,577.5 L144.5,577.7 L145.0,577.8 L145.5,578.2 L146.0,578.2 L146.5,577.9 L147.0,578.5 L147.5,578.5 L148.0,578.3 L148.5,578.2 L149.0,578.5 L149.5,578.4 L150.0,578.7 L150.5,578.6 L151.0,578.9 L151.5,578.4 L152.0,578.7 L152.5,578.9 L153.0,578.8 L153.5,578.9 L154.0,578.8 L154.5,579.4 L155.0,579.1 L155.5,579.3 L156.0,579.0 L156.5,579.1 L157.0,579.2 L157.5,579.6 L158.0,579.5 L158.5,579.7 L159.0,579.6 L159.5,579.7 L160.0,579.3 L160.5,579.2 L161.0,579.6 L161.5,579.2 L162.0,579.4 L162.5,579.1 L163.0,579.0 L163.5,579.2 L164.0,579.0 L164.5,579.1 L165.0,579.3 L165.5,579.0 L166.0,579.2 L166.5,578.9 L167.0,579.0 L167.5,578.7 L168.0,579.2 L168.5,578.5 L169.0,578.9 L169.5,578.9 L170.0,578.3 L170.5,578.5 L171.0,578.5 L171.5,578.7 L172.0,578.7 L172.5,578.6 L173.0,578.8 L173.5,579.1 L174.0,578.4 L174.5,578.7 L175.0,578.6 L175.5,578.8 L176.0,578.1 L176.5,578.2 L177.0,578.3 L177.5,578.2 L178.0,578.5 L178.5,578.3 L179.0,578.0 L179.5,578.2 L180.0,577.9 L180.5,578.0 L181.0,578.0 L181.5,577.7 L182.0,578.0 L182.5,578.0 L183.0,577.6 L183.5,577.0 L184.0,577.5 L184.5,577.4 L185.0,576.8 L185.5,576.7 L186.0,576.6 L186.5,576.2 L187.0,576.1 L187.5,575.8 L188.0,575.3 L188.5,575.2 L189.0,575.2 L189.5,575.0 L190.0,575.4 L190.5,575.3 L191.0,575.3 L191.5,575.6 L192.0,575.5 L192.5,575.8 L193.0,576.1 L193.5,576.0 L194.0,576.1 L194.5,576.2 L195.0,577.0 L195.5,577.0 L196.0,577.1 L196.5,577.5 L197.0,577.6 L197.5,578.4 L198.0,578.5 L198.5,578.7 L199.0,578.6 L199.5,579.1 L200.0,578.4 L200.5,577.5 L201.0,577.5 L201.5,577.4 L202.0,577.3 L202.5,576.9 L203.0,577.1 L203.5,576.8 L204.0,576.6 L204.5,576.2 L205.0,575.8 L205.5,575.9 L206.0,575.7 L206.5,575.2 L207.0,575.2 L207.5,575.1 L208.0,574.7 L208.5,574.6 L209.0,574.6 L209.5,574.9 L210.0,574.8 L210.5,574.1 L211.0,574.3 L211.5,574.9 L212.0,574.4 L212.5,574.8 L213.0,574.6 L213.5,574.8 L214.0,574.5 L214.5,574.7 L215.0,574.8 L215.5,574.7 L216.0,574.7 L216.5,575.0 L217.0,574.7 L217.5,575.0 L218.0,574.6 L218.5,574.6 L219.0,574.8 L219.5,574.8 L220.0,574.9 L220.5,574.7 L221.0,574.7 L221.5,574.6 L222.0,574.4 L222.5,574.6 L223.0,574.9" fill="none" stroke="#1e7d1e" stroke-width="1.5" stroke-linejoin="round" clip-path="url(#clh1)"/>
<path d="M58.5,581.2 L59.0,581.3 L59.5,581.6 L60.0,581.2 L60.5,581.4 L61.0,581.3 L61.5,581.7 L62.0,581.2 L62.5,581.4 L63.0,581.3 L63.5,581.3 L64.0,581.2 L64.5,581.6 L65.0,581.2 L65.5,581.2 L66.0,581.1 L66.5,581.1 L67.0,581.3 L67.5,581.3 L68.0,581.7 L68.5,581.6 L69.0,581.7 L69.5,581.8 L70.0,581.7 L70.5,581.6 L71.0,581.7 L71.5,581.9 L72.0,581.8 L72.5,581.6 L73.0,582.1 L73.5,581.8 L74.0,581.9 L74.5,582.0 L75.0,581.5 L75.5,581.8 L76.0,581.6 L76.5,581.5 L77.0,581.1 L77.5,581.1 L78.0,581.2 L78.5,581.1 L79.0,581.4 L79.5,580.9 L80.0,580.9 L80.5,580.7 L81.0,580.4 L81.5,580.5 L82.0,580.4 L82.5,580.6 L83.0,580.4 L83.5,579.9 L84.0,579.7 L84.5,579.6 L85.0,579.4 L85.5,579.8 L86.0,579.2 L86.5,578.7 L87.0,578.2 L87.5,577.8 L88.0,577.5 L88.5,576.5 L89.0,576.4 L89.5,575.9 L90.0,575.6 L90.5,574.3 L91.0,574.1 L91.5,573.2 L92.0,572.6 L92.5,571.5 L93.0,570.8 L93.5,570.0 L94.0,569.3 L94.5,567.5 L95.0,566.3 L95.5,565.1 L96.0,563.6 L96.5,562.3 L97.0,560.9 L97.5,559.4 L98.0,557.7 L98.5,556.8 L99.0,555.2 L99.5,554.2 L100.0,553.1 L100.5,551.3 L101.0,550.7 L101.5,550.5 L102.0,550.8 L102.5,551.1 L103.0,551.8 L103.5,552.9 L104.0,553.9 L104.5,555.3 L105.0,556.9 L105.5,558.3 L106.0,560.0 L106.5,562.1 L107.0,564.0 L107.5,566.0 L108.0,567.8 L108.5,569.7 L109.0,572.0 L109.5,573.9 L110.0,575.6 L110.5,577.2 L111.0,578.8 L111.5,579.9 L112.0,580.8 L112.5,582.0 L113.0,582.8 L113.5,583.3 L114.0,583.4 L114.5,584.0 L115.0,583.6 L115.5,584.2 L116.0,583.9 L116.5,584.3 L117.0,584.0 L117.5,584.7 L118.0,584.6 L118.5,584.0 L119.0,584.5 L119.5,584.2 L120.0,584.3 L120.5,584.1 L121.0,584.1 L121.5,583.8 L122.0,584.0 L122.5,584.1 L123.0,583.8 L123.5,583.9 L124.0,584.1 L124.5,584.2 L125.0,584.0 L125.5,584.4 L126.0,584.1 L126.5,584.3 L127.0,584.5 L127.5,584.1 L128.0,584.5 L128.5,584.3 L129.0,584.2 L129.5,584.7 L130.0,584.7 L130.5,584.3 L131.0,584.6 L131.5,584.5 L132.0,584.3 L132.5,584.7 L133.0,584.2 L133.5,584.1 L134.0,584.2 L134.5,584.1 L135.0,584.0 L135.5,584.0 L136.0,583.8 L136.5,584.1 L137.0,583.7 L137.5,584.2 L138.0,584.1 L138.5,583.8 L139.0,583.8 L139.5,583.7 L140.0,583.8 L140.5,584.1 L141.0,583.8 L141.5,583.6 L142.0,584.0 L142.5,583.5 L143.0,583.5 L143.5,583.9 L144.0,583.6 L144.5,583.7 L145.0,583.5 L145.5,583.5 L146.0,583.5 L146.5,583.4 L147.0,583.7 L147.5,583.0 L148.0,582.7 L148.5,583.1 L149.0,582.8 L149.5,583.1 L150.0,582.8 L150.5,583.0 L151.0,583.1 L151.5,582.7 L152.0,582.6 L152.5,582.9 L153.0,582.5 L153.5,582.6 L154.0,582.5 L154.5,582.2 L155.0,582.6 L155.5,582.1 L156.0,582.5 L156.5,582.3 L157.0,582.0 L157.5,582.1 L158.0,582.3 L158.5,582.0 L159.0,582.4 L159.5,581.8 L160.0,582.1 L160.5,581.5 L161.0,581.6 L161.5,581.7 L162.0,581.1 L162.5,581.4 L163.0,581.0 L163.5,580.8 L164.0,580.8 L164.5,580.7 L165.0,580.6 L165.5,580.5 L166.0,580.4 L166.5,580.0 L167.0,580.7 L167.5,580.8 L168.0,580.4 L168.5,580.2 L169.0,580.0 L169.5,580.1 L170.0,580.1 L170.5,579.8 L171.0,579.8 L171.5,579.9 L172.0,579.8 L172.5,579.6 L173.0,579.6 L173.5,579.4 L174.0,579.4 L174.5,579.4 L175.0,579.2 L175.5,579.2 L176.0,579.3 L176.5,579.3 L177.0,578.6 L177.5,578.7 L178.0,579.1 L178.5,578.9 L179.0,578.8 L179.5,578.4 L180.0,578.6 L180.5,578.6 L181.0,578.4 L181.5,578.0 L182.0,577.9 L182.5,578.0 L183.0,577.8 L183.5,577.9 L184.0,577.0 L184.5,577.2 L185.0,577.4 L185.5,576.7 L186.0,576.7 L186.5,576.7 L187.0,576.0 L187.5,576.0 L188.0,576.2 L188.5,575.5 L189.0,575.3 L189.5,575.9 L190.0,575.7 L190.5,575.8 L191.0,576.0 L191.5,576.3 L192.0,576.1 L192.5,576.5 L193.0,576.7 L193.5,576.9 L194.0,577.6 L194.5,577.9 L195.0,578.3 L195.5,579.4 L196.0,578.9 L196.5,579.5 L197.0,580.0 L197.5,580.6 L198.0,581.1 L198.5,581.5 L199.0,582.2 L199.5,581.7 L200.0,581.4 L200.5,581.4 L201.0,581.1 L201.5,580.9 L202.0,581.0 L202.5,580.7 L203.0,580.7 L203.5,580.1 L204.0,580.3 L204.5,580.0 L205.0,579.7 L205.5,579.3 L206.0,579.4 L206.5,579.0 L207.0,579.1 L207.5,578.9 L208.0,578.7 L208.5,579.1 L209.0,578.7 L209.5,578.0 L210.0,578.4 L210.5,578.3 L211.0,578.2 L211.5,578.0 L212.0,578.2 L212.5,577.5 L213.0,577.8 L213.5,578.2 L214.0,578.2 L214.5,578.4 L215.0,578.2 L215.5,578.2 L216.0,578.4 L216.5,578.3 L217.0,577.9 L217.5,578.4 L218.0,577.9 L218.5,578.3 L219.0,578.1 L219.5,578.2 L220.0,578.2 L220.5,577.9 L221.0,578.2 L221.5,578.1 L222.0,578.2 L222.5,578.3 L223.0,578.2" fill="none" stroke="#ff6a10" stroke-width="1.5" stroke-linejoin="round" clip-path="url(#clh1)"/>
<path d="M58.5,577.8 L59.0,578.0 L59.5,578.0 L60.0,578.4 L60.5,578.1 L61.0,577.7 L61.5,577.7 L62.0,577.5 L62.5,576.9 L63.0,577.2 L63.5,577.0 L64.0,577.3 L64.5,577.3 L65.0,577.5 L65.5,577.5 L66.0,577.1 L66.5,577.7 L67.0,577.8 L67.5,577.9 L68.0,578.0 L68.5,577.9 L69.0,578.2 L69.5,578.1 L70.0,577.9 L70.5,577.9 L71.0,578.3 L71.5,578.1 L72.0,577.7 L72.5,577.8 L73.0,578.2 L73.5,578.0 L74.0,577.7 L74.5,578.1 L75.0,578.2 L75.5,578.2 L76.0,578.1 L76.5,578.1 L77.0,578.1 L77.5,578.2 L78.0,578.4 L78.5,578.9 L79.0,579.0 L79.5,578.5 L80.0,578.3 L80.5,578.6 L81.0,578.5 L81.5,578.5 L82.0,578.2 L82.5,578.4 L83.0,578.3 L83.5,578.4 L84.0,578.1 L84.5,578.3 L85.0,578.1 L85.5,578.1 L86.0,578.1 L86.5,578.0 L87.0,578.0 L87.5,577.9 L88.0,577.9 L88.5,577.8 L89.0,577.7 L89.5,577.6 L90.0,578.0 L90.5,577.7 L91.0,577.2 L91.5,577.0 L92.0,577.4 L92.5,577.0 L93.0,577.0 L93.5,577.0 L94.0,576.2 L94.5,576.3 L95.0,576.3 L95.5,576.4 L96.0,576.0 L96.5,576.0 L97.0,575.9 L97.5,575.9 L98.0,576.0 L98.5,575.9 L99.0,576.0 L99.5,576.1 L100.0,576.4 L100.5,576.6 L101.0,576.6 L101.5,576.7 L102.0,577.1 L102.5,577.2 L103.0,577.4 L103.5,577.4 L104.0,577.5 L104.5,577.9 L105.0,577.9 L105.5,578.4 L106.0,578.1 L106.5,578.6 L107.0,578.7 L107.5,578.7 L108.0,579.1 L108.5,579.2 L109.0,579.7 L109.5,580.1 L110.0,581.1 L110.5,580.8 L111.0,581.6 L111.5,581.8 L112.0,582.5 L112.5,582.8 L113.0,583.1 L113.5,584.0 L114.0,584.3 L114.5,584.1 L115.0,584.8 L115.5,585.2 L116.0,585.2 L116.5,585.6 L117.0,585.7 L117.5,585.6 L118.0,585.7 L118.5,585.9 L119.0,585.4 L119.5,585.6 L120.0,585.7 L120.5,584.6 L121.0,585.1 L121.5,585.3 L122.0,585.0 L122.5,584.9 L123.0,585.4 L123.5,585.4 L124.0,585.1 L124.5,585.6 L125.0,585.5 L125.5,585.6 L126.0,585.3 L126.5,585.6 L127.0,585.4 L127.5,585.2 L128.0,585.2 L128.5,585.5 L129.0,585.4 L129.5,584.7 L130.0,585.0 L130.5,584.8 L131.0,584.6 L131.5,584.7 L132.0,584.9 L132.5,584.6 L133.0,584.2 L133.5,584.4 L134.0,584.4 L134.5,584.5 L135.0,584.2 L135.5,584.2 L136.0,584.2 L136.5,584.2 L137.0,583.7 L137.5,584.3 L138.0,584.0 L138.5,583.9 L139.0,583.7 L139.5,583.9 L140.0,584.2 L140.5,583.6 L141.0,583.3 L141.5,583.7 L142.0,583.5 L142.5,583.4 L143.0,583.0 L143.5,583.3 L144.0,583.3 L144.5,582.2 L145.0,583.0 L145.5,583.1 L146.0,582.7 L146.5,582.4 L147.0,582.8 L147.5,583.1 L148.0,582.7 L148.5,583.0 L149.0,582.6 L149.5,582.4 L150.0,582.3 L150.5,582.6 L151.0,582.1 L151.5,582.2 L152.0,582.2 L152.5,582.3 L153.0,582.2 L153.5,581.8 L154.0,581.9 L154.5,582.4 L155.0,582.0 L155.5,582.0 L156.0,581.8 L156.5,581.9 L157.0,581.7 L157.5,582.0 L158.0,581.9 L158.5,581.7 L159.0,581.8 L159.5,581.5 L160.0,581.4 L160.5,581.6 L161.0,581.4 L161.5,581.2 L162.0,581.6 L162.5,581.2 L163.0,581.2 L163.5,581.4 L164.0,580.8 L164.5,580.9 L165.0,581.1 L165.5,580.8 L166.0,580.7 L166.5,580.8 L167.0,580.7 L167.5,580.6 L168.0,580.7 L168.5,580.6 L169.0,580.9 L169.5,580.6 L170.0,580.8 L170.5,580.5 L171.0,580.8 L171.5,580.4 L172.0,580.6 L172.5,580.4 L173.0,580.6 L173.5,580.1 L174.0,580.2 L174.5,580.3 L175.0,580.0 L175.5,580.5 L176.0,580.1 L176.5,580.2 L177.0,580.3 L177.5,580.1 L178.0,579.8 L178.5,579.7 L179.0,579.6 L179.5,579.7 L180.0,579.6 L180.5,579.5 L181.0,579.6 L181.5,579.0 L182.0,578.8 L182.5,579.0 L183.0,579.1 L183.5,578.4 L184.0,578.4 L184.5,578.3 L185.0,578.3 L185.5,578.0 L186.0,577.4 L186.5,577.3 L187.0,576.9 L187.5,576.7 L188.0,576.6 L188.5,575.7 L189.0,575.7 L189.5,575.6 L190.0,575.5 L190.5,575.8 L191.0,575.9 L191.5,576.3 L192.0,576.3 L192.5,576.2 L193.0,576.3 L193.5,576.7 L194.0,577.0 L194.5,577.2 L195.0,577.7 L195.5,577.9 L196.0,578.3 L196.5,578.7 L197.0,579.0 L197.5,579.3 L198.0,579.6 L198.5,579.6 L199.0,579.2 L199.5,579.6 L200.0,579.4 L200.5,579.2 L201.0,578.8 L201.5,578.3 L202.0,577.9 L202.5,577.7 L203.0,577.3 L203.5,577.4 L204.0,576.9 L204.5,577.1 L205.0,577.0 L205.5,576.7 L206.0,576.6 L206.5,576.5 L207.0,576.5 L207.5,576.3 L208.0,576.5 L208.5,575.8 L209.0,575.7 L209.5,575.5 L210.0,575.4 L210.5,575.5 L211.0,575.6 L211.5,575.5 L212.0,575.9 L212.5,575.3 L213.0,575.7 L213.5,575.7 L214.0,575.4 L214.5,575.4 L215.0,575.7 L215.5,575.9 L216.0,575.8 L216.5,575.7 L217.0,575.6 L217.5,575.6 L218.0,575.6 L218.5,575.8 L219.0,575.9 L219.5,575.8 L220.0,575.5 L220.5,575.8 L221.0,575.8 L221.5,575.2 L222.0,575.6 L222.5,575.3 L223.0,575.4" fill="none" stroke="#1a1a8a" stroke-width="1.5" stroke-linejoin="round" clip-path="url(#clh1)"/>
<path d="M58.5,620.2 L59.0,620.4 L59.5,620.9 L60.0,620.9 L60.5,621.1 L61.0,621.1 L61.5,621.6 L62.0,622.0 L62.5,621.5 L63.0,622.0 L63.5,621.9 L64.0,622.3 L64.5,622.7 L65.0,622.6 L65.5,622.5 L66.0,622.3 L66.5,623.1 L67.0,623.3 L67.5,622.3 L68.0,623.1 L68.5,623.0 L69.0,622.8 L69.5,623.7 L70.0,623.4 L70.5,623.9 L71.0,623.1 L71.5,623.2 L72.0,622.9 L72.5,623.3 L73.0,622.8 L73.5,623.2 L74.0,623.6 L74.5,623.4 L75.0,623.6 L75.5,623.4 L76.0,623.6 L76.5,623.4 L77.0,623.1 L77.5,623.6 L78.0,623.5 L78.5,623.3 L79.0,623.3 L79.5,624.0 L80.0,623.2 L80.5,623.5 L81.0,623.9 L81.5,624.0 L82.0,623.9 L82.5,623.4 L83.0,624.2 L83.5,623.9 L84.0,623.5 L84.5,624.3 L85.0,624.0 L85.5,623.3 L86.0,623.0 L86.5,623.6 L87.0,623.3 L87.5,623.5 L88.0,623.3 L88.5,622.9 L89.0,623.0 L89.5,622.8 L90.0,622.2 L90.5,622.6 L91.0,622.2 L91.5,621.9 L92.0,621.9 L92.5,621.4 L93.0,621.3 L93.5,621.3 L94.0,620.8 L94.5,621.4 L95.0,620.8 L95.5,620.8 L96.0,620.9 L96.5,620.5 L97.0,620.4 L97.5,619.2 L98.0,619.7 L98.5,618.8 L99.0,618.5 L99.5,618.5 L100.0,618.3 L100.5,618.0 L101.0,618.0 L101.5,618.1 L102.0,616.9 L102.5,616.8 L103.0,616.5 L103.5,616.7 L104.0,616.3 L104.5,616.1 L105.0,616.3 L105.5,615.1 L106.0,614.0 L106.5,613.9 L107.0,613.6 L107.5,613.3 L108.0,612.3 L108.5,612.0 L109.0,611.7 L109.5,611.4 L110.0,610.9 L110.5,609.9 L111.0,609.6 L111.5,608.6 L112.0,607.3 L112.5,605.0 L113.0,602.8 L113.5,601.2 L114.0,599.7 L114.5,602.2 L115.0,604.2 L115.5,608.1 L116.0,611.6 L116.5,614.3 L117.0,617.4 L117.5,618.2 L118.0,620.5 L118.5,620.3 L119.0,620.6 L119.5,620.0 L120.0,620.1 L120.5,619.5 L121.0,620.1 L121.5,619.3 L122.0,619.3 L122.5,618.4 L123.0,618.3 L123.5,617.5 L124.0,617.3 L124.5,617.0 L125.0,616.4 L125.5,616.7 L126.0,616.5 L126.5,616.3 L127.0,615.5 L127.5,615.4 L128.0,615.3 L128.5,615.1 L129.0,614.2 L129.5,614.1 L130.0,614.1 L130.5,614.0 L131.0,614.2 L131.5,614.1 L132.0,614.5 L132.5,615.0 L133.0,615.4 L133.5,614.8 L134.0,615.6 L134.5,615.7 L135.0,615.7 L135.5,616.3 L136.0,615.7 L136.5,615.0 L137.0,614.8 L137.5,614.9 L138.0,614.2 L138.5,614.8 L139.0,615.2 L139.5,614.9 L140.0,615.6 L140.5,615.9 L141.0,615.8 L141.5,615.7 L142.0,615.5 L142.5,615.1 L143.0,614.4 L143.5,614.5 L144.0,613.7 L144.5,613.5 L145.0,613.1 L145.5,613.3 L146.0,613.0 L146.5,614.1 L147.0,614.2 L147.5,614.4 L148.0,614.8 L148.5,613.9 L149.0,613.4 L149.5,613.1 L150.0,611.8 L150.5,612.4 L151.0,612.7 L151.5,613.0 L152.0,613.2 L152.5,613.3 L153.0,613.9 L153.5,614.6 L154.0,615.0 L154.5,615.7 L155.0,616.1 L155.5,616.8 L156.0,617.2 L156.5,617.0 L157.0,617.2 L157.5,617.2 L158.0,617.1 L158.5,617.3 L159.0,617.1 L159.5,616.9 L160.0,616.5 L160.5,616.2 L161.0,615.9 L161.5,615.7 L162.0,614.4 L162.5,615.0 L163.0,614.7 L163.5,615.5 L164.0,617.2 L164.5,618.2 L165.0,619.3 L165.5,619.3 L166.0,620.8 L166.5,621.3 L167.0,622.0 L167.5,621.7 L168.0,622.3 L168.5,623.0 L169.0,623.1 L169.5,624.2 L170.0,623.9 L170.5,624.1 L171.0,623.8 L171.5,624.3 L172.0,623.2 L172.5,623.4 L173.0,622.6 L173.5,621.8 L174.0,621.6 L174.5,621.3 L175.0,620.2 L175.5,619.7 L176.0,618.6 L176.5,617.5 L177.0,616.6 L177.5,615.6 L178.0,614.4 L178.5,615.0 L179.0,615.4 L179.5,615.4 L180.0,615.2 L180.5,616.7 L181.0,616.8 L181.5,617.7 L182.0,617.8 L182.5,618.7 L183.0,619.0 L183.5,619.7 L184.0,620.5 L184.5,621.4 L185.0,621.5 L185.5,622.2 L186.0,622.1 L186.5,621.7 L187.0,621.0 L187.5,621.7 L188.0,621.3 L188.5,621.2 L189.0,620.1 L189.5,619.6 L190.0,619.4 L190.5,618.3 L191.0,618.7 L191.5,618.7 L192.0,617.9 L192.5,618.2 L193.0,618.5 L193.5,618.8 L194.0,619.6 L194.5,619.7 L195.0,619.4 L195.5,620.0 L196.0,619.9 L196.5,619.8 L197.0,619.5 L197.5,620.3 L198.0,620.3 L198.5,619.3 L199.0,618.4 L199.5,617.7 L200.0,617.2 L200.5,617.0 L201.0,615.5 L201.5,615.7 L202.0,614.5 L202.5,615.2 L203.0,615.8 L203.5,616.7 L204.0,616.7 L204.5,617.0 L205.0,617.6 L205.5,619.0 L206.0,620.4 L206.5,621.9 L207.0,623.0 L207.5,624.5 L208.0,625.0 L208.5,626.8 L209.0,627.5 L209.5,628.4 L210.0,630.0 L210.5,629.4 L211.0,628.7 L211.5,627.7 L212.0,627.2 L212.5,627.5 L213.0,627.8 L213.5,627.0 L214.0,626.7 L214.5,626.6 L215.0,625.9 L215.5,626.2 L216.0,625.3 L216.5,625.1 L217.0,624.5 L217.5,624.0 L218.0,623.8 L218.5,622.8 L219.0,622.1 L219.5,621.7 L220.0,620.5 L220.5,620.6 L221.0,621.2 L221.5,621.3 L222.0,622.1 L222.5,622.0 L223.0,621.7" fill="none" stroke="#1e7d1e" stroke-width="1.5" stroke-linejoin="round" clip-path="url(#clh2)"/>
<path d="M58.5,621.9 L59.0,622.0 L59.5,621.8 L60.0,621.8 L60.5,622.2 L61.0,622.1 L61.5,622.4 L62.0,622.7 L62.5,622.6 L63.0,622.9 L63.5,623.4 L64.0,622.9 L64.5,623.6 L65.0,623.1 L65.5,623.0 L66.0,623.4 L66.5,623.3 L67.0,622.9 L67.5,623.7 L68.0,623.6 L68.5,623.0 L69.0,623.2 L69.5,623.3 L70.0,622.9 L70.5,623.4 L71.0,622.8 L71.5,622.7 L72.0,623.6 L72.5,623.0 L73.0,622.9 L73.5,623.0 L74.0,622.8 L74.5,623.7 L75.0,623.1 L75.5,623.3 L76.0,623.4 L76.5,623.8 L77.0,622.5 L77.5,623.5 L78.0,623.4 L78.5,623.5 L79.0,624.0 L79.5,624.0 L80.0,623.5 L80.5,624.0 L81.0,623.7 L81.5,624.0 L82.0,622.9 L82.5,623.6 L83.0,623.3 L83.5,623.2 L84.0,622.9 L84.5,621.9 L85.0,622.5 L85.5,622.0 L86.0,621.6 L86.5,621.7 L87.0,621.1 L87.5,621.2 L88.0,620.7 L88.5,619.5 L89.0,619.5 L89.5,618.7 L90.0,618.2 L90.5,617.6 L91.0,617.4 L91.5,616.3 L92.0,616.1 L92.5,614.8 L93.0,614.6 L93.5,613.5 L94.0,612.7 L94.5,612.0 L95.0,610.6 L95.5,610.2 L96.0,608.5 L96.5,608.3 L97.0,607.2 L97.5,606.1 L98.0,605.3 L98.5,604.6 L99.0,604.7 L99.5,603.7 L100.0,602.8 L100.5,603.3 L101.0,603.3 L101.5,603.5 L102.0,603.5 L102.5,604.1 L103.0,605.0 L103.5,605.3 L104.0,606.1 L104.5,606.7 L105.0,607.7 L105.5,608.5 L106.0,609.9 L106.5,610.9 L107.0,611.3 L107.5,612.5 L108.0,612.7 L108.5,613.5 L109.0,614.8 L109.5,614.8 L110.0,616.8 L110.5,615.2 L111.0,614.3 L111.5,614.9 L112.0,615.6 L112.5,615.0 L113.0,614.3 L113.5,613.4 L114.0,611.4 L114.5,612.9 L115.0,615.1 L115.5,616.5 L116.0,618.9 L116.5,621.0 L117.0,622.7 L117.5,622.5 L118.0,623.3 L118.5,623.6 L119.0,623.7 L119.5,623.5 L120.0,623.1 L120.5,622.5 L121.0,622.8 L121.5,622.0 L122.0,621.6 L122.5,621.6 L123.0,621.9 L123.5,621.3 L124.0,621.9 L124.5,621.4 L125.0,622.0 L125.5,621.5 L126.0,622.3 L126.5,622.7 L127.0,622.7 L127.5,622.9 L128.0,623.1 L128.5,622.8 L129.0,622.7 L129.5,622.7 L130.0,622.6 L130.5,621.8 L131.0,621.7 L131.5,621.2 L132.0,621.4 L132.5,621.5 L133.0,620.8 L133.5,620.7 L134.0,620.3 L134.5,620.4 L135.0,619.9 L135.5,619.4 L136.0,620.0 L136.5,620.7 L137.0,620.5 L137.5,620.7 L138.0,621.3 L138.5,622.0 L139.0,621.7 L139.5,622.4 L140.0,622.6 L140.5,621.7 L141.0,622.2 L141.5,622.3 L142.0,622.2 L142.5,621.9 L143.0,621.4 L143.5,621.5 L144.0,621.2 L144.5,620.9 L145.0,621.0 L145.5,620.5 L146.0,621.0 L146.5,620.9 L147.0,621.7 L147.5,621.2 L148.0,621.9 L148.5,620.6 L149.0,620.4 L149.5,620.7 L150.0,620.4 L150.5,620.7 L151.0,620.4 L151.5,620.3 L152.0,619.7 L152.5,619.7 L153.0,619.9 L153.5,619.7 L154.0,620.0 L154.5,620.6 L155.0,620.4 L155.5,620.6 L156.0,621.0 L156.5,620.9 L157.0,620.5 L157.5,621.0 L158.0,621.1 L158.5,620.7 L159.0,620.7 L159.5,619.8 L160.0,619.0 L160.5,618.4 L161.0,618.5 L161.5,617.9 L162.0,617.9 L162.5,617.2 L163.0,617.0 L163.5,617.0 L164.0,617.8 L164.5,618.4 L165.0,618.7 L165.5,619.8 L166.0,620.3 L166.5,621.0 L167.0,621.6 L167.5,622.3 L168.0,622.3 L168.5,623.5 L169.0,623.9 L169.5,624.4 L170.0,625.1 L170.5,624.7 L171.0,624.4 L171.5,624.8 L172.0,624.1 L172.5,624.2 L173.0,623.4 L173.5,623.3 L174.0,622.8 L174.5,622.4 L175.0,621.8 L175.5,621.3 L176.0,620.3 L176.5,619.2 L177.0,618.3 L177.5,616.9 L178.0,615.9 L178.5,615.9 L179.0,615.1 L179.5,615.0 L180.0,615.4 L180.5,615.7 L181.0,616.7 L181.5,617.0 L182.0,617.4 L182.5,618.5 L183.0,618.8 L183.5,619.6 L184.0,619.8 L184.5,620.3 L185.0,621.0 L185.5,620.8 L186.0,620.8 L186.5,620.5 L187.0,620.7 L187.5,620.8 L188.0,620.5 L188.5,620.2 L189.0,621.1 L189.5,620.4 L190.0,621.2 L190.5,621.0 L191.0,621.1 L191.5,620.6 L192.0,620.5 L192.5,620.9 L193.0,620.7 L193.5,620.0 L194.0,620.1 L194.5,619.8 L195.0,619.1 L195.5,620.1 L196.0,619.4 L196.5,619.1 L197.0,618.7 L197.5,617.8 L198.0,617.9 L198.5,617.0 L199.0,616.3 L199.5,616.6 L200.0,616.4 L200.5,616.0 L201.0,616.0 L201.5,617.2 L202.0,617.7 L202.5,618.2 L203.0,618.8 L203.5,620.0 L204.0,619.9 L204.5,620.0 L205.0,621.5 L205.5,621.7 L206.0,621.9 L206.5,622.9 L207.0,623.6 L207.5,623.9 L208.0,624.9 L208.5,625.5 L209.0,626.7 L209.5,625.6 L210.0,624.9 L210.5,624.5 L211.0,624.1 L211.5,623.9 L212.0,623.7 L212.5,622.3 L213.0,622.1 L213.5,622.2 L214.0,622.4 L214.5,621.4 L215.0,621.7 L215.5,620.9 L216.0,620.7 L216.5,620.6 L217.0,620.8 L217.5,619.9 L218.0,619.7 L218.5,619.4 L219.0,619.2 L219.5,618.6 L220.0,618.5 L220.5,618.7 L221.0,618.4 L221.5,618.1 L222.0,618.2 L222.5,618.3 L223.0,618.1" fill="none" stroke="#ff6a10" stroke-width="1.5" stroke-linejoin="round" clip-path="url(#clh2)"/>
<path d="M58.5,615.6 L59.0,615.6 L59.5,615.6 L60.0,615.1 L60.5,616.7 L61.0,616.3 L61.5,616.0 L62.0,616.1 L62.5,616.9 L63.0,616.3 L63.5,616.5 L64.0,617.3 L64.5,617.1 L65.0,617.5 L65.5,617.4 L66.0,617.5 L66.5,617.4 L67.0,617.9 L67.5,617.9 L68.0,618.0 L68.5,618.0 L69.0,618.6 L69.5,618.1 L70.0,618.2 L70.5,617.5 L71.0,617.2 L71.5,617.8 L72.0,617.3 L72.5,617.4 L73.0,617.9 L73.5,618.3 L74.0,617.9 L74.5,618.0 L75.0,618.3 L75.5,618.4 L76.0,618.2 L76.5,617.7 L77.0,618.4 L77.5,618.0 L78.0,618.8 L78.5,618.2 L79.0,618.6 L79.5,618.7 L80.0,619.0 L80.5,619.9 L81.0,619.3 L81.5,620.0 L82.0,619.9 L82.5,620.1 L83.0,620.6 L83.5,620.7 L84.0,620.7 L84.5,620.7 L85.0,621.3 L85.5,622.4 L86.0,621.5 L86.5,621.9 L87.0,621.8 L87.5,623.2 L88.0,622.0 L88.5,622.5 L89.0,622.3 L89.5,623.3 L90.0,623.4 L90.5,623.7 L91.0,623.8 L91.5,624.5 L92.0,624.7 L92.5,624.8 L93.0,623.9 L93.5,624.6 L94.0,625.0 L94.5,625.3 L95.0,624.4 L95.5,625.8 L96.0,625.5 L96.5,625.8 L97.0,625.0 L97.5,625.0 L98.0,624.9 L98.5,625.0 L99.0,624.9 L99.5,624.5 L100.0,625.3 L100.5,624.9 L101.0,624.4 L101.5,623.9 L102.0,624.8 L102.5,623.7 L103.0,623.9 L103.5,623.8 L104.0,623.9 L104.5,624.2 L105.0,624.3 L105.5,624.0 L106.0,623.4 L106.5,624.0 L107.0,623.9 L107.5,623.7 L108.0,624.0 L108.5,622.9 L109.0,622.8 L109.5,622.7 L110.0,622.6 L110.5,622.8 L111.0,622.6 L111.5,622.1 L112.0,622.4 L112.5,621.7 L113.0,621.3 L113.5,621.8 L114.0,622.1 L114.5,623.4 L115.0,624.1 L115.5,625.2 L116.0,626.3 L116.5,627.0 L117.0,627.5 L117.5,628.9 L118.0,628.7 L118.5,629.3 L119.0,629.1 L119.5,629.2 L120.0,629.0 L120.5,629.0 L121.0,629.5 L121.5,628.9 L122.0,629.5 L122.5,629.1 L123.0,629.1 L123.5,629.7 L124.0,629.6 L124.5,630.6 L125.0,629.6 L125.5,630.4 L126.0,630.5 L126.5,630.4 L127.0,630.0 L127.5,629.5 L128.0,630.0 L128.5,629.6 L129.0,629.2 L129.5,628.8 L130.0,628.7 L130.5,628.4 L131.0,628.0 L131.5,627.4 L132.0,627.7 L132.5,626.9 L133.0,627.0 L133.5,626.5 L134.0,626.7 L134.5,626.8 L135.0,626.4 L135.5,626.9 L136.0,626.6 L136.5,627.4 L137.0,627.0 L137.5,628.0 L138.0,627.5 L138.5,627.2 L139.0,626.8 L139.5,627.0 L140.0,627.6 L140.5,626.6 L141.0,626.4 L141.5,626.9 L142.0,627.1 L142.5,626.5 L143.0,626.3 L143.5,626.4 L144.0,626.3 L144.5,626.6 L145.0,626.8 L145.5,626.1 L146.0,625.8 L146.5,625.6 L147.0,625.4 L147.5,625.8 L148.0,625.2 L148.5,625.9 L149.0,625.5 L149.5,625.3 L150.0,625.8 L150.5,624.9 L151.0,625.8 L151.5,625.6 L152.0,625.6 L152.5,625.6 L153.0,625.3 L153.5,625.9 L154.0,626.1 L154.5,625.1 L155.0,625.8 L155.5,625.7 L156.0,625.5 L156.5,625.7 L157.0,625.4 L157.5,625.3 L158.0,625.7 L158.5,624.9 L159.0,625.0 L159.5,624.9 L160.0,624.8 L160.5,624.9 L161.0,625.5 L161.5,624.9 L162.0,625.9 L162.5,624.7 L163.0,624.5 L163.5,625.1 L164.0,624.9 L164.5,625.7 L165.0,625.5 L165.5,624.8 L166.0,624.9 L166.5,624.6 L167.0,625.3 L167.5,624.3 L168.0,624.1 L168.5,624.7 L169.0,625.2 L169.5,625.6 L170.0,625.9 L170.5,626.3 L171.0,626.5 L171.5,626.1 L172.0,626.7 L172.5,626.4 L173.0,626.4 L173.5,626.5 L174.0,626.3 L174.5,626.0 L175.0,625.2 L175.5,624.9 L176.0,625.0 L176.5,625.1 L177.0,625.1 L177.5,625.2 L178.0,624.9 L178.5,625.2 L179.0,624.6 L179.5,624.9 L180.0,624.9 L180.5,624.7 L181.0,624.6 L181.5,624.0 L182.0,624.5 L182.5,624.0 L183.0,623.9 L183.5,623.7 L184.0,624.2 L184.5,624.1 L185.0,624.0 L185.5,624.5 L186.0,624.2 L186.5,624.4 L187.0,624.2 L187.5,624.1 L188.0,623.9 L188.5,623.3 L189.0,623.6 L189.5,623.5 L190.0,623.9 L190.5,623.8 L191.0,623.4 L191.5,623.4 L192.0,622.2 L192.5,622.7 L193.0,622.5 L193.5,622.9 L194.0,622.8 L194.5,622.7 L195.0,622.7 L195.5,622.5 L196.0,622.3 L196.5,622.0 L197.0,622.3 L197.5,622.0 L198.0,622.2 L198.5,621.7 L199.0,621.6 L199.5,621.4 L200.0,621.7 L200.5,620.8 L201.0,619.9 L201.5,620.0 L202.0,619.6 L202.5,619.3 L203.0,618.8 L203.5,619.0 L204.0,618.5 L204.5,618.5 L205.0,618.4 L205.5,618.0 L206.0,617.8 L206.5,617.7 L207.0,618.4 L207.5,618.6 L208.0,619.2 L208.5,619.1 L209.0,619.9 L209.5,619.9 L210.0,620.6 L210.5,620.9 L211.0,621.0 L211.5,620.6 L212.0,621.3 L212.5,620.5 L213.0,621.2 L213.5,620.7 L214.0,621.1 L214.5,620.7 L215.0,621.1 L215.5,620.6 L216.0,620.9 L216.5,620.9 L217.0,620.2 L217.5,620.0 L218.0,619.5 L218.5,619.0 L219.0,618.7 L219.5,618.1 L220.0,618.0 L220.5,617.8 L221.0,616.9 L221.5,616.5 L222.0,615.5 L222.5,615.9 L223.0,615.0" fill="none" stroke="#1a1a8a" stroke-width="1.5" stroke-linejoin="round" clip-path="url(#clh2)"/>
<line x1="117.50" y1="225.50" x2="117.50" y2="632.70" stroke="#111" stroke-width="0.9" stroke-dasharray="1.8,1.2"/>
<line x1="207.70" y1="225.50" x2="207.70" y2="632.70" stroke="#666" stroke-width="1.1" stroke-dasharray="3.8,2.4"/>
<rect x="57.70" y="225.50" width="169.50" height="38.50" fill="none" stroke="#222" stroke-width="1.0"/>
<line x1="60.50" y1="264.00" x2="60.50" y2="266.50" stroke="#222" stroke-width="0.9"/>
<line x1="78.40" y1="264.00" x2="78.40" y2="266.50" stroke="#222" stroke-width="0.9"/>
<line x1="96.30" y1="264.00" x2="96.30" y2="266.50" stroke="#222" stroke-width="0.9"/>
<line x1="114.20" y1="264.00" x2="114.20" y2="266.50" stroke="#222" stroke-width="0.9"/>
<line x1="132.10" y1="264.00" x2="132.10" y2="266.50" stroke="#222" stroke-width="0.9"/>
<line x1="150.00" y1="264.00" x2="150.00" y2="266.50" stroke="#222" stroke-width="0.9"/>
<line x1="167.90" y1="264.00" x2="167.90" y2="266.50" stroke="#222" stroke-width="0.9"/>
<line x1="185.80" y1="264.00" x2="185.80" y2="266.50" stroke="#222" stroke-width="0.9"/>
<line x1="203.70" y1="264.00" x2="203.70" y2="266.50" stroke="#222" stroke-width="0.9"/>
<line x1="221.60" y1="264.00" x2="221.60" y2="266.50" stroke="#222" stroke-width="0.9"/>
<rect x="57.70" y="268.50" width="169.50" height="39.20" fill="none" stroke="#222" stroke-width="1.0"/>
<line x1="60.50" y1="307.70" x2="60.50" y2="310.20" stroke="#222" stroke-width="0.9"/>
<line x1="78.40" y1="307.70" x2="78.40" y2="310.20" stroke="#222" stroke-width="0.9"/>
<line x1="96.30" y1="307.70" x2="96.30" y2="310.20" stroke="#222" stroke-width="0.9"/>
<line x1="114.20" y1="307.70" x2="114.20" y2="310.20" stroke="#222" stroke-width="0.9"/>
<line x1="132.10" y1="307.70" x2="132.10" y2="310.20" stroke="#222" stroke-width="0.9"/>
<line x1="150.00" y1="307.70" x2="150.00" y2="310.20" stroke="#222" stroke-width="0.9"/>
<line x1="167.90" y1="307.70" x2="167.90" y2="310.20" stroke="#222" stroke-width="0.9"/>
<line x1="185.80" y1="307.70" x2="185.80" y2="310.20" stroke="#222" stroke-width="0.9"/>
<line x1="203.70" y1="307.70" x2="203.70" y2="310.20" stroke="#222" stroke-width="0.9"/>
<line x1="221.60" y1="307.70" x2="221.60" y2="310.20" stroke="#222" stroke-width="0.9"/>
<rect x="57.70" y="312.60" width="169.50" height="40.10" fill="none" stroke="#222" stroke-width="1.0"/>
<line x1="60.50" y1="352.70" x2="60.50" y2="355.20" stroke="#222" stroke-width="0.9"/>
<line x1="78.40" y1="352.70" x2="78.40" y2="355.20" stroke="#222" stroke-width="0.9"/>
<line x1="96.30" y1="352.70" x2="96.30" y2="355.20" stroke="#222" stroke-width="0.9"/>
<line x1="114.20" y1="352.70" x2="114.20" y2="355.20" stroke="#222" stroke-width="0.9"/>
<line x1="132.10" y1="352.70" x2="132.10" y2="355.20" stroke="#222" stroke-width="0.9"/>
<line x1="150.00" y1="352.70" x2="150.00" y2="355.20" stroke="#222" stroke-width="0.9"/>
<line x1="167.90" y1="352.70" x2="167.90" y2="355.20" stroke="#222" stroke-width="0.9"/>
<line x1="185.80" y1="352.70" x2="185.80" y2="355.20" stroke="#222" stroke-width="0.9"/>
<line x1="203.70" y1="352.70" x2="203.70" y2="355.20" stroke="#222" stroke-width="0.9"/>
<line x1="221.60" y1="352.70" x2="221.60" y2="355.20" stroke="#222" stroke-width="0.9"/>
<rect x="57.70" y="363.30" width="169.50" height="39.80" fill="none" stroke="#222" stroke-width="1.0"/>
<line x1="60.50" y1="403.10" x2="60.50" y2="405.60" stroke="#222" stroke-width="0.9"/>
<line x1="78.40" y1="403.10" x2="78.40" y2="405.60" stroke="#222" stroke-width="0.9"/>
<line x1="96.30" y1="403.10" x2="96.30" y2="405.60" stroke="#222" stroke-width="0.9"/>
<line x1="114.20" y1="403.10" x2="114.20" y2="405.60" stroke="#222" stroke-width="0.9"/>
<line x1="132.10" y1="403.10" x2="132.10" y2="405.60" stroke="#222" stroke-width="0.9"/>
<line x1="150.00" y1="403.10" x2="150.00" y2="405.60" stroke="#222" stroke-width="0.9"/>
<line x1="167.90" y1="403.10" x2="167.90" y2="405.60" stroke="#222" stroke-width="0.9"/>
<line x1="185.80" y1="403.10" x2="185.80" y2="405.60" stroke="#222" stroke-width="0.9"/>
<line x1="203.70" y1="403.10" x2="203.70" y2="405.60" stroke="#222" stroke-width="0.9"/>
<line x1="221.60" y1="403.10" x2="221.60" y2="405.60" stroke="#222" stroke-width="0.9"/>
<rect x="57.70" y="407.30" width="169.50" height="39.10" fill="none" stroke="#222" stroke-width="1.0"/>
<line x1="60.50" y1="446.40" x2="60.50" y2="448.90" stroke="#222" stroke-width="0.9"/>
<line x1="78.40" y1="446.40" x2="78.40" y2="448.90" stroke="#222" stroke-width="0.9"/>
<line x1="96.30" y1="446.40" x2="96.30" y2="448.90" stroke="#222" stroke-width="0.9"/>
<line x1="114.20" y1="446.40" x2="114.20" y2="448.90" stroke="#222" stroke-width="0.9"/>
<line x1="132.10" y1="446.40" x2="132.10" y2="448.90" stroke="#222" stroke-width="0.9"/>
<line x1="150.00" y1="446.40" x2="150.00" y2="448.90" stroke="#222" stroke-width="0.9"/>
<line x1="167.90" y1="446.40" x2="167.90" y2="448.90" stroke="#222" stroke-width="0.9"/>
<line x1="185.80" y1="446.40" x2="185.80" y2="448.90" stroke="#222" stroke-width="0.9"/>
<line x1="203.70" y1="446.40" x2="203.70" y2="448.90" stroke="#222" stroke-width="0.9"/>
<line x1="221.60" y1="446.40" x2="221.60" y2="448.90" stroke="#222" stroke-width="0.9"/>
<rect x="57.70" y="456.50" width="169.50" height="39.60" fill="none" stroke="#222" stroke-width="1.0"/>
<line x1="60.50" y1="496.10" x2="60.50" y2="498.60" stroke="#222" stroke-width="0.9"/>
<line x1="78.40" y1="496.10" x2="78.40" y2="498.60" stroke="#222" stroke-width="0.9"/>
<line x1="96.30" y1="496.10" x2="96.30" y2="498.60" stroke="#222" stroke-width="0.9"/>
<line x1="114.20" y1="496.10" x2="114.20" y2="498.60" stroke="#222" stroke-width="0.9"/>
<line x1="132.10" y1="496.10" x2="132.10" y2="498.60" stroke="#222" stroke-width="0.9"/>
<line x1="150.00" y1="496.10" x2="150.00" y2="498.60" stroke="#222" stroke-width="0.9"/>
<line x1="167.90" y1="496.10" x2="167.90" y2="498.60" stroke="#222" stroke-width="0.9"/>
<line x1="185.80" y1="496.10" x2="185.80" y2="498.60" stroke="#222" stroke-width="0.9"/>
<line x1="203.70" y1="496.10" x2="203.70" y2="498.60" stroke="#222" stroke-width="0.9"/>
<line x1="221.60" y1="496.10" x2="221.60" y2="498.60" stroke="#222" stroke-width="0.9"/>
<rect x="57.70" y="500.70" width="169.50" height="39.90" fill="none" stroke="#222" stroke-width="1.0"/>
<line x1="60.50" y1="540.60" x2="60.50" y2="543.10" stroke="#222" stroke-width="0.9"/>
<line x1="78.40" y1="540.60" x2="78.40" y2="543.10" stroke="#222" stroke-width="0.9"/>
<line x1="96.30" y1="540.60" x2="96.30" y2="543.10" stroke="#222" stroke-width="0.9"/>
<line x1="114.20" y1="540.60" x2="114.20" y2="543.10" stroke="#222" stroke-width="0.9"/>
<line x1="132.10" y1="540.60" x2="132.10" y2="543.10" stroke="#222" stroke-width="0.9"/>
<line x1="150.00" y1="540.60" x2="150.00" y2="543.10" stroke="#222" stroke-width="0.9"/>
<line x1="167.90" y1="540.60" x2="167.90" y2="543.10" stroke="#222" stroke-width="0.9"/>
<line x1="185.80" y1="540.60" x2="185.80" y2="543.10" stroke="#222" stroke-width="0.9"/>
<line x1="203.70" y1="540.60" x2="203.70" y2="543.10" stroke="#222" stroke-width="0.9"/>
<line x1="221.60" y1="540.60" x2="221.60" y2="543.10" stroke="#222" stroke-width="0.9"/>
<rect x="57.70" y="548.60" width="169.50" height="39.40" fill="none" stroke="#222" stroke-width="1.0"/>
<line x1="60.50" y1="588.00" x2="60.50" y2="590.50" stroke="#222" stroke-width="0.9"/>
<line x1="78.40" y1="588.00" x2="78.40" y2="590.50" stroke="#222" stroke-width="0.9"/>
<line x1="96.30" y1="588.00" x2="96.30" y2="590.50" stroke="#222" stroke-width="0.9"/>
<line x1="114.20" y1="588.00" x2="114.20" y2="590.50" stroke="#222" stroke-width="0.9"/>
<line x1="132.10" y1="588.00" x2="132.10" y2="590.50" stroke="#222" stroke-width="0.9"/>
<line x1="150.00" y1="588.00" x2="150.00" y2="590.50" stroke="#222" stroke-width="0.9"/>
<line x1="167.90" y1="588.00" x2="167.90" y2="590.50" stroke="#222" stroke-width="0.9"/>
<line x1="185.80" y1="588.00" x2="185.80" y2="590.50" stroke="#222" stroke-width="0.9"/>
<line x1="203.70" y1="588.00" x2="203.70" y2="590.50" stroke="#222" stroke-width="0.9"/>
<line x1="221.60" y1="588.00" x2="221.60" y2="590.50" stroke="#222" stroke-width="0.9"/>
<rect x="57.70" y="593.60" width="169.50" height="39.10" fill="none" stroke="#222" stroke-width="1.0"/>
<line x1="60.50" y1="632.70" x2="60.50" y2="635.20" stroke="#222" stroke-width="0.9"/>
<line x1="78.40" y1="632.70" x2="78.40" y2="635.20" stroke="#222" stroke-width="0.9"/>
<line x1="96.30" y1="632.70" x2="96.30" y2="635.20" stroke="#222" stroke-width="0.9"/>
<line x1="114.20" y1="632.70" x2="114.20" y2="635.20" stroke="#222" stroke-width="0.9"/>
<line x1="132.10" y1="632.70" x2="132.10" y2="635.20" stroke="#222" stroke-width="0.9"/>
<line x1="150.00" y1="632.70" x2="150.00" y2="635.20" stroke="#222" stroke-width="0.9"/>
<line x1="167.90" y1="632.70" x2="167.90" y2="635.20" stroke="#222" stroke-width="0.9"/>
<line x1="185.80" y1="632.70" x2="185.80" y2="635.20" stroke="#222" stroke-width="0.9"/>
<line x1="203.70" y1="632.70" x2="203.70" y2="635.20" stroke="#222" stroke-width="0.9"/>
<line x1="221.60" y1="632.70" x2="221.60" y2="635.20" stroke="#222" stroke-width="0.9"/>
<line x1="55.10" y1="227.90" x2="57.70" y2="227.90" stroke="#222" stroke-width="0.9"/>
<line x1="55.10" y1="237.00" x2="57.70" y2="237.00" stroke="#222" stroke-width="0.9"/>
<line x1="55.10" y1="246.30" x2="57.70" y2="246.30" stroke="#222" stroke-width="0.9"/>
<line x1="55.10" y1="254.80" x2="57.70" y2="254.80" stroke="#222" stroke-width="0.9"/>
<line x1="55.10" y1="264.00" x2="57.70" y2="264.00" stroke="#222" stroke-width="0.9"/>
<text x="51.40" y="230.80" font-size="6.5" text-anchor="end">0.020</text>
<text x="51.40" y="249.20" font-size="6.5" text-anchor="end">0.010</text>
<text x="51.40" y="266.90" font-size="6.5" text-anchor="end">0</text>
<line x1="55.10" y1="270.90" x2="57.70" y2="270.90" stroke="#222" stroke-width="0.9"/>
<line x1="55.10" y1="283.40" x2="57.70" y2="283.40" stroke="#222" stroke-width="0.9"/>
<line x1="55.10" y1="295.60" x2="57.70" y2="295.60" stroke="#222" stroke-width="0.9"/>
<line x1="55.10" y1="307.70" x2="57.70" y2="307.70" stroke="#222" stroke-width="0.9"/>
<text x="51.40" y="273.80" font-size="6.5" text-anchor="end">0.015</text>
<text x="51.40" y="286.30" font-size="6.5" text-anchor="end">0.010</text>
<text x="51.40" y="298.50" font-size="6.5" text-anchor="end">0.005</text>
<text x="51.40" y="310.60" font-size="6.5" text-anchor="end">0</text>
<line x1="55.10" y1="315.90" x2="57.70" y2="315.90" stroke="#222" stroke-width="0.9"/>
<line x1="55.10" y1="328.40" x2="57.70" y2="328.40" stroke="#222" stroke-width="0.9"/>
<line x1="55.10" y1="340.60" x2="57.70" y2="340.60" stroke="#222" stroke-width="0.9"/>
<line x1="55.10" y1="352.70" x2="57.70" y2="352.70" stroke="#222" stroke-width="0.9"/>
<text x="51.40" y="318.80" font-size="6.5" text-anchor="end">0.015</text>
<text x="51.40" y="331.30" font-size="6.5" text-anchor="end">0.010</text>
<text x="51.40" y="343.50" font-size="6.5" text-anchor="end">0.005</text>
<text x="51.40" y="355.60" font-size="6.5" text-anchor="end">0</text>
<line x1="55.10" y1="366.30" x2="57.70" y2="366.30" stroke="#222" stroke-width="0.9"/>
<line x1="55.10" y1="375.50" x2="57.70" y2="375.50" stroke="#222" stroke-width="0.9"/>
<line x1="55.10" y1="384.60" x2="57.70" y2="384.60" stroke="#222" stroke-width="0.9"/>
<line x1="55.10" y1="393.80" x2="57.70" y2="393.80" stroke="#222" stroke-width="0.9"/>
<line x1="55.10" y1="403.10" x2="57.70" y2="403.10" stroke="#222" stroke-width="0.9"/>
<text x="51.40" y="369.20" font-size="6.5" text-anchor="end">40</text>
<text x="51.40" y="387.50" font-size="6.5" text-anchor="end">20</text>
<text x="51.40" y="406.00" font-size="6.5" text-anchor="end">0</text>
<line x1="55.10" y1="410.50" x2="57.70" y2="410.50" stroke="#222" stroke-width="0.9"/>
<line x1="55.10" y1="422.40" x2="57.70" y2="422.40" stroke="#222" stroke-width="0.9"/>
<line x1="55.10" y1="434.50" x2="57.70" y2="434.50" stroke="#222" stroke-width="0.9"/>
<line x1="55.10" y1="446.40" x2="57.70" y2="446.40" stroke="#222" stroke-width="0.9"/>
<text x="51.40" y="413.40" font-size="6.5" text-anchor="end">1.0</text>
<text x="51.40" y="425.30" font-size="6.5" text-anchor="end">0.5</text>
<text x="51.40" y="437.40" font-size="6.5" text-anchor="end">0</text>
<text x="51.40" y="449.30" font-size="6.5" text-anchor="end">−0.5</text>
<line x1="55.10" y1="459.40" x2="57.70" y2="459.40" stroke="#222" stroke-width="0.9"/>
<line x1="55.10" y1="468.60" x2="57.70" y2="468.60" stroke="#222" stroke-width="0.9"/>
<line x1="55.10" y1="477.50" x2="57.70" y2="477.50" stroke="#222" stroke-width="0.9"/>
<line x1="55.10" y1="487.00" x2="57.70" y2="487.00" stroke="#222" stroke-width="0.9"/>
<line x1="55.10" y1="496.10" x2="57.70" y2="496.10" stroke="#222" stroke-width="0.9"/>
<text x="51.40" y="462.30" font-size="6.5" text-anchor="end">40</text>
<text x="51.40" y="480.40" font-size="6.5" text-anchor="end">20</text>
<text x="51.40" y="499.00" font-size="6.5" text-anchor="end">0</text>
<line x1="55.10" y1="503.60" x2="57.70" y2="503.60" stroke="#222" stroke-width="0.9"/>
<line x1="55.10" y1="512.60" x2="57.70" y2="512.60" stroke="#222" stroke-width="0.9"/>
<line x1="55.10" y1="522.00" x2="57.70" y2="522.00" stroke="#222" stroke-width="0.9"/>
<line x1="55.10" y1="531.20" x2="57.70" y2="531.20" stroke="#222" stroke-width="0.9"/>
<line x1="55.10" y1="540.60" x2="57.70" y2="540.60" stroke="#222" stroke-width="0.9"/>
<text x="51.40" y="506.50" font-size="6.5" text-anchor="end">12</text>
<text x="51.40" y="524.90" font-size="6.5" text-anchor="end">6</text>
<text x="51.40" y="543.50" font-size="6.5" text-anchor="end">0</text>
<line x1="55.10" y1="551.10" x2="57.70" y2="551.10" stroke="#222" stroke-width="0.9"/>
<line x1="55.10" y1="560.20" x2="57.70" y2="560.20" stroke="#222" stroke-width="0.9"/>
<line x1="55.10" y1="569.60" x2="57.70" y2="569.60" stroke="#222" stroke-width="0.9"/>
<line x1="55.10" y1="579.10" x2="57.70" y2="579.10" stroke="#222" stroke-width="0.9"/>
<line x1="55.10" y1="588.00" x2="57.70" y2="588.00" stroke="#222" stroke-width="0.9"/>
<text x="51.40" y="554.00" font-size="6.5" text-anchor="end">16</text>
<text x="51.40" y="572.50" font-size="6.5" text-anchor="end">8</text>
<text x="51.40" y="590.90" font-size="6.5" text-anchor="end">0</text>
<line x1="55.10" y1="596.40" x2="57.70" y2="596.40" stroke="#222" stroke-width="0.9"/>
<line x1="55.10" y1="605.60" x2="57.70" y2="605.60" stroke="#222" stroke-width="0.9"/>
<line x1="55.10" y1="614.60" x2="57.70" y2="614.60" stroke="#222" stroke-width="0.9"/>
<line x1="55.10" y1="623.70" x2="57.70" y2="623.70" stroke="#222" stroke-width="0.9"/>
<line x1="55.10" y1="632.70" x2="57.70" y2="632.70" stroke="#222" stroke-width="0.9"/>
<text x="51.40" y="599.30" font-size="6.5" text-anchor="end">7</text>
<text x="51.40" y="617.50" font-size="6.5" text-anchor="end">6</text>
<text x="51.40" y="635.60" font-size="6.5" text-anchor="end">5</text>
<text x="60.50" y="644.80" font-size="6.3" text-anchor="middle">−3</text>
<text x="78.40" y="644.80" font-size="6.3" text-anchor="middle">−2</text>
<text x="96.30" y="644.80" font-size="6.3" text-anchor="middle">−1</text>
<text x="114.20" y="644.80" font-size="6.3" text-anchor="middle">0</text>
<text x="132.10" y="644.80" font-size="6.3" text-anchor="middle">+1</text>
<text x="150.00" y="644.80" font-size="6.3" text-anchor="middle">+2</text>
<text x="167.90" y="644.80" font-size="6.3" text-anchor="middle">+3</text>
<text x="185.80" y="644.80" font-size="6.3" text-anchor="middle">+4</text>
<text x="203.70" y="644.80" font-size="6.3" text-anchor="middle">+5</text>
<text x="221.60" y="644.80" font-size="6.3" text-anchor="middle">+6</text>
<text x="142.60" y="654.40" font-size="6.5" text-anchor="middle">Distance from the border of OSK nuc. array (kb)</text>
<path d="M61.30,230.80 L78.80,230.80" fill="none" stroke="#e23c3c" stroke-width="1.45"/>
<path d="M78.80,230.80 L74.60,228.60" fill="none" stroke="#d01010" stroke-width="1.45"/>
<path d="M78.80,234.10 L61.30,234.10" fill="none" stroke="#4a4ae2" stroke-width="1.45"/>
<path d="M61.30,234.10 L65.50,236.30" fill="none" stroke="#1010d0" stroke-width="1.45"/>
<path d="M61.30,276.20 L78.80,276.20" fill="none" stroke="#e23c3c" stroke-width="1.45"/>
<path d="M78.80,276.20 L74.60,274.00" fill="none" stroke="#d01010" stroke-width="1.45"/>
<path d="M78.80,279.50 L61.30,279.50" fill="none" stroke="#4a4ae2" stroke-width="1.45"/>
<path d="M61.30,279.50 L65.50,281.70" fill="none" stroke="#1010d0" stroke-width="1.45"/>
<path d="M61.30,321.40 L78.80,321.40" fill="none" stroke="#e23c3c" stroke-width="1.45"/>
<path d="M78.80,321.40 L74.60,319.20" fill="none" stroke="#d01010" stroke-width="1.45"/>
<path d="M78.80,324.50 L61.30,324.50" fill="none" stroke="#4a4ae2" stroke-width="1.45"/>
<path d="M61.30,324.50 L65.50,326.70" fill="none" stroke="#1010d0" stroke-width="1.45"/>
<text x="16.80" y="237.80" font-size="6.5" text-anchor="middle">OCT4</text>
<text class="lg" x="0" y="0" font-size="100" font-weight="bold" fill="#1f8a2e" transform="matrix(0.0806,0,0,0.2267,2.01,257.60)">T</text>
<text class="lg" x="0" y="0" font-size="100" font-weight="bold" fill="#f7a823" transform="matrix(0.0704,0,0,0.2203,6.71,257.38)">G</text>
<text class="lg" x="0" y="0" font-size="100" font-weight="bold" fill="#d62728" transform="matrix(0.0708,0,0,0.0794,11.72,257.60)">A</text>
<text class="lg" x="0" y="0" font-size="100" font-weight="bold" fill="#1f8a2e" transform="matrix(0.0806,0,0,0.0794,11.81,252.14)">T</text>
<text class="lg" x="0" y="0" font-size="100" font-weight="bold" fill="#d62728" transform="matrix(0.0708,0,0,0.2267,16.62,257.60)">A</text>
<text class="lg" x="0" y="0" font-size="100" font-weight="bold" fill="#1f8a2e" transform="matrix(0.0806,0,0,0.2267,21.61,257.60)">T</text>
<text class="lg" x="0" y="0" font-size="100" font-weight="bold" fill="#3b3bd6" transform="matrix(0.0726,0,0,0.0110,26.30,257.59)">C</text>
<text class="lg" x="0" y="0" font-size="100" font-weight="bold" fill="#f7a823" transform="matrix(0.0704,0,0,0.0176,26.31,256.80)">G</text>
<text class="lg" x="0" y="0" font-size="100" font-weight="bold" fill="#d62728" transform="matrix(0.0708,0,0,0.0227,26.42,255.57)">A</text>
<text x="17.90" y="279.00" font-size="6.5" text-anchor="middle">SOX2</text>
<text class="lg" x="0" y="0" font-size="100" font-weight="bold" fill="#d62728" transform="matrix(0.0671,0,0,0.0140,3.33,298.90)">A</text>
<text class="lg" x="0" y="0" font-size="100" font-weight="bold" fill="#3b3bd6" transform="matrix(0.0688,0,0,0.0136,3.22,297.93)">C</text>
<text class="lg" x="0" y="0" font-size="100" font-weight="bold" fill="#1f8a2e" transform="matrix(0.0764,0,0,0.0116,3.42,296.98)">T</text>
<text class="lg" x="0" y="0" font-size="100" font-weight="bold" fill="#1f8a2e" transform="matrix(0.0764,0,0,0.2326,8.07,298.90)">T</text>
<text class="lg" x="0" y="0" font-size="100" font-weight="bold" fill="#8cc98c" transform="matrix(0.0764,0,0,0.2326,12.72,298.90)">T</text>
<text class="lg" x="0" y="0" font-size="100" font-weight="bold" fill="#1f8a2e" transform="matrix(0.0764,0,0,0.2326,17.37,298.90)">T</text>
<text class="lg" x="0" y="0" font-size="100" font-weight="bold" fill="#d62728" transform="matrix(0.0671,0,0,0.0465,21.93,298.90)">A</text>
<text class="lg" x="0" y="0" font-size="100" font-weight="bold" fill="#f7a823" transform="matrix(0.0667,0,0,0.0565,21.83,295.64)">G</text>
<text class="lg" x="0" y="0" font-size="100" font-weight="bold" fill="#1f8a2e" transform="matrix(0.0764,0,0,0.2326,26.67,298.90)">T</text>
<text x="18.00" y="322.80" font-size="6.5" text-anchor="middle">KLF4</text>
<text class="lg" x="0" y="0" font-size="100" font-weight="bold" fill="#f7a823" transform="matrix(0.0652,0,0,0.1977,3.23,341.30)">G</text>
<text class="lg" x="0" y="0" font-size="100" font-weight="bold" fill="#f7a823" transform="matrix(0.0652,0,0,0.1977,7.78,341.30)">G</text>
<text class="lg" x="0" y="0" font-size="100" font-weight="bold" fill="#f7a823" transform="matrix(0.0652,0,0,0.1977,12.33,341.30)">G</text>
<text class="lg" x="0" y="0" font-size="100" font-weight="bold" fill="#3b3bd6" transform="matrix(0.0673,0,0,0.0297,16.87,341.47)">C</text>
<text class="lg" x="0" y="0" font-size="100" font-weight="bold" fill="#1f8a2e" transform="matrix(0.0747,0,0,0.1017,17.07,339.40)">T</text>
<text class="lg" x="0" y="0" font-size="100" font-weight="bold" fill="#f7a823" transform="matrix(0.0652,0,0,0.1977,21.43,341.30)">G</text>
<text class="lg" x="0" y="0" font-size="100" font-weight="bold" fill="#f7a823" transform="matrix(0.0652,0,0,0.0297,25.98,341.47)">G</text>
<text class="lg" x="0" y="0" font-size="100" font-weight="bold" fill="#1f8a2e" transform="matrix(0.0747,0,0,0.0814,26.17,339.40)">T</text>
<text x="0.90" y="380.80" font-size="6.5">MNase (×10<tspan font-size="4.3" dy="-2.3">3</tspan><tspan dy="2.3">)</tspan></text>
<text x="19.30" y="420.50" font-size="6.5" text-anchor="middle">H1</text>
<text x="19.30" y="428.80" font-size="6.5" text-anchor="middle">ChIP–seq</text>
<text x="19.30" y="467.20" font-size="6.5" text-anchor="middle">OSK</text>
<text x="19.30" y="474.80" font-size="6.5" text-anchor="middle">ChIP–seq</text>
<text x="19.30" y="483.00" font-size="6.5" text-anchor="middle">OSKM-48h</text>
<text x="19.30" y="514.80" font-size="6.5" text-anchor="middle">OSK</text>
<text x="19.30" y="522.90" font-size="6.5" text-anchor="middle">ChIP–seq</text>
<text x="19.30" y="530.80" font-size="6.5" text-anchor="middle">iPS/ES</text>
<text x="19.30" y="568.80" font-size="6.5" text-anchor="middle">ATAC–seq</text>
<text x="19.30" y="608.80" font-size="6.5" text-anchor="middle">H3K27ac</text>
<text x="19.30" y="616.70" font-size="6.5" text-anchor="middle">ChIP–seq</text>
<line x1="62.20" y1="369.60" x2="69.20" y2="369.60" stroke="#1a1a8a" stroke-width="1.6"/>
<text x="72.70" y="371.90" font-size="6.5">MEF</text>
<line x1="62.20" y1="378.00" x2="69.20" y2="378.00" stroke="#ff6a10" stroke-width="1.6"/>
<text x="72.70" y="380.30" font-size="6.5">iPS/ES</text>
<line x1="62.20" y1="414.50" x2="69.20" y2="414.50" stroke="#1a1a8a" stroke-width="1.6"/>
<text x="72.70" y="416.80" font-size="6.5">MEF</text>
<line x1="62.20" y1="422.40" x2="69.20" y2="422.40" stroke="#ff6a10" stroke-width="1.6"/>
<text x="72.70" y="424.70" font-size="6.5">iPS/ES</text>
<line x1="61.30" y1="462.00" x2="69.20" y2="462.00" stroke="#3a8dd0" stroke-width="1.6"/>
<text x="72.70" y="464.30" font-size="6.5">O</text>
<line x1="61.30" y1="469.60" x2="69.20" y2="469.60" stroke="#48b248" stroke-width="1.6"/>
<text x="72.70" y="471.90" font-size="6.5">S</text>
<line x1="61.30" y1="477.30" x2="69.20" y2="477.30" stroke="#9b4db0" stroke-width="1.6"/>
<text x="72.70" y="479.60" font-size="6.5">K</text>
<line x1="61.30" y1="506.70" x2="69.20" y2="506.70" stroke="#3a8dd0" stroke-width="1.6"/>
<text x="72.70" y="509.00" font-size="6.5">O</text>
<line x1="61.30" y1="514.00" x2="69.20" y2="514.00" stroke="#48b248" stroke-width="1.6"/>
<text x="72.70" y="516.30" font-size="6.5">S</text>
<line x1="61.30" y1="521.90" x2="69.20" y2="521.90" stroke="#9b4db0" stroke-width="1.6"/>
<text x="72.70" y="524.20" font-size="6.5">K</text>
<line x1="158.60" y1="553.70" x2="166.80" y2="553.70" stroke="#1a1a8a" stroke-width="1.6"/>
<text x="170.70" y="556.00" font-size="6.5">MEF</text>
<line x1="158.60" y1="560.50" x2="166.80" y2="560.50" stroke="#1e7d1e" stroke-width="1.6"/>
<text x="170.70" y="562.80" font-size="6.5">OSKM-72h</text>
<line x1="158.60" y1="567.50" x2="166.80" y2="567.50" stroke="#ff6a10" stroke-width="1.6"/>
<text x="170.70" y="569.80" font-size="6.5">iPS/ES</text>
<line x1="158.60" y1="597.90" x2="166.80" y2="597.90" stroke="#1a1a8a" stroke-width="1.6"/>
<text x="170.70" y="600.20" font-size="6.5">MEF</text>
<line x1="158.60" y1="604.90" x2="166.80" y2="604.90" stroke="#1e7d1e" stroke-width="1.6"/>
<text x="170.70" y="607.20" font-size="6.5">OSKM-72h</text>
<line x1="158.60" y1="612.00" x2="166.80" y2="612.00" stroke="#ff6a10" stroke-width="1.6"/>
<text x="170.70" y="614.30" font-size="6.5">iPS/ES</text>
<text x="140.20" y="464.20" font-size="6.5">Early reprogramming</text>
<text x="140.00" y="510.20" font-size="6.5">Final reprogramming</text>
<text x="244.70" y="233.50" font-size="10.5" font-weight="bold" class="pl">c</text>
<g clip-path="url(#cc0)">
<rect x="262.20" y="251.60" width="84.70" height="133.20" fill="#f9f6fa"/>
<rect x="262.20" y="251.60" width="84.70" height="133.20" fill="url(#cg0)"/>
<g filter="url(#sb1)">
<rect x="300.25" y="258.00" width="1.50" height="114.00" fill="#5050e0" fill-opacity="0.35"/>
<rect x="305.40" y="258.00" width="1.20" height="122.00" fill="#5050e0" fill-opacity="0.3"/>
<rect x="310.40" y="258.00" width="1.20" height="114.00" fill="#5050e0" fill-opacity="0.3"/>
<rect x="316.25" y="258.00" width="1.50" height="114.00" fill="#5050e0" fill-opacity="0.35"/>
<rect x="322.40" y="258.00" width="1.20" height="107.00" fill="#5050e0" fill-opacity="0.25"/>
<rect x="332.40" y="258.00" width="1.20" height="114.00" fill="#d03050" fill-opacity="0.3"/>
<rect x="339.10" y="258.00" width="1.80" height="122.00" fill="#d03050" fill-opacity="0.4"/>
<rect x="343.40" y="258.00" width="1.20" height="114.00" fill="#d03050" fill-opacity="0.3"/>
</g>
<rect x="262.20" y="251.60" width="84.70" height="133.20" fill="#fff" filter="url(#nrb1)" opacity="0.3"/>
<rect x="262.20" y="251.60" width="84.70" height="133.20" fill="#fff" filter="url(#rowS0)" opacity="0.22"/>
</g>
<rect x="262.20" y="251.60" width="84.70" height="133.20" fill="none" stroke="#222" stroke-width="1.0"/>
<g clip-path="url(#cc1)">
<rect x="351.50" y="251.60" width="84.90" height="133.20" fill="#f8f6fb"/>
<rect x="351.50" y="251.60" width="84.90" height="133.20" fill="url(#cg1)"/>
<path d="M386,248 L400,248 L406,320 L418,390 L374,390 L381,320 Z" fill="rgb(120,120,238)" fill-opacity="0.32" filter="url(#pb2)"/>
<path d="M387,248 L394,248 L395,330 L392,390 L385,390 Z" fill="rgb(100,100,235)" fill-opacity="0.25" filter="url(#pb2)"/>
<g filter="url(#sb1)">
<rect x="389.25" y="258.00" width="1.50" height="126.00" fill="#5050e0" fill-opacity="0.3"/>
<rect x="395.40" y="258.00" width="1.20" height="126.00" fill="#5050e0" fill-opacity="0.3"/>
<rect x="401.25" y="258.00" width="1.50" height="126.00" fill="#5050e0" fill-opacity="0.3"/>
<rect x="407.40" y="258.00" width="1.20" height="117.00" fill="#5050e0" fill-opacity="0.25"/>
<rect x="413.40" y="258.00" width="1.20" height="112.00" fill="#5050e0" fill-opacity="0.2"/>
</g>
<rect x="351.50" y="251.60" width="84.90" height="133.20" fill="#fff" filter="url(#nrb2)" opacity="0.3"/>
<rect x="351.50" y="251.60" width="84.90" height="133.20" fill="#fff" filter="url(#rowS1)" opacity="0.22"/>
</g>
<rect x="351.50" y="251.60" width="84.90" height="133.20" fill="none" stroke="#222" stroke-width="1.0"/>
<g clip-path="url(#cc2)">
<rect x="441.20" y="251.60" width="84.50" height="133.20" fill="#fcf8fa"/>
<rect x="441.20" y="251.60" width="84.50" height="133.20" fill="url(#cg2)"/>
<g filter="url(#sb1)">
<rect x="469.25" y="262.00" width="1.50" height="100.00" fill="#4a4ae8" fill-opacity="0.35"/>
<rect x="473.50" y="262.00" width="1.00" height="88.00" fill="#4a4ae8" fill-opacity="0.2"/>
<rect x="482.40" y="262.00" width="1.20" height="78.00" fill="#4a4ae8" fill-opacity="0.25"/>
<rect x="492.40" y="262.00" width="1.20" height="88.00" fill="#d03050" fill-opacity="0.18"/>
<rect x="499.40" y="262.00" width="1.20" height="68.00" fill="#4a4ae8" fill-opacity="0.25"/>
<rect x="504.50" y="262.00" width="1.00" height="58.00" fill="#4a4ae8" fill-opacity="0.2"/>
<rect x="517.40" y="262.00" width="1.20" height="78.00" fill="#4a4ae8" fill-opacity="0.2"/>
<rect x="519.50" y="262.00" width="4.00" height="118.00" fill="#e02030" fill-opacity="0.3"/>
<rect x="521.25" y="262.00" width="1.50" height="110.00" fill="#e02030" fill-opacity="0.25"/>
</g>
<rect x="441.20" y="251.60" width="84.50" height="133.20" fill="#fff" filter="url(#nrb3)" opacity="0.32"/>
<rect x="441.20" y="251.60" width="84.50" height="133.20" fill="#fff" filter="url(#rowS0)" opacity="0.22"/>
</g>
<rect x="441.20" y="251.60" width="84.50" height="133.20" fill="none" stroke="#222" stroke-width="1.0"/>
<g clip-path="url(#cc3)">
<rect x="532.50" y="251.60" width="65.90" height="133.20" fill="rgb(180,180,222)"/>
<rect x="532.50" y="251.60" width="65.90" height="133.20" fill="url(#cg3)"/>
<g filter="url(#sb1)">
<rect x="561.10" y="258.00" width="2.80" height="122.00" fill="#4a4ab0" fill-opacity="0.28"/>
<rect x="560.25" y="300.00" width="1.50" height="84.00" fill="#4a4ab0" fill-opacity="0.12"/>
<rect x="565.00" y="258.00" width="1.00" height="112.00" fill="#4a4ab0" fill-opacity="0.15"/>
<rect x="577.50" y="258.00" width="1.00" height="102.00" fill="#4a4ab0" fill-opacity="0.12"/>
<rect x="586.50" y="258.00" width="1.00" height="112.00" fill="#4a4ab0" fill-opacity="0.15"/>
</g>
<rect x="532.50" y="251.60" width="65.90" height="133.20" fill="#fff" filter="url(#npu1)" opacity="0.35"/>
<rect x="532.50" y="251.60" width="65.90" height="133.20" fill="#fff" filter="url(#rowS1)" opacity="0.22"/>
</g>
<rect x="532.50" y="251.60" width="65.90" height="133.20" fill="none" stroke="#222" stroke-width="1.0"/>
<g clip-path="url(#cc4)">
<rect x="603.10" y="251.60" width="65.50" height="133.20" fill="rgb(156,152,208)"/>
<rect x="603.10" y="251.60" width="65.50" height="133.20" fill="url(#cg4)"/>
<g filter="url(#sb1)">
<rect x="629.10" y="258.00" width="2.80" height="126.00" fill="#3a3aa0" fill-opacity="0.3"/>
<rect x="639.50" y="258.00" width="1.00" height="126.00" fill="#3a3aa0" fill-opacity="0.1"/>
<rect x="649.50" y="258.00" width="1.00" height="126.00" fill="#3a3aa0" fill-opacity="0.1"/>
<rect x="654.50" y="258.00" width="1.00" height="126.00" fill="#3a3aa0" fill-opacity="0.12"/>
<rect x="633.50" y="258.00" width="1.00" height="112.00" fill="#3a3aa0" fill-opacity="0.15"/>
<rect x="644.50" y="258.00" width="1.00" height="102.00" fill="#3a3aa0" fill-opacity="0.12"/>
<rect x="659.25" y="258.00" width="1.50" height="112.00" fill="#3a3aa0" fill-opacity="0.2"/>
</g>
<rect x="603.10" y="251.60" width="65.50" height="133.20" fill="#fff" filter="url(#npu2)" opacity="0.35"/>
<rect x="603.10" y="251.60" width="65.50" height="133.20" fill="#fff" filter="url(#rowS0)" opacity="0.22"/>
</g>
<rect x="603.10" y="251.60" width="65.50" height="133.20" fill="none" stroke="#222" stroke-width="1.0"/>
<line x1="262.20" y1="258.90" x2="669.50" y2="258.90" stroke="#444" stroke-width="0.9" stroke-dasharray="2.6,1.6"/>
<path d="M669.6,258.9 L672.6,257.4 L672.6,260.4 Z" fill="#222"/>
<line x1="672.00" y1="258.90" x2="676.20" y2="258.90" stroke="#222" stroke-width="0.7"/>
<line x1="262.20" y1="366.20" x2="669.50" y2="366.20" stroke="#444" stroke-width="0.9" stroke-dasharray="2.6,1.6"/>
<path d="M669.6,366.2 L672.6,364.7 L672.6,367.7 Z" fill="#222"/>
<line x1="672.00" y1="366.20" x2="676.20" y2="366.20" stroke="#222" stroke-width="0.7"/>
<path d="M260.0,252.4 L260.0,384.8 L253.2,384.8 Z" fill="#000"/>
<text x="252.50" y="303.00" font-size="6.7" text-anchor="middle" transform="rotate(-90 252.50 303.00)">Nuc. array size</text>
<text x="684.80" y="260.50" font-size="6.4" text-anchor="middle" transform="rotate(-90 684.80 260.50)">0.8 kb</text>
<text x="679.60" y="310.00" font-size="6.4" text-anchor="middle" transform="rotate(-90 679.60 310.00)"><tspan font-style="italic">n</tspan> = 6,808</text>
<text x="684.80" y="365.60" font-size="6.4" text-anchor="middle" transform="rotate(-90 684.80 365.60)">2.8 kb</text>
<text x="284.90" y="242.90" font-size="6.5" text-anchor="middle">OCT4</text>
<text class="lg" x="0" y="0" font-size="100" font-weight="bold" fill="#1f8a2e" transform="matrix(0.0781,0,0,0.2238,298.91,246.30)">T</text>
<text class="lg" x="0" y="0" font-size="100" font-weight="bold" fill="#f7a823" transform="matrix(0.0681,0,0,0.2175,303.47,246.08)">G</text>
<text class="lg" x="0" y="0" font-size="100" font-weight="bold" fill="#d62728" transform="matrix(0.0686,0,0,0.0783,308.33,246.30)">A</text>
<text class="lg" x="0" y="0" font-size="100" font-weight="bold" fill="#1f8a2e" transform="matrix(0.0781,0,0,0.0783,308.41,240.91)">T</text>
<text class="lg" x="0" y="0" font-size="100" font-weight="bold" fill="#d62728" transform="matrix(0.0686,0,0,0.2238,313.08,246.30)">A</text>
<text class="lg" x="0" y="0" font-size="100" font-weight="bold" fill="#1f8a2e" transform="matrix(0.0781,0,0,0.2238,317.91,246.30)">T</text>
<text class="lg" x="0" y="0" font-size="100" font-weight="bold" fill="#3b3bd6" transform="matrix(0.0703,0,0,0.0109,322.46,246.29)">C</text>
<text class="lg" x="0" y="0" font-size="100" font-weight="bold" fill="#f7a823" transform="matrix(0.0681,0,0,0.0174,322.47,245.51)">G</text>
<text class="lg" x="0" y="0" font-size="100" font-weight="bold" fill="#d62728" transform="matrix(0.0686,0,0,0.0224,322.58,244.30)">A</text>
<text x="376.00" y="243.00" font-size="6.5" text-anchor="middle">SOX2</text>
<text class="lg" x="0" y="0" font-size="100" font-weight="bold" fill="#d62728" transform="matrix(0.0686,0,0,0.0144,387.53,247.00)">A</text>
<text class="lg" x="0" y="0" font-size="100" font-weight="bold" fill="#3b3bd6" transform="matrix(0.0703,0,0,0.0140,387.41,246.00)">C</text>
<text class="lg" x="0" y="0" font-size="100" font-weight="bold" fill="#1f8a2e" transform="matrix(0.0781,0,0,0.0120,387.61,245.02)">T</text>
<text class="lg" x="0" y="0" font-size="100" font-weight="bold" fill="#1f8a2e" transform="matrix(0.0781,0,0,0.2398,392.36,247.00)">T</text>
<text class="lg" x="0" y="0" font-size="100" font-weight="bold" fill="#8cc98c" transform="matrix(0.0781,0,0,0.2398,397.11,247.00)">T</text>
<text class="lg" x="0" y="0" font-size="100" font-weight="bold" fill="#1f8a2e" transform="matrix(0.0781,0,0,0.2398,401.86,247.00)">T</text>
<text class="lg" x="0" y="0" font-size="100" font-weight="bold" fill="#d62728" transform="matrix(0.0686,0,0,0.0480,406.53,247.00)">A</text>
<text class="lg" x="0" y="0" font-size="100" font-weight="bold" fill="#f7a823" transform="matrix(0.0681,0,0,0.0583,406.42,243.64)">G</text>
<text class="lg" x="0" y="0" font-size="100" font-weight="bold" fill="#1f8a2e" transform="matrix(0.0781,0,0,0.2398,411.36,247.00)">T</text>
<text x="467.00" y="243.20" font-size="6.5" text-anchor="middle">KLF4</text>
<text class="lg" x="0" y="0" font-size="100" font-weight="bold" fill="#f7a823" transform="matrix(0.0681,0,0,0.2316,478.12,246.37)">G</text>
<text class="lg" x="0" y="0" font-size="100" font-weight="bold" fill="#f7a823" transform="matrix(0.0681,0,0,0.2316,482.87,246.37)">G</text>
<text class="lg" x="0" y="0" font-size="100" font-weight="bold" fill="#f7a823" transform="matrix(0.0681,0,0,0.2316,487.62,246.37)">G</text>
<text class="lg" x="0" y="0" font-size="100" font-weight="bold" fill="#3b3bd6" transform="matrix(0.0703,0,0,0.0347,492.36,246.57)">C</text>
<text class="lg" x="0" y="0" font-size="100" font-weight="bold" fill="#1f8a2e" transform="matrix(0.0781,0,0,0.1192,492.56,244.14)">T</text>
<text class="lg" x="0" y="0" font-size="100" font-weight="bold" fill="#f7a823" transform="matrix(0.0681,0,0,0.2316,497.12,246.37)">G</text>
<text class="lg" x="0" y="0" font-size="100" font-weight="bold" fill="#f7a823" transform="matrix(0.0681,0,0,0.0347,501.87,246.57)">G</text>
<text class="lg" x="0" y="0" font-size="100" font-weight="bold" fill="#1f8a2e" transform="matrix(0.0781,0,0,0.0953,502.06,244.14)">T</text>
<text x="565.60" y="238.80" font-size="6.5" text-anchor="middle">MEF</text>
<text x="565.60" y="246.20" font-size="6.5" text-anchor="middle">MNase–seq</text>
<text x="635.60" y="238.80" font-size="6.5" text-anchor="middle">iPS/ES</text>
<text x="635.60" y="246.20" font-size="6.5" text-anchor="middle">MNase–seq</text>
<line x1="263.00" y1="384.80" x2="263.00" y2="387.30" stroke="#222" stroke-width="0.9"/>
<line x1="304.25" y1="384.80" x2="304.25" y2="387.30" stroke="#222" stroke-width="0.9"/>
<line x1="345.10" y1="384.80" x2="345.10" y2="387.30" stroke="#222" stroke-width="0.9"/>
<text x="263.60" y="395.40" font-size="6.3" text-anchor="middle">−5</text>
<text x="304.25" y="395.40" font-size="6.3" text-anchor="middle">0</text>
<text x="346.30" y="395.40" font-size="6.3" text-anchor="end">+5</text>
<line x1="352.30" y1="384.80" x2="352.30" y2="387.30" stroke="#222" stroke-width="0.9"/>
<line x1="393.65" y1="384.80" x2="393.65" y2="387.30" stroke="#222" stroke-width="0.9"/>
<line x1="434.60" y1="384.80" x2="434.60" y2="387.30" stroke="#222" stroke-width="0.9"/>
<text x="353.90" y="395.40" font-size="6.3" text-anchor="middle">−5</text>
<text x="393.65" y="395.40" font-size="6.3" text-anchor="middle">0</text>
<text x="435.80" y="395.40" font-size="6.3" text-anchor="end">+5</text>
<line x1="442.00" y1="384.80" x2="442.00" y2="387.30" stroke="#222" stroke-width="0.9"/>
<line x1="483.15" y1="384.80" x2="483.15" y2="387.30" stroke="#222" stroke-width="0.9"/>
<line x1="523.90" y1="384.80" x2="523.90" y2="387.30" stroke="#222" stroke-width="0.9"/>
<text x="443.60" y="395.40" font-size="6.3" text-anchor="middle">−5</text>
<text x="483.15" y="395.40" font-size="6.3" text-anchor="middle">0</text>
<text x="525.10" y="395.40" font-size="6.3" text-anchor="end">+5</text>
<line x1="533.30" y1="384.80" x2="533.30" y2="387.30" stroke="#222" stroke-width="0.9"/>
<line x1="565.15" y1="384.80" x2="565.15" y2="387.30" stroke="#222" stroke-width="0.9"/>
<line x1="596.60" y1="384.80" x2="596.60" y2="387.30" stroke="#222" stroke-width="0.9"/>
<text x="534.90" y="395.40" font-size="6.3" text-anchor="middle">−5</text>
<text x="565.15" y="395.40" font-size="6.3" text-anchor="middle">0</text>
<text x="597.80" y="395.40" font-size="6.3" text-anchor="end">+5</text>
<line x1="603.90" y1="384.80" x2="603.90" y2="387.30" stroke="#222" stroke-width="0.9"/>
<line x1="635.55" y1="384.80" x2="635.55" y2="387.30" stroke="#222" stroke-width="0.9"/>
<line x1="666.80" y1="384.80" x2="666.80" y2="387.30" stroke="#222" stroke-width="0.9"/>
<text x="605.50" y="395.40" font-size="6.3" text-anchor="middle">−5</text>
<text x="635.55" y="395.40" font-size="6.3" text-anchor="middle">0</text>
<text x="668.00" y="395.40" font-size="6.3" text-anchor="end">+5</text>
<text x="349.00" y="406.20" font-size="6.5" text-anchor="middle">Distance from OSK nuc. array centre (kb)</text>
<rect x="542.90" y="402.70" width="55.40" height="6.10" fill="url(#g_div)" stroke="#333" stroke-width="0.6"/>
<path d="M543.6,399.7 L568.5,399.7 M543.6,399.7 L547.8,397.7" fill="none" stroke="#2020d0" stroke-width="1.0"/>
<path d="M571.9,399.7 L597.9,399.7 M597.9,399.7 L593.7,397.7" fill="none" stroke="#d7191c" stroke-width="1.0"/>
<text x="547.00" y="416.70" font-size="6.3" text-anchor="middle">0.03</text>
<text x="571.40" y="416.70" font-size="6.3" text-anchor="middle">0</text>
<text x="594.50" y="416.70" font-size="6.3" text-anchor="middle">0.03</text>
<text x="570.70" y="426.90" font-size="6.5" text-anchor="middle">Motif frequency</text>
<rect x="612.10" y="399.00" width="56.40" height="6.40" fill="url(#g_pur2)" stroke="#333" stroke-width="0.6"/>
<line x1="612.60" y1="405.40" x2="612.60" y2="407.00" stroke="#333" stroke-width="0.6"/>
<text x="612.60" y="416.70" font-size="6.3" text-anchor="middle">0</text>
<line x1="630.33" y1="405.40" x2="630.33" y2="407.00" stroke="#333" stroke-width="0.6"/>
<text x="630.33" y="416.70" font-size="6.3" text-anchor="middle">20</text>
<line x1="648.07" y1="405.40" x2="648.07" y2="407.00" stroke="#333" stroke-width="0.6"/>
<text x="648.07" y="416.70" font-size="6.3" text-anchor="middle">40</text>
<line x1="665.80" y1="405.40" x2="665.80" y2="407.00" stroke="#333" stroke-width="0.6"/>
<text x="665.80" y="416.70" font-size="6.3" text-anchor="middle">60</text>
<text x="646.50" y="426.90" font-size="6.5" text-anchor="middle">MNase-seq (RPGC) (×10<tspan font-size="4.3" dy="-2.3">3</tspan><tspan dy="2.3">)</tspan></text>
<text x="590.50" y="435.20" font-size="6.5" text-anchor="middle"><tspan font-style="italic">Mbd3</tspan><tspan font-size="4.3" dy="-2.3">f/–</tspan><tspan dy="2.3"> secondary OSKM model (ref. 11)</tspan></text>
<text x="244.50" y="430.60" font-size="10.5" font-weight="bold" class="pl">g</text>
<text x="354.00" y="432.60" font-size="6.5" text-anchor="middle">mm9 Chr. 1:110626555–110636555</text>
<text x="452.50" y="433.00" font-size="6.5" text-anchor="middle">2 kb</text>
<path d="M438.3,434.8 L438.3,438.4 M438.3,436.6 L466.2,436.6 M466.2,434.8 L466.2,438.4" fill="none" stroke="#222" stroke-width="0.8"/>
<rect x="353.60" y="441.00" width="46.40" height="191.50" fill="url(#ybG)"/>
<path d="M283.0,457.7 L283.0,450.5 L283.3,450.5 L283.6,449.5 L283.9,449.1 L284.2,448.5 L284.5,448.3 L284.8,448.4 L285.1,449.4 L285.4,450.4 L285.7,450.9 L286.0,453.1 L286.3,453.5 L286.6,454.3 L286.9,453.9 L287.2,454.2 L287.5,453.4 L287.8,453.6 L288.1,453.1 L288.4,452.7 L288.7,454.2 L289.0,454.6 L289.3,454.7 L289.6,455.6 L289.9,456.0 L290.2,456.0 L290.5,455.5 L290.8,455.2 L291.1,455.5 L291.4,455.5 L291.7,455.2 L292.0,455.5 L292.3,455.2 L292.6,455.1 L292.9,455.6 L293.2,455.2 L293.5,455.3 L293.8,455.6 L294.1,455.6 L294.4,455.2 L294.7,455.9 L295.0,456.0 L295.3,455.2 L295.6,455.0 L295.9,455.4 L296.2,455.1 L296.5,455.7 L296.8,455.3 L297.1,454.7 L297.4,454.1 L297.7,453.3 L298.0,452.8 L298.3,452.1 L298.6,451.6 L298.9,450.7 L299.2,450.4 L299.5,451.3 L299.8,452.6 L300.1,454.1 L300.4,454.8 L300.7,455.5 L301.0,455.7 L301.3,455.1 L301.6,455.1 L301.9,455.0 L302.2,454.9 L302.5,454.8 L302.8,454.7 L303.1,453.9 L303.4,453.6 L303.7,454.1 L304.0,452.9 L304.3,453.3 L304.6,452.7 L304.9,452.2 L305.2,452.2 L305.5,453.1 L305.8,453.5 L306.1,454.3 L306.4,455.1 L306.7,455.2 L307.0,455.5 L307.3,454.8 L307.6,454.2 L307.9,453.0 L308.2,452.0 L308.5,451.3 L308.8,451.7 L309.1,451.8 L309.4,451.9 L309.7,451.0 L310.0,452.0 L310.3,452.0 L310.6,453.1 L310.9,453.2 L311.2,454.0 L311.5,454.1 L311.8,454.0 L312.1,453.8 L312.4,454.4 L312.7,454.6 L313.0,454.9 L313.3,455.3 L313.6,455.3 L313.9,455.2 L314.2,455.4 L314.5,455.6 L314.8,455.7 L315.1,455.4 L315.4,455.6 L315.7,455.3 L316.0,455.9 L316.3,455.3 L316.6,455.8 L316.9,455.5 L317.2,454.9 L317.5,455.2 L317.8,455.6 L318.1,455.4 L318.4,454.8 L318.7,454.5 L319.0,454.5 L319.3,454.1 L319.6,454.5 L319.9,455.5 L320.2,454.6 L320.5,455.3 L320.8,455.1 L321.1,455.1 L321.4,454.8 L321.7,454.7 L322.0,454.0 L322.3,453.8 L322.6,453.5 L322.9,453.4 L323.2,453.4 L323.5,453.7 L323.8,454.0 L324.1,454.3 L324.4,455.4 L324.7,454.8 L324.7,457.7 Z M327.7,457.7 L327.7,454.6 L328.0,454.4 L328.3,455.1 L328.6,454.7 L328.9,454.8 L329.2,453.8 L329.5,453.2 L329.8,453.0 L330.1,452.3 L330.4,451.5 L330.7,451.7 L331.0,452.8 L331.3,453.2 L331.6,453.3 L331.9,453.7 L332.2,452.7 L332.5,452.2 L332.8,451.2 L333.1,451.0 L333.4,450.6 L333.7,452.2 L334.0,453.0 L334.3,453.6 L334.6,453.8 L334.9,454.3 L335.2,454.1 L335.5,453.9 L335.8,454.3 L336.1,454.3 L336.4,453.8 L336.7,453.8 L337.0,453.9 L337.3,454.6 L337.6,455.1 L337.9,454.0 L338.2,453.9 L338.5,453.4 L338.8,453.7 L339.1,452.7 L339.4,453.2 L339.7,453.2 L340.0,454.4 L340.3,454.4 L340.6,453.7 L340.9,453.6 L341.2,453.3 L341.5,453.1 L341.8,453.5 L342.1,453.8 L342.4,454.0 L342.7,453.8 L343.0,452.9 L343.3,452.3 L343.6,453.0 L343.9,452.6 L344.2,452.1 L344.5,452.5 L344.8,452.7 L345.1,452.1 L345.4,452.2 L345.7,451.7 L346.0,451.9 L346.3,452.6 L346.6,452.8 L346.9,452.9 L347.2,452.7 L347.5,454.2 L347.8,453.1 L348.1,452.5 L348.4,453.0 L348.7,453.4 L349.0,454.3 L349.3,455.1 L349.6,454.0 L349.9,453.8 L350.2,452.7 L350.5,452.1 L350.8,451.0 L351.1,451.4 L351.4,451.6 L351.7,452.2 L352.0,452.7 L352.3,452.5 L352.6,452.3 L352.9,452.6 L353.2,453.3 L353.5,452.9 L353.8,452.0 L354.1,452.4 L354.4,451.2 L354.7,450.5 L355.0,448.9 L355.3,448.6 L355.6,448.7 L355.9,450.3 L356.2,451.8 L356.5,452.2 L356.8,453.0 L357.1,453.0 L357.4,454.0 L357.7,453.4 L358.0,451.8 L358.3,450.7 L358.6,448.2 L358.9,446.6 L359.2,445.8 L359.5,446.5 L359.8,448.4 L360.1,450.6 L360.4,452.4 L360.7,454.4 L361.0,455.1 L361.3,455.4 L361.6,455.8 L361.9,455.4 L362.2,455.6 L362.5,455.8 L362.8,455.9 L363.1,455.8 L363.4,455.4 L363.7,455.8 L364.0,454.8 L364.3,454.3 L364.6,454.2 L364.9,455.2 L365.2,455.4 L365.5,455.0 L365.8,455.3 L366.1,455.0 L366.4,454.3 L366.7,453.2 L367.0,453.5 L367.3,452.7 L367.6,453.1 L367.9,453.1 L368.2,451.7 L368.5,452.0 L368.8,451.4 L369.1,450.8 L369.4,449.9 L369.7,450.1 L370.0,450.0 L370.3,450.3 L370.6,451.0 L370.9,451.2 L371.2,450.9 L371.5,450.2 L371.8,451.3 L372.1,452.1 L372.4,452.4 L372.7,452.5 L373.0,453.1 L373.3,453.4 L373.6,453.6 L373.9,453.2 L374.2,452.4 L374.5,453.0 L374.8,452.9 L375.1,453.9 L375.4,454.1 L375.7,454.7 L376.0,454.6 L376.3,455.4 L376.6,455.5 L376.9,455.6 L377.2,455.8 L377.5,454.1 L377.8,454.6 L378.1,454.5 L378.4,455.1 L378.7,455.0 L379.0,455.0 L379.3,454.9 L379.6,454.2 L379.9,454.8 L380.2,454.3 L380.5,453.5 L380.8,453.1 L381.1,452.4 L381.4,451.0 L381.7,450.8 L382.0,451.1 L382.3,451.0 L382.6,451.8 L382.9,452.0 L383.2,453.0 L383.5,452.8 L383.8,453.5 L384.1,454.2 L384.4,454.9 L384.7,455.3 L385.0,455.6 L385.3,455.1 L385.6,454.2 L385.9,453.6 L386.2,454.2 L386.5,454.6 L386.8,455.6 L387.1,455.6 L387.4,455.6 L387.7,455.3 L388.0,455.0 L388.3,454.6 L388.6,454.3 L388.9,454.3 L389.2,454.5 L389.5,454.1 L389.8,453.9 L390.1,454.0 L390.4,453.7 L390.7,453.0 L391.0,452.4 L391.3,453.1 L391.6,453.5 L391.9,453.7 L392.2,454.6 L392.5,454.9 L392.8,455.0 L393.1,454.8 L393.4,455.0 L393.7,454.9 L394.0,455.3 L394.3,454.8 L394.6,455.8 L394.9,455.3 L395.2,455.8 L395.5,455.3 L395.8,455.1 L396.1,455.6 L396.4,455.1 L396.7,454.9 L397.0,454.6 L397.3,455.0 L397.6,454.6 L397.9,455.0 L398.2,455.5 L398.5,455.1 L398.8,455.1 L399.1,455.4 L399.4,455.2 L399.7,454.6 L400.0,454.0 L400.3,454.2 L400.6,453.3 L400.9,453.0 L401.2,454.0 L401.5,454.1 L401.8,454.7 L402.1,455.0 L402.4,454.9 L402.7,455.6 L403.0,455.2 L403.3,455.3 L403.6,455.0 L403.9,454.4 L404.2,455.1 L404.5,455.1 L404.8,455.2 L405.1,455.1 L405.4,455.4 L405.7,455.7 L406.0,455.7 L406.3,455.6 L406.6,455.9 L406.9,456.0 L407.2,455.4 L407.5,455.6 L407.8,455.8 L408.1,455.7 L408.4,455.4 L408.7,455.8 L409.0,455.3 L409.3,454.8 L409.6,452.9 L409.9,451.7 L410.2,449.4 L410.5,448.0 L410.8,449.9 L411.1,452.1 L411.4,454.2 L411.7,455.4 L412.0,454.6 L412.3,453.6 L412.6,452.9 L412.9,452.9 L413.2,452.9 L413.5,452.4 L413.8,452.8 L414.1,453.1 L414.4,453.4 L414.7,454.8 L415.0,455.8 L415.3,455.8 L415.6,455.4 L415.9,455.7 L416.2,455.7 L416.5,455.5 L416.8,455.8 L417.1,456.0 L417.4,455.6 L417.7,455.8 L418.0,455.6 L418.3,455.8 L418.6,455.8 L418.9,455.8 L419.2,455.2 L419.5,454.6 L419.8,455.2 L420.1,454.3 L420.4,454.4 L420.7,454.9 L421.0,455.2 L421.3,455.0 L421.6,455.5 L421.9,455.6 L422.2,455.7 L422.5,455.1 L422.8,456.0 L423.1,455.5 L423.4,455.1 L423.7,455.5 L424.0,454.9 L424.3,455.3 L424.6,455.0 L424.9,454.5 L425.2,454.5 L425.5,453.9 L425.8,453.4 L426.1,453.5 L426.4,453.1 L426.7,452.9 L427.0,453.6 L427.3,453.5 L427.6,453.6 L427.9,454.3 L428.2,454.0 L428.5,453.9 L428.8,454.2 L429.1,453.5 L429.4,453.1 L429.7,452.3 L430.0,451.7 L430.3,451.5 L430.6,451.3 L430.9,451.6 L431.2,451.2 L431.5,451.6 L431.8,452.4 L432.1,452.4 L432.4,452.1 L432.7,453.4 L433.0,452.8 L433.3,452.4 L433.6,453.5 L433.9,453.5 L434.2,455.0 L434.5,454.2 L434.8,454.8 L435.1,454.9 L435.4,455.2 L435.7,454.9 L436.0,454.7 L436.3,454.6 L436.6,454.3 L436.9,453.7 L437.2,453.5 L437.5,454.1 L437.8,455.0 L438.1,455.5 L438.4,455.2 L438.7,455.5 L439.0,455.0 L439.3,454.5 L439.6,452.8 L439.9,451.2 L440.2,451.4 L440.5,451.8 L440.8,453.6 L441.1,453.5 L441.4,453.7 L441.7,453.8 L442.0,454.1 L442.3,453.8 L442.6,453.8 L442.9,453.8 L443.2,451.6 L443.5,449.7 L443.8,447.9 L444.1,446.0 L444.4,445.5 L444.7,447.0 L445.0,449.7 L445.3,451.3 L445.6,453.1 L445.9,454.9 L446.2,455.2 L446.5,454.9 L446.8,455.4 L447.1,455.2 L447.4,454.6 L447.7,454.6 L448.0,454.3 L448.3,454.1 L448.6,452.3 L448.9,453.2 L449.2,452.4 L449.5,451.4 L449.8,451.6 L450.1,452.1 L450.4,452.8 L450.7,452.8 L451.0,453.8 L451.3,455.4 L451.6,455.3 L451.9,454.5 L452.2,453.7 L452.5,453.8 L452.8,452.1 L453.1,451.6 L453.4,450.1 L453.7,448.9 L454.0,448.1 L454.3,449.0 L454.6,450.1 L454.9,452.4 L455.2,452.1 L455.5,453.5 L455.8,452.5 L456.1,453.2 L456.4,453.4 L456.7,452.0 L457.0,451.3 L457.3,449.2 L457.6,448.3 L457.9,446.5 L458.2,446.3 L458.5,446.5 L458.8,447.0 L459.1,448.9 L459.4,450.7 L459.4,457.7 Z M463.0,457.7 L463.0,453.4 L463.3,453.3 L463.6,454.1 L463.9,454.5 L464.2,455.0 L464.5,455.0 L464.8,455.3 L465.1,455.8 L465.4,455.4 L465.7,455.6 L466.0,455.5 L466.0,457.7 Z " fill="#000"/>
<path d="M283.0,472.3 L283.0,470.0 L283.3,470.1 L283.6,469.6 L283.9,469.9 L284.2,468.8 L284.5,468.8 L284.8,468.3 L285.1,467.8 L285.4,467.3 L285.7,467.0 L286.0,467.7 L286.3,467.3 L286.6,466.8 L286.9,466.7 L287.2,467.2 L287.5,468.4 L287.8,468.6 L288.1,468.7 L288.4,468.1 L288.7,467.4 L289.0,468.1 L289.3,468.7 L289.6,469.0 L289.9,469.4 L290.2,469.8 L290.5,469.1 L290.8,468.8 L291.1,467.5 L291.4,467.7 L291.7,467.6 L292.0,467.2 L292.3,467.6 L292.6,467.3 L292.9,468.0 L293.2,467.3 L293.5,466.9 L293.8,466.8 L294.1,467.1 L294.4,467.7 L294.7,467.3 L295.0,466.4 L295.3,466.2 L295.6,466.6 L295.9,465.8 L296.2,465.5 L296.5,463.2 L296.8,461.9 L297.1,462.0 L297.4,461.7 L297.7,461.2 L298.0,461.7 L298.3,463.3 L298.6,465.0 L298.9,466.3 L299.2,467.5 L299.5,468.0 L299.8,467.4 L300.1,467.1 L300.4,467.1 L300.7,466.1 L301.0,466.7 L301.3,467.0 L301.6,467.4 L301.9,468.8 L302.2,468.9 L302.5,469.0 L302.8,469.2 L303.1,469.2 L303.4,470.0 L303.7,470.5 L304.0,469.7 L304.3,469.7 L304.6,469.8 L304.9,470.2 L305.2,469.9 L305.5,470.2 L305.8,469.7 L306.1,470.4 L306.4,470.0 L306.7,470.2 L307.0,469.8 L307.3,470.0 L307.6,470.5 L307.9,470.0 L308.2,470.1 L308.5,469.4 L308.8,469.0 L309.1,469.1 L309.4,467.9 L309.7,467.3 L310.0,465.7 L310.3,463.9 L310.6,462.4 L310.9,462.6 L311.2,463.2 L311.5,464.1 L311.8,464.6 L312.1,465.1 L312.4,466.0 L312.7,466.7 L313.0,467.4 L313.3,467.6 L313.6,468.3 L313.9,468.7 L314.2,469.3 L314.5,469.8 L314.8,470.0 L315.1,469.5 L315.4,469.5 L315.7,469.0 L316.0,467.3 L316.3,465.2 L316.6,464.9 L316.9,464.6 L317.2,464.9 L317.5,465.1 L317.8,465.7 L318.1,465.5 L318.4,465.5 L318.7,465.8 L319.0,465.7 L319.3,465.5 L319.6,465.0 L319.9,465.5 L320.2,465.8 L320.5,465.8 L320.8,466.3 L321.1,466.8 L321.4,467.7 L321.7,467.8 L322.0,467.8 L322.3,467.4 L322.6,467.5 L322.9,467.0 L323.2,466.9 L323.5,467.4 L323.8,467.8 L324.1,468.5 L324.4,469.0 L324.4,472.3 Z M327.7,472.3 L327.7,466.6 L328.0,467.1 L328.3,466.9 L328.6,466.8 L328.9,466.4 L329.2,466.6 L329.5,466.9 L329.8,467.3 L330.1,467.9 L330.4,468.3 L330.7,468.5 L331.0,468.4 L331.3,468.6 L331.6,468.6 L331.9,468.6 L332.2,469.0 L332.5,469.7 L332.8,469.3 L333.1,468.5 L333.4,468.4 L333.7,468.0 L334.0,467.8 L334.3,468.0 L334.6,467.2 L334.9,467.0 L335.2,467.0 L335.5,466.9 L335.8,467.1 L336.1,468.0 L336.4,468.5 L336.7,468.5 L337.0,469.0 L337.3,469.6 L337.6,469.0 L337.9,468.5 L338.2,468.7 L338.5,468.5 L338.8,468.7 L339.1,468.7 L339.4,468.2 L339.7,468.0 L340.0,468.6 L340.3,469.5 L340.6,469.8 L340.9,470.2 L341.2,470.3 L341.5,469.9 L341.8,470.2 L342.1,469.3 L342.4,469.8 L342.7,468.6 L343.0,468.4 L343.3,467.5 L343.6,466.4 L343.9,465.9 L344.2,465.7 L344.5,465.5 L344.8,465.5 L345.1,465.3 L345.4,464.7 L345.7,465.8 L346.0,464.5 L346.3,464.8 L346.6,465.4 L346.9,465.2 L347.2,465.8 L347.5,466.6 L347.8,468.0 L348.1,467.7 L348.4,466.3 L348.7,466.2 L349.0,465.0 L349.3,464.7 L349.6,464.0 L349.9,463.8 L350.2,463.1 L350.5,463.1 L350.8,462.6 L351.1,463.9 L351.4,464.9 L351.7,467.1 L352.0,467.9 L352.3,468.4 L352.6,468.6 L352.9,468.3 L353.2,467.0 L353.5,465.9 L353.8,464.4 L354.1,464.1 L354.4,464.1 L354.7,463.9 L355.0,464.9 L355.3,464.9 L355.6,464.3 L355.9,464.8 L356.2,464.8 L356.5,465.8 L356.8,466.3 L357.1,466.1 L357.4,466.0 L357.7,467.1 L358.0,467.2 L358.3,466.8 L358.6,466.2 L358.9,465.8 L359.2,465.1 L359.5,464.9 L359.8,465.6 L360.1,464.9 L360.4,465.2 L360.7,464.3 L361.0,465.2 L361.3,465.7 L361.6,466.6 L361.9,467.1 L362.2,467.9 L362.5,468.6 L362.8,469.2 L363.1,469.6 L363.4,469.8 L363.7,469.7 L364.0,469.2 L364.3,468.8 L364.6,468.0 L364.9,468.2 L365.2,468.7 L365.5,468.7 L365.8,469.7 L366.1,469.5 L366.4,469.3 L366.7,468.7 L367.0,468.4 L367.3,468.6 L367.6,468.4 L367.9,469.3 L368.2,469.3 L368.5,469.7 L368.8,469.8 L369.1,470.3 L369.4,469.6 L369.7,469.8 L370.0,469.4 L370.3,468.1 L370.6,468.1 L370.9,467.8 L371.2,468.3 L371.5,468.8 L371.8,470.0 L372.1,469.5 L372.4,469.7 L372.7,470.2 L373.0,469.7 L373.3,469.1 L373.6,469.1 L373.9,467.3 L374.2,467.0 L374.5,465.3 L374.8,465.1 L375.1,464.9 L375.4,465.0 L375.7,465.2 L376.0,465.9 L376.3,465.5 L376.6,466.5 L376.9,467.2 L377.2,468.2 L377.5,469.3 L377.8,468.9 L378.1,469.6 L378.4,469.6 L378.7,469.7 L379.0,470.4 L379.3,469.9 L379.6,470.3 L379.9,470.3 L380.2,469.9 L380.5,470.6 L380.8,470.3 L381.1,470.2 L381.4,469.8 L381.7,470.0 L382.0,469.6 L382.3,469.9 L382.6,469.7 L382.9,469.1 L383.2,468.3 L383.5,468.2 L383.8,467.6 L384.1,466.5 L384.4,465.0 L384.7,465.2 L385.0,466.8 L385.3,468.2 L385.6,468.1 L385.9,469.3 L386.2,469.7 L386.5,469.7 L386.8,469.7 L387.1,469.5 L387.4,469.2 L387.7,469.4 L388.0,468.8 L388.3,468.8 L388.6,468.4 L388.9,468.5 L389.2,468.8 L389.5,468.7 L389.8,468.8 L390.1,468.5 L390.4,469.1 L390.7,469.9 L391.0,469.5 L391.3,470.0 L391.6,469.2 L391.9,468.9 L392.2,468.5 L392.5,467.4 L392.8,466.5 L393.1,465.5 L393.4,465.1 L393.7,465.7 L394.0,465.5 L394.3,465.4 L394.6,466.0 L394.9,466.4 L395.2,466.7 L395.5,466.8 L395.8,466.3 L396.1,466.2 L396.4,466.3 L396.7,465.8 L397.0,466.8 L397.3,468.3 L397.6,469.1 L397.9,470.0 L398.2,470.1 L398.5,470.6 L398.8,469.9 L399.1,469.8 L399.4,469.4 L399.7,469.4 L400.0,469.4 L400.3,469.2 L400.6,469.4 L400.9,469.5 L401.2,469.3 L401.5,468.5 L401.8,468.5 L402.1,468.0 L402.4,468.2 L402.7,467.9 L403.0,468.1 L403.3,468.8 L403.6,468.8 L403.9,469.2 L404.2,468.1 L404.5,467.8 L404.8,467.3 L405.1,467.3 L405.4,467.5 L405.7,467.4 L406.0,467.2 L406.3,468.2 L406.6,469.2 L406.9,469.8 L407.2,470.1 L407.5,470.4 L407.8,470.0 L408.1,469.7 L408.4,470.3 L408.7,469.9 L409.0,470.3 L409.3,470.1 L409.6,470.2 L409.9,469.9 L410.2,469.7 L410.5,469.3 L410.8,469.1 L411.1,468.2 L411.4,468.6 L411.7,467.8 L412.0,467.3 L412.3,467.4 L412.6,466.8 L412.9,465.8 L413.2,466.5 L413.5,467.0 L413.8,468.4 L414.1,468.7 L414.4,469.0 L414.7,468.8 L415.0,468.6 L415.3,469.4 L415.6,468.9 L415.9,469.5 L416.2,469.7 L416.5,469.9 L416.8,470.0 L417.1,470.5 L417.4,470.1 L417.7,470.4 L418.0,470.0 L418.3,469.4 L418.6,470.5 L418.9,469.7 L419.2,470.4 L419.5,470.0 L419.8,469.2 L420.1,468.8 L420.4,468.2 L420.7,468.2 L421.0,469.1 L421.3,469.5 L421.6,469.2 L421.9,468.9 L422.2,468.0 L422.5,468.5 L422.8,466.8 L423.1,466.3 L423.4,466.1 L423.7,466.0 L424.0,466.2 L424.3,466.7 L424.6,466.6 L424.9,467.9 L425.2,468.7 L425.5,469.0 L425.8,468.8 L426.1,468.5 L426.4,468.3 L426.7,467.7 L427.0,467.1 L427.3,465.8 L427.6,464.5 L427.9,463.5 L428.2,463.1 L428.5,463.2 L428.8,464.4 L429.1,465.5 L429.4,465.5 L429.7,466.1 L430.0,465.6 L430.3,465.8 L430.6,464.9 L430.9,464.8 L431.2,465.0 L431.5,465.5 L431.8,465.5 L432.1,466.2 L432.4,467.5 L432.7,467.9 L433.0,468.5 L433.3,468.3 L433.6,468.6 L433.9,467.4 L434.2,465.7 L434.5,465.0 L434.8,464.4 L435.1,463.1 L435.4,463.6 L435.7,463.0 L436.0,463.1 L436.3,462.7 L436.6,461.3 L436.9,459.6 L437.2,460.9 L437.5,461.5 L437.8,461.1 L438.1,462.5 L438.4,463.2 L438.7,464.8 L439.0,466.4 L439.3,466.4 L439.6,466.5 L439.9,466.1 L440.2,466.5 L440.5,467.3 L440.8,467.5 L441.1,467.9 L441.4,466.7 L441.7,465.3 L442.0,464.7 L442.3,464.1 L442.6,463.8 L442.9,463.4 L443.2,463.3 L443.5,466.7 L443.8,468.0 L444.1,469.4 L444.4,469.8 L444.7,469.4 L445.0,469.8 L445.3,469.1 L445.6,468.9 L445.9,468.5 L446.2,467.1 L446.5,466.6 L446.8,466.1 L447.1,464.7 L447.4,464.0 L447.7,463.8 L448.0,464.1 L448.3,464.1 L448.6,463.5 L448.9,465.2 L449.2,465.9 L449.5,466.0 L449.8,467.2 L450.1,466.1 L450.4,466.8 L450.7,465.4 L451.0,465.5 L451.3,464.8 L451.6,465.3 L451.9,466.1 L452.2,466.2 L452.5,464.8 L452.8,465.8 L453.1,465.6 L453.4,465.9 L453.7,465.3 L454.0,463.9 L454.3,462.8 L454.6,461.0 L454.9,459.6 L455.2,459.2 L455.5,458.5 L455.8,459.4 L456.1,460.4 L456.4,461.3 L456.7,461.3 L457.0,462.1 L457.3,461.6 L457.6,461.2 L457.9,462.9 L458.2,464.5 L458.5,467.4 L458.8,468.9 L459.1,469.9 L459.4,469.9 L459.4,472.3 Z M464.2,472.3 L464.2,469.8 L464.5,469.2 L464.8,469.0 L465.1,469.0 L465.4,468.5 L465.7,469.5 L466.0,469.3 L466.0,472.3 Z " fill="#000"/>
<path d="M281.1,444.4 L282.3,444.4 L282.3,457.5 L281.1,457.5" fill="none" stroke="#222" stroke-width="0.8"/>
<path d="M281.1,458.2 L282.3,458.2 L282.3,472.8 L281.1,472.8" fill="none" stroke="#222" stroke-width="0.8"/>
<text x="285.20" y="447.00" font-size="6.5">MNase–seq</text>
<text x="277.70" y="454.00" font-size="6.5" text-anchor="end">MEF</text>
<text x="277.70" y="469.80" font-size="6.5" text-anchor="end">iPS/ES</text>
<path d="M297.1,494.4 L297.1,493.1 L297.4,493.2 L297.7,493.6 L298.0,493.2 L298.3,493.3 L298.6,493.4 L298.9,493.7 L299.2,493.4 L299.5,493.3 L299.8,493.0 L300.1,493.2 L300.4,493.0 L300.7,492.5 L301.0,492.4 L301.3,492.2 L301.6,492.2 L301.9,492.0 L301.9,494.4 Z M307.0,494.4 L307.0,493.1 L307.3,493.1 L307.6,492.9 L307.9,493.0 L308.2,493.4 L308.5,493.4 L308.8,493.6 L309.1,493.7 L309.4,493.4 L309.7,493.6 L310.0,493.4 L310.3,493.2 L310.6,493.7 L310.9,493.5 L311.2,493.6 L311.5,493.4 L311.8,493.6 L312.1,493.0 L312.4,493.2 L312.7,493.1 L312.7,494.4 Z M318.1,494.4 L318.1,493.1 L318.4,493.6 L318.7,493.2 L319.0,493.4 L319.3,493.6 L319.6,493.2 L319.9,492.6 L320.2,492.9 L320.5,492.8 L320.8,492.9 L320.8,494.4 Z M330.1,494.4 L330.1,493.3 L330.4,493.4 L330.7,493.2 L331.0,493.3 L331.3,492.7 L331.6,492.9 L331.9,493.1 L332.2,493.1 L332.5,492.8 L332.8,492.9 L333.1,492.7 L333.4,492.7 L333.7,492.7 L334.0,492.9 L334.3,493.5 L334.6,493.0 L334.9,493.5 L335.2,493.1 L335.5,493.3 L335.8,493.3 L336.1,493.2 L336.4,493.2 L336.7,493.0 L337.0,493.0 L337.3,493.4 L337.6,493.5 L337.9,493.0 L338.2,493.2 L338.5,493.4 L338.8,493.1 L339.1,493.0 L339.4,493.1 L339.7,493.0 L339.7,494.4 Z M345.1,494.4 L345.1,493.2 L345.4,493.3 L345.7,493.1 L346.0,493.2 L346.3,492.6 L346.6,492.1 L346.9,492.2 L347.2,492.0 L347.5,492.0 L347.8,492.1 L347.8,494.4 Z M357.1,494.4 L357.1,493.1 L357.4,493.3 L357.7,493.2 L358.0,493.5 L358.3,493.5 L358.6,493.2 L358.9,493.4 L359.2,493.2 L359.5,493.2 L359.8,493.1 L360.1,492.8 L360.4,492.7 L360.7,492.8 L361.0,493.1 L361.3,493.0 L361.6,492.9 L361.9,493.0 L362.2,492.8 L362.5,493.1 L362.8,492.9 L362.8,494.4 Z M374.2,494.4 L374.2,493.3 L374.5,493.1 L374.8,492.7 L375.1,492.5 L375.4,492.7 L375.7,492.9 L376.0,492.8 L376.3,492.8 L376.6,492.2 L376.9,492.4 L377.2,492.6 L377.5,492.6 L377.8,492.5 L378.1,492.9 L378.4,492.8 L378.7,492.7 L379.0,493.0 L379.3,493.0 L379.6,493.2 L379.9,493.3 L380.2,493.3 L380.5,493.3 L380.8,493.1 L381.1,493.4 L381.4,493.1 L381.7,492.7 L382.0,492.6 L382.3,492.5 L382.6,492.7 L382.9,493.0 L383.2,493.5 L383.5,493.4 L383.8,493.4 L383.8,494.4 Z M392.2,494.4 L392.2,493.0 L392.5,492.9 L392.8,493.1 L393.1,493.4 L393.4,492.9 L393.7,492.9 L394.0,493.1 L394.3,492.6 L394.6,492.6 L394.9,492.4 L395.2,491.8 L395.5,491.9 L395.8,492.0 L396.1,492.1 L396.4,492.8 L396.7,492.5 L397.0,493.1 L397.3,493.3 L397.6,493.2 L397.9,493.4 L398.2,493.2 L398.5,493.4 L398.8,493.2 L399.1,493.1 L399.4,493.1 L399.7,493.1 L399.7,494.4 Z M405.1,494.4 L405.1,493.2 L405.4,493.6 L405.7,493.7 L406.0,493.7 L406.3,493.4 L406.6,493.5 L406.9,493.4 L406.9,494.4 Z M415.0,494.4 L415.0,491.8 L415.3,491.8 L415.6,492.4 L415.9,492.9 L416.2,492.8 L416.5,493.2 L416.8,493.2 L417.1,493.2 L417.4,493.4 L417.7,493.2 L418.0,493.2 L418.3,492.9 L418.6,493.0 L418.9,493.0 L419.2,493.0 L419.5,493.4 L419.8,493.5 L420.1,493.5 L420.4,493.6 L420.7,493.6 L421.0,493.4 L421.3,493.4 L421.6,493.2 L421.9,492.9 L422.2,492.7 L422.5,492.8 L422.8,493.0 L423.1,492.8 L423.4,492.9 L423.7,492.5 L424.0,492.4 L424.3,492.3 L424.6,492.2 L424.9,491.7 L425.2,491.8 L425.5,491.7 L425.8,492.0 L426.1,492.1 L426.4,491.9 L426.7,492.4 L427.0,493.0 L427.3,492.9 L427.6,493.4 L427.9,493.1 L428.2,493.0 L428.5,493.2 L428.8,492.7 L429.1,492.7 L429.4,492.4 L429.7,492.5 L430.0,492.5 L430.3,492.3 L430.6,493.0 L430.9,493.0 L431.2,493.2 L431.5,493.3 L431.8,493.4 L432.1,493.2 L432.4,493.3 L432.7,493.5 L433.0,493.4 L433.3,493.4 L433.6,493.0 L433.9,492.6 L433.9,494.4 Z M443.2,494.4 L443.2,493.4 L443.5,493.1 L443.8,493.4 L444.1,493.1 L444.4,493.1 L444.7,493.1 L445.0,493.3 L445.3,493.5 L445.6,493.3 L445.9,492.8 L446.2,492.6 L446.5,492.7 L446.8,492.4 L446.8,494.4 Z M450.1,494.4 L450.1,493.3 L450.4,493.6 L450.7,493.5 L451.0,493.6 L451.3,493.7 L451.6,493.4 L451.9,493.6 L452.2,493.5 L452.5,493.7 L452.8,493.5 L453.1,493.0 L453.4,492.9 L453.7,492.7 L454.0,492.3 L454.3,492.0 L454.6,492.0 L454.9,492.1 L455.2,492.2 L455.5,492.3 L455.8,491.9 L456.1,491.8 L456.4,492.0 L456.7,492.1 L457.0,492.0 L457.3,492.7 L457.6,493.0 L457.9,493.2 L458.2,493.3 L458.5,493.2 L458.8,492.9 L459.1,493.3 L459.4,493.1 L459.7,493.2 L460.0,493.5 L460.3,493.4 L460.6,492.9 L460.9,493.0 L461.2,493.0 L461.5,492.9 L461.8,493.3 L462.1,493.5 L462.4,493.3 L462.7,493.3 L463.0,493.4 L463.3,493.3 L463.6,493.2 L463.9,493.2 L463.9,494.4 Z " fill="#ea1548"/>
<path d="M287.2,508.8 L287.2,507.8 L287.5,507.9 L287.8,508.3 L288.1,507.9 L288.4,507.7 L288.7,507.6 L289.0,507.4 L289.3,507.3 L289.6,506.9 L289.9,507.2 L290.2,506.9 L290.5,507.0 L290.8,507.1 L291.1,507.0 L291.4,507.6 L291.7,507.7 L292.0,507.6 L292.3,507.7 L292.6,507.7 L292.9,507.9 L293.2,507.8 L293.5,507.4 L293.8,507.4 L294.1,507.3 L294.4,507.1 L294.7,506.7 L295.0,506.9 L295.3,506.9 L295.6,507.5 L295.9,507.6 L296.2,507.7 L296.5,507.8 L296.8,508.0 L297.1,508.2 L297.4,508.1 L297.7,508.2 L298.0,508.0 L298.3,507.6 L298.6,507.3 L298.9,507.3 L299.2,507.7 L299.5,508.0 L299.8,507.9 L300.1,507.9 L300.4,507.5 L300.7,507.2 L301.0,507.3 L301.3,507.1 L301.6,506.9 L301.9,507.2 L302.2,507.6 L302.5,508.1 L302.8,507.6 L303.1,507.6 L303.4,507.6 L303.7,507.3 L304.0,507.2 L304.3,507.1 L304.6,507.3 L304.9,507.4 L305.2,507.3 L305.5,507.3 L305.8,507.3 L306.1,507.2 L306.4,506.9 L306.7,507.1 L307.0,507.1 L307.3,507.2 L307.6,507.1 L307.9,507.6 L308.2,507.7 L308.5,507.3 L308.8,507.2 L309.1,506.8 L309.4,507.0 L309.7,507.2 L310.0,507.2 L310.3,507.4 L310.6,507.6 L310.9,507.7 L311.2,507.6 L311.5,508.0 L311.8,507.8 L312.1,507.8 L312.4,508.0 L312.7,508.0 L312.7,508.8 Z M318.1,508.8 L318.1,507.7 L318.4,508.0 L318.7,508.3 L319.0,508.0 L319.3,508.2 L319.6,507.9 L319.9,507.9 L320.2,507.5 L320.5,507.5 L320.8,507.0 L321.1,506.9 L321.4,507.3 L321.7,507.5 L322.0,507.4 L322.3,507.4 L322.6,507.5 L322.9,507.5 L323.2,507.5 L323.5,507.9 L323.8,508.0 L324.1,508.0 L324.4,508.2 L324.7,508.1 L325.0,508.0 L325.3,508.3 L325.6,508.0 L325.9,508.0 L325.9,508.8 Z M332.2,508.8 L332.2,506.7 L332.5,506.5 L332.8,506.5 L333.1,506.8 L333.4,507.1 L333.7,507.5 L334.0,507.7 L334.3,507.8 L334.6,507.5 L334.9,507.2 L335.2,507.4 L335.5,507.4 L335.8,507.3 L335.8,508.8 Z M341.2,508.8 L341.2,507.7 L341.5,507.8 L341.8,507.9 L342.1,507.8 L342.4,507.9 L342.7,507.6 L343.0,507.8 L343.3,507.5 L343.6,507.2 L343.9,507.2 L344.2,507.1 L344.5,507.4 L344.8,507.2 L345.1,507.2 L345.4,507.3 L345.7,507.0 L346.0,507.2 L346.3,507.1 L346.6,507.2 L346.9,507.0 L347.2,507.2 L347.5,507.1 L347.8,507.2 L347.8,508.8 Z M350.2,508.8 L350.2,507.2 L350.5,507.5 L350.8,508.0 L351.1,507.5 L351.4,507.6 L351.7,507.5 L351.7,508.8 Z M363.1,508.8 L363.1,506.8 L363.4,507.2 L363.7,507.4 L364.0,507.2 L364.3,507.4 L364.6,507.1 L364.9,507.7 L365.2,507.9 L365.5,507.8 L365.8,508.1 L366.1,508.1 L366.4,508.1 L366.7,508.1 L367.0,508.0 L367.3,508.0 L367.6,508.3 L367.9,507.9 L368.2,508.1 L368.5,507.9 L368.8,508.0 L369.1,507.9 L369.4,507.7 L369.7,507.8 L370.0,507.9 L370.3,507.9 L370.6,508.0 L370.9,507.8 L371.2,508.1 L371.5,508.1 L371.8,507.7 L371.8,508.8 Z M378.1,508.8 L378.1,507.2 L378.4,507.1 L378.7,507.1 L379.0,507.0 L379.3,507.2 L379.6,507.3 L379.9,507.4 L380.2,507.7 L380.5,507.8 L380.8,507.6 L381.1,507.9 L381.4,507.8 L381.7,507.8 L382.0,507.9 L382.3,507.8 L382.6,508.0 L382.9,507.4 L383.2,507.4 L383.5,507.3 L383.8,507.2 L384.1,507.2 L384.4,507.4 L384.7,507.5 L385.0,507.5 L385.3,507.5 L385.6,507.7 L385.9,507.6 L386.2,507.3 L386.5,507.0 L386.8,507.1 L387.1,507.2 L387.4,507.2 L387.7,507.3 L388.0,507.4 L388.3,507.5 L388.6,507.1 L388.9,507.3 L389.2,507.4 L389.5,507.1 L389.8,507.2 L389.8,508.8 Z M398.2,508.8 L398.2,507.7 L398.5,507.8 L398.8,507.6 L399.1,507.4 L399.4,507.0 L399.7,506.8 L400.0,506.9 L400.3,507.2 L400.6,507.5 L400.9,507.5 L401.2,507.7 L401.5,507.4 L401.8,507.3 L402.1,506.8 L402.4,506.6 L402.7,506.5 L403.0,506.6 L403.3,507.2 L403.6,507.5 L403.9,507.9 L404.2,508.3 L404.5,508.2 L404.8,507.7 L405.1,508.3 L405.4,508.0 L405.7,507.9 L406.0,508.0 L406.3,508.0 L406.6,508.1 L406.9,508.0 L407.2,507.8 L407.5,507.6 L407.8,507.3 L407.8,508.8 Z M418.0,508.8 L418.0,507.2 L418.3,507.3 L418.6,507.4 L418.9,507.7 L419.2,507.6 L419.5,507.5 L419.8,507.6 L420.1,507.9 L420.4,507.7 L420.7,507.7 L421.0,507.7 L421.3,507.5 L421.6,506.8 L421.9,506.2 L422.2,506.2 L422.5,506.2 L422.8,506.1 L423.1,505.9 L423.4,505.8 L423.7,506.0 L424.0,505.8 L424.3,506.2 L424.6,506.1 L424.9,505.9 L425.2,506.0 L425.5,506.2 L425.8,506.2 L426.1,506.4 L426.4,506.6 L426.7,506.5 L427.0,507.0 L427.3,506.7 L427.6,507.8 L427.9,507.5 L428.2,508.0 L428.5,508.1 L428.8,508.0 L429.1,508.3 L429.4,508.0 L429.7,507.9 L430.0,508.1 L430.3,508.0 L430.6,507.8 L430.9,507.9 L431.2,507.6 L431.5,507.7 L431.8,507.3 L432.1,507.5 L432.4,507.6 L432.7,507.3 L433.0,507.5 L433.3,507.8 L433.6,507.5 L433.9,507.9 L434.2,507.8 L434.5,507.6 L434.8,508.1 L435.1,508.1 L435.4,507.9 L435.7,508.2 L436.0,507.5 L436.3,507.7 L436.6,507.3 L436.9,507.3 L437.2,507.7 L437.5,507.6 L437.8,507.0 L438.1,507.2 L438.4,507.1 L438.7,507.2 L439.0,507.3 L439.3,507.6 L439.6,507.9 L439.9,507.8 L440.2,507.9 L440.5,507.8 L440.8,508.2 L441.1,507.8 L441.4,507.9 L441.7,508.1 L442.0,507.9 L442.3,508.0 L442.6,508.2 L442.9,507.9 L443.2,507.5 L443.5,507.1 L443.8,506.9 L444.1,507.4 L444.4,507.8 L444.7,507.9 L445.0,507.6 L445.3,507.4 L445.6,507.2 L445.9,507.5 L446.2,507.5 L446.5,507.5 L446.8,507.4 L447.1,507.3 L447.4,507.1 L447.7,507.2 L448.0,507.2 L448.3,507.7 L448.6,507.8 L448.9,507.5 L449.2,507.2 L449.5,507.5 L449.8,507.6 L450.1,507.4 L450.4,507.7 L450.7,507.4 L451.0,507.3 L451.3,507.4 L451.6,507.1 L451.9,507.3 L451.9,508.8 Z " fill="#ea1548"/>
<path d="M294.1,523.5 L294.1,522.4 L294.4,522.2 L294.7,522.4 L295.0,522.0 L295.3,522.1 L295.6,522.3 L295.9,521.9 L296.2,521.5 L296.5,521.8 L296.8,521.7 L297.1,521.6 L297.4,521.5 L297.7,521.6 L298.0,521.3 L298.3,521.4 L298.6,521.9 L298.9,521.9 L299.2,522.2 L299.5,522.4 L299.8,522.0 L300.1,522.0 L300.4,522.3 L300.7,522.5 L301.0,522.0 L301.3,522.2 L301.6,522.1 L301.9,522.4 L301.9,523.5 Z M307.0,523.5 L307.0,522.1 L307.3,522.1 L307.6,522.1 L307.9,522.0 L308.2,521.8 L308.5,521.9 L308.8,521.6 L309.1,521.9 L309.4,521.9 L309.7,522.2 L310.0,522.3 L310.3,522.3 L310.6,522.5 L310.9,522.5 L311.2,522.4 L311.5,522.7 L311.8,522.5 L311.8,523.5 Z M320.2,523.5 L320.2,520.9 L320.5,520.9 L320.8,520.6 L321.1,520.8 L321.4,521.1 L321.7,521.1 L322.0,521.1 L322.3,520.8 L322.6,521.2 L322.9,521.0 L323.2,521.2 L323.5,521.4 L323.8,521.6 L324.1,521.0 L324.4,520.5 L324.7,520.2 L325.0,520.1 L325.3,520.5 L325.6,520.0 L325.9,519.9 L326.2,519.7 L326.5,518.6 L326.8,518.3 L327.1,517.3 L327.4,517.3 L327.7,516.9 L328.0,517.1 L328.3,517.9 L328.6,517.8 L328.9,517.7 L329.2,518.0 L329.5,517.4 L329.8,517.3 L330.1,517.2 L330.4,516.8 L330.7,515.7 L331.0,514.5 L331.3,515.1 L331.6,515.2 L331.9,515.7 L332.2,515.9 L332.5,516.3 L332.8,516.3 L333.1,516.0 L333.4,516.7 L333.7,516.7 L334.0,516.6 L334.3,517.6 L334.6,517.2 L334.9,518.4 L335.2,518.3 L335.5,518.4 L335.8,518.1 L336.1,518.2 L336.4,519.2 L336.7,518.0 L337.0,518.0 L337.3,518.0 L337.6,517.8 L337.9,516.7 L338.2,516.7 L338.5,517.2 L338.8,518.2 L339.1,518.8 L339.4,519.6 L339.7,519.9 L340.0,519.5 L340.3,520.4 L340.6,520.3 L340.9,520.6 L341.2,521.1 L341.5,521.3 L341.8,521.0 L342.1,521.6 L342.4,521.4 L342.7,521.8 L343.0,521.8 L343.3,521.3 L343.6,522.1 L343.9,521.6 L344.2,521.4 L344.5,521.1 L344.8,521.6 L345.1,521.7 L345.4,521.7 L345.7,521.4 L346.0,521.5 L346.3,522.0 L346.6,521.1 L346.9,521.4 L347.2,521.5 L347.5,520.9 L347.8,520.9 L348.1,520.5 L348.4,520.5 L348.7,520.6 L349.0,521.3 L349.3,520.8 L349.6,521.3 L349.9,521.4 L350.2,521.7 L350.5,521.9 L350.8,521.8 L351.1,521.9 L351.4,522.1 L351.7,521.9 L352.0,522.1 L352.3,522.2 L352.6,522.1 L352.9,522.2 L352.9,523.5 Z M366.1,523.5 L366.1,522.2 L366.4,522.3 L366.7,522.2 L367.0,522.3 L367.3,522.2 L367.6,521.8 L367.9,522.0 L368.2,522.3 L368.5,522.4 L368.8,522.2 L369.1,522.2 L369.4,521.8 L369.7,521.5 L370.0,521.7 L370.3,521.3 L370.6,521.7 L370.9,522.1 L371.2,522.2 L371.5,522.6 L371.8,522.6 L371.8,523.5 Z M384.1,523.5 L384.1,522.3 L384.4,522.7 L384.7,522.6 L385.0,522.3 L385.3,522.4 L385.6,522.4 L385.9,522.5 L386.2,522.6 L386.5,522.5 L386.8,522.5 L387.1,522.3 L387.4,522.3 L387.7,522.5 L388.0,522.2 L388.3,522.8 L388.6,522.4 L388.9,522.6 L389.2,522.6 L389.5,522.7 L389.8,522.6 L389.8,523.5 Z M400.0,523.5 L400.0,522.5 L400.3,522.7 L400.6,522.2 L400.9,522.2 L401.2,522.4 L401.5,522.3 L401.8,522.5 L402.1,522.1 L402.4,522.2 L402.7,522.2 L403.0,522.3 L403.3,522.2 L403.6,522.3 L403.9,522.3 L404.2,522.4 L404.5,522.4 L404.8,522.4 L404.8,523.5 Z M413.2,523.5 L413.2,521.7 L413.5,521.4 L413.8,521.6 L414.1,521.5 L414.4,521.4 L414.7,521.4 L415.0,521.4 L415.3,521.8 L415.6,521.9 L415.9,522.0 L416.2,522.0 L416.5,522.2 L416.8,522.1 L417.1,522.2 L417.4,521.9 L417.7,521.8 L418.0,522.1 L418.3,521.7 L418.6,521.7 L418.9,521.5 L419.2,521.7 L419.5,521.6 L419.8,521.9 L419.8,523.5 Z M424.0,523.5 L424.0,521.7 L424.3,521.8 L424.6,521.6 L424.9,521.6 L425.2,521.7 L425.5,521.6 L425.8,521.2 L426.1,521.6 L426.4,521.5 L426.7,521.6 L427.0,521.6 L427.3,521.8 L427.6,521.8 L427.9,521.9 L428.2,521.9 L428.5,521.6 L428.8,521.6 L429.1,522.1 L429.4,522.1 L429.7,522.5 L429.7,523.5 Z M440.2,523.5 L440.2,521.9 L440.5,522.1 L440.8,521.7 L441.1,521.8 L441.4,521.6 L441.7,521.8 L442.0,521.6 L442.3,521.9 L442.6,521.7 L442.9,522.2 L443.2,521.9 L443.5,521.9 L443.8,522.0 L444.1,522.0 L444.4,522.0 L444.7,522.3 L445.0,522.3 L445.3,522.2 L445.6,522.1 L445.9,522.2 L446.2,522.3 L446.5,522.1 L446.8,522.3 L447.1,522.4 L447.4,522.1 L447.7,522.5 L447.7,523.5 Z M451.0,523.5 L451.0,522.3 L451.3,522.3 L451.6,522.1 L451.9,522.1 L452.2,522.1 L452.5,521.6 L452.8,521.5 L453.1,521.1 L453.4,520.6 L453.7,520.0 L454.0,519.3 L454.3,519.2 L454.6,518.6 L454.9,518.9 L455.2,518.9 L455.5,519.0 L455.8,519.4 L456.1,520.1 L456.4,520.9 L456.7,521.0 L457.0,521.4 L457.3,522.1 L457.6,522.0 L457.9,522.4 L458.2,522.5 L458.5,522.6 L458.8,522.7 L458.8,523.5 Z M462.1,523.5 L462.1,521.9 L462.4,522.0 L462.7,522.1 L463.0,521.6 L463.3,521.9 L463.6,521.6 L463.9,521.4 L464.2,521.6 L464.5,521.7 L464.8,521.6 L464.8,523.5 Z " fill="#ea1548"/>
<text x="285.20" y="484.00" font-size="6.5">ATAC–seq</text>
<path d="M281.1,479.2 L282.3,479.2 L282.3,492.2 L281.1,492.2" fill="none" stroke="#222" stroke-width="0.8"/>
<path d="M281.1,494.4 L282.3,494.4 L282.3,507.5 L281.1,507.5" fill="none" stroke="#222" stroke-width="0.8"/>
<path d="M281.1,510.4 L282.3,510.4 L282.3,523.4 L281.1,523.4" fill="none" stroke="#222" stroke-width="0.8"/>
<text x="277.70" y="489.70" font-size="6.5" text-anchor="end">MEF</text>
<text x="277.70" y="504.40" font-size="6.5" text-anchor="end">OSKM-72h</text>
<text x="277.70" y="519.60" font-size="6.5" text-anchor="end">iPS/ES</text>
<path d="M283.0,547.6 L283.0,546.4 L283.3,546.3 L283.6,546.4 L283.9,546.2 L284.2,545.6 L284.5,545.9 L284.8,545.3 L285.1,545.7 L285.4,545.2 L285.7,545.4 L286.0,545.1 L286.3,545.4 L286.6,545.5 L286.9,545.8 L287.2,545.8 L287.5,545.8 L287.8,545.8 L288.1,546.0 L288.4,545.8 L288.7,545.7 L289.0,545.9 L289.3,545.3 L289.6,545.5 L289.9,545.2 L290.2,545.3 L290.5,545.3 L290.8,545.3 L291.1,545.5 L291.4,545.0 L291.7,544.5 L292.0,544.4 L292.3,544.4 L292.6,544.7 L292.9,545.1 L293.2,544.9 L293.5,545.4 L293.8,545.2 L294.1,545.3 L294.4,545.2 L294.7,545.2 L295.0,544.5 L295.3,543.7 L295.6,543.8 L295.9,543.9 L296.2,544.0 L296.5,544.4 L296.8,544.8 L297.1,545.4 L297.4,545.4 L297.7,546.0 L298.0,546.2 L298.3,546.3 L298.6,546.7 L298.9,546.1 L299.2,546.1 L299.5,546.6 L299.8,545.8 L300.1,546.1 L300.4,546.0 L300.7,545.7 L301.0,545.8 L301.3,546.2 L301.6,546.2 L301.9,546.7 L302.2,546.3 L302.5,546.5 L302.8,546.7 L303.1,546.2 L303.4,546.4 L303.7,545.7 L304.0,545.4 L304.3,545.9 L304.6,545.6 L304.9,545.7 L305.2,545.7 L305.5,545.8 L305.8,545.7 L306.1,546.1 L306.4,545.7 L306.7,545.5 L307.0,546.1 L307.3,545.9 L307.6,545.8 L307.9,546.1 L308.2,545.8 L308.5,544.9 L308.8,545.3 L309.1,545.0 L309.4,545.4 L309.7,545.3 L310.0,545.3 L310.3,545.6 L310.6,545.1 L310.9,545.1 L311.2,545.5 L311.5,545.5 L311.8,545.8 L312.1,545.4 L312.4,546.0 L312.7,545.9 L313.0,545.9 L313.3,545.7 L313.6,545.3 L313.9,545.6 L314.2,545.5 L314.5,545.9 L314.8,545.7 L315.1,546.0 L315.4,545.8 L315.7,546.3 L316.0,545.3 L316.3,545.3 L316.6,545.8 L316.9,545.6 L317.2,545.3 L317.5,545.5 L317.8,544.8 L318.1,544.6 L318.4,544.8 L318.7,544.7 L318.7,547.6 Z M321.7,547.6 L321.7,543.0 L322.0,542.8 L322.3,542.4 L322.6,543.0 L322.9,542.5 L323.2,542.6 L323.5,543.1 L323.8,543.4 L324.1,543.8 L324.4,544.1 L324.7,544.6 L325.0,544.2 L325.3,544.2 L325.6,543.6 L325.9,543.9 L326.2,543.9 L326.5,544.5 L326.8,545.2 L327.1,545.2 L327.4,545.5 L327.7,545.7 L328.0,545.6 L328.3,544.8 L328.6,544.8 L328.9,544.6 L329.2,544.0 L329.5,543.8 L329.8,544.2 L330.1,544.8 L330.4,545.3 L330.7,545.2 L331.0,545.5 L331.3,544.9 L331.6,545.5 L331.9,545.8 L332.2,545.0 L332.5,544.2 L332.8,543.9 L333.1,543.4 L333.4,543.2 L333.7,542.9 L334.0,543.5 L334.3,543.1 L334.6,543.5 L334.9,544.0 L335.2,543.9 L335.5,544.1 L335.8,544.9 L336.1,544.3 L336.4,544.2 L336.7,544.6 L337.0,544.1 L337.3,543.4 L337.6,542.7 L337.9,542.0 L338.2,542.1 L338.5,543.3 L338.8,544.4 L339.1,544.8 L339.4,545.0 L339.7,545.4 L340.0,545.3 L340.3,545.4 L340.6,545.2 L340.9,545.4 L341.2,544.6 L341.5,545.3 L341.8,545.0 L342.1,545.5 L342.4,545.7 L342.7,545.8 L343.0,545.9 L343.3,546.1 L343.6,546.5 L343.9,545.9 L344.2,545.9 L344.5,545.8 L344.8,545.7 L345.1,545.0 L345.4,544.8 L345.7,544.2 L346.0,542.7 L346.3,542.3 L346.6,542.2 L346.9,542.2 L347.2,541.7 L347.5,542.0 L347.8,542.2 L348.1,542.7 L348.4,543.1 L348.7,543.4 L349.0,544.1 L349.3,544.0 L349.6,544.2 L349.9,544.4 L350.2,544.2 L350.5,544.5 L350.8,544.6 L351.1,544.7 L351.4,545.0 L351.7,545.9 L352.0,545.8 L352.3,545.6 L352.6,545.8 L352.9,545.9 L353.2,545.6 L353.5,545.4 L353.8,545.3 L354.1,544.8 L354.4,544.6 L354.7,544.5 L355.0,543.7 L355.3,543.9 L355.6,543.1 L355.9,543.3 L356.2,543.0 L356.5,543.1 L356.8,543.0 L357.1,543.1 L357.4,543.0 L357.7,542.9 L358.0,542.5 L358.3,542.4 L358.6,542.3 L358.9,542.7 L359.2,542.0 L359.5,542.3 L359.8,542.8 L360.1,542.8 L360.4,542.7 L360.7,542.3 L361.0,542.3 L361.3,541.7 L361.6,540.9 L361.9,540.9 L362.2,541.3 L362.5,541.0 L362.8,540.7 L363.1,540.7 L363.4,540.6 L363.7,540.7 L364.0,540.1 L364.3,539.3 L364.6,539.3 L364.9,539.5 L365.2,540.3 L365.5,540.9 L365.8,540.5 L366.1,540.3 L366.4,540.1 L366.7,539.5 L367.0,539.4 L367.3,539.7 L367.6,539.9 L367.9,540.1 L368.2,540.5 L368.5,540.5 L368.8,541.6 L369.1,541.5 L369.4,542.1 L369.7,542.5 L370.0,543.0 L370.3,542.8 L370.6,543.2 L370.9,543.4 L371.2,543.4 L371.5,543.7 L371.8,543.7 L372.1,543.7 L372.4,543.2 L372.7,542.4 L373.0,542.6 L373.3,542.7 L373.6,542.6 L373.9,542.5 L374.2,541.8 L374.5,541.8 L374.8,541.5 L375.1,541.8 L375.4,541.7 L375.7,542.9 L376.0,543.3 L376.3,543.3 L376.6,543.6 L376.9,544.1 L377.2,544.1 L377.5,544.2 L377.8,544.0 L378.1,544.5 L378.4,544.8 L378.7,545.0 L379.0,545.3 L379.3,545.2 L379.6,545.4 L379.9,545.4 L380.2,545.8 L380.5,545.9 L380.8,546.1 L381.1,545.5 L381.4,546.0 L381.7,545.5 L382.0,545.3 L382.3,545.6 L382.6,545.2 L382.9,545.4 L383.2,545.7 L383.5,545.9 L383.8,545.7 L384.1,545.7 L384.4,545.7 L384.7,545.6 L385.0,545.3 L385.3,545.5 L385.6,545.6 L385.9,545.4 L386.2,545.2 L386.5,545.8 L386.8,545.9 L387.1,545.4 L387.4,546.1 L387.7,545.7 L388.0,545.3 L388.3,545.6 L388.6,545.7 L388.9,545.7 L389.2,545.6 L389.5,545.9 L389.8,545.7 L390.1,545.7 L390.4,545.2 L390.7,544.8 L391.0,544.5 L391.3,544.0 L391.6,543.6 L391.9,543.3 L392.2,543.6 L392.5,543.9 L392.8,544.0 L393.1,543.9 L393.4,544.3 L393.7,544.5 L394.0,545.3 L394.3,544.7 L394.6,545.1 L394.9,545.2 L395.2,545.3 L395.5,545.2 L395.8,545.8 L396.1,545.2 L396.4,545.7 L396.7,545.0 L397.0,545.1 L397.3,544.9 L397.6,544.6 L397.9,544.2 L398.2,543.7 L398.5,544.0 L398.8,544.2 L399.1,544.6 L399.4,544.5 L399.7,545.2 L400.0,545.5 L400.3,545.4 L400.6,545.7 L400.9,545.8 L401.2,546.2 L401.5,546.3 L401.8,546.0 L402.1,546.4 L402.4,546.2 L402.7,546.2 L403.0,546.2 L403.3,546.2 L403.6,546.1 L403.9,546.3 L404.2,546.2 L404.5,545.7 L404.8,546.0 L405.1,545.7 L405.4,545.6 L405.7,545.2 L406.0,544.7 L406.3,544.7 L406.6,545.3 L406.9,545.6 L407.2,545.5 L407.5,545.2 L407.8,544.8 L408.1,544.9 L408.4,544.5 L408.7,544.2 L409.0,544.5 L409.3,543.7 L409.6,543.6 L409.9,543.6 L409.9,547.6 Z M412.0,547.6 L412.0,544.5 L412.3,544.5 L412.6,544.6 L412.9,544.6 L413.2,544.7 L413.5,545.1 L413.8,545.3 L414.1,545.6 L414.4,545.5 L414.7,545.7 L415.0,546.1 L415.3,546.3 L415.6,546.4 L415.9,546.4 L416.2,546.0 L416.5,545.8 L416.8,546.2 L417.1,545.8 L417.4,545.4 L417.7,545.3 L418.0,545.8 L418.3,545.8 L418.6,545.9 L418.9,545.3 L419.2,545.5 L419.5,545.4 L419.8,545.4 L420.1,544.8 L420.4,544.7 L420.7,543.9 L421.0,544.0 L421.3,543.7 L421.6,543.9 L421.9,544.3 L422.2,544.7 L422.5,544.6 L422.8,545.0 L423.1,545.7 L423.4,545.1 L423.7,545.5 L424.0,544.8 L424.3,544.5 L424.6,544.6 L424.9,545.0 L425.2,545.1 L425.5,545.0 L425.8,545.6 L426.1,545.6 L426.4,545.7 L426.7,546.0 L427.0,546.2 L427.3,546.3 L427.6,546.2 L427.9,545.9 L428.2,546.2 L428.5,546.2 L428.8,545.8 L429.1,545.9 L429.4,546.0 L429.7,546.1 L430.0,546.1 L430.3,546.0 L430.6,546.1 L430.9,546.0 L431.2,546.1 L431.5,546.0 L431.8,546.5 L432.1,546.6 L432.4,546.2 L432.7,546.2 L433.0,546.7 L433.3,546.7 L433.6,546.2 L433.9,546.3 L434.2,545.9 L434.5,545.5 L434.8,545.7 L435.1,545.9 L435.4,545.9 L435.7,546.5 L436.0,546.2 L436.3,545.4 L436.6,545.7 L436.9,545.5 L437.2,546.0 L437.5,545.6 L437.8,546.4 L438.1,546.1 L438.4,546.3 L438.7,546.6 L439.0,546.4 L439.3,547.1 L439.6,546.3 L439.9,546.5 L440.2,546.5 L440.5,546.6 L440.8,546.4 L441.1,546.1 L441.4,545.7 L441.7,545.2 L442.0,545.2 L442.3,545.1 L442.6,545.5 L442.9,545.0 L443.2,545.5 L443.5,546.3 L443.8,545.8 L444.1,545.5 L444.4,546.2 L444.7,546.2 L445.0,546.3 L445.3,546.1 L445.6,546.0 L445.9,546.4 L446.2,546.8 L446.5,546.4 L446.8,546.7 L447.1,546.6 L447.4,546.1 L447.7,546.3 L448.0,546.4 L448.3,546.1 L448.6,546.0 L448.9,546.3 L449.2,545.8 L449.5,546.3 L449.8,546.1 L450.1,546.2 L450.4,546.0 L450.7,545.8 L451.0,545.3 L451.3,545.2 L451.6,545.4 L451.9,545.2 L452.2,545.7 L452.5,545.3 L452.8,545.6 L453.1,545.9 L453.4,545.7 L453.7,545.4 L454.0,545.7 L454.3,545.8 L454.6,546.0 L454.9,545.9 L455.2,545.9 L455.5,545.7 L455.8,545.6 L456.1,545.6 L456.4,545.7 L456.7,545.7 L457.0,545.4 L457.3,545.0 L457.6,545.0 L457.9,544.5 L458.2,544.3 L458.5,544.8 L458.8,544.8 L459.1,544.7 L459.4,544.9 L459.7,544.8 L460.0,544.8 L460.3,544.2 L460.6,544.3 L460.9,544.0 L461.2,544.2 L461.5,544.0 L461.8,544.0 L462.1,544.0 L462.4,543.8 L462.7,544.5 L463.0,545.3 L463.3,546.2 L463.6,546.2 L463.9,546.1 L464.2,546.1 L464.5,546.0 L464.8,545.6 L465.1,545.5 L465.4,545.8 L465.7,545.9 L466.0,546.1 L466.0,547.6 Z " fill="#3d85c6"/>
<path d="M283.0,562.6 L283.0,561.0 L283.3,560.6 L283.6,560.3 L283.9,560.0 L284.2,559.6 L284.5,559.6 L284.8,559.2 L285.1,559.3 L285.4,559.4 L285.7,560.1 L286.0,559.9 L286.3,560.1 L286.6,560.5 L286.9,560.8 L287.2,560.7 L287.5,560.3 L287.8,559.9 L288.1,559.5 L288.4,559.4 L288.7,559.9 L289.0,559.8 L289.3,560.1 L289.6,560.5 L289.9,560.6 L290.2,560.7 L290.5,561.2 L290.8,560.8 L291.1,561.0 L291.4,561.0 L291.7,561.0 L292.0,560.7 L292.3,561.1 L292.6,561.4 L292.9,561.0 L293.2,561.2 L293.5,560.9 L293.8,561.1 L294.1,560.9 L294.4,560.8 L294.7,560.1 L295.0,560.5 L295.3,559.8 L295.6,560.4 L295.9,560.1 L296.2,560.0 L296.5,560.3 L296.8,560.4 L297.1,559.8 L297.4,559.1 L297.7,558.9 L298.0,559.3 L298.3,558.9 L298.6,558.9 L298.9,558.6 L299.2,558.8 L299.5,559.1 L299.8,558.3 L300.1,558.7 L300.4,559.0 L300.7,558.3 L301.0,558.2 L301.3,558.0 L301.6,558.7 L301.9,558.5 L302.2,559.0 L302.5,559.2 L302.8,559.4 L303.1,559.4 L303.4,559.7 L303.7,559.1 L304.0,559.4 L304.3,559.2 L304.6,559.5 L304.9,559.6 L305.2,559.6 L305.5,560.0 L305.8,559.6 L306.1,559.9 L306.4,559.5 L306.7,559.4 L307.0,559.4 L307.3,559.6 L307.6,559.1 L307.9,558.9 L308.2,558.8 L308.5,558.3 L308.8,559.0 L309.1,558.6 L309.4,558.2 L309.7,559.3 L310.0,559.2 L310.3,559.3 L310.6,559.8 L310.9,560.0 L311.2,560.1 L311.5,559.7 L311.8,560.6 L312.1,560.3 L312.4,560.4 L312.7,559.8 L313.0,559.9 L313.3,559.6 L313.6,559.7 L313.9,559.4 L314.2,559.2 L314.5,558.9 L314.8,558.6 L315.1,558.0 L315.4,557.7 L315.7,557.8 L316.0,558.5 L316.3,558.3 L316.6,558.1 L316.9,559.0 L317.2,559.4 L317.5,559.1 L317.8,559.8 L318.1,559.7 L318.4,559.7 L318.7,559.9 L319.0,560.0 L319.3,559.7 L319.6,560.0 L319.9,559.8 L320.2,559.9 L320.5,560.4 L320.8,560.2 L321.1,560.8 L321.4,560.7 L321.7,561.0 L322.0,561.3 L322.3,561.2 L322.6,561.2 L322.9,561.1 L323.2,561.2 L323.5,561.5 L323.8,561.3 L324.1,561.8 L324.4,561.0 L324.7,561.1 L325.0,560.9 L325.3,560.8 L325.6,561.0 L325.9,560.4 L326.2,560.3 L326.5,560.2 L326.8,559.7 L327.1,559.7 L327.4,559.4 L327.7,558.6 L328.0,558.6 L328.3,558.7 L328.6,559.1 L328.9,558.9 L329.2,559.1 L329.5,559.4 L329.8,559.2 L330.1,559.8 L330.4,559.5 L330.7,559.6 L331.0,559.3 L331.3,559.5 L331.6,559.4 L331.9,559.0 L332.2,558.8 L332.5,559.1 L332.8,559.4 L333.1,559.2 L333.4,559.7 L333.7,559.1 L334.0,559.4 L334.3,559.5 L334.6,558.8 L334.9,559.5 L335.2,558.9 L335.5,559.2 L335.8,559.4 L336.1,559.7 L336.4,559.9 L336.7,559.4 L337.0,559.7 L337.3,559.0 L337.6,559.0 L337.9,558.5 L338.2,557.7 L338.5,558.2 L338.8,557.4 L339.1,557.3 L339.4,556.9 L339.7,557.2 L340.0,557.3 L340.3,557.4 L340.6,557.1 L340.9,557.3 L341.2,556.7 L341.5,557.6 L341.8,556.9 L342.1,557.2 L342.4,557.7 L342.7,558.3 L343.0,558.5 L343.3,559.0 L343.6,559.4 L343.9,560.0 L344.2,560.0 L344.5,560.2 L344.8,560.4 L345.1,560.0 L345.4,560.6 L345.7,560.3 L346.0,560.4 L346.3,560.3 L346.6,559.4 L346.9,559.5 L347.2,559.7 L347.5,560.2 L347.8,560.2 L348.1,560.1 L348.4,560.9 L348.7,560.1 L349.0,560.1 L349.3,559.6 L349.6,560.1 L349.9,559.2 L350.2,559.5 L350.5,559.3 L350.8,559.1 L351.1,558.7 L351.4,559.1 L351.7,558.9 L352.0,559.4 L352.3,559.3 L352.6,559.2 L352.9,559.8 L353.2,559.3 L353.5,559.1 L353.8,558.8 L354.1,558.2 L354.4,558.2 L354.7,558.0 L355.0,557.8 L355.3,557.6 L355.6,557.7 L355.9,557.3 L356.2,557.4 L356.5,557.4 L356.8,556.8 L357.1,557.3 L357.4,557.3 L357.7,557.4 L358.0,556.6 L358.3,556.5 L358.6,556.5 L358.9,556.5 L359.2,555.9 L359.5,555.6 L359.8,555.3 L360.1,555.1 L360.4,555.5 L360.7,555.2 L361.0,555.5 L361.3,555.7 L361.6,555.9 L361.9,556.4 L362.2,556.0 L362.5,556.0 L362.8,556.6 L363.1,556.4 L363.4,555.5 L363.7,556.0 L364.0,555.2 L364.3,554.9 L364.6,554.5 L364.9,555.0 L365.2,555.2 L365.5,555.3 L365.8,555.4 L366.1,555.7 L366.4,555.7 L366.7,555.6 L367.0,555.5 L367.3,555.0 L367.6,554.9 L367.9,554.8 L368.2,555.2 L368.5,554.6 L368.8,554.9 L369.1,555.6 L369.4,555.7 L369.7,556.2 L370.0,556.4 L370.3,556.6 L370.6,556.5 L370.9,557.0 L371.2,556.7 L371.5,556.9 L371.8,556.7 L372.1,557.1 L372.4,557.1 L372.7,557.2 L373.0,557.7 L373.3,557.4 L373.6,557.8 L373.9,557.7 L374.2,557.9 L374.5,557.8 L374.8,557.3 L375.1,557.8 L375.4,557.3 L375.7,557.7 L376.0,557.4 L376.3,557.2 L376.6,557.0 L376.9,557.5 L377.2,557.9 L377.5,558.1 L377.8,558.1 L378.1,557.9 L378.4,557.7 L378.7,557.2 L379.0,557.5 L379.3,557.3 L379.6,556.6 L379.9,556.6 L380.2,556.9 L380.5,556.9 L380.8,556.9 L381.1,557.4 L381.4,557.8 L381.7,557.9 L382.0,558.1 L382.3,558.8 L382.6,558.9 L382.9,558.9 L383.2,559.6 L383.5,559.2 L383.8,558.9 L384.1,559.1 L384.4,558.5 L384.7,557.9 L385.0,558.2 L385.3,558.8 L385.6,558.3 L385.9,559.0 L386.2,559.2 L386.5,559.7 L386.8,560.2 L387.1,560.2 L387.4,560.3 L387.7,559.7 L388.0,559.8 L388.3,560.2 L388.6,560.2 L388.9,560.3 L389.2,560.4 L389.5,560.6 L389.8,561.2 L390.1,560.5 L390.4,560.9 L390.7,560.5 L391.0,560.4 L391.3,559.9 L391.6,559.4 L391.9,559.5 L392.2,559.2 L392.5,559.3 L392.8,559.7 L393.1,560.0 L393.4,559.7 L393.7,560.0 L394.0,560.0 L394.3,560.0 L394.6,560.4 L394.9,560.6 L395.2,560.4 L395.5,560.6 L395.8,560.6 L396.1,560.6 L396.4,560.5 L396.7,560.5 L397.0,560.4 L397.3,560.5 L397.6,560.5 L397.9,560.8 L398.2,560.8 L398.5,560.8 L398.8,560.8 L399.1,560.7 L399.4,560.8 L399.7,560.6 L400.0,560.8 L400.3,560.2 L400.6,560.3 L400.9,560.3 L401.2,560.7 L401.5,560.7 L401.8,560.7 L402.1,561.1 L402.4,560.6 L402.7,560.8 L403.0,561.0 L403.3,560.8 L403.6,561.5 L403.9,561.3 L404.2,560.8 L404.5,560.8 L404.8,560.9 L405.1,560.8 L405.4,560.7 L405.7,560.7 L406.0,560.6 L406.3,560.7 L406.6,560.5 L406.9,560.6 L407.2,560.5 L407.5,561.2 L407.8,561.0 L408.1,561.2 L408.4,561.3 L408.7,561.2 L409.0,560.8 L409.3,560.7 L409.6,561.5 L409.9,560.8 L410.2,561.3 L410.5,561.2 L410.8,561.1 L411.1,561.2 L411.4,560.6 L411.7,560.4 L412.0,561.1 L412.3,560.5 L412.6,560.4 L412.9,560.5 L413.2,560.4 L413.5,560.3 L413.8,560.3 L414.1,560.4 L414.4,560.3 L414.7,560.3 L415.0,560.3 L415.3,560.6 L415.6,560.2 L415.9,560.7 L416.2,560.5 L416.5,560.5 L416.8,560.5 L417.1,559.9 L417.4,560.0 L417.7,559.7 L418.0,560.4 L418.3,560.6 L418.6,561.3 L418.9,561.5 L419.2,561.3 L419.5,561.6 L419.8,561.7 L420.1,561.5 L420.4,561.2 L420.7,561.3 L421.0,561.3 L421.3,560.9 L421.6,561.2 L421.9,561.4 L422.2,561.3 L422.5,561.5 L422.8,561.3 L423.1,560.9 L423.4,561.0 L423.7,561.3 L424.0,561.1 L424.3,561.1 L424.6,560.2 L424.9,560.7 L425.2,560.9 L425.5,560.2 L425.8,560.4 L426.1,560.5 L426.4,560.3 L426.7,560.1 L427.0,559.7 L427.3,559.5 L427.6,559.2 L427.9,559.4 L428.2,559.4 L428.5,559.3 L428.8,559.3 L429.1,559.3 L429.4,559.7 L429.7,560.3 L430.0,560.3 L430.3,560.1 L430.6,560.5 L430.9,560.6 L431.2,560.7 L431.5,560.4 L431.8,560.6 L432.1,560.6 L432.4,560.8 L432.7,560.4 L433.0,560.6 L433.3,560.6 L433.6,560.5 L433.9,560.4 L434.2,559.8 L434.5,559.6 L434.8,559.7 L435.1,559.6 L435.4,558.9 L435.7,559.2 L436.0,559.1 L436.3,559.4 L436.6,559.6 L436.9,559.9 L437.2,559.9 L437.5,560.1 L437.8,560.7 L438.1,560.9 L438.4,560.8 L438.7,560.9 L439.0,561.1 L439.3,561.3 L439.6,561.3 L439.9,560.8 L440.2,561.1 L440.5,561.0 L440.8,560.9 L441.1,561.1 L441.4,560.7 L441.7,560.8 L442.0,560.7 L442.3,560.5 L442.6,560.8 L442.9,560.7 L443.2,560.7 L443.5,560.2 L443.8,560.1 L444.1,559.7 L444.4,559.2 L444.7,559.5 L445.0,558.6 L445.3,559.0 L445.6,558.9 L445.9,559.1 L446.2,558.5 L446.5,559.0 L446.8,558.9 L447.1,559.2 L447.4,558.9 L447.7,559.7 L448.0,559.6 L448.3,560.0 L448.6,560.0 L448.9,559.8 L449.2,560.0 L449.5,560.1 L449.8,560.2 L450.1,560.7 L450.4,561.2 L450.7,561.3 L451.0,561.3 L451.3,561.1 L451.6,561.3 L451.9,561.4 L452.2,561.3 L452.5,561.5 L452.8,561.2 L453.1,561.2 L453.4,561.5 L453.7,561.0 L454.0,561.6 L454.3,561.3 L454.6,561.4 L454.9,561.2 L455.2,561.1 L455.5,561.2 L455.8,561.1 L456.1,561.2 L456.4,561.1 L456.7,560.6 L457.0,560.3 L457.3,560.3 L457.6,559.8 L457.9,559.5 L458.2,559.8 L458.5,559.2 L458.8,558.8 L459.1,559.2 L459.4,559.3 L459.7,559.6 L460.0,559.8 L460.3,560.6 L460.6,560.1 L460.9,560.3 L461.2,560.2 L461.5,560.4 L461.8,560.3 L462.1,560.2 L462.4,560.1 L462.7,560.4 L463.0,560.4 L463.3,560.7 L463.6,560.6 L463.9,560.7 L464.2,560.5 L464.5,561.2 L464.8,561.1 L465.1,561.3 L465.4,561.2 L465.7,561.5 L466.0,561.3 L466.0,562.6 Z " fill="#4aad4a"/>
<path d="M283.0,577.2 L283.0,576.1 L283.3,575.8 L283.6,575.9 L283.9,576.0 L284.2,576.0 L284.5,576.2 L284.8,576.0 L285.1,575.8 L285.4,575.9 L285.7,575.7 L286.0,575.5 L286.3,575.6 L286.6,575.9 L286.9,575.9 L287.2,575.7 L287.5,576.0 L287.8,575.5 L288.1,575.9 L288.4,575.8 L288.7,575.9 L289.0,576.0 L289.3,575.8 L289.6,575.8 L289.9,575.8 L290.2,575.8 L290.5,576.0 L290.8,575.9 L291.1,576.3 L291.4,576.4 L291.7,576.4 L292.0,576.2 L292.3,576.0 L292.6,576.0 L292.9,576.0 L293.2,575.8 L293.5,575.9 L293.8,575.7 L294.1,575.8 L294.4,575.8 L294.7,575.6 L295.0,576.0 L295.3,576.0 L295.6,576.1 L295.9,575.9 L296.2,576.1 L296.5,575.4 L296.8,575.8 L297.1,575.4 L297.4,575.4 L297.7,575.4 L297.7,577.2 Z M306.1,577.2 L306.1,574.3 L306.4,574.0 L306.7,573.6 L307.0,573.3 L307.3,573.3 L307.6,573.5 L307.9,573.5 L308.2,573.8 L308.5,573.5 L308.8,574.0 L309.1,573.4 L309.4,573.6 L309.7,573.6 L310.0,573.4 L310.3,573.4 L310.6,573.5 L310.9,573.9 L311.2,574.4 L311.5,573.8 L311.8,574.2 L312.1,574.3 L312.4,575.1 L312.7,574.8 L313.0,574.7 L313.3,574.1 L313.6,573.7 L313.9,574.2 L314.2,574.2 L314.5,574.5 L314.8,575.2 L315.1,574.9 L315.4,574.9 L315.7,575.0 L316.0,575.0 L316.3,574.9 L316.6,575.0 L316.9,574.9 L317.2,574.9 L317.5,575.0 L317.8,575.0 L318.1,575.1 L318.4,575.2 L318.7,575.1 L319.0,575.1 L319.3,575.4 L319.6,575.6 L319.9,575.4 L320.2,575.1 L320.5,574.9 L320.8,574.6 L321.1,574.5 L321.4,573.9 L321.7,574.1 L321.7,577.2 Z M330.1,577.2 L330.1,574.8 L330.4,575.5 L330.7,575.3 L331.0,575.2 L331.3,575.6 L331.6,575.2 L331.9,574.8 L332.2,574.7 L332.5,574.7 L332.8,574.1 L333.1,574.2 L333.4,573.4 L333.7,573.4 L334.0,573.1 L334.3,573.3 L334.6,573.1 L334.9,573.2 L335.2,573.3 L335.5,573.6 L335.8,573.5 L336.1,573.8 L336.4,574.3 L336.7,574.4 L337.0,574.9 L337.3,574.9 L337.6,575.2 L337.9,575.4 L338.2,575.1 L338.5,575.5 L338.8,575.4 L339.1,575.6 L339.4,575.3 L339.7,575.2 L340.0,575.3 L340.3,574.5 L340.6,573.6 L340.9,573.6 L341.2,573.3 L341.5,573.3 L341.8,573.0 L342.1,573.4 L342.4,573.4 L342.7,573.4 L343.0,573.8 L343.3,573.9 L343.6,573.8 L343.9,574.4 L344.2,574.5 L344.5,574.0 L344.8,574.1 L345.1,574.2 L345.4,574.4 L345.7,574.5 L345.7,577.2 Z M351.1,577.2 L351.1,575.9 L351.4,576.0 L351.7,576.4 L352.0,576.5 L352.3,576.0 L352.6,575.9 L352.9,576.0 L353.2,575.7 L353.5,576.0 L353.8,575.6 L354.1,575.3 L354.4,574.9 L354.7,574.1 L355.0,573.8 L355.3,572.5 L355.6,571.7 L355.9,572.2 L356.2,573.0 L356.5,573.3 L356.8,574.2 L357.1,574.1 L357.4,574.8 L357.7,574.7 L358.0,575.2 L358.3,575.7 L358.6,575.6 L358.9,575.6 L359.2,575.4 L359.5,575.7 L359.8,575.2 L360.1,575.6 L360.4,575.8 L360.7,575.4 L361.0,575.5 L361.3,575.3 L361.6,575.2 L361.9,575.7 L362.2,575.6 L362.5,575.4 L362.8,575.1 L363.1,574.7 L363.4,574.0 L363.7,574.0 L364.0,574.2 L364.3,574.6 L364.6,574.2 L364.9,573.9 L365.2,573.5 L365.5,573.3 L365.8,572.5 L366.1,572.0 L366.4,571.9 L366.7,571.2 L367.0,570.0 L367.3,569.4 L367.6,568.2 L367.9,567.6 L368.2,567.6 L368.5,567.9 L368.8,568.7 L369.1,568.5 L369.4,568.9 L369.7,568.2 L370.0,568.6 L370.3,568.4 L370.6,568.7 L370.9,569.1 L371.2,569.3 L371.5,569.7 L371.8,569.2 L372.1,569.6 L372.4,569.8 L372.7,569.0 L373.0,568.9 L373.3,568.8 L373.6,569.0 L373.9,569.5 L374.2,570.4 L374.5,571.0 L374.8,571.9 L375.1,572.6 L375.4,573.2 L375.7,573.3 L376.0,574.1 L376.3,574.6 L376.6,574.7 L376.9,575.2 L377.2,575.6 L377.5,575.8 L377.8,575.7 L378.1,575.6 L378.4,575.3 L378.7,574.6 L379.0,574.7 L379.3,574.3 L379.6,574.3 L379.9,574.5 L379.9,577.2 Z M388.0,577.2 L388.0,574.9 L388.3,575.5 L388.6,575.3 L388.9,575.2 L389.2,575.3 L389.5,575.5 L389.8,575.5 L390.1,575.9 L390.4,575.9 L390.7,575.7 L391.0,575.9 L391.3,575.6 L391.6,576.2 L391.9,575.8 L392.2,575.6 L392.5,575.0 L392.8,574.6 L393.1,575.1 L393.4,574.9 L393.7,574.8 L394.0,575.5 L394.3,575.0 L394.6,575.8 L394.9,575.7 L395.2,575.8 L395.5,575.6 L395.8,576.3 L396.1,576.1 L396.4,576.2 L396.7,576.3 L397.0,576.3 L397.3,576.3 L397.6,576.1 L397.9,576.3 L398.2,576.2 L398.5,576.2 L398.8,575.6 L399.1,575.4 L399.4,575.2 L399.7,575.3 L400.0,574.7 L400.3,574.2 L400.6,574.0 L400.9,574.2 L401.2,574.3 L401.5,574.1 L401.8,574.7 L401.8,577.2 Z M418.0,577.2 L418.0,575.8 L418.3,575.2 L418.6,575.0 L418.9,575.5 L419.2,574.5 L419.5,574.6 L419.8,574.5 L420.1,573.9 L420.4,573.7 L420.7,573.8 L421.0,574.2 L421.3,574.4 L421.6,574.9 L421.9,574.7 L422.2,574.2 L422.5,574.6 L422.8,575.1 L423.1,574.9 L423.4,575.5 L423.7,576.0 L424.0,575.5 L424.3,575.6 L424.6,575.7 L424.9,575.5 L425.2,575.7 L425.5,575.1 L425.8,575.4 L426.1,575.0 L426.4,574.3 L426.7,574.4 L427.0,574.7 L427.3,574.5 L427.6,574.3 L427.9,574.6 L428.2,574.8 L428.5,575.1 L428.8,575.6 L429.1,575.3 L429.4,576.1 L429.7,576.0 L430.0,576.3 L430.3,576.1 L430.6,575.9 L430.9,575.8 L431.2,575.5 L431.5,575.3 L431.8,575.8 L432.1,575.5 L432.4,575.3 L432.7,575.2 L433.0,575.2 L433.3,575.6 L433.6,575.5 L433.9,575.4 L434.2,575.5 L434.5,575.8 L434.8,575.7 L435.1,575.3 L435.4,575.1 L435.7,575.3 L436.0,575.4 L436.3,575.7 L436.6,575.5 L436.9,575.7 L437.2,575.5 L437.5,575.2 L437.8,575.5 L438.1,575.9 L438.4,575.8 L438.7,576.3 L439.0,575.9 L439.3,575.9 L439.6,575.5 L439.9,575.0 L440.2,575.2 L440.5,574.7 L440.8,574.8 L441.1,575.0 L441.4,575.4 L441.7,575.2 L442.0,575.3 L442.3,575.2 L442.6,575.2 L442.9,575.4 L443.2,575.1 L443.5,575.7 L443.8,575.6 L444.1,576.1 L444.4,576.2 L444.7,575.9 L445.0,575.8 L445.3,576.0 L445.6,575.9 L445.9,575.7 L446.2,576.0 L446.5,575.8 L446.8,576.1 L447.1,575.6 L447.4,576.1 L447.7,575.8 L448.0,576.0 L448.3,575.7 L448.6,575.6 L448.9,575.6 L449.2,575.3 L449.5,575.5 L449.8,575.3 L450.1,575.4 L450.4,575.7 L450.7,575.5 L451.0,575.4 L451.3,575.0 L451.6,574.6 L451.9,574.5 L452.2,573.9 L452.5,573.6 L452.8,573.5 L453.1,574.1 L453.4,574.5 L453.7,574.6 L454.0,574.8 L454.3,575.0 L454.6,575.1 L454.9,575.0 L455.2,575.4 L455.5,575.2 L455.8,576.0 L456.1,575.8 L456.4,575.8 L456.7,576.2 L457.0,576.3 L457.3,576.3 L457.6,576.2 L457.9,576.0 L458.2,576.2 L458.5,576.1 L458.8,576.1 L459.1,576.1 L459.4,576.1 L459.7,576.0 L460.0,575.9 L460.3,576.0 L460.6,575.8 L460.9,575.7 L461.2,575.1 L461.5,575.5 L461.8,575.7 L462.1,575.6 L462.4,575.9 L462.7,576.2 L463.0,576.0 L463.3,576.4 L463.6,576.4 L463.9,576.4 L464.2,576.0 L464.5,576.2 L464.8,576.0 L465.1,576.4 L465.4,576.5 L465.7,576.2 L466.0,576.3 L466.0,577.2 Z " fill="#a64dac"/>
<text x="285.30" y="535.00" font-size="6.5">ChIP–seq OSKM-48h</text>
<path d="M281.1,536.0 L282.3,536.0 L282.3,548.0 L281.1,548.0" fill="none" stroke="#222" stroke-width="0.8"/>
<path d="M281.1,550.0 L282.3,550.0 L282.3,563.0 L281.1,563.0" fill="none" stroke="#222" stroke-width="0.8"/>
<path d="M281.1,564.0 L282.3,564.0 L282.3,578.0 L281.1,578.0" fill="none" stroke="#222" stroke-width="0.8"/>
<text x="277.70" y="545.80" font-size="6.5" text-anchor="end">OCT4</text>
<text x="277.70" y="559.90" font-size="6.5" text-anchor="end">SOX2</text>
<text x="277.70" y="574.30" font-size="6.5" text-anchor="end">KLF4</text>
<path d="M283.0,601.4 L283.0,599.9 L283.3,599.4 L283.6,598.7 L283.9,598.3 L284.2,598.0 L284.5,598.2 L284.8,597.8 L285.1,597.8 L285.4,597.5 L285.7,597.4 L286.0,597.6 L286.3,597.3 L286.6,597.9 L286.9,598.1 L287.2,598.3 L287.5,598.6 L287.8,599.1 L288.1,599.0 L288.4,599.0 L288.7,599.1 L289.0,599.3 L289.3,598.8 L289.6,599.1 L289.9,599.1 L290.2,599.5 L290.5,598.8 L290.8,599.1 L291.1,599.3 L291.4,600.0 L291.7,599.7 L292.0,600.3 L292.3,599.8 L292.6,600.0 L292.9,599.9 L293.2,599.7 L293.5,599.6 L293.8,599.1 L294.1,599.1 L294.4,599.6 L294.7,599.1 L295.0,599.7 L295.3,598.8 L295.6,599.3 L295.9,599.3 L296.2,599.2 L296.5,598.8 L296.8,599.0 L297.1,599.2 L297.4,599.3 L297.7,599.6 L298.0,599.5 L298.3,599.9 L298.6,599.9 L298.9,600.0 L299.2,599.7 L299.5,599.7 L299.8,599.6 L300.1,599.6 L300.4,599.0 L300.7,599.1 L301.0,598.9 L301.3,598.9 L301.6,598.6 L301.9,598.4 L302.2,598.7 L302.5,598.7 L302.8,598.5 L303.1,599.0 L303.4,598.8 L303.7,599.1 L304.0,599.1 L304.3,599.4 L304.6,599.5 L304.9,599.8 L305.2,599.6 L305.5,599.5 L305.8,599.6 L306.1,599.8 L306.4,599.9 L306.7,600.1 L307.0,600.0 L307.3,599.9 L307.6,599.5 L307.9,599.2 L308.2,599.2 L308.5,599.1 L308.8,598.7 L309.1,598.6 L309.4,598.7 L309.7,599.0 L310.0,599.0 L310.3,598.4 L310.6,598.5 L310.9,598.7 L311.2,598.6 L311.5,598.5 L311.8,598.3 L312.1,598.2 L312.4,597.6 L312.7,597.9 L313.0,598.2 L313.3,598.1 L313.6,598.7 L313.9,598.7 L314.2,599.2 L314.5,599.2 L314.8,599.2 L315.1,599.6 L315.4,599.6 L315.7,599.9 L316.0,599.7 L316.3,600.3 L316.6,599.8 L316.9,600.0 L317.2,600.2 L317.5,599.9 L317.8,600.1 L318.1,600.0 L318.4,600.2 L318.7,599.8 L319.0,599.4 L319.3,599.7 L319.6,600.0 L319.9,599.4 L320.2,599.3 L320.5,599.3 L320.8,599.2 L321.1,598.9 L321.4,599.4 L321.7,598.6 L322.0,598.6 L322.3,598.4 L322.6,598.0 L322.9,597.5 L323.2,597.6 L323.5,597.1 L323.8,597.0 L324.1,596.9 L324.4,597.5 L324.7,597.8 L325.0,598.1 L325.3,598.5 L325.6,598.6 L325.9,599.4 L326.2,598.8 L326.5,598.5 L326.8,598.1 L327.1,598.2 L327.4,598.4 L327.7,598.3 L328.0,598.4 L328.3,598.2 L328.6,597.9 L328.9,597.4 L329.2,597.0 L329.5,596.6 L329.8,596.9 L330.1,596.5 L330.4,596.1 L330.7,596.3 L331.0,596.1 L331.3,596.2 L331.6,596.6 L331.9,596.5 L332.2,596.2 L332.5,596.2 L332.8,596.2 L333.1,596.5 L333.4,596.3 L333.7,596.9 L334.0,597.0 L334.3,596.6 L334.6,595.9 L334.9,595.5 L335.2,594.7 L335.5,594.5 L335.8,594.0 L336.1,593.3 L336.4,593.0 L336.7,592.7 L337.0,592.0 L337.3,592.2 L337.6,592.2 L337.9,592.1 L338.2,592.0 L338.5,592.3 L338.8,592.5 L339.1,592.8 L339.4,593.1 L339.7,593.4 L340.0,593.2 L340.3,593.9 L340.6,594.1 L340.9,593.8 L341.2,593.5 L341.5,593.5 L341.8,593.2 L342.1,593.4 L342.4,593.8 L342.7,594.3 L343.0,594.4 L343.3,594.7 L343.6,594.8 L343.9,595.4 L344.2,595.1 L344.5,595.6 L344.8,596.4 L345.1,596.2 L345.4,596.3 L345.7,595.9 L346.0,596.8 L346.3,596.2 L346.6,596.6 L346.9,596.1 L347.2,596.1 L347.5,596.3 L347.8,596.6 L348.1,596.8 L348.4,596.7 L348.7,597.1 L349.0,597.9 L349.3,598.3 L349.6,598.7 L349.9,598.9 L350.2,599.3 L350.5,599.2 L350.8,599.4 L351.1,599.7 L351.4,600.1 L351.7,600.3 L352.0,600.2 L352.3,599.9 L352.6,600.0 L352.9,600.2 L353.2,600.0 L353.5,600.0 L353.8,600.2 L354.1,599.4 L354.4,598.9 L354.7,598.7 L355.0,598.2 L355.3,598.0 L355.6,598.2 L355.9,598.6 L356.2,599.3 L356.5,599.3 L356.8,599.0 L357.1,599.5 L357.4,599.4 L357.7,599.7 L358.0,599.7 L358.3,600.2 L358.6,600.2 L358.9,600.0 L359.2,599.2 L359.5,598.8 L359.8,598.2 L360.1,598.1 L360.4,597.8 L360.7,597.5 L361.0,597.8 L361.3,598.3 L361.6,598.3 L361.9,599.0 L362.2,598.9 L362.5,599.4 L362.8,599.7 L363.1,599.9 L363.4,599.7 L363.7,599.5 L364.0,599.2 L364.3,599.1 L364.6,598.9 L364.9,599.0 L365.2,598.8 L365.5,598.7 L365.8,598.8 L366.1,599.1 L366.4,599.4 L366.7,599.3 L367.0,599.1 L367.3,598.8 L367.6,598.9 L367.9,599.1 L368.2,598.8 L368.5,598.8 L368.8,598.4 L369.1,598.6 L369.4,598.8 L369.7,599.0 L370.0,599.1 L370.3,599.6 L370.6,599.2 L370.9,599.3 L371.2,599.1 L371.5,599.0 L371.8,598.7 L372.1,598.9 L372.4,599.1 L372.7,599.4 L373.0,599.1 L373.3,599.0 L373.6,599.3 L373.9,599.1 L374.2,598.4 L374.5,598.2 L374.8,598.3 L375.1,598.1 L375.4,598.3 L375.7,598.2 L376.0,599.4 L376.3,598.8 L376.6,598.5 L376.9,598.6 L377.2,598.7 L377.5,598.9 L377.8,598.6 L378.1,598.7 L378.4,599.7 L378.7,599.9 L379.0,599.8 L379.3,599.9 L379.6,600.2 L379.9,600.4 L380.2,599.8 L380.5,599.7 L380.8,600.2 L381.1,599.9 L381.4,599.8 L381.7,599.8 L382.0,599.5 L382.3,599.6 L382.6,599.6 L382.9,599.6 L383.2,599.9 L383.5,599.3 L383.8,599.8 L384.1,599.6 L384.4,599.2 L384.7,599.1 L385.0,599.2 L385.3,599.6 L385.6,599.4 L385.9,599.3 L386.2,599.7 L386.5,600.0 L386.8,599.5 L387.1,599.3 L387.4,599.5 L387.7,599.4 L388.0,599.9 L388.3,599.6 L388.6,600.0 L388.9,599.4 L389.2,599.4 L389.5,599.9 L389.8,599.2 L390.1,598.9 L390.4,599.1 L390.7,598.9 L390.7,601.4 Z M395.2,601.4 L395.2,600.1 L395.5,599.4 L395.8,599.7 L396.1,599.5 L396.4,599.5 L396.7,599.3 L397.0,599.4 L397.3,599.3 L397.6,599.4 L397.9,599.2 L398.2,599.2 L398.5,599.8 L398.8,599.1 L399.1,599.4 L399.4,599.6 L399.7,599.8 L400.0,599.7 L400.3,600.0 L400.6,599.7 L400.9,600.0 L401.2,599.5 L401.5,599.7 L401.8,600.3 L402.1,600.1 L402.4,600.4 L402.7,600.4 L403.0,600.2 L403.3,599.8 L403.6,599.7 L403.9,599.2 L404.2,598.9 L404.5,599.2 L404.8,599.2 L405.1,598.8 L405.4,598.6 L405.7,598.6 L406.0,598.5 L406.3,598.5 L406.6,599.0 L406.9,598.7 L407.2,599.0 L407.5,598.8 L407.8,599.1 L408.1,598.6 L408.4,598.8 L408.7,599.0 L409.0,599.4 L409.3,599.1 L409.6,599.4 L409.9,599.6 L410.2,599.8 L410.5,599.8 L410.8,599.3 L411.1,599.7 L411.4,599.5 L411.7,599.3 L412.0,600.0 L412.3,599.8 L412.6,599.4 L412.9,599.7 L413.2,599.3 L413.5,599.1 L413.8,598.7 L414.1,598.9 L414.4,598.3 L414.7,598.0 L415.0,598.2 L415.3,598.0 L415.6,597.6 L415.9,597.6 L416.2,598.1 L416.5,598.1 L416.8,597.5 L417.1,597.9 L417.4,598.4 L417.7,598.6 L418.0,599.0 L418.3,599.2 L418.6,599.4 L418.9,599.6 L419.2,600.2 L419.5,600.1 L419.8,599.9 L420.1,599.3 L420.4,599.0 L420.7,599.2 L421.0,598.7 L421.3,598.8 L421.6,598.7 L421.9,599.0 L422.2,599.6 L422.5,599.7 L422.8,599.5 L423.1,599.4 L423.4,599.3 L423.7,599.6 L424.0,599.5 L424.3,599.5 L424.6,599.8 L424.9,599.9 L425.2,600.3 L425.5,600.2 L425.8,600.0 L426.1,600.5 L426.4,599.9 L426.7,599.6 L427.0,599.6 L427.3,599.9 L427.6,599.9 L427.9,599.9 L428.2,600.1 L428.5,600.4 L428.8,599.9 L429.1,600.1 L429.4,599.8 L429.7,599.0 L430.0,599.3 L430.3,599.1 L430.6,599.0 L430.9,598.8 L431.2,598.8 L431.5,598.7 L431.8,599.0 L432.1,599.3 L432.4,599.2 L432.7,599.3 L433.0,599.2 L433.3,599.2 L433.6,599.1 L433.9,599.6 L434.2,599.4 L434.5,599.0 L434.8,599.4 L435.1,599.4 L435.4,599.3 L435.7,599.3 L436.0,599.4 L436.3,599.1 L436.6,599.6 L436.9,599.5 L437.2,599.7 L437.5,599.2 L437.8,599.9 L438.1,600.2 L438.4,600.0 L438.7,600.4 L439.0,600.2 L439.3,599.8 L439.6,600.1 L439.9,599.2 L440.2,599.3 L440.5,599.4 L440.8,598.7 L441.1,598.9 L441.4,599.2 L441.7,598.6 L442.0,599.3 L442.3,599.6 L442.6,599.2 L442.9,598.9 L443.2,598.6 L443.5,598.5 L443.8,598.3 L444.1,598.0 L444.4,598.1 L444.7,598.0 L445.0,598.3 L445.3,598.5 L445.6,599.3 L445.9,599.2 L446.2,599.5 L446.5,599.6 L446.8,599.8 L447.1,599.6 L447.4,599.6 L447.7,599.3 L448.0,599.4 L448.3,599.5 L448.6,599.3 L448.9,599.4 L449.2,599.2 L449.5,599.6 L449.8,599.9 L450.1,599.3 L450.4,599.8 L450.7,599.6 L451.0,600.1 L451.3,600.0 L451.6,600.1 L451.9,599.7 L452.2,599.7 L452.5,599.1 L452.8,599.9 L453.1,599.3 L453.4,599.0 L453.7,599.6 L454.0,599.1 L454.3,599.3 L454.6,599.3 L454.9,599.5 L455.2,599.4 L455.5,599.5 L455.8,599.0 L456.1,598.9 L456.4,598.9 L456.7,598.5 L457.0,598.9 L457.3,598.7 L457.6,598.8 L457.9,599.1 L458.2,599.0 L458.5,599.2 L458.8,599.4 L459.1,599.3 L459.4,599.4 L459.7,599.7 L460.0,599.6 L460.3,599.9 L460.6,599.8 L460.9,599.5 L461.2,599.5 L461.5,599.6 L461.8,599.5 L462.1,599.8 L462.4,599.8 L462.7,599.7 L463.0,599.4 L463.3,599.1 L463.6,599.2 L463.9,599.2 L464.2,599.0 L464.5,599.2 L464.8,599.5 L465.1,599.8 L465.4,599.8 L465.7,599.9 L466.0,599.9 L466.0,601.4 Z " fill="#3d85c6"/>
<path d="M283.0,616.1 L283.0,614.6 L283.3,614.8 L283.6,614.6 L283.9,614.8 L284.2,614.4 L284.5,614.1 L284.8,614.2 L285.1,613.8 L285.4,614.0 L285.7,613.4 L286.0,613.5 L286.3,613.7 L286.6,613.5 L286.9,613.8 L287.2,613.7 L287.5,613.1 L287.8,612.6 L288.1,612.6 L288.4,612.5 L288.7,612.7 L289.0,613.2 L289.3,613.4 L289.6,613.7 L289.9,614.3 L290.2,614.0 L290.5,614.0 L290.8,614.8 L291.1,614.3 L291.4,614.6 L291.7,614.3 L292.0,614.2 L292.3,614.0 L292.6,613.9 L292.9,613.9 L293.2,613.9 L293.5,613.9 L293.8,613.5 L294.1,613.6 L294.4,613.4 L294.7,613.7 L295.0,613.7 L295.3,614.1 L295.6,613.6 L295.9,613.6 L295.9,616.1 Z M298.0,616.1 L298.0,613.9 L298.3,614.2 L298.6,614.5 L298.9,614.4 L299.2,614.8 L299.5,614.3 L299.8,614.7 L300.1,614.6 L300.4,614.8 L300.7,614.8 L301.0,614.9 L301.3,614.6 L301.6,614.7 L301.9,614.7 L302.2,614.7 L302.5,614.5 L302.8,614.3 L303.1,614.5 L303.4,614.3 L303.7,614.8 L304.0,614.7 L304.3,614.7 L304.6,614.8 L304.9,614.4 L305.2,615.0 L305.5,614.7 L305.8,614.8 L306.1,614.9 L306.4,614.7 L306.7,614.9 L307.0,614.6 L307.3,614.6 L307.6,614.8 L307.9,614.5 L308.2,614.5 L308.5,615.0 L308.8,614.5 L309.1,614.7 L309.4,614.9 L309.7,614.9 L310.0,615.1 L310.3,614.8 L310.6,614.9 L310.9,614.2 L311.2,614.3 L311.5,613.9 L311.8,614.0 L312.1,613.8 L312.4,614.0 L312.7,613.9 L313.0,613.8 L313.3,613.9 L313.6,613.8 L313.9,614.1 L314.2,614.0 L314.5,614.1 L314.8,613.5 L315.1,613.5 L315.4,613.7 L315.7,613.4 L316.0,613.2 L316.3,612.9 L316.6,612.3 L316.9,612.6 L317.2,612.7 L317.5,612.7 L317.8,612.8 L318.1,613.0 L318.4,613.3 L318.7,613.3 L319.0,613.1 L319.3,613.4 L319.6,613.7 L319.9,613.9 L320.2,614.0 L320.5,614.0 L320.8,613.9 L321.1,613.6 L321.4,613.7 L321.7,613.8 L322.0,613.7 L322.3,613.6 L322.6,613.8 L322.9,613.9 L323.2,613.6 L323.5,614.2 L323.8,614.2 L324.1,614.0 L324.4,614.4 L324.7,614.4 L325.0,614.6 L325.3,614.3 L325.6,614.5 L325.9,613.8 L326.2,613.8 L326.5,613.3 L326.8,613.3 L327.1,613.3 L327.4,613.2 L327.7,612.9 L328.0,613.3 L328.3,613.6 L328.6,613.5 L328.9,614.1 L329.2,613.7 L329.5,613.3 L329.8,613.6 L330.1,613.2 L330.4,613.2 L330.7,612.7 L331.0,612.6 L331.3,612.5 L331.6,612.3 L331.9,612.2 L332.2,612.3 L332.5,612.1 L332.8,612.1 L333.1,611.4 L333.4,611.1 L333.7,610.8 L334.0,611.5 L334.3,611.8 L334.6,612.9 L334.9,613.2 L335.2,613.1 L335.5,613.4 L335.8,613.0 L336.1,612.7 L336.4,612.6 L336.7,612.2 L337.0,611.6 L337.3,611.2 L337.6,610.2 L337.9,610.2 L338.2,609.6 L338.5,610.1 L338.8,609.3 L339.1,609.8 L339.4,609.7 L339.7,609.4 L340.0,609.1 L340.3,608.9 L340.6,609.1 L340.9,609.5 L341.2,609.3 L341.5,610.3 L341.8,611.0 L342.1,611.2 L342.4,611.0 L342.7,611.5 L343.0,611.2 L343.3,611.5 L343.6,611.2 L343.9,611.4 L344.2,611.6 L344.5,611.8 L344.8,611.0 L345.1,610.3 L345.4,609.6 L345.7,610.1 L346.0,610.1 L346.3,610.7 L346.6,610.1 L346.9,610.4 L347.2,610.2 L347.5,609.8 L347.8,610.0 L348.1,610.2 L348.4,610.4 L348.7,611.0 L349.0,611.3 L349.3,611.0 L349.6,611.6 L349.9,611.9 L350.2,611.4 L350.5,611.7 L350.8,611.4 L351.1,611.7 L351.4,611.4 L351.7,610.8 L352.0,610.4 L352.3,610.3 L352.6,609.4 L352.9,610.2 L353.2,609.9 L353.5,610.5 L353.8,611.0 L354.1,611.5 L354.4,611.4 L354.7,612.6 L355.0,613.3 L355.3,613.0 L355.6,613.5 L355.9,613.8 L356.2,613.9 L356.5,613.8 L356.8,614.6 L357.1,614.6 L357.4,614.3 L357.7,614.5 L358.0,614.4 L358.3,614.6 L358.6,614.3 L358.9,613.7 L359.2,614.4 L359.5,613.2 L359.8,613.7 L360.1,612.5 L360.4,612.9 L360.7,612.9 L361.0,612.7 L361.3,613.0 L361.6,612.4 L361.9,612.3 L362.2,611.7 L362.5,611.8 L362.8,611.7 L363.1,612.2 L363.4,612.5 L363.7,613.2 L364.0,613.5 L364.3,613.9 L364.6,613.9 L364.9,613.8 L365.2,613.6 L365.5,614.0 L365.8,613.5 L366.1,613.9 L366.4,613.4 L366.7,613.9 L367.0,614.2 L367.3,614.2 L367.6,614.0 L367.9,614.3 L368.2,614.2 L368.5,614.3 L368.8,613.7 L369.1,614.0 L369.4,614.1 L369.7,613.9 L370.0,613.3 L370.3,613.6 L370.6,613.3 L370.9,613.4 L371.2,613.0 L371.5,613.7 L371.8,613.9 L372.1,613.6 L372.4,614.4 L372.7,614.0 L373.0,614.2 L373.3,614.4 L373.6,614.1 L373.9,614.0 L374.2,613.8 L374.5,613.7 L374.8,613.6 L375.1,613.3 L375.4,612.7 L375.7,612.6 L376.0,612.8 L376.3,612.5 L376.6,612.5 L376.9,612.1 L377.2,612.5 L377.5,611.9 L377.8,611.7 L378.1,611.8 L378.4,611.7 L378.7,611.5 L379.0,612.0 L379.3,612.0 L379.6,612.4 L379.9,612.3 L380.2,612.9 L380.5,613.1 L380.8,613.7 L381.1,613.6 L381.4,613.4 L381.7,613.6 L382.0,613.5 L382.3,614.5 L382.6,614.6 L382.9,613.5 L383.2,613.9 L383.5,614.3 L383.8,613.8 L384.1,613.9 L384.4,613.9 L384.7,613.9 L385.0,613.7 L385.3,613.7 L385.6,613.6 L385.9,613.4 L386.2,613.2 L386.5,612.9 L386.8,612.5 L387.1,612.0 L387.4,611.5 L387.7,611.2 L388.0,611.6 L388.3,612.1 L388.6,612.2 L388.9,612.7 L389.2,613.5 L389.5,614.0 L389.8,613.7 L390.1,614.5 L390.4,613.9 L390.7,614.0 L391.0,614.4 L391.3,614.3 L391.6,614.4 L391.9,613.8 L392.2,613.8 L392.5,613.7 L392.8,613.3 L393.1,613.5 L393.4,613.6 L393.7,613.7 L394.0,613.9 L394.3,613.8 L394.6,614.0 L394.9,613.8 L395.2,614.0 L395.5,613.7 L395.8,614.1 L396.1,613.9 L396.4,613.9 L396.7,614.1 L397.0,614.3 L397.3,613.7 L397.6,614.1 L397.9,613.9 L398.2,614.6 L398.5,614.6 L398.8,614.7 L399.1,614.9 L399.4,614.7 L399.7,614.6 L400.0,614.7 L400.3,614.7 L400.6,614.5 L400.9,614.6 L401.2,614.7 L401.5,614.9 L401.8,615.0 L402.1,614.9 L402.4,614.4 L402.7,614.2 L403.0,613.7 L403.3,613.7 L403.6,613.7 L403.9,613.3 L404.2,614.1 L404.5,613.8 L404.8,614.2 L405.1,613.9 L405.4,613.9 L405.7,614.2 L406.0,613.6 L406.3,613.7 L406.6,613.8 L406.9,614.0 L407.2,614.2 L407.5,614.3 L407.8,614.2 L408.1,614.4 L408.4,614.7 L408.7,614.5 L409.0,613.9 L409.3,613.8 L409.6,613.2 L409.9,613.0 L410.2,612.7 L410.5,612.4 L410.8,612.4 L411.1,612.5 L411.4,613.2 L411.7,612.9 L412.0,613.2 L412.3,613.6 L412.6,614.3 L412.9,614.1 L413.2,614.0 L413.5,614.1 L413.8,614.2 L414.1,614.7 L414.4,614.5 L414.7,613.9 L415.0,614.2 L415.3,613.8 L415.6,613.9 L415.9,614.0 L416.2,613.4 L416.5,613.5 L416.8,613.3 L417.1,613.5 L417.4,613.7 L417.7,613.1 L418.0,613.4 L418.3,613.2 L418.6,613.1 L418.9,613.1 L419.2,613.2 L419.5,613.0 L419.8,613.2 L420.1,612.8 L420.4,612.5 L420.7,612.6 L421.0,612.6 L421.3,612.5 L421.6,612.5 L421.9,613.1 L422.2,613.2 L422.5,613.4 L422.8,613.5 L423.1,613.0 L423.4,612.9 L423.7,612.9 L424.0,612.6 L424.3,612.6 L424.6,613.0 L424.9,613.3 L425.2,613.6 L425.5,613.9 L425.8,613.7 L426.1,613.9 L426.4,613.9 L426.7,614.5 L427.0,613.7 L427.3,613.6 L427.6,613.7 L427.9,613.8 L428.2,613.2 L428.5,613.5 L428.8,613.5 L429.1,613.6 L429.4,613.8 L429.7,614.1 L430.0,614.0 L430.3,613.9 L430.6,614.1 L430.9,614.3 L431.2,614.1 L431.5,614.0 L431.8,613.9 L432.1,613.8 L432.4,614.0 L432.7,614.1 L433.0,614.3 L433.3,614.7 L433.6,614.5 L433.9,614.5 L434.2,614.6 L434.5,614.5 L434.8,613.7 L435.1,614.0 L435.4,613.5 L435.7,614.0 L436.0,614.2 L436.3,614.6 L436.6,614.8 L436.9,614.9 L437.2,614.7 L437.5,614.6 L437.8,614.5 L438.1,614.3 L438.4,614.2 L438.7,614.1 L439.0,613.9 L439.3,613.7 L439.6,613.3 L439.9,614.0 L440.2,613.4 L440.5,613.4 L440.8,613.6 L441.1,613.4 L441.4,613.2 L441.7,613.5 L442.0,613.2 L442.3,613.1 L442.6,612.8 L442.9,612.4 L443.2,612.3 L443.5,612.4 L443.8,612.4 L444.1,612.0 L444.4,612.0 L444.7,612.2 L445.0,612.2 L445.3,612.9 L445.6,613.4 L445.9,613.7 L446.2,614.0 L446.5,614.5 L446.8,615.0 L447.1,614.7 L447.4,614.5 L447.7,614.9 L448.0,615.4 L448.3,615.0 L448.6,614.7 L448.9,615.1 L449.2,615.0 L449.5,615.1 L449.8,615.0 L450.1,615.5 L450.4,615.2 L450.7,615.1 L451.0,614.8 L451.3,614.8 L451.6,614.9 L451.9,614.8 L452.2,614.9 L452.5,614.8 L452.8,614.7 L453.1,614.5 L453.4,614.2 L453.7,614.6 L454.0,614.6 L454.3,614.5 L454.6,615.0 L454.9,614.5 L455.2,614.4 L455.5,614.8 L455.8,614.7 L456.1,614.2 L456.4,614.5 L456.7,614.5 L457.0,614.3 L457.3,613.7 L457.6,613.8 L457.9,613.8 L458.2,613.5 L458.5,613.3 L458.8,614.0 L459.1,614.3 L459.4,613.6 L459.7,613.9 L460.0,613.6 L460.3,613.6 L460.6,613.9 L460.9,614.0 L461.2,613.5 L461.5,614.0 L461.8,613.9 L462.1,614.2 L462.4,613.9 L462.7,614.1 L463.0,614.0 L463.3,613.5 L463.6,613.5 L463.9,613.7 L464.2,613.6 L464.5,614.3 L464.8,614.1 L465.1,614.2 L465.4,614.5 L465.7,614.8 L466.0,615.1 L466.0,616.1 Z " fill="#4aad4a"/>
<path d="M283.0,630.9 L283.0,629.6 L283.3,629.5 L283.6,629.0 L283.9,629.3 L284.2,629.5 L284.5,629.6 L284.8,629.3 L285.1,629.3 L285.4,629.5 L285.7,629.3 L286.0,629.5 L286.3,629.3 L286.6,629.3 L286.9,629.5 L287.2,629.8 L287.5,629.8 L287.8,629.9 L288.1,630.2 L288.4,630.2 L288.7,629.7 L289.0,629.9 L289.3,629.6 L289.6,629.7 L289.9,629.4 L289.9,630.9 Z M300.1,630.9 L300.1,629.6 L300.4,629.3 L300.7,629.8 L301.0,630.0 L301.3,630.0 L301.6,629.8 L301.9,630.0 L302.2,629.8 L302.5,629.8 L302.8,630.3 L303.1,630.3 L303.4,630.1 L303.7,630.1 L304.0,630.3 L304.3,630.2 L304.6,630.4 L304.9,630.0 L305.2,629.9 L305.5,630.0 L305.8,630.0 L306.1,629.9 L306.4,629.7 L306.7,629.7 L307.0,629.7 L307.3,629.6 L307.6,629.9 L307.9,629.6 L308.2,629.8 L308.5,629.6 L308.8,629.6 L309.1,629.5 L309.4,629.3 L309.7,629.2 L310.0,629.0 L310.3,628.5 L310.6,628.6 L310.9,628.4 L311.2,628.6 L311.5,628.7 L311.8,628.9 L311.8,630.9 Z M320.2,630.9 L320.2,629.7 L320.5,629.7 L320.8,629.9 L321.1,629.7 L321.4,629.8 L321.7,629.6 L322.0,629.6 L322.3,629.6 L322.6,629.6 L322.9,629.3 L323.2,629.4 L323.5,629.6 L323.8,629.2 L324.1,629.1 L324.4,629.2 L324.7,629.3 L325.0,629.4 L325.3,629.3 L325.6,629.1 L325.9,628.9 L326.2,628.9 L326.5,628.8 L326.8,628.6 L327.1,628.8 L327.4,628.6 L327.7,628.5 L328.0,628.2 L328.3,627.8 L328.6,627.7 L328.9,627.3 L329.2,626.7 L329.5,626.2 L329.8,625.7 L330.1,625.1 L330.4,624.6 L330.7,624.3 L331.0,624.0 L331.3,623.3 L331.6,622.3 L331.9,621.8 L332.2,621.9 L332.5,622.1 L332.8,622.5 L333.1,623.3 L333.4,623.7 L333.7,624.4 L334.0,624.5 L334.3,624.9 L334.6,624.9 L334.9,625.0 L335.2,624.8 L335.5,625.0 L335.8,625.4 L336.1,625.4 L336.4,625.4 L336.7,625.2 L337.0,624.7 L337.3,624.6 L337.6,624.3 L337.9,624.0 L338.2,623.9 L338.5,623.6 L338.8,623.6 L339.1,623.7 L339.4,623.7 L339.7,623.7 L340.0,624.0 L340.3,624.1 L340.6,624.3 L340.9,624.6 L341.2,624.8 L341.5,624.9 L341.8,624.9 L342.1,624.9 L342.4,625.2 L342.7,625.3 L343.0,625.4 L343.3,625.9 L343.6,626.0 L343.9,626.0 L344.2,626.4 L344.5,626.8 L344.8,627.0 L345.1,627.5 L345.4,627.9 L345.7,627.9 L346.0,628.2 L346.3,628.4 L346.6,628.3 L346.9,629.0 L347.2,629.1 L347.5,629.4 L347.8,629.4 L348.1,629.2 L348.4,628.8 L348.7,628.8 L349.0,628.9 L349.3,629.0 L349.6,628.5 L349.9,628.8 L350.2,628.8 L350.5,629.1 L350.8,629.4 L351.1,629.5 L351.4,629.4 L351.7,629.8 L352.0,629.7 L352.3,629.6 L352.6,630.0 L352.9,629.6 L353.2,629.9 L353.5,629.9 L353.8,630.0 L354.1,629.8 L354.4,629.9 L354.7,629.6 L355.0,629.6 L355.3,629.4 L355.6,629.4 L355.9,629.1 L356.2,629.2 L356.5,629.4 L356.8,629.5 L357.1,629.6 L357.4,629.6 L357.7,629.6 L358.0,630.0 L358.3,629.6 L358.6,629.6 L358.9,629.6 L359.2,629.7 L359.5,629.5 L359.8,629.8 L360.1,629.7 L360.4,629.7 L360.7,629.7 L361.0,629.5 L361.3,629.4 L361.6,629.3 L361.9,629.0 L362.2,628.9 L362.5,628.4 L362.8,628.1 L363.1,627.6 L363.4,627.0 L363.7,626.1 L364.0,625.7 L364.3,625.5 L364.6,625.3 L364.9,625.5 L365.2,625.9 L365.5,625.8 L365.8,626.2 L366.1,626.4 L366.4,626.8 L366.7,626.9 L367.0,627.1 L367.3,627.2 L367.6,627.3 L367.9,627.6 L368.2,627.8 L368.5,627.9 L368.8,628.2 L369.1,628.0 L369.4,628.5 L369.7,628.6 L370.0,628.7 L370.3,629.2 L370.6,629.0 L370.9,629.2 L371.2,629.5 L371.5,629.4 L371.8,629.9 L371.8,630.9 Z M378.1,630.9 L378.1,629.7 L378.4,629.4 L378.7,629.3 L379.0,629.2 L379.3,629.2 L379.6,629.2 L379.9,629.2 L380.2,629.4 L380.5,629.5 L380.8,629.6 L381.1,629.9 L381.4,630.1 L381.7,629.9 L382.0,630.1 L382.3,630.0 L382.6,630.1 L382.9,630.3 L383.2,630.1 L383.5,630.0 L383.8,629.8 L384.1,629.7 L384.4,629.6 L384.7,629.6 L385.0,629.5 L385.3,629.8 L385.6,629.5 L385.9,629.6 L386.2,629.8 L386.5,629.8 L386.8,629.5 L387.1,629.7 L387.4,629.6 L387.7,629.5 L388.0,629.4 L388.3,629.5 L388.6,629.3 L388.9,629.3 L389.2,629.4 L389.5,629.3 L389.8,629.2 L390.1,629.3 L390.4,629.3 L390.7,629.2 L391.0,629.6 L391.3,629.4 L391.6,629.4 L391.9,629.5 L392.2,629.3 L392.5,628.9 L392.8,628.9 L393.1,629.1 L393.4,629.0 L393.7,629.0 L394.0,629.1 L394.3,629.2 L394.6,629.2 L394.9,629.3 L395.2,629.1 L395.5,629.2 L395.8,629.4 L395.8,630.9 Z M402.1,630.9 L402.1,629.6 L402.4,629.8 L402.7,629.8 L403.0,629.6 L403.3,629.5 L403.6,629.8 L403.9,629.9 L404.2,629.8 L404.5,629.9 L404.8,629.8 L405.1,629.7 L405.4,629.7 L405.7,629.8 L406.0,629.5 L406.3,629.5 L406.6,629.4 L406.9,629.7 L407.2,629.7 L407.5,629.4 L407.8,629.3 L408.1,629.1 L408.4,629.1 L408.7,629.0 L409.0,629.2 L409.3,629.7 L409.6,629.3 L409.9,629.5 L410.2,629.7 L410.5,629.7 L410.8,629.5 L411.1,629.7 L411.4,629.6 L411.7,629.9 L412.0,629.9 L412.3,630.0 L412.6,629.7 L412.9,629.9 L413.2,629.8 L413.5,630.1 L413.8,630.0 L414.1,630.0 L414.4,629.8 L414.7,629.6 L415.0,629.7 L415.3,629.8 L415.6,629.4 L415.9,629.0 L416.2,628.8 L416.5,629.0 L416.8,628.9 L417.1,629.0 L417.4,629.1 L417.7,629.0 L418.0,628.8 L418.3,629.2 L418.6,629.2 L418.9,629.3 L419.2,629.5 L419.5,629.6 L419.8,629.7 L419.8,630.9 Z M430.0,630.9 L430.0,629.8 L430.3,629.7 L430.6,629.5 L430.9,630.1 L431.2,629.7 L431.5,629.9 L431.8,630.0 L432.1,629.9 L432.4,629.8 L432.7,629.3 L433.0,629.8 L433.3,629.7 L433.6,629.5 L433.9,629.3 L434.2,629.8 L434.5,629.4 L434.8,629.3 L435.1,628.8 L435.4,628.9 L435.7,629.0 L436.0,629.1 L436.3,629.4 L436.6,629.6 L436.9,629.6 L437.2,629.9 L437.5,629.7 L437.8,629.5 L438.1,630.0 L438.4,629.8 L438.7,629.4 L439.0,629.3 L439.3,629.3 L439.6,629.2 L439.9,629.3 L440.2,629.1 L440.5,629.5 L440.8,629.2 L441.1,629.6 L441.4,629.8 L441.7,629.7 L442.0,630.0 L442.3,629.7 L442.6,630.1 L442.9,630.3 L443.2,630.4 L443.5,630.1 L443.8,629.8 L444.1,630.0 L444.4,630.1 L444.7,630.4 L445.0,630.3 L445.3,630.0 L445.6,630.1 L445.9,630.0 L446.2,629.9 L446.5,629.8 L446.8,629.9 L447.1,629.6 L447.4,629.5 L447.7,629.6 L448.0,629.4 L448.3,629.5 L448.6,629.4 L448.9,629.2 L449.2,629.2 L449.5,629.2 L449.8,629.1 L450.1,629.2 L450.4,629.0 L450.7,629.1 L451.0,629.7 L451.3,629.9 L451.6,629.8 L451.9,629.6 L452.2,630.0 L452.5,629.9 L452.8,630.0 L453.1,629.7 L453.4,629.5 L453.7,629.2 L454.0,628.9 L454.3,629.2 L454.6,629.3 L454.9,629.4 L455.2,629.5 L455.5,629.4 L455.8,629.7 L456.1,629.3 L456.4,629.3 L456.7,629.7 L457.0,629.6 L457.3,629.5 L457.6,629.5 L457.9,629.5 L458.2,629.4 L458.5,629.5 L458.8,629.2 L459.1,629.6 L459.4,629.5 L459.7,629.5 L460.0,629.0 L460.3,628.7 L460.6,628.9 L460.9,628.8 L461.2,629.0 L461.5,628.6 L461.8,628.8 L462.1,628.6 L462.4,628.8 L462.7,628.6 L463.0,628.5 L463.3,628.9 L463.6,629.4 L463.9,629.5 L464.2,629.5 L464.5,629.5 L464.8,629.6 L465.1,629.4 L465.4,629.4 L465.7,629.7 L466.0,629.6 L466.0,630.9 Z " fill="#a64dac"/>
<text x="285.30" y="587.80" font-size="6.5">ChIP–seq iPS/ES</text>
<path d="M281.1,589.0 L282.3,589.0 L282.3,601.9 L281.1,601.9" fill="none" stroke="#222" stroke-width="0.8"/>
<path d="M281.1,603.9 L282.3,603.9 L282.3,615.9 L281.1,615.9" fill="none" stroke="#222" stroke-width="0.8"/>
<path d="M281.1,617.9 L282.3,617.9 L282.3,630.8 L281.1,630.8" fill="none" stroke="#222" stroke-width="0.8"/>
<text x="277.70" y="598.80" font-size="6.5" text-anchor="end">OCT4</text>
<text x="277.70" y="612.90" font-size="6.5" text-anchor="end">SOX2</text>
<text x="277.70" y="628.00" font-size="6.5" text-anchor="end">KLF4</text>
<line x1="353.60" y1="441.00" x2="353.60" y2="633.00" stroke="#111" stroke-width="0.9" stroke-dasharray="1.8,1.2"/>
<line x1="411.80" y1="441.00" x2="411.80" y2="637.80" stroke="#111" stroke-width="0.95" stroke-dasharray="3,1.8"/>
<path d="M340.6,443.3 L352.8,443.3 M340.6,443.3 L343.9,441.6" fill="none" stroke="#2020d0" stroke-width="1.0"/>
<path d="M414.0,443.7 L425.8,443.7 M425.8,443.7 L422.5,442.0" fill="none" stroke="#d7191c" stroke-width="1.0"/>
<rect x="325.60" y="634.20" width="27.60" height="4.40" fill="#8b1010"/>
<rect x="353.20" y="634.20" width="28.50" height="4.40" fill="#1515b5"/>
<text x="325.60" y="645.80" font-size="6.5">Final</text>
<text x="362.60" y="645.80" font-size="6.5">Early</text>
<path d="M344.2,643.6 L354.5,643.6" fill="none" stroke="#222" stroke-width="0.7"/>
<path d="M343.6,643.6 L346.4,642.2 L346.4,645.0 Z" fill="#222"/>
<text x="352.50" y="654.90" font-size="6.5" text-anchor="middle">OSK nuc. array</text>
<text x="413.00" y="648.20" font-size="6.5">Far border</text>
<text x="479.80" y="430.20" font-size="10.5" font-weight="bold" class="pl">i</text>
<text x="480.40" y="523.80" font-size="10.5" font-weight="bold" class="pl">j</text>
<rect x="571.90" y="452.60" width="40.10" height="47.60" fill="url(#ybI)"/>
<rect x="571.90" y="529.80" width="40.10" height="100.50" fill="url(#ybJ)"/>
<path d="M507.0,490.4 L507.5,489.9 L508.0,490.2 L508.5,489.9 L509.0,490.8 L509.5,490.1 L510.0,490.2 L510.5,490.4 L511.0,489.8 L511.5,490.3 L512.0,490.1 L512.5,490.2 L513.0,489.7 L513.5,490.2 L514.0,489.7 L514.5,490.0 L515.0,490.1 L515.5,490.1 L516.0,490.2 L516.5,489.5 L517.0,490.4 L517.5,489.9 L518.0,489.9 L518.5,490.1 L519.0,490.3 L519.5,489.6 L520.0,489.8 L520.5,489.8 L521.0,490.1 L521.5,489.9 L522.0,490.3 L522.5,489.9 L523.0,489.6 L523.5,489.5 L524.0,489.6 L524.5,489.7 L525.0,489.5 L525.5,489.7 L526.0,489.9 L526.5,489.5 L527.0,489.9 L527.5,489.8 L528.0,489.7 L528.5,489.9 L529.0,489.9 L529.5,489.2 L530.0,489.6 L530.5,489.7 L531.0,489.3 L531.5,489.3 L532.0,489.7 L532.5,489.5 L533.0,489.8 L533.5,489.5 L534.0,490.1 L534.5,489.7 L535.0,489.7 L535.5,490.0 L536.0,490.1 L536.5,489.9 L537.0,490.3 L537.5,490.0 L538.0,490.7 L538.5,490.5 L539.0,490.5 L539.5,490.5 L540.0,490.5 L540.5,490.1 L541.0,490.5 L541.5,490.5 L542.0,490.1 L542.5,490.3 L543.0,489.9 L543.5,490.4 L544.0,490.1 L544.5,490.5 L545.0,490.2 L545.5,489.8 L546.0,490.0 L546.5,490.3 L547.0,490.1 L547.5,489.6 L548.0,489.5 L548.5,489.5 L549.0,489.4 L549.5,489.4 L550.0,490.2 L550.5,489.6 L551.0,489.8 L551.5,489.1 L552.0,489.4 L552.5,489.5 L553.0,488.8 L553.5,489.0 L554.0,488.7 L554.5,488.7 L555.0,488.7 L555.5,489.0 L556.0,488.9 L556.5,488.4 L557.0,488.1 L557.5,488.5 L558.0,488.0 L558.5,487.8 L559.0,488.1 L559.5,487.4 L560.0,486.9 L560.5,487.1 L561.0,486.2 L561.5,485.5 L562.0,485.7 L562.5,484.7 L563.0,484.3 L563.5,483.9 L564.0,483.3 L564.5,481.7 L565.0,481.6 L565.5,481.0 L566.0,480.3 L566.5,479.0 L567.0,477.9 L567.5,477.2 L568.0,475.8 L568.5,475.5 L569.0,474.3 L569.5,473.4 L570.0,473.4 L570.5,473.1 L571.0,472.6 L571.5,471.6 L572.0,471.9 L572.5,471.4 L573.0,471.0 L573.5,470.7 L574.0,470.9 L574.5,470.8 L575.0,470.9 L575.5,471.1 L576.0,471.3 L576.5,471.6 L577.0,471.9 L577.5,472.4 L578.0,473.1 L578.5,472.8 L579.0,473.0 L579.5,473.6 L580.0,474.3 L580.5,474.5 L581.0,475.0 L581.5,475.6 L582.0,475.9 L582.5,476.3 L583.0,476.8 L583.5,477.0 L584.0,477.1 L584.5,477.4 L585.0,477.8 L585.5,477.8 L586.0,478.3 L586.5,478.4 L587.0,478.8 L587.5,478.9 L588.0,479.2 L588.5,480.2 L589.0,479.8 L589.5,480.6 L590.0,480.9 L590.5,481.3 L591.0,481.3 L591.5,481.7 L592.0,481.9 L592.5,482.2 L593.0,482.5 L593.5,482.9 L594.0,483.0 L594.5,483.1 L595.0,483.3 L595.5,483.5 L596.0,484.0 L596.5,484.4 L597.0,484.3 L597.5,484.8 L598.0,485.2 L598.5,485.0 L599.0,485.6 L599.5,485.5 L600.0,485.3 L600.5,485.4 L601.0,485.7 L601.5,485.7 L602.0,486.0 L602.5,485.4 L603.0,486.2 L603.5,486.3 L604.0,485.8 L604.5,486.0 L605.0,486.7 L605.5,486.5 L606.0,486.3 L606.5,486.3 L607.0,486.5 L607.5,486.6 L608.0,486.3 L608.5,486.4 L609.0,486.1 L609.5,485.7 L610.0,486.1 L610.5,485.9 L611.0,486.2 L611.5,486.0 L612.0,486.0 L612.5,485.4 L613.0,485.9 L613.5,485.2 L614.0,485.8 L614.5,485.5 L615.0,485.7 L615.5,485.8 L616.0,485.7 L616.5,485.2 L617.0,485.1 L617.5,485.5 L618.0,485.5 L618.5,485.5 L619.0,485.2 L619.5,485.1 L620.0,485.4 L620.5,485.8 L621.0,485.2 L621.5,485.5 L622.0,485.5 L622.5,485.3 L623.0,484.7 L623.5,485.6 L624.0,485.1 L624.5,485.7 L625.0,485.4 L625.5,485.7 L626.0,486.2 L626.5,485.6 L627.0,485.9 L627.5,486.1 L628.0,486.2 L628.5,486.5 L629.0,486.5 L629.5,486.7 L630.0,486.8 L630.5,486.9 L631.0,487.4 L631.5,486.8 L632.0,487.2 L632.5,487.1 L633.0,487.4 L633.5,486.5 L634.0,487.1 L634.5,487.4 L635.0,487.4 L635.5,487.8 L636.0,487.1 L636.5,488.1 L637.0,487.7 L637.5,487.6 L638.0,487.5 L638.5,487.5 L639.0,487.6 L639.5,487.8 L640.0,487.5 L640.5,487.9 L641.0,487.6 L641.5,487.9 L642.0,487.5 L642.5,487.7 L643.0,487.5 L643.5,488.0 L644.0,487.7 L644.5,487.7 L645.0,488.1 L645.5,487.7 L646.0,487.4 L646.5,487.6 L647.0,487.5 L647.5,487.9 L648.0,488.4 L648.5,488.5 L649.0,488.2 L649.5,488.4 L650.0,488.9 L650.5,488.9 L651.0,488.3 L651.5,488.8 L652.0,489.1 L652.5,489.2 L653.0,489.6 L653.5,489.8 L654.0,489.6 L654.5,490.2 L655.0,490.2 L655.5,490.4 L656.0,490.7 L656.5,490.2 L657.0,489.8 L657.5,490.2 L658.0,490.4 L658.5,490.3 L659.0,490.4 L659.5,490.2 L660.0,490.6 L660.5,490.9 L661.0,490.8 L661.5,490.4 L662.0,490.6 L662.5,490.8 L663.0,490.4 L663.5,490.6 L664.0,490.3 L664.5,490.9 L665.0,490.6 L665.5,490.3 L666.0,489.7 L666.5,490.3 L667.0,489.8 L667.5,490.2 L668.0,490.2 L668.5,490.1 L669.0,489.7 L669.5,489.4 L670.0,489.6 L670.5,489.6 L671.0,488.6 L671.5,489.2 L672.0,489.5 L672.5,489.2 L673.0,489.5 L673.5,489.2 L674.0,489.2 L674.5,489.2 L675.0,489.1" fill="none" stroke="#3a8dd0" stroke-width="1.5" stroke-linejoin="round" clip-path="url(#cli)"/>
<path d="M507.0,490.6 L507.5,490.2 L508.0,490.1 L508.5,489.9 L509.0,490.2 L509.5,489.9 L510.0,489.9 L510.5,490.2 L511.0,490.0 L511.5,490.0 L512.0,490.4 L512.5,490.1 L513.0,489.9 L513.5,489.9 L514.0,489.7 L514.5,489.9 L515.0,490.0 L515.5,490.1 L516.0,489.9 L516.5,489.8 L517.0,489.8 L517.5,489.8 L518.0,489.6 L518.5,489.3 L519.0,489.6 L519.5,489.7 L520.0,489.7 L520.5,489.6 L521.0,489.5 L521.5,489.4 L522.0,489.4 L522.5,489.2 L523.0,489.8 L523.5,489.3 L524.0,489.3 L524.5,489.4 L525.0,489.0 L525.5,489.0 L526.0,489.0 L526.5,489.1 L527.0,489.2 L527.5,488.9 L528.0,488.9 L528.5,488.9 L529.0,489.2 L529.5,489.3 L530.0,489.5 L530.5,489.7 L531.0,489.7 L531.5,489.6 L532.0,489.6 L532.5,489.9 L533.0,489.9 L533.5,490.1 L534.0,490.3 L534.5,490.1 L535.0,490.4 L535.5,490.5 L536.0,490.3 L536.5,490.9 L537.0,490.8 L537.5,490.9 L538.0,491.3 L538.5,491.5 L539.0,491.2 L539.5,491.5 L540.0,491.5 L540.5,491.9 L541.0,492.3 L541.5,492.5 L542.0,492.7 L542.5,493.3 L543.0,493.4 L543.5,493.6 L544.0,493.9 L544.5,494.0 L545.0,494.2 L545.5,494.4 L546.0,494.8 L546.5,495.2 L547.0,495.2 L547.5,495.2 L548.0,495.9 L548.5,495.8 L549.0,496.0 L549.5,496.0 L550.0,495.7 L550.5,495.8 L551.0,495.9 L551.5,495.6 L552.0,496.5 L552.5,495.9 L553.0,495.8 L553.5,495.6 L554.0,495.8 L554.5,495.8 L555.0,495.9 L555.5,495.4 L556.0,495.6 L556.5,495.1 L557.0,494.4 L557.5,494.5 L558.0,493.8 L558.5,493.7 L559.0,493.2 L559.5,492.4 L560.0,491.7 L560.5,491.1 L561.0,490.1 L561.5,489.4 L562.0,488.7 L562.5,487.1 L563.0,485.7 L563.5,483.4 L564.0,482.0 L564.5,480.3 L565.0,478.3 L565.5,476.9 L566.0,474.7 L566.5,472.4 L567.0,470.9 L567.5,468.6 L568.0,467.2 L568.5,465.8 L569.0,464.9 L569.5,463.2 L570.0,462.1 L570.5,460.7 L571.0,459.5 L571.5,458.6 L572.0,457.6 L572.5,456.5 L573.0,455.1 L573.5,455.6 L574.0,455.6 L574.5,455.7 L575.0,456.0 L575.5,455.9 L576.0,456.9 L576.5,457.5 L577.0,458.5 L577.5,459.2 L578.0,460.1 L578.5,461.3 L579.0,462.4 L579.5,463.3 L580.0,464.5 L580.5,465.9 L581.0,467.3 L581.5,468.2 L582.0,469.4 L582.5,470.5 L583.0,471.8 L583.5,472.8 L584.0,473.9 L584.5,474.9 L585.0,475.7 L585.5,477.0 L586.0,478.2 L586.5,478.7 L587.0,479.8 L587.5,479.9 L588.0,480.8 L588.5,480.6 L589.0,481.7 L589.5,482.0 L590.0,481.9 L590.5,482.5 L591.0,482.6 L591.5,483.8 L592.0,484.1 L592.5,484.3 L593.0,484.4 L593.5,485.0 L594.0,485.4 L594.5,486.0 L595.0,486.6 L595.5,486.9 L596.0,487.3 L596.5,487.5 L597.0,487.9 L597.5,488.6 L598.0,488.8 L598.5,489.2 L599.0,489.4 L599.5,489.5 L600.0,489.7 L600.5,489.7 L601.0,489.7 L601.5,490.0 L602.0,489.9 L602.5,490.2 L603.0,490.2 L603.5,490.3 L604.0,490.1 L604.5,490.5 L605.0,490.2 L605.5,490.4 L606.0,490.6 L606.5,490.5 L607.0,491.1 L607.5,490.8 L608.0,490.7 L608.5,490.9 L609.0,490.2 L609.5,490.8 L610.0,490.4 L610.5,490.4 L611.0,490.1 L611.5,490.7 L612.0,490.4 L612.5,490.1 L613.0,490.4 L613.5,490.6 L614.0,490.2 L614.5,490.4 L615.0,490.1 L615.5,490.2 L616.0,490.6 L616.5,490.2 L617.0,490.0 L617.5,490.4 L618.0,489.7 L618.5,490.0 L619.0,490.2 L619.5,489.6 L620.0,490.1 L620.5,490.3 L621.0,490.2 L621.5,489.6 L622.0,489.9 L622.5,489.6 L623.0,489.7 L623.5,490.1 L624.0,489.9 L624.5,489.9 L625.0,490.0 L625.5,489.9 L626.0,489.9 L626.5,490.2 L627.0,490.4 L627.5,490.4 L628.0,490.8 L628.5,490.7 L629.0,490.6 L629.5,490.7 L630.0,491.2 L630.5,491.3 L631.0,491.1 L631.5,490.8 L632.0,490.9 L632.5,491.1 L633.0,491.3 L633.5,491.3 L634.0,491.4 L634.5,491.0 L635.0,491.4 L635.5,491.7 L636.0,491.6 L636.5,491.6 L637.0,491.5 L637.5,491.6 L638.0,491.5 L638.5,491.7 L639.0,492.0 L639.5,491.8 L640.0,492.0 L640.5,491.6 L641.0,491.6 L641.5,491.8 L642.0,491.4 L642.5,491.5 L643.0,491.2 L643.5,491.5 L644.0,491.2 L644.5,491.2 L645.0,491.2 L645.5,491.2 L646.0,491.4 L646.5,491.5 L647.0,492.0 L647.5,491.4 L648.0,491.7 L648.5,491.4 L649.0,491.7 L649.5,491.7 L650.0,491.9 L650.5,492.1 L651.0,492.0 L651.5,492.1 L652.0,492.2 L652.5,492.3 L653.0,492.6 L653.5,492.4 L654.0,493.1 L654.5,493.1 L655.0,492.8 L655.5,493.1 L656.0,492.9 L656.5,492.5 L657.0,492.4 L657.5,492.5 L658.0,492.2 L658.5,492.3 L659.0,492.0 L659.5,492.3 L660.0,491.6 L660.5,492.1 L661.0,491.5 L661.5,491.6 L662.0,491.8 L662.5,491.1 L663.0,491.0 L663.5,490.9 L664.0,490.6 L664.5,490.8 L665.0,491.3 L665.5,490.6 L666.0,490.6 L666.5,490.7 L667.0,490.6 L667.5,489.9 L668.0,490.4 L668.5,490.5 L669.0,490.4 L669.5,489.6 L670.0,489.9 L670.5,490.0 L671.0,489.9 L671.5,489.4 L672.0,489.5 L672.5,489.4 L673.0,489.1 L673.5,489.0 L674.0,488.9 L674.5,488.6 L675.0,488.6" fill="none" stroke="#48b248" stroke-width="1.5" stroke-linejoin="round" clip-path="url(#cli)"/>
<path d="M507.0,490.7 L507.5,491.7 L508.0,491.1 L508.5,491.4 L509.0,491.1 L509.5,491.3 L510.0,490.6 L510.5,490.9 L511.0,490.3 L511.5,490.9 L512.0,490.9 L512.5,489.9 L513.0,489.9 L513.5,490.2 L514.0,490.9 L514.5,490.2 L515.0,490.4 L515.5,489.6 L516.0,492.0 L516.5,490.3 L517.0,489.9 L517.5,489.7 L518.0,490.9 L518.5,490.3 L519.0,490.5 L519.5,490.5 L520.0,490.2 L520.5,490.5 L521.0,491.2 L521.5,489.9 L522.0,490.0 L522.5,490.3 L523.0,490.1 L523.5,490.4 L524.0,489.9 L524.5,489.5 L525.0,490.0 L525.5,489.1 L526.0,489.9 L526.5,490.2 L527.0,491.0 L527.5,490.0 L528.0,490.4 L528.5,490.6 L529.0,490.1 L529.5,490.8 L530.0,490.9 L530.5,490.9 L531.0,491.2 L531.5,492.0 L532.0,491.1 L532.5,491.7 L533.0,491.5 L533.5,491.3 L534.0,491.9 L534.5,492.2 L535.0,492.0 L535.5,491.8 L536.0,491.8 L536.5,491.3 L537.0,491.9 L537.5,491.5 L538.0,491.2 L538.5,491.0 L539.0,491.3 L539.5,490.5 L540.0,490.8 L540.5,490.3 L541.0,491.6 L541.5,491.6 L542.0,491.1 L542.5,490.4 L543.0,490.7 L543.5,491.6 L544.0,491.1 L544.5,491.2 L545.0,491.7 L545.5,491.5 L546.0,491.1 L546.5,490.7 L547.0,490.4 L547.5,490.5 L548.0,490.8 L548.5,490.9 L549.0,490.6 L549.5,490.4 L550.0,490.6 L550.5,491.2 L551.0,490.6 L551.5,489.7 L552.0,490.4 L552.5,490.5 L553.0,490.8 L553.5,489.9 L554.0,490.1 L554.5,489.9 L555.0,491.0 L555.5,490.3 L556.0,490.4 L556.5,490.3 L557.0,489.7 L557.5,488.8 L558.0,490.2 L558.5,488.5 L559.0,489.2 L559.5,489.2 L560.0,488.7 L560.5,488.6 L561.0,488.2 L561.5,487.9 L562.0,487.6 L562.5,486.2 L563.0,485.9 L563.5,486.5 L564.0,484.9 L564.5,484.9 L565.0,484.9 L565.5,483.8 L566.0,482.5 L566.5,482.1 L567.0,481.0 L567.5,480.0 L568.0,479.3 L568.5,477.7 L569.0,477.2 L569.5,477.1 L570.0,475.9 L570.5,475.9 L571.0,475.8 L571.5,474.9 L572.0,474.0 L572.5,473.1 L573.0,473.3 L573.5,473.9 L574.0,473.4 L574.5,473.8 L575.0,475.5 L575.5,474.5 L576.0,474.2 L576.5,475.4 L577.0,475.6 L577.5,475.2 L578.0,475.7 L578.5,475.8 L579.0,475.9 L579.5,475.8 L580.0,477.0 L580.5,477.7 L581.0,477.7 L581.5,479.1 L582.0,479.5 L582.5,480.1 L583.0,481.7 L583.5,481.8 L584.0,482.2 L584.5,482.7 L585.0,483.2 L585.5,483.7 L586.0,483.4 L586.5,484.2 L587.0,484.8 L587.5,484.4 L588.0,485.5 L588.5,485.2 L589.0,486.2 L589.5,486.9 L590.0,487.1 L590.5,487.4 L591.0,487.9 L591.5,487.6 L592.0,488.8 L592.5,488.0 L593.0,487.8 L593.5,488.7 L594.0,488.7 L594.5,489.5 L595.0,489.4 L595.5,489.2 L596.0,489.4 L596.5,489.5 L597.0,489.5 L597.5,490.4 L598.0,491.4 L598.5,490.4 L599.0,490.6 L599.5,490.9 L600.0,490.9 L600.5,490.9 L601.0,491.5 L601.5,490.9 L602.0,490.9 L602.5,490.9 L603.0,490.3 L603.5,490.4 L604.0,489.8 L604.5,490.5 L605.0,490.4 L605.5,490.7 L606.0,491.2 L606.5,489.8 L607.0,491.0 L607.5,491.6 L608.0,490.9 L608.5,491.0 L609.0,491.8 L609.5,491.5 L610.0,491.5 L610.5,491.0 L611.0,491.3 L611.5,491.9 L612.0,492.1 L612.5,491.9 L613.0,492.5 L613.5,492.7 L614.0,491.3 L614.5,492.1 L615.0,492.1 L615.5,492.4 L616.0,493.4 L616.5,491.8 L617.0,491.8 L617.5,492.5 L618.0,491.7 L618.5,491.9 L619.0,492.6 L619.5,492.7 L620.0,492.8 L620.5,492.5 L621.0,491.8 L621.5,491.9 L622.0,492.5 L622.5,491.7 L623.0,492.1 L623.5,491.6 L624.0,492.3 L624.5,492.2 L625.0,491.2 L625.5,491.6 L626.0,491.6 L626.5,492.2 L627.0,491.7 L627.5,490.8 L628.0,491.8 L628.5,491.9 L629.0,491.3 L629.5,492.4 L630.0,492.3 L630.5,491.2 L631.0,491.8 L631.5,490.7 L632.0,491.3 L632.5,491.1 L633.0,491.5 L633.5,491.6 L634.0,491.6 L634.5,491.2 L635.0,491.2 L635.5,491.6 L636.0,491.1 L636.5,491.9 L637.0,491.2 L637.5,491.1 L638.0,491.4 L638.5,490.9 L639.0,491.5 L639.5,491.3 L640.0,491.0 L640.5,490.3 L641.0,490.8 L641.5,490.7 L642.0,490.8 L642.5,490.8 L643.0,490.5 L643.5,490.5 L644.0,490.5 L644.5,490.1 L645.0,490.3 L645.5,490.1 L646.0,490.3 L646.5,489.7 L647.0,491.0 L647.5,490.7 L648.0,490.5 L648.5,490.1 L649.0,490.6 L649.5,490.3 L650.0,491.0 L650.5,490.6 L651.0,490.6 L651.5,489.7 L652.0,490.3 L652.5,490.9 L653.0,490.3 L653.5,490.8 L654.0,491.3 L654.5,491.6 L655.0,490.8 L655.5,489.5 L656.0,490.8 L656.5,491.0 L657.0,490.0 L657.5,491.2 L658.0,490.5 L658.5,491.1 L659.0,490.3 L659.5,490.3 L660.0,489.7 L660.5,490.4 L661.0,490.2 L661.5,489.6 L662.0,490.1 L662.5,489.6 L663.0,490.4 L663.5,489.8 L664.0,489.5 L664.5,489.3 L665.0,490.1 L665.5,489.2 L666.0,489.2 L666.5,488.4 L667.0,489.1 L667.5,488.7 L668.0,488.2 L668.5,488.0 L669.0,488.8 L669.5,488.2 L670.0,488.3 L670.5,488.3 L671.0,488.5 L671.5,488.6 L672.0,487.9 L672.5,488.1 L673.0,487.5 L673.5,488.6 L674.0,488.8 L674.5,488.1 L675.0,489.0" fill="none" stroke="#9b4db0" stroke-width="1.5" stroke-linejoin="round" clip-path="url(#cli)"/>
<path d="M507.0,570.3 L507.5,570.3 L508.0,570.5 L508.5,570.2 L509.0,570.6 L509.5,571.3 L510.0,570.7 L510.5,570.7 L511.0,570.8 L511.5,571.4 L512.0,570.6 L512.5,571.7 L513.0,571.0 L513.5,571.4 L514.0,571.6 L514.5,571.2 L515.0,571.4 L515.5,571.8 L516.0,571.6 L516.5,571.2 L517.0,571.8 L517.5,571.4 L518.0,571.9 L518.5,571.8 L519.0,571.4 L519.5,572.2 L520.0,572.0 L520.5,572.3 L521.0,572.0 L521.5,571.8 L522.0,571.4 L522.5,571.9 L523.0,571.6 L523.5,571.8 L524.0,571.2 L524.5,571.3 L525.0,571.9 L525.5,572.0 L526.0,572.5 L526.5,572.2 L527.0,571.5 L527.5,572.1 L528.0,571.8 L528.5,571.3 L529.0,572.0 L529.5,571.6 L530.0,571.5 L530.5,571.5 L531.0,571.9 L531.5,571.8 L532.0,571.9 L532.5,572.0 L533.0,572.3 L533.5,571.9 L534.0,572.0 L534.5,572.3 L535.0,572.4 L535.5,572.5 L536.0,572.8 L536.5,571.7 L537.0,572.8 L537.5,572.6 L538.0,572.9 L538.5,572.4 L539.0,572.7 L539.5,573.2 L540.0,573.3 L540.5,573.2 L541.0,573.0 L541.5,572.8 L542.0,573.1 L542.5,572.6 L543.0,573.2 L543.5,573.0 L544.0,573.3 L544.5,573.4 L545.0,573.8 L545.5,573.9 L546.0,574.0 L546.5,574.2 L547.0,574.3 L547.5,574.8 L548.0,574.3 L548.5,574.2 L549.0,574.0 L549.5,574.1 L550.0,574.2 L550.5,574.2 L551.0,573.3 L551.5,573.4 L552.0,572.8 L552.5,572.8 L553.0,571.9 L553.5,572.1 L554.0,571.9 L554.5,570.8 L555.0,571.0 L555.5,570.5 L556.0,570.5 L556.5,570.2 L557.0,569.8 L557.5,569.6 L558.0,569.2 L558.5,569.0 L559.0,568.4 L559.5,568.3 L560.0,567.4 L560.5,567.6 L561.0,566.8 L561.5,566.6 L562.0,566.3 L562.5,566.0 L563.0,565.8 L563.5,564.9 L564.0,564.7 L564.5,563.8 L565.0,563.3 L565.5,563.7 L566.0,562.5 L566.5,561.7 L567.0,560.3 L567.5,558.6 L568.0,558.0 L568.5,556.7 L569.0,555.7 L569.5,555.1 L570.0,553.9 L570.5,553.4 L571.0,552.5 L571.5,552.0 L572.0,551.4 L572.5,551.1 L573.0,551.1 L573.5,551.2 L574.0,550.9 L574.5,551.1 L575.0,551.3 L575.5,551.4 L576.0,551.9 L576.5,552.3 L577.0,552.8 L577.5,553.2 L578.0,553.4 L578.5,553.3 L579.0,553.4 L579.5,553.7 L580.0,554.0 L580.5,554.0 L581.0,554.9 L581.5,555.1 L582.0,555.4 L582.5,555.6 L583.0,556.6 L583.5,557.1 L584.0,556.6 L584.5,557.9 L585.0,557.6 L585.5,558.1 L586.0,557.6 L586.5,558.4 L587.0,558.9 L587.5,558.8 L588.0,559.4 L588.5,559.4 L589.0,559.9 L589.5,560.4 L590.0,559.8 L590.5,560.5 L591.0,560.6 L591.5,560.7 L592.0,561.5 L592.5,562.3 L593.0,562.9 L593.5,563.3 L594.0,563.6 L594.5,563.9 L595.0,564.1 L595.5,564.6 L596.0,564.6 L596.5,564.2 L597.0,565.3 L597.5,565.0 L598.0,564.9 L598.5,565.7 L599.0,565.8 L599.5,566.4 L600.0,565.7 L600.5,565.4 L601.0,565.6 L601.5,564.9 L602.0,565.0 L602.5,564.5 L603.0,563.5 L603.5,563.3 L604.0,563.0 L604.5,563.4 L605.0,563.1 L605.5,563.0 L606.0,562.6 L606.5,563.2 L607.0,562.1 L607.5,563.4 L608.0,563.4 L608.5,563.9 L609.0,563.9 L609.5,563.5 L610.0,564.0 L610.5,563.8 L611.0,564.3 L611.5,564.4 L612.0,565.7 L612.5,564.8 L613.0,565.0 L613.5,565.4 L614.0,566.2 L614.5,565.5 L615.0,566.3 L615.5,566.1 L616.0,565.4 L616.5,565.4 L617.0,566.0 L617.5,564.6 L618.0,564.6 L618.5,564.3 L619.0,564.5 L619.5,564.6 L620.0,564.2 L620.5,564.5 L621.0,564.4 L621.5,564.5 L622.0,564.2 L622.5,564.1 L623.0,563.9 L623.5,564.4 L624.0,564.0 L624.5,564.3 L625.0,563.7 L625.5,564.1 L626.0,564.3 L626.5,564.2 L627.0,564.6 L627.5,564.4 L628.0,564.9 L628.5,566.0 L629.0,565.6 L629.5,565.3 L630.0,566.1 L630.5,566.2 L631.0,566.4 L631.5,565.9 L632.0,565.9 L632.5,565.5 L633.0,565.1 L633.5,565.4 L634.0,565.1 L634.5,564.7 L635.0,565.5 L635.5,564.7 L636.0,564.2 L636.5,564.2 L637.0,564.4 L637.5,563.8 L638.0,563.4 L638.5,563.8 L639.0,562.9 L639.5,563.2 L640.0,562.8 L640.5,562.6 L641.0,563.3 L641.5,563.3 L642.0,563.5 L642.5,563.4 L643.0,563.4 L643.5,562.6 L644.0,563.6 L644.5,563.8 L645.0,564.3 L645.5,564.9 L646.0,564.4 L646.5,565.4 L647.0,564.8 L647.5,565.3 L648.0,565.6 L648.5,564.8 L649.0,566.1 L649.5,565.4 L650.0,566.0 L650.5,565.9 L651.0,566.2 L651.5,566.2 L652.0,566.7 L652.5,567.5 L653.0,566.8 L653.5,567.7 L654.0,567.7 L654.5,568.0 L655.0,568.2 L655.5,568.6 L656.0,568.8 L656.5,568.6 L657.0,568.8 L657.5,569.9 L658.0,570.0 L658.5,570.7 L659.0,570.5 L659.5,570.7 L660.0,570.8 L660.5,570.7 L661.0,571.6 L661.5,572.2 L662.0,571.8 L662.5,572.3 L663.0,572.4 L663.5,571.6 L664.0,572.0 L664.5,571.3 L665.0,571.5 L665.5,571.4 L666.0,570.9 L666.5,570.8 L667.0,571.1 L667.5,571.3 L668.0,570.2 L668.5,570.2 L669.0,570.0 L669.5,569.8 L670.0,570.2 L670.5,569.7 L671.0,570.2 L671.5,570.2 L672.0,569.7 L672.5,569.4 L673.0,569.7 L673.5,569.6 L674.0,569.3 L674.5,569.8 L675.0,569.4" fill="none" stroke="#3a8dd0" stroke-width="1.5" stroke-linejoin="round" clip-path="url(#clj1)"/>
<path d="M507.0,568.7 L507.5,569.2 L508.0,568.7 L508.5,569.4 L509.0,569.0 L509.5,569.5 L510.0,569.2 L510.5,568.8 L511.0,569.0 L511.5,569.3 L512.0,569.1 L512.5,569.2 L513.0,569.4 L513.5,568.9 L514.0,569.2 L514.5,569.1 L515.0,569.4 L515.5,569.5 L516.0,569.3 L516.5,569.0 L517.0,569.1 L517.5,569.0 L518.0,569.2 L518.5,569.2 L519.0,569.1 L519.5,569.2 L520.0,568.7 L520.5,568.7 L521.0,568.6 L521.5,569.1 L522.0,568.9 L522.5,568.6 L523.0,569.0 L523.5,568.7 L524.0,568.7 L524.5,568.6 L525.0,568.8 L525.5,568.8 L526.0,568.8 L526.5,568.7 L527.0,568.6 L527.5,568.6 L528.0,568.6 L528.5,568.0 L529.0,568.5 L529.5,568.5 L530.0,568.7 L530.5,568.6 L531.0,568.8 L531.5,568.9 L532.0,568.9 L532.5,568.8 L533.0,569.2 L533.5,569.6 L534.0,569.7 L534.5,570.1 L535.0,570.4 L535.5,570.1 L536.0,570.3 L536.5,570.3 L537.0,570.6 L537.5,570.5 L538.0,570.8 L538.5,571.0 L539.0,571.3 L539.5,571.2 L540.0,571.3 L540.5,571.9 L541.0,571.7 L541.5,572.0 L542.0,572.3 L542.5,572.3 L543.0,572.3 L543.5,572.9 L544.0,572.6 L544.5,572.9 L545.0,572.8 L545.5,573.7 L546.0,573.4 L546.5,574.1 L547.0,573.9 L547.5,574.2 L548.0,574.0 L548.5,574.1 L549.0,574.4 L549.5,574.5 L550.0,574.1 L550.5,574.2 L551.0,574.3 L551.5,574.0 L552.0,573.7 L552.5,573.7 L553.0,573.3 L553.5,573.0 L554.0,572.9 L554.5,571.9 L555.0,572.5 L555.5,571.9 L556.0,571.2 L556.5,571.2 L557.0,570.8 L557.5,570.7 L558.0,570.2 L558.5,569.6 L559.0,569.5 L559.5,569.3 L560.0,568.9 L560.5,568.2 L561.0,567.6 L561.5,566.9 L562.0,566.6 L562.5,566.2 L563.0,565.2 L563.5,563.6 L564.0,562.5 L564.5,561.0 L565.0,559.8 L565.5,558.3 L566.0,556.8 L566.5,555.2 L567.0,553.7 L567.5,551.6 L568.0,550.2 L568.5,548.3 L569.0,547.2 L569.5,545.9 L570.0,544.9 L570.5,544.1 L571.0,543.0 L571.5,542.2 L572.0,540.7 L572.5,540.4 L573.0,539.8 L573.5,539.8 L574.0,539.1 L574.5,538.5 L575.0,538.6 L575.5,538.5 L576.0,539.1 L576.5,539.4 L577.0,540.2 L577.5,540.4 L578.0,541.3 L578.5,541.4 L579.0,542.4 L579.5,542.9 L580.0,544.1 L580.5,544.6 L581.0,545.1 L581.5,546.3 L582.0,547.1 L582.5,547.7 L583.0,548.4 L583.5,549.5 L584.0,550.7 L584.5,550.9 L585.0,551.6 L585.5,552.8 L586.0,553.3 L586.5,554.0 L587.0,555.3 L587.5,556.2 L588.0,557.0 L588.5,557.6 L589.0,558.3 L589.5,558.7 L590.0,559.7 L590.5,559.9 L591.0,560.5 L591.5,561.7 L592.0,562.2 L592.5,562.7 L593.0,563.4 L593.5,563.7 L594.0,564.1 L594.5,564.3 L595.0,564.7 L595.5,565.7 L596.0,565.9 L596.5,566.3 L597.0,566.6 L597.5,567.0 L598.0,567.2 L598.5,566.9 L599.0,566.7 L599.5,566.8 L600.0,566.8 L600.5,566.9 L601.0,566.6 L601.5,566.7 L602.0,566.0 L602.5,566.3 L603.0,566.5 L603.5,566.0 L604.0,565.7 L604.5,565.7 L605.0,565.8 L605.5,565.7 L606.0,566.0 L606.5,565.5 L607.0,566.1 L607.5,566.3 L608.0,566.4 L608.5,566.5 L609.0,566.6 L609.5,566.8 L610.0,566.6 L610.5,566.8 L611.0,567.0 L611.5,567.2 L612.0,567.2 L612.5,567.1 L613.0,567.5 L613.5,567.5 L614.0,567.5 L614.5,567.6 L615.0,567.6 L615.5,567.9 L616.0,567.6 L616.5,567.5 L617.0,567.9 L617.5,567.9 L618.0,568.0 L618.5,568.0 L619.0,567.9 L619.5,568.3 L620.0,567.9 L620.5,567.9 L621.0,568.3 L621.5,568.0 L622.0,568.5 L622.5,568.1 L623.0,568.4 L623.5,568.5 L624.0,568.4 L624.5,568.1 L625.0,568.6 L625.5,568.6 L626.0,568.5 L626.5,568.3 L627.0,568.0 L627.5,568.1 L628.0,567.8 L628.5,568.6 L629.0,568.0 L629.5,568.4 L630.0,568.0 L630.5,568.3 L631.0,567.8 L631.5,567.7 L632.0,567.6 L632.5,567.8 L633.0,567.5 L633.5,567.4 L634.0,568.0 L634.5,568.0 L635.0,567.4 L635.5,567.8 L636.0,567.0 L636.5,567.5 L637.0,567.9 L637.5,567.9 L638.0,567.6 L638.5,567.6 L639.0,567.3 L639.5,567.6 L640.0,567.2 L640.5,566.7 L641.0,567.6 L641.5,567.5 L642.0,567.5 L642.5,567.8 L643.0,567.9 L643.5,567.4 L644.0,567.9 L644.5,567.8 L645.0,567.9 L645.5,568.4 L646.0,568.2 L646.5,568.2 L647.0,568.4 L647.5,568.5 L648.0,568.6 L648.5,568.9 L649.0,568.8 L649.5,568.8 L650.0,568.9 L650.5,568.8 L651.0,569.5 L651.5,569.4 L652.0,568.8 L652.5,569.3 L653.0,569.7 L653.5,569.1 L654.0,569.5 L654.5,570.1 L655.0,569.8 L655.5,569.9 L656.0,569.5 L656.5,570.2 L657.0,570.0 L657.5,570.2 L658.0,569.7 L658.5,569.8 L659.0,569.7 L659.5,570.1 L660.0,569.7 L660.5,569.9 L661.0,570.1 L661.5,569.8 L662.0,569.3 L662.5,569.4 L663.0,568.9 L663.5,569.2 L664.0,568.6 L664.5,568.9 L665.0,568.8 L665.5,568.1 L666.0,568.4 L666.5,568.2 L667.0,568.1 L667.5,567.8 L668.0,567.5 L668.5,567.5 L669.0,567.3 L669.5,568.0 L670.0,567.7 L670.5,568.0 L671.0,568.0 L671.5,567.9 L672.0,567.8 L672.5,568.3 L673.0,568.3 L673.5,568.1 L674.0,568.8 L674.5,568.6 L675.0,568.5" fill="none" stroke="#48b248" stroke-width="1.5" stroke-linejoin="round" clip-path="url(#clj1)"/>
<path d="M507.0,623.9 L507.5,624.5 L508.0,624.1 L508.5,624.2 L509.0,623.8 L509.5,624.3 L510.0,624.3 L510.5,624.8 L511.0,625.0 L511.5,625.0 L512.0,624.3 L512.5,625.0 L513.0,625.4 L513.5,624.9 L514.0,625.0 L514.5,625.2 L515.0,624.8 L515.5,625.2 L516.0,625.3 L516.5,625.5 L517.0,625.5 L517.5,625.5 L518.0,625.4 L518.5,626.2 L519.0,626.0 L519.5,625.9 L520.0,625.8 L520.5,626.2 L521.0,625.6 L521.5,626.1 L522.0,626.1 L522.5,625.9 L523.0,625.5 L523.5,625.6 L524.0,626.4 L524.5,625.8 L525.0,626.4 L525.5,626.1 L526.0,626.1 L526.5,626.4 L527.0,626.7 L527.5,626.6 L528.0,626.8 L528.5,626.1 L529.0,626.3 L529.5,626.9 L530.0,626.5 L530.5,626.5 L531.0,626.1 L531.5,626.4 L532.0,626.4 L532.5,626.7 L533.0,626.5 L533.5,626.0 L534.0,626.0 L534.5,626.9 L535.0,626.1 L535.5,626.1 L536.0,626.2 L536.5,626.4 L537.0,626.6 L537.5,626.5 L538.0,626.3 L538.5,626.4 L539.0,626.3 L539.5,626.4 L540.0,626.3 L540.5,626.5 L541.0,626.1 L541.5,626.2 L542.0,626.3 L542.5,625.9 L543.0,625.9 L543.5,626.1 L544.0,625.8 L544.5,625.7 L545.0,625.6 L545.5,625.6 L546.0,624.6 L546.5,625.3 L547.0,625.0 L547.5,625.4 L548.0,624.2 L548.5,624.9 L549.0,624.3 L549.5,624.1 L550.0,624.0 L550.5,623.8 L551.0,623.1 L551.5,623.4 L552.0,623.2 L552.5,622.4 L553.0,622.7 L553.5,622.3 L554.0,622.2 L554.5,621.9 L555.0,621.4 L555.5,621.3 L556.0,620.1 L556.5,619.0 L557.0,618.9 L557.5,617.5 L558.0,617.2 L558.5,616.1 L559.0,614.4 L559.5,613.5 L560.0,613.5 L560.5,611.5 L561.0,609.9 L561.5,609.2 L562.0,608.2 L562.5,607.5 L563.0,605.6 L563.5,605.0 L564.0,604.0 L564.5,603.1 L565.0,602.7 L565.5,601.7 L566.0,600.4 L566.5,600.3 L567.0,599.5 L567.5,599.3 L568.0,599.3 L568.5,598.3 L569.0,598.6 L569.5,598.2 L570.0,597.2 L570.5,596.3 L571.0,596.5 L571.5,595.5 L572.0,593.7 L572.5,592.9 L573.0,592.0 L573.5,591.6 L574.0,590.8 L574.5,591.0 L575.0,590.4 L575.5,590.2 L576.0,589.5 L576.5,589.7 L577.0,588.6 L577.5,588.9 L578.0,588.6 L578.5,588.2 L579.0,588.0 L579.5,587.6 L580.0,587.2 L580.5,587.7 L581.0,588.3 L581.5,587.8 L582.0,589.3 L582.5,588.7 L583.0,589.6 L583.5,589.3 L584.0,590.1 L584.5,589.9 L585.0,590.4 L585.5,590.6 L586.0,590.8 L586.5,591.1 L587.0,591.2 L587.5,591.5 L588.0,592.4 L588.5,592.3 L589.0,592.8 L589.5,593.4 L590.0,593.2 L590.5,593.3 L591.0,593.2 L591.5,592.9 L592.0,592.5 L592.5,592.1 L593.0,592.5 L593.5,593.1 L594.0,593.4 L594.5,594.5 L595.0,595.6 L595.5,596.6 L596.0,597.5 L596.5,598.0 L597.0,598.1 L597.5,598.3 L598.0,599.0 L598.5,599.1 L599.0,599.4 L599.5,600.3 L600.0,600.1 L600.5,600.3 L601.0,600.6 L601.5,599.9 L602.0,601.4 L602.5,601.1 L603.0,601.3 L603.5,600.8 L604.0,600.9 L604.5,601.2 L605.0,600.5 L605.5,599.6 L606.0,597.9 L606.5,596.2 L607.0,595.4 L607.5,593.7 L608.0,592.7 L608.5,592.3 L609.0,593.5 L609.5,593.2 L610.0,593.1 L610.5,594.3 L611.0,593.9 L611.5,595.4 L612.0,595.2 L612.5,595.7 L613.0,596.0 L613.5,596.2 L614.0,596.1 L614.5,596.9 L615.0,596.9 L615.5,596.6 L616.0,596.9 L616.5,596.7 L617.0,596.1 L617.5,596.2 L618.0,595.6 L618.5,595.1 L619.0,596.0 L619.5,595.6 L620.0,595.9 L620.5,595.7 L621.0,595.9 L621.5,596.1 L622.0,596.3 L622.5,596.4 L623.0,596.1 L623.5,596.7 L624.0,596.1 L624.5,596.9 L625.0,597.6 L625.5,597.8 L626.0,597.8 L626.5,597.3 L627.0,597.9 L627.5,597.6 L628.0,598.3 L628.5,598.1 L629.0,598.2 L629.5,598.6 L630.0,599.0 L630.5,598.3 L631.0,598.6 L631.5,598.8 L632.0,598.8 L632.5,598.5 L633.0,598.5 L633.5,597.9 L634.0,597.7 L634.5,596.9 L635.0,596.7 L635.5,595.4 L636.0,594.7 L636.5,594.4 L637.0,594.4 L637.5,594.1 L638.0,594.2 L638.5,594.1 L639.0,594.8 L639.5,595.3 L640.0,595.8 L640.5,595.2 L641.0,596.0 L641.5,596.1 L642.0,596.7 L642.5,596.6 L643.0,595.9 L643.5,596.4 L644.0,596.6 L644.5,596.6 L645.0,596.9 L645.5,597.0 L646.0,597.7 L646.5,598.0 L647.0,598.6 L647.5,598.9 L648.0,599.9 L648.5,600.9 L649.0,602.2 L649.5,603.6 L650.0,605.0 L650.5,607.6 L651.0,610.6 L651.5,612.9 L652.0,615.0 L652.5,616.8 L653.0,617.8 L653.5,618.7 L654.0,619.7 L654.5,620.1 L655.0,620.4 L655.5,621.1 L656.0,621.3 L656.5,621.5 L657.0,622.2 L657.5,622.5 L658.0,622.4 L658.5,622.4 L659.0,623.3 L659.5,622.9 L660.0,622.8 L660.5,623.2 L661.0,623.2 L661.5,622.3 L662.0,622.3 L662.5,622.4 L663.0,622.6 L663.5,621.9 L664.0,622.7 L664.5,622.5 L665.0,623.1 L665.5,622.8 L666.0,623.1 L666.5,623.4 L667.0,623.2 L667.5,623.2 L668.0,623.6 L668.5,623.4 L669.0,623.6 L669.5,624.0 L670.0,624.3 L670.5,624.6 L671.0,624.9 L671.5,624.4 L672.0,624.2 L672.5,625.0 L673.0,624.6 L673.5,624.5 L674.0,623.9 L674.5,624.0 L675.0,624.4" fill="none" stroke="#3a8dd0" stroke-width="1.5" stroke-linejoin="round" clip-path="url(#clj2)"/>
<path d="M507.0,623.8 L507.5,624.4 L508.0,623.9 L508.5,624.6 L509.0,624.0 L509.5,624.0 L510.0,624.4 L510.5,624.4 L511.0,624.4 L511.5,624.8 L512.0,624.9 L512.5,624.5 L513.0,625.1 L513.5,625.3 L514.0,625.4 L514.5,625.1 L515.0,625.1 L515.5,625.2 L516.0,625.4 L516.5,625.1 L517.0,625.0 L517.5,625.5 L518.0,625.6 L518.5,625.6 L519.0,625.3 L519.5,625.2 L520.0,625.6 L520.5,625.8 L521.0,625.9 L521.5,625.6 L522.0,625.3 L522.5,625.4 L523.0,625.6 L523.5,625.9 L524.0,625.3 L524.5,625.5 L525.0,625.5 L525.5,625.7 L526.0,625.6 L526.5,625.4 L527.0,625.9 L527.5,626.0 L528.0,625.9 L528.5,625.8 L529.0,625.9 L529.5,625.8 L530.0,625.7 L530.5,625.3 L531.0,625.7 L531.5,625.8 L532.0,625.6 L532.5,625.9 L533.0,625.7 L533.5,625.4 L534.0,626.0 L534.5,625.5 L535.0,625.8 L535.5,625.4 L536.0,625.4 L536.5,625.8 L537.0,625.5 L537.5,625.6 L538.0,625.6 L538.5,625.8 L539.0,626.1 L539.5,625.6 L540.0,625.7 L540.5,625.6 L541.0,626.1 L541.5,625.7 L542.0,625.4 L542.5,625.4 L543.0,625.9 L543.5,625.5 L544.0,625.9 L544.5,625.2 L545.0,625.6 L545.5,625.5 L546.0,625.6 L546.5,625.8 L547.0,626.1 L547.5,625.9 L548.0,626.2 L548.5,626.0 L549.0,626.2 L549.5,626.5 L550.0,626.7 L550.5,626.7 L551.0,627.3 L551.5,626.8 L552.0,626.9 L552.5,627.6 L553.0,627.6 L553.5,627.5 L554.0,628.3 L554.5,628.0 L555.0,628.8 L555.5,627.9 L556.0,628.3 L556.5,628.8 L557.0,629.1 L557.5,629.3 L558.0,628.8 L558.5,628.9 L559.0,628.9 L559.5,628.8 L560.0,628.4 L560.5,628.3 L561.0,627.7 L561.5,628.1 L562.0,627.2 L562.5,627.1 L563.0,626.6 L563.5,626.2 L564.0,625.6 L564.5,625.3 L565.0,624.8 L565.5,623.8 L566.0,623.5 L566.5,623.0 L567.0,622.1 L567.5,621.7 L568.0,621.0 L568.5,620.2 L569.0,619.0 L569.5,617.4 L570.0,617.5 L570.5,616.5 L571.0,615.3 L571.5,614.4 L572.0,613.3 L572.5,612.2 L573.0,611.7 L573.5,611.2 L574.0,610.3 L574.5,609.5 L575.0,608.8 L575.5,608.8 L576.0,608.3 L576.5,608.1 L577.0,607.6 L577.5,607.3 L578.0,607.1 L578.5,607.3 L579.0,607.3 L579.5,606.4 L580.0,606.4 L580.5,606.5 L581.0,606.9 L581.5,606.6 L582.0,607.2 L582.5,607.2 L583.0,607.3 L583.5,607.8 L584.0,607.6 L584.5,608.0 L585.0,608.8 L585.5,608.8 L586.0,608.9 L586.5,609.3 L587.0,609.5 L587.5,610.3 L588.0,610.3 L588.5,611.1 L589.0,611.5 L589.5,611.7 L590.0,612.6 L590.5,612.6 L591.0,613.1 L591.5,613.6 L592.0,613.6 L592.5,613.9 L593.0,614.7 L593.5,614.8 L594.0,615.1 L594.5,615.6 L595.0,616.4 L595.5,617.1 L596.0,616.9 L596.5,617.3 L597.0,617.7 L597.5,618.2 L598.0,618.3 L598.5,618.6 L599.0,619.2 L599.5,619.3 L600.0,619.4 L600.5,619.5 L601.0,619.4 L601.5,619.5 L602.0,619.4 L602.5,619.5 L603.0,619.2 L603.5,619.2 L604.0,619.1 L604.5,619.1 L605.0,619.3 L605.5,618.7 L606.0,618.3 L606.5,618.7 L607.0,618.4 L607.5,618.2 L608.0,617.4 L608.5,617.5 L609.0,617.7 L609.5,617.4 L610.0,617.2 L610.5,617.6 L611.0,617.1 L611.5,617.3 L612.0,617.6 L612.5,617.4 L613.0,617.5 L613.5,617.7 L614.0,617.7 L614.5,617.9 L615.0,618.3 L615.5,617.9 L616.0,618.2 L616.5,618.4 L617.0,618.6 L617.5,619.0 L618.0,619.4 L618.5,619.5 L619.0,620.0 L619.5,619.2 L620.0,619.5 L620.5,620.3 L621.0,619.6 L621.5,619.6 L622.0,619.4 L622.5,619.3 L623.0,619.7 L623.5,619.3 L624.0,619.0 L624.5,619.1 L625.0,619.1 L625.5,619.2 L626.0,619.2 L626.5,619.1 L627.0,619.0 L627.5,619.1 L628.0,619.0 L628.5,618.8 L629.0,619.1 L629.5,618.7 L630.0,619.1 L630.5,619.0 L631.0,619.7 L631.5,619.6 L632.0,619.6 L632.5,619.7 L633.0,620.2 L633.5,619.9 L634.0,620.6 L634.5,620.7 L635.0,620.6 L635.5,620.4 L636.0,620.6 L636.5,620.2 L637.0,619.8 L637.5,619.9 L638.0,620.4 L638.5,619.9 L639.0,619.8 L639.5,620.2 L640.0,619.9 L640.5,619.9 L641.0,619.7 L641.5,619.2 L642.0,619.4 L642.5,619.0 L643.0,619.6 L643.5,619.0 L644.0,619.7 L644.5,618.8 L645.0,618.8 L645.5,619.4 L646.0,618.8 L646.5,619.3 L647.0,619.5 L647.5,620.3 L648.0,619.9 L648.5,620.2 L649.0,620.5 L649.5,620.9 L650.0,621.1 L650.5,621.8 L651.0,622.0 L651.5,622.5 L652.0,622.5 L652.5,623.5 L653.0,623.7 L653.5,624.0 L654.0,624.5 L654.5,625.2 L655.0,624.4 L655.5,625.4 L656.0,625.0 L656.5,625.0 L657.0,625.1 L657.5,625.2 L658.0,624.6 L658.5,625.2 L659.0,624.6 L659.5,625.1 L660.0,624.7 L660.5,625.4 L661.0,624.2 L661.5,624.4 L662.0,624.7 L662.5,624.0 L663.0,624.2 L663.5,623.4 L664.0,623.4 L664.5,623.4 L665.0,623.6 L665.5,623.3 L666.0,623.7 L666.5,623.6 L667.0,623.0 L667.5,623.9 L668.0,624.1 L668.5,624.0 L669.0,624.0 L669.5,623.8 L670.0,623.8 L670.5,623.9 L671.0,624.0 L671.5,624.2 L672.0,624.5 L672.5,624.4 L673.0,624.0 L673.5,623.5 L674.0,623.7 L674.5,624.2 L675.0,623.9" fill="none" stroke="#48b248" stroke-width="1.5" stroke-linejoin="round" clip-path="url(#clj2)"/>
<line x1="571.90" y1="452.60" x2="571.90" y2="500.20" stroke="#111" stroke-width="0.9" stroke-dasharray="1.8,1.2"/>
<line x1="662.40" y1="452.60" x2="662.40" y2="500.20" stroke="#111" stroke-width="1.0" stroke-dasharray="3,1.8"/>
<line x1="572.60" y1="529.80" x2="572.60" y2="630.30" stroke="#111" stroke-width="0.9" stroke-dasharray="1.8,1.2"/>
<line x1="664.80" y1="529.80" x2="664.80" y2="630.30" stroke="#666" stroke-width="1.1" stroke-dasharray="3.8,2.4"/>
<rect x="505.60" y="452.60" width="171.80" height="47.60" fill="none" stroke="#222" stroke-width="1.0"/>
<line x1="507.62" y1="500.20" x2="507.62" y2="502.70" stroke="#222" stroke-width="0.9"/>
<line x1="525.88" y1="500.20" x2="525.88" y2="502.70" stroke="#222" stroke-width="0.9"/>
<line x1="544.14" y1="500.20" x2="544.14" y2="502.70" stroke="#222" stroke-width="0.9"/>
<line x1="562.40" y1="500.20" x2="562.40" y2="502.70" stroke="#222" stroke-width="0.9"/>
<line x1="580.66" y1="500.20" x2="580.66" y2="502.70" stroke="#222" stroke-width="0.9"/>
<line x1="598.92" y1="500.20" x2="598.92" y2="502.70" stroke="#222" stroke-width="0.9"/>
<line x1="617.18" y1="500.20" x2="617.18" y2="502.70" stroke="#222" stroke-width="0.9"/>
<line x1="635.44" y1="500.20" x2="635.44" y2="502.70" stroke="#222" stroke-width="0.9"/>
<line x1="653.70" y1="500.20" x2="653.70" y2="502.70" stroke="#222" stroke-width="0.9"/>
<line x1="671.96" y1="500.20" x2="671.96" y2="502.70" stroke="#222" stroke-width="0.9"/>
<rect x="505.60" y="529.80" width="171.80" height="47.30" fill="none" stroke="#222" stroke-width="1.0"/>
<line x1="507.62" y1="577.10" x2="507.62" y2="579.60" stroke="#222" stroke-width="0.9"/>
<line x1="525.88" y1="577.10" x2="525.88" y2="579.60" stroke="#222" stroke-width="0.9"/>
<line x1="544.14" y1="577.10" x2="544.14" y2="579.60" stroke="#222" stroke-width="0.9"/>
<line x1="562.40" y1="577.10" x2="562.40" y2="579.60" stroke="#222" stroke-width="0.9"/>
<line x1="580.66" y1="577.10" x2="580.66" y2="579.60" stroke="#222" stroke-width="0.9"/>
<line x1="598.92" y1="577.10" x2="598.92" y2="579.60" stroke="#222" stroke-width="0.9"/>
<line x1="617.18" y1="577.10" x2="617.18" y2="579.60" stroke="#222" stroke-width="0.9"/>
<line x1="635.44" y1="577.10" x2="635.44" y2="579.60" stroke="#222" stroke-width="0.9"/>
<line x1="653.70" y1="577.10" x2="653.70" y2="579.60" stroke="#222" stroke-width="0.9"/>
<line x1="671.96" y1="577.10" x2="671.96" y2="579.60" stroke="#222" stroke-width="0.9"/>
<rect x="505.60" y="582.70" width="171.80" height="47.60" fill="none" stroke="#222" stroke-width="1.0"/>
<line x1="507.62" y1="630.30" x2="507.62" y2="632.80" stroke="#222" stroke-width="0.9"/>
<line x1="525.88" y1="630.30" x2="525.88" y2="632.80" stroke="#222" stroke-width="0.9"/>
<line x1="544.14" y1="630.30" x2="544.14" y2="632.80" stroke="#222" stroke-width="0.9"/>
<line x1="562.40" y1="630.30" x2="562.40" y2="632.80" stroke="#222" stroke-width="0.9"/>
<line x1="580.66" y1="630.30" x2="580.66" y2="632.80" stroke="#222" stroke-width="0.9"/>
<line x1="598.92" y1="630.30" x2="598.92" y2="632.80" stroke="#222" stroke-width="0.9"/>
<line x1="617.18" y1="630.30" x2="617.18" y2="632.80" stroke="#222" stroke-width="0.9"/>
<line x1="635.44" y1="630.30" x2="635.44" y2="632.80" stroke="#222" stroke-width="0.9"/>
<line x1="653.70" y1="630.30" x2="653.70" y2="632.80" stroke="#222" stroke-width="0.9"/>
<line x1="671.96" y1="630.30" x2="671.96" y2="632.80" stroke="#222" stroke-width="0.9"/>
<line x1="503.00" y1="456.10" x2="505.60" y2="456.10" stroke="#222" stroke-width="0.9"/>
<line x1="503.00" y1="467.30" x2="505.60" y2="467.30" stroke="#222" stroke-width="0.9"/>
<line x1="503.00" y1="478.30" x2="505.60" y2="478.30" stroke="#222" stroke-width="0.9"/>
<line x1="503.00" y1="489.20" x2="505.60" y2="489.20" stroke="#222" stroke-width="0.9"/>
<line x1="503.00" y1="500.20" x2="505.60" y2="500.20" stroke="#222" stroke-width="0.9"/>
<text x="499.30" y="459.00" font-size="6.5" text-anchor="end">20</text>
<text x="499.30" y="481.20" font-size="6.5" text-anchor="end">10</text>
<text x="499.30" y="503.10" font-size="6.5" text-anchor="end">0</text>
<line x1="503.00" y1="534.60" x2="505.60" y2="534.60" stroke="#222" stroke-width="0.9"/>
<line x1="503.00" y1="548.50" x2="505.60" y2="548.50" stroke="#222" stroke-width="0.9"/>
<line x1="503.00" y1="563.00" x2="505.60" y2="563.00" stroke="#222" stroke-width="0.9"/>
<line x1="503.00" y1="577.10" x2="505.60" y2="577.10" stroke="#222" stroke-width="0.9"/>
<text x="499.30" y="537.50" font-size="6.5" text-anchor="end">15</text>
<text x="499.30" y="551.40" font-size="6.5" text-anchor="end">10</text>
<text x="499.30" y="565.90" font-size="6.5" text-anchor="end">5</text>
<text x="499.30" y="580.00" font-size="6.5" text-anchor="end">0</text>
<line x1="503.00" y1="586.10" x2="505.60" y2="586.10" stroke="#222" stroke-width="0.9"/>
<line x1="503.00" y1="597.10" x2="505.60" y2="597.10" stroke="#222" stroke-width="0.9"/>
<line x1="503.00" y1="608.20" x2="505.60" y2="608.20" stroke="#222" stroke-width="0.9"/>
<line x1="503.00" y1="619.20" x2="505.60" y2="619.20" stroke="#222" stroke-width="0.9"/>
<line x1="503.00" y1="630.20" x2="505.60" y2="630.20" stroke="#222" stroke-width="0.9"/>
<text x="499.30" y="589.00" font-size="6.5" text-anchor="end">20</text>
<text x="499.30" y="611.10" font-size="6.5" text-anchor="end">10</text>
<text x="499.30" y="633.10" font-size="6.5" text-anchor="end">0</text>
<text x="507.62" y="511.00" font-size="6.3" text-anchor="middle">−3</text>
<text x="507.62" y="642.20" font-size="6.3" text-anchor="middle">−3</text>
<text x="525.88" y="511.00" font-size="6.3" text-anchor="middle">−2</text>
<text x="525.88" y="642.20" font-size="6.3" text-anchor="middle">−2</text>
<text x="544.14" y="511.00" font-size="6.3" text-anchor="middle">−1</text>
<text x="544.14" y="642.20" font-size="6.3" text-anchor="middle">−1</text>
<text x="562.40" y="511.00" font-size="6.3" text-anchor="middle">0</text>
<text x="562.40" y="642.20" font-size="6.3" text-anchor="middle">0</text>
<text x="580.66" y="511.00" font-size="6.3" text-anchor="middle">+1</text>
<text x="580.66" y="642.20" font-size="6.3" text-anchor="middle">+1</text>
<text x="598.92" y="511.00" font-size="6.3" text-anchor="middle">+2</text>
<text x="598.92" y="642.20" font-size="6.3" text-anchor="middle">+2</text>
<text x="617.18" y="511.00" font-size="6.3" text-anchor="middle">+3</text>
<text x="617.18" y="642.20" font-size="6.3" text-anchor="middle">+3</text>
<text x="635.44" y="511.00" font-size="6.3" text-anchor="middle">+4</text>
<text x="635.44" y="642.20" font-size="6.3" text-anchor="middle">+4</text>
<text x="653.70" y="511.00" font-size="6.3" text-anchor="middle">+5</text>
<text x="653.70" y="642.20" font-size="6.3" text-anchor="middle">+5</text>
<text x="671.96" y="511.00" font-size="6.3" text-anchor="middle">+6</text>
<text x="671.96" y="642.20" font-size="6.3" text-anchor="middle">+6</text>
<text x="486.20" y="476.50" font-size="6.5" text-anchor="middle" transform="rotate(-90 486.20 476.50)">ChIP–seq (RPGC)</text>
<text x="486.20" y="581.40" font-size="6.5" text-anchor="middle" transform="rotate(-90 486.20 581.40)">ChIP–seq (RPGC)</text>
<text x="591.50" y="653.00" font-size="6.5" text-anchor="middle">Distance from the border of OSK nuc. array (kb)</text>
<text x="571.60" y="444.70" font-size="6.5" text-anchor="middle">Near border</text>
<text x="662.40" y="444.70" font-size="6.5" text-anchor="middle">Far border</text>
<path d="M570.15,449.00 L573.65,449.00 L571.90,452.40 Z" fill="#1a1a1a"/>
<line x1="571.90" y1="447.10" x2="571.90" y2="450.40" stroke="#1a1a1a" stroke-width="0.7"/>
<path d="M660.65,449.00 L664.15,449.00 L662.40,452.40 Z" fill="#1a1a1a"/>
<line x1="662.40" y1="447.10" x2="662.40" y2="450.40" stroke="#1a1a1a" stroke-width="0.7"/>
<text x="527.00" y="527.00" font-size="6.5">OCT4–GFP secondary OSKM model (ref. 10)</text>
<line x1="506.00" y1="530.00" x2="677.00" y2="530.00" stroke="#333" stroke-width="0.01"/>
<text x="510.10" y="540.80" font-size="6.5">SSEA1<tspan font-size="4.8" dy="-2.6">+</tspan></text>
<text x="510.10" y="548.50" font-size="6.5">cells</text>
<text x="510.10" y="593.10" font-size="6.5">THY1<tspan font-size="4.8" dy="-2.6">+</tspan></text>
<text x="510.10" y="601.60" font-size="6.5">cells</text>
<line x1="641.60" y1="460.20" x2="649.40" y2="460.20" stroke="#3a8dd0" stroke-width="1.6"/>
<text x="653.20" y="462.50" font-size="6.5">O</text>
<line x1="641.60" y1="468.50" x2="649.40" y2="468.50" stroke="#48b248" stroke-width="1.6"/>
<text x="653.20" y="470.80" font-size="6.5">S</text>
<line x1="641.60" y1="476.60" x2="649.40" y2="476.60" stroke="#9b4db0" stroke-width="1.6"/>
<text x="653.20" y="478.90" font-size="6.5">K</text>
<line x1="642.30" y1="538.40" x2="650.30" y2="538.40" stroke="#3a8dd0" stroke-width="1.6"/>
<text x="654.00" y="540.70" font-size="6.5">O</text>
<line x1="642.30" y1="546.40" x2="650.30" y2="546.40" stroke="#48b248" stroke-width="1.6"/>
<text x="654.00" y="548.70" font-size="6.5">S</text>
<line x1="647.80" y1="587.80" x2="655.70" y2="587.80" stroke="#3a8dd0" stroke-width="1.6"/>
<text x="658.70" y="590.10" font-size="6.5">O</text>
<line x1="647.80" y1="596.20" x2="655.70" y2="596.20" stroke="#48b248" stroke-width="1.6"/>
<text x="658.70" y="598.50" font-size="6.5">S</text></svg>
</body></html>
